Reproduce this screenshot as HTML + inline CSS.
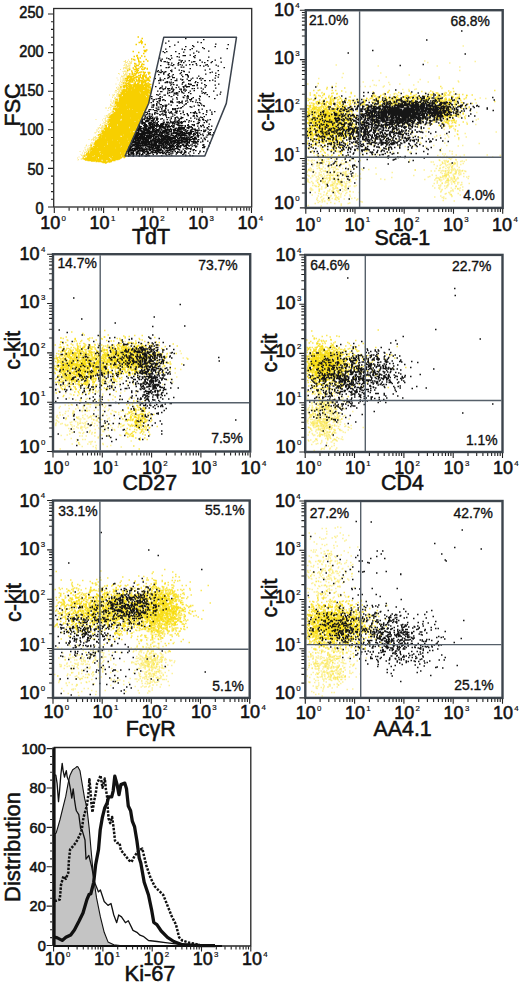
<!DOCTYPE html><html><head><meta charset="utf-8"><style>html,body{margin:0;padding:0;background:#fff;}svg{display:block;}text{font-family:"Liberation Sans", sans-serif;fill:#111;stroke:#111;stroke-width:0.55px;}</style></head><body><svg width="520" height="983" viewBox="0 0 520 983" font-size="17.5"><rect width="520" height="983" fill="#fff"/><g transform="scale(0.5)" fill="none"><path d="M275 74h3m5 3h3m-5 4h3m-4 3h3m0 0h3m-9 1h3m2 2h3m-14 2h3m15 0h3m-6 5h3m3 6h3m-8 1h3m-3 0h3m-1 0h3m-27 2h3m20 0h3m-1 0h3m-17 2h3m7 2h3m-16 4h3m-3 0h3m-4 1h3m7 0h3m-18 1h3m18 0h3m-17 2h3m-3 1h3m2 0h3m-20 2h3m10 0h3m-12 1h3m22 0h3m-26 1h3m5 1h3m15 1h3m-21 1h3m7 0h3m-12 1h3m0 0h3m-15 3h3m-2 1h3m-2 0h3m4 0h3m3 0h3m0 1h3m-7 1h3m-13 1h3m0 0h3m-10 1h3m-2 1h3m9 0h3m-14 1h3m6 0h3m2 0h3m-22 2h3m20 0h3m-2 0h3m-21 1h3m2 0h3m14 0h3m-23 1h3m6 0h3m2 0h3m3 0h3m-38 1h3m6 0h3m0 0h3m11 0h3m-33 2h3m15 0h3m0 0h3m-16 1h3m4 1h3m1 1h3m5 0h3m1 0h3m-25 1h3m6 0h3m3 0h3m5 0h3m0 0h3m3 0h3m-1 0h3m-25 1h3m20 0h3m-3 0h3m-38 1h3m1 0h3m1 0h3m13 0h3m6 0h3m-41 1h3m9 0h3m14 0h3m6 0h3m-36 1h3m-2 0h3m13 0h3m-14 1h3m14 0h3m2 0h3m-28 1h3m7 0h3m0 0h3m2 0h3m-2 0h3m-32 1h3m-1 0h3m27 0h3m-2 0h3m-38 1h3m3 0h3m-1 0h3m-3 0h3m0 0h3m4 0h3m11 0h3m9 0h3m-44 1h3m11 0h3m0 0h3m2 0h3m2 0h3m3 0h3m-2 0h3m-35 1h3m0 0h3m2 0h3m0 0h3m-2 0h3m5 0h3m8 0h3m-3 0h3m6 0h3m-49 1h3m-1 0h3m1 0h3m-3 0h3m6 0h3m6 0h3m2 0h3m0 0h3m3 0h3m1 0h3m-48 1h3m13 0h3m7 0h3m-3 0h3m-3 0h3m4 0h3m8 0h3m-44 1h3m4 0h3m0 0h3m0 0h3m8 0h3m5 0h3m8 0h3m-41 1h3m4 0h3m3 0h3m-3 0h3m12 0h3m5 0h3m-1 0h3m-38 1h3m-3 0h3m0 0h3m-3 0h3m-2 0h3m4 0h3m1 0h3m12 0h3m-2 0h3m-1 0h3m-46 1h3m-1 0h3m0 0h3m0 0h3m1 0h3m1 0h3m9 0h3m-2 0h3m0 0h3m1 0h3m0 0h3m-2 0h3m1 0h3m-1 0h3m-28 1h3m-1 0h3m-2 0h3m-1 0h3m9 0h3m6 0h3m-49 1h3m4 0h3m15 0h3m1 0h3m-2 0h3m0 0h3m2 0h3m-36 1h3m-1 0h3m0 0h3m-1 0h3m2 0h3m-3 0h3m5 0h3m1 0h3m-2 0h3m3 0h3m-6 1h3m1 0h3m-46 1h3m1 0h3m3 0h3m16 0h3m4 0h3m4 0h3m3 0h3m-44 1h3m-2 0h3m9 0h3m-2 0h3m-2 0h3m2 0h3m-3 0h3m-1 0h3m4 0h3m-2 0h3m5 0h3m-44 1h3m3 0h3m-2 0h3m-3 0h3m6 0h3m-1 0h3m3 0h3m-2 0h3m5 0h3m-3 0h3m10 0h3m-44 1h3m0 0h3m-3 0h3m5 0h3m0 0h3m0 0h3m-1 0h3m3 0h3m-2 0h3m3 0h3m-2 0h3m-3 0h3m-1 0h3m6 0h3m-52 1h3m3 0h3m-3 0h3m-2 0h3m1 0h3m-1 0h3m-3 0h3m-1 0h3m0 0h3m0 0h3m0 0h3m-2 0h3m-2 0h3m0 0h3m-2 0h3m0 0h3m5 0h3m-1 0h3m0 0h3m-52 1h3m1 0h3m-2 0h3m1 0h3m0 0h3m-2 0h3m5 0h3m-2 0h3m-2 0h3m-2 0h3m-2 0h3m-2 0h3m0 0h3m1 0h3m3 0h3m3 0h3m-2 0h3m-1 0h3m-53 1h3m-1 0h3m-2 0h3m0 0h3m6 0h3m2 0h3m-1 0h3m-3 0h3m9 0h3m-2 0h3m-3 0h3m6 0h3m-3 0h3m1 0h3m-3 0h3m-1 0h3m-47 1h3m1 0h3m-2 0h3m13 0h3m0 0h3m3 0h3m0 0h3m2 0h3m-53 1h3m3 0h3m9 0h3m-3 0h3m-2 0h3m-2 0h3m1 0h3m1 0h3m0 0h3m-2 0h3m3 0h3m0 0h3m7 0h3m-1 0h3m0 0h3m-3 0h3m-2 0h3m-1 0h3m-55 1h3m1 0h3m-2 0h3m-2 0h3m7 0h3m-1 0h3m-3 0h3m6 0h3m1 0h3m0 0h3m0 0h3m-1 0h3m-1 0h3m-2 0h3m4 0h3m0 0h3m-49 1h3m-2 0h3m4 0h3m6 0h3m-1 0h3m1 0h3m3 0h3m1 0h3m2 0h3m5 0h3m-50 1h3m1 0h3m-2 0h3m0 0h3m0 0h3m17 0h3m-1 0h3m-1 0h3m0 0h3m-40 1h3m0 0h3m3 0h3m1 0h3m-1 0h3m-2 0h3m-3 0h3m3 0h3m-2 0h3m-2 0h3m-2 0h3m0 0h3m-1 0h3m-1 0h3m6 0h3m2 0h3m-1 0h3m-59 1h3m0 0h3m1 0h3m5 0h3m5 0h3m1 0h3m0 0h3m4 0h3m-2 0h3m-2 0h3m0 0h3m-1 0h3m-3 0h3m0 0h3m-2 0h3m-2 0h3m-2 0h3m2 0h3m-3 0h3m-54 1h3m-1 0h3m2 0h3m-2 0h3m-3 0h3m4 0h3m4 0h3m-2 0h3m-1 0h3m-2 0h3m-3 0h3m4 0h3m-2 0h3m3 0h3m8 0h3m-54 1h3m-2 0h3m7 0h3m3 0h3m-3 0h3m-2 0h3m-3 0h3m0 0h3m0 0h3m2 0h3m-1 0h3m-3 0h3m-2 0h3m6 0h3m3 0h3m-2 0h3m-2 0h3m0 0h3m-61 1h3m0 0h3m0 0h3m-3 0h3m-2 0h3m-2 0h3m0 0h3m1 0h3m-1 0h3m0 0h3m1 0h3m0 0h3m2 0h3m-3 0h3m0 0h3m-3 0h3m-2 0h3m-2 0h3m-2 0h3m-1 0h3m5 0h3m-3 0h3m-2 0h3m0 0h3m-3 0h3m-3 0h3m1 0h3m-55 1h3m-1 0h3m1 0h3m-2 0h3m-3 0h3m-2 0h3m-1 0h3m5 0h3m2 0h3m1 0h3m7 0h3m-1 0h3m-1 0h3m0 0h3m-2 0h3m-2 0h3m-3 0h3m4 0h3m-58 1h3m-2 0h3m4 0h3m-2 0h3m2 0h3m-2 0h3m-2 0h3m-2 0h3m3 0h3m0 0h3m-3 0h3m5 0h3m-2 0h3m-2 0h3m-2 0h3m1 0h3m-3 0h3m5 0h3m3 0h3m-3 0h3m-60 1h3m1 0h3m2 0h3m-1 0h3m-2 0h3m7 0h3m0 0h3m-1 0h3m0 0h3m-3 0h3m-1 0h3m7 0h3m-2 0h3m0 0h3m-1 0h3m0 0h3m0 0h3m-59 1h3m7 0h3m0 0h3m-3 0h3m0 0h3m1 0h3m-1 0h3m-1 0h3m-1 0h3m-1 0h3m0 0h3m0 0h3m-1 0h3m3 0h3m-2 0h3m-3 0h3m-1 0h3m-2 0h3m4 0h3m-2 0h3m-2 0h3m1 0h3m-59 1h3m-2 0h3m-2 0h3m-2 0h3m0 0h3m4 0h3m-2 0h3m3 0h3m1 0h3m-1 0h3m-2 0h3m-2 0h3m-1 0h3m-3 0h3m-3 0h3m-1 0h3m3 0h3m4 0h3m-3 0h3m-2 0h3m-2 0h3m-2 0h3m4 0h3m-3 0h3m-61 1h3m-1 0h3m-2 0h3m0 0h3m-2 0h3m-2 0h3m-3 0h3m-3 0h3m-1 0h3m-2 0h3m-2 0h3m0 0h3m-1 0h3m-3 0h3m-2 0h3m0 0h3m-3 0h3m-1 0h3m-1 0h3m-1 0h3m-2 0h3m4 0h3m-2 0h3m-3 0h3m-1 0h3m1 0h3m-2 0h3m4 0h3m-2 0h3m-50 1h3m-2 0h3m-1 0h3m0 0h3m1 0h3m-2 0h3m1 0h3m3 0h3m-1 0h3m-2 0h3m-2 0h3m-3 0h3m-2 0h3m0 0h3m-1 0h3m-2 0h3m-3 0h3m0 0h3m-2 0h3m0 0h3m-2 0h3m-3 0h3m-2 0h3m-2 0h3m0 0h3m0 0h3m-59 1h3m-1 0h3m-1 0h3m-3 0h3m3 0h3m0 0h3m-2 0h3m-3 0h3m-2 0h3m-2 0h3m0 0h3m-1 0h3m-1 0h3m1 0h3m-1 0h3m-2 0h3m1 0h3m0 0h3m0 0h3m1 0h3m-2 0h3m-1 0h3m0 0h3m2 0h3m-3 0h3m0 0h3m-3 0h3m1 0h3m-64 1h3m5 0h3m-2 0h3m-2 0h3m0 0h3m0 0h3m0 0h3m-3 0h3m0 0h3m0 0h3m-3 0h3m-1 0h3m3 0h3m-3 0h3m-2 0h3m2 0h3m0 0h3m9 0h3m-1 0h3m-60 1h3m-3 0h3m-2 0h3m-1 0h3m4 0h3m-2 0h3m0 0h3m-3 0h3m-3 0h3m1 0h3m-2 0h3m4 0h3m-1 0h3m1 0h3m-1 0h3m-1 0h3m2 0h3m-2 0h3m-2 0h3m-3 0h3m-3 0h3m-3 0h3m-1 0h3m-2 0h3m2 0h3m3 0h3m0 0h3m-62 1h3m4 0h3m0 0h3m-1 0h3m1 0h3m-3 0h3m-2 0h3m1 0h3m-2 0h3m-2 0h3m-1 0h3m-3 0h3m-3 0h3m-2 0h3m-2 0h3m-1 0h3m-3 0h3m-3 0h3m-2 0h3m-1 0h3m0 0h3m-3 0h3m0 0h3m-3 0h3m4 0h3m-3 0h3m-1 0h3m1 0h3m3 0h3m1 0h3m-62 1h3m-2 0h3m-2 0h3m0 0h3m-1 0h3m-3 0h3m-2 0h3m4 0h3m-2 0h3m-1 0h3m3 0h3m1 0h3m-2 0h3m0 0h3m-3 0h3m-2 0h3m-2 0h3m1 0h3m-2 0h3m-2 0h3m-1 0h3m-3 0h3m1 0h3m-3 0h3m8 0h3m-61 1h3m-2 0h3m3 0h3m1 0h3m-1 0h3m-1 0h3m-1 0h3m-2 0h3m0 0h3m-2 0h3m-3 0h3m-1 0h3m0 0h3m-3 0h3m-2 0h3m-3 0h3m0 0h3m0 0h3m-3 0h3m-2 0h3m-1 0h3m-1 0h3m-3 0h3m1 0h3m-1 0h3m-1 0h3m-1 0h3m2 0h3m-2 0h3m-2 0h3m-3 0h3m-2 0h3m-2 0h3m-60 1h3m-1 0h3m3 0h3m-1 0h3m-2 0h3m-3 0h3m-3 0h3m-2 0h3m-2 0h3m-2 0h3m-2 0h3m2 0h3m0 0h3m-3 0h3m-1 0h3m-3 0h3m-2 0h3m-2 0h3m-1 0h3m-2 0h3m0 0h3m-3 0h3m-2 0h3m-1 0h3m-2 0h3m-3 0h3m-1 0h3m-2 0h3m-3 0h3m4 0h3m-3 0h3m1 0h3m1 0h3m-1 0h3m-62 1h3m-2 0h3m-3 0h3m-1 0h3m-3 0h3m-1 0h3m-2 0h3m2 0h3m-2 0h3m-3 0h3m-1 0h3m-2 0h3m-3 0h3m-1 0h3m-2 0h3m-3 0h3m0 0h3m-2 0h3m-2 0h3m-3 0h3m-1 0h3m2 0h3m-2 0h3m-2 0h3m-2 0h3m1 0h3m-3 0h3m-1 0h3m3 0h3m2 0h3m5 0h3m-3 0h3m-60 1h3m0 0h3m1 0h3m-3 0h3m0 0h3m-2 0h3m2 0h3m-3 0h3m-1 0h3m-1 0h3m-1 0h3m6 0h3m2 0h3m-3 0h3m-2 0h3m-1 0h3m-3 0h3m-2 0h3m-2 0h3m0 0h3m-3 0h3m-1 0h3m-2 0h3m0 0h3m-3 0h3m-2 0h3m-1 0h3m-3 0h3m-2 0h3m0 0h3m-68 1h3m4 0h3m-2 0h3m-1 0h3m5 0h3m-2 0h3m-2 0h3m1 0h3m-3 0h3m-2 0h3m1 0h3m-2 0h3m-2 0h3m-2 0h3m0 0h3m-3 0h3m-1 0h3m-3 0h3m-2 0h3m-1 0h3m-1 0h3m-3 0h3m-1 0h3m-3 0h3m0 0h3m-3 0h3m-2 0h3m-3 0h3m5 0h3m-3 0h3m0 0h3m-3 0h3m-1 0h3m-1 0h3m0 0h3m-67 1h3m4 0h3m-2 0h3m-1 0h3m0 0h3m-3 0h3m-1 0h3m-1 0h3m0 0h3m-1 0h3m-3 0h3m-2 0h3m-1 0h3m0 0h3m-1 0h3m-3 0h3m0 0h3m-1 0h3m10 0h3m-3 0h3m-1 0h3m-2 0h3m-3 0h3m-2 0h3m0 0h3m-3 0h3m-2 0h3m-2 0h3m-2 0h3m-3 0h3m-2 0h3m-2 0h3m1 0h3m-57 1h3m-2 0h3m-1 0h3m2 0h3m-3 0h3m-3 0h3m2 0h3m2 0h3m-2 0h3m-2 0h3m-2 0h3m4 0h3m1 0h3m-2 0h3m2 0h3m0 0h3m0 0h3m-1 0h3m-1 0h3m-1 0h3m0 0h3m-62 1h3m-1 0h3m-1 0h3m1 0h3m-2 0h3m-3 0h3m-1 0h3m-3 0h3m0 0h3m-3 0h3m-2 0h3m-1 0h3m-1 0h3m-2 0h3m6 0h3m3 0h3m-2 0h3m-1 0h3m0 0h3m-3 0h3m1 0h3m-2 0h3m-3 0h3m-2 0h3m-3 0h3m4 0h3m-3 0h3m-3 0h3m-2 0h3m-1 0h3m-58 1h3m1 0h3m-3 0h3m-2 0h3m-2 0h3m-1 0h3m-3 0h3m-2 0h3m-2 0h3m-2 0h3m-3 0h3m-2 0h3m-2 0h3m4 0h3m1 0h3m-2 0h3m-2 0h3m-3 0h3m1 0h3m-3 0h3m1 0h3m-2 0h3m-2 0h3m-3 0h3m-2 0h3m0 0h3m-3 0h3m-2 0h3m-3 0h3m0 0h3m-1 0h3m-2 0h3m-2 0h3m0 0h3m-3 0h3m-2 0h3m-1 0h3m-3 0h3m-66 1h3m0 0h3m1 0h3m-2 0h3m0 0h3m-2 0h3m1 0h3m-2 0h3m-3 0h3m0 0h3m-2 0h3m-2 0h3m-1 0h3m0 0h3m-1 0h3m-1 0h3m-3 0h3m-1 0h3m-1 0h3m-2 0h3m0 0h3m-2 0h3m1 0h3m0 0h3m0 0h3m4 0h3m3 0h3m-3 0h3m-2 0h3m-2 0h3m-63 1h3m-1 0h3m0 0h3m-3 0h3m-3 0h3m-2 0h3m-3 0h3m-3 0h3m1 0h3m-1 0h3m2 0h3m-3 0h3m-2 0h3m0 0h3m-1 0h3m-2 0h3m-2 0h3m-2 0h3m-1 0h3m-3 0h3m-2 0h3m-2 0h3m-3 0h3m-2 0h3m-1 0h3m-2 0h3m-2 0h3m-2 0h3m-3 0h3m0 0h3m-3 0h3m-2 0h3m-3 0h3m1 0h3m-3 0h3m-1 0h3m-2 0h3m0 0h3m-2 0h3m-3 0h3m-3 0h3m1 0h3m-3 0h3m-3 0h3m1 0h3m-1 0h3m-67 1h3m4 0h3m-2 0h3m-1 0h3m-1 0h3m-2 0h3m-2 0h3m-2 0h3m-2 0h3m-2 0h3m-1 0h3m0 0h3m-3 0h3m0 0h3m-3 0h3m-2 0h3m1 0h3m-1 0h3m-2 0h3m-1 0h3m-2 0h3m-2 0h3m-2 0h3m-1 0h3m-2 0h3m-1 0h3m-3 0h3m0 0h3m-2 0h3m-2 0h3m-3 0h3m-2 0h3m-3 0h3m0 0h3m1 0h3m3 0h3m-1 0h3m-3 0h3m-69 1h3m1 0h3m0 0h3m-2 0h3m-3 0h3m-1 0h3m-2 0h3m-3 0h3m-2 0h3m-2 0h3m2 0h3m0 0h3m-1 0h3m-2 0h3m-2 0h3m0 0h3m0 0h3m-1 0h3m-2 0h3m3 0h3m0 0h3m-3 0h3m-2 0h3m-2 0h3m-1 0h3m0 0h3m-3 0h3m-2 0h3m-2 0h3m-3 0h3m3 0h3m-3 0h3m-1 0h3m-2 0h3m0 0h3m-61 1h3m-3 0h3m1 0h3m-3 0h3m0 0h3m1 0h3m-2 0h3m-3 0h3m0 0h3m-1 0h3m-2 0h3m3 0h3m-1 0h3m-3 0h3m-1 0h3m-3 0h3m-1 0h3m-3 0h3m-1 0h3m2 0h3m-3 0h3m-2 0h3m1 0h3m1 0h3m0 0h3m-3 0h3m-1 0h3m-2 0h3m-3 0h3m-2 0h3m-3 0h3m-2 0h3m0 0h3m-2 0h3m-63 1h3m-2 0h3m0 0h3m1 0h3m-3 0h3m-2 0h3m-3 0h3m-2 0h3m-2 0h3m-2 0h3m-1 0h3m-2 0h3m-3 0h3m1 0h3m-1 0h3m-1 0h3m1 0h3m-3 0h3m-1 0h3m-2 0h3m-2 0h3m-2 0h3m-1 0h3m-3 0h3m-1 0h3m2 0h3m-3 0h3m-2 0h3m-2 0h3m1 0h3m-1 0h3m-3 0h3m-2 0h3m-2 0h3m0 0h3m-2 0h3m-2 0h3m-1 0h3m-1 0h3m-65 1h3m-1 0h3m-3 0h3m-3 0h3m6 0h3m-2 0h3m0 0h3m-3 0h3m-1 0h3m-3 0h3m1 0h3m-1 0h3m-2 0h3m-3 0h3m1 0h3m0 0h3m-3 0h3m1 0h3m0 0h3m5 0h3m-2 0h3m1 0h3m6 0h3m-57 1h3m-2 0h3m1 0h3m-2 0h3m1 0h3m-2 0h3m4 0h3m-1 0h3m-1 0h3m-2 0h3m-2 0h3m0 0h3m-1 0h3m-1 0h3m-1 0h3m-2 0h3m-3 0h3m-2 0h3m-3 0h3m-1 0h3m-3 0h3m-3 0h3m-1 0h3m2 0h3m-2 0h3m-1 0h3m-2 0h3m-2 0h3m2 0h3m-3 0h3m-60 1h3m-2 0h3m0 0h3m-3 0h3m-3 0h3m-1 0h3m0 0h3m-1 0h3m-3 0h3m-2 0h3m-1 0h3m-2 0h3m-2 0h3m0 0h3m-2 0h3m-3 0h3m-2 0h3m3 0h3m-3 0h3m-1 0h3m-2 0h3m-1 0h3m-2 0h3m-3 0h3m-2 0h3m-3 0h3m-2 0h3m1 0h3m0 0h3m-2 0h3m0 0h3m-2 0h3m3 0h3m0 0h3m-2 0h3m-66 1h3m1 0h3m-1 0h3m-2 0h3m-2 0h3m-2 0h3m-1 0h3m-3 0h3m-1 0h3m-3 0h3m-2 0h3m-1 0h3m-1 0h3m-2 0h3m2 0h3m-1 0h3m-3 0h3m-2 0h3m-1 0h3m-3 0h3m-2 0h3m-1 0h3m-1 0h3m-1 0h3m-2 0h3m-2 0h3m-1 0h3m-3 0h3m-2 0h3m-3 0h3m4 0h3m-2 0h3m-2 0h3m-3 0h3m-2 0h3m-3 0h3m2 0h3m-1 0h3m-57 1h3m-3 0h3m1 0h3m1 0h3m1 0h3m0 0h3m-2 0h3m-1 0h3m0 0h3m-2 0h3m-2 0h3m1 0h3m-2 0h3m0 0h3m-1 0h3m0 0h3m0 0h3m-2 0h3m0 0h3m-2 0h3m-3 0h3m-1 0h3m0 0h3m-2 0h3m-3 0h3m-2 0h3m0 0h3m-1 0h3m-2 0h3m-1 0h3m-58 1h3m-2 0h3m2 0h3m0 0h3m-3 0h3m0 0h3m0 0h3m-3 0h3m4 0h3m0 0h3m-2 0h3m-1 0h3m0 0h3m0 0h3m-2 0h3m-2 0h3m1 0h3m-1 0h3m-2 0h3m0 0h3m1 0h3m-1 0h3m-51 1h3m-2 0h3m-1 0h3m3 0h3m-2 0h3m-3 0h3m-2 0h3m-2 0h3m-3 0h3m-2 0h3m-2 0h3m-2 0h3m-2 0h3m-3 0h3m-2 0h3m-2 0h3m5 0h3m0 0h3m-1 0h3m-2 0h3m-3 0h3m-2 0h3m-2 0h3m-1 0h3m-1 0h3m-3 0h3m-1 0h3m7 0h3m-2 0h3m-69 1h3m0 0h3m-1 0h3m1 0h3m-2 0h3m-2 0h3m-3 0h3m0 0h3m1 0h3m-3 0h3m7 0h3m-2 0h3m-3 0h3m4 0h3m0 0h3m-1 0h3m-3 0h3m-2 0h3m1 0h3m-1 0h3m-3 0h3m-2 0h3m-1 0h3m-2 0h3m-3 0h3m-3 0h3m-1 0h3m-3 0h3m1 0h3m-2 0h3m-3 0h3m0 0h3m-3 0h3m-2 0h3m-2 0h3m-3 0h3m-67 1h3m0 0h3m-2 0h3m-2 0h3m-3 0h3m0 0h3m1 0h3m-2 0h3m-1 0h3m-3 0h3m-3 0h3m-1 0h3m-2 0h3m-3 0h3m-2 0h3m0 0h3m9 0h3m-3 0h3m4 0h3m-2 0h3m-3 0h3m-3 0h3m-1 0h3m1 0h3m-2 0h3m1 0h3m-1 0h3m-1 0h3m0 0h3m0 0h3m-2 0h3m-60 1h3m-1 0h3m0 0h3m-1 0h3m3 0h3m-2 0h3m1 0h3m11 0h3m-1 0h3m-2 0h3m7 0h3m-1 0h3m0 0h3m-3 0h3m-2 0h3m-3 0h3m-2 0h3m-2 0h3m-3 0h3m-2 0h3m0 0h3m-62 1h3m-2 0h3m2 0h3m-2 0h3m0 0h3m-2 0h3m-2 0h3m-1 0h3m-2 0h3m-3 0h3m-3 0h3m1 0h3m-2 0h3m-2 0h3m-3 0h3m1 0h3m-1 0h3m-3 0h3m0 0h3m-3 0h3m1 0h3m3 0h3m1 0h3m-3 0h3m0 0h3m-3 0h3m-2 0h3m-1 0h3m0 0h3m0 0h3m-60 1h3m-1 0h3m0 0h3m-2 0h3m-2 0h3m-2 0h3m-3 0h3m-2 0h3m-1 0h3m-2 0h3m2 0h3m-2 0h3m-2 0h3m-2 0h3m-2 0h3m-2 0h3m0 0h3m-3 0h3m-2 0h3m1 0h3m-3 0h3m-2 0h3m-1 0h3m-2 0h3m-1 0h3m0 0h3m-3 0h3m-2 0h3m-3 0h3m-2 0h3m-1 0h3m-2 0h3m-1 0h3m1 0h3m0 0h3m-1 0h3m-2 0h3m0 0h3m-3 0h3m-60 1h3m0 0h3m-1 0h3m-2 0h3m-1 0h3m-1 0h3m-2 0h3m0 0h3m-2 0h3m-2 0h3m0 0h3m0 0h3m0 0h3m-2 0h3m-1 0h3m-2 0h3m-1 0h3m-2 0h3m-2 0h3m-3 0h3m-2 0h3m-3 0h3m-3 0h3m0 0h3m-3 0h3m-2 0h3m-2 0h3m-3 0h3m1 0h3m-2 0h3m-3 0h3m-2 0h3m2 0h3m-1 0h3m1 0h3m-66 1h3m3 0h3m-2 0h3m0 0h3m-1 0h3m-1 0h3m-1 0h3m2 0h3m-3 0h3m-2 0h3m-3 0h3m-1 0h3m1 0h3m-1 0h3m2 0h3m-3 0h3m-2 0h3m-2 0h3m0 0h3m-1 0h3m0 0h3m-1 0h3m-1 0h3m1 0h3m-1 0h3m-2 0h3m-3 0h3m-3 0h3m-1 0h3m2 0h3m-58 1h3m-1 0h3m-2 0h3m-2 0h3m0 0h3m-2 0h3m-3 0h3m-2 0h3m-3 0h3m-2 0h3m0 0h3m-3 0h3m1 0h3m-2 0h3m-2 0h3m2 0h3m-2 0h3m-2 0h3m-1 0h3m-1 0h3m-3 0h3m-1 0h3m-2 0h3m-2 0h3m5 0h3m-1 0h3m1 0h3m4 0h3m-64 1h3m-2 0h3m-2 0h3m-2 0h3m0 0h3m-3 0h3m-3 0h3m-2 0h3m0 0h3m-2 0h3m-2 0h3m1 0h3m-3 0h3m-1 0h3m-3 0h3m-1 0h3m-3 0h3m-2 0h3m1 0h3m-1 0h3m-1 0h3m-1 0h3m0 0h3m-2 0h3m-3 0h3m1 0h3m1 0h3m3 0h3m-3 0h3m-2 0h3m-1 0h3m-1 0h3m-2 0h3m-3 0h3m-2 0h3m1 0h3m-58 1h3m-3 0h3m-1 0h3m0 0h3m1 0h3m-1 0h3m6 0h3m1 0h3m-2 0h3m-2 0h3m-2 0h3m2 0h3m0 0h3m-3 0h3m-2 0h3m-2 0h3m3 0h3m1 0h3m-1 0h3m1 0h3m-58 1h3m1 0h3m-1 0h3m2 0h3m0 0h3m-2 0h3m-3 0h3m0 0h3m-2 0h3m2 0h3m0 0h3m-3 0h3m-1 0h3m0 0h3m-1 0h3m-1 0h3m-1 0h3m2 0h3m-2 0h3m-3 0h3m-2 0h3m0 0h3m-1 0h3m0 0h3m-2 0h3m-3 0h3m-61 1h3m-3 0h3m-1 0h3m-2 0h3m-2 0h3m-2 0h3m-3 0h3m-1 0h3m-1 0h3m-2 0h3m1 0h3m1 0h3m-2 0h3m-1 0h3m-1 0h3m-1 0h3m-2 0h3m-3 0h3m-2 0h3m-2 0h3m-3 0h3m-3 0h3m0 0h3m3 0h3m-3 0h3m-3 0h3m-2 0h3m-2 0h3m-2 0h3m-1 0h3m-1 0h3m0 0h3m1 0h3m-2 0h3m-1 0h3m-2 0h3m-2 0h3m0 0h3m-64 1h3m2 0h3m-2 0h3m2 0h3m1 0h3m3 0h3m0 0h3m-1 0h3m-2 0h3m-1 0h3m-2 0h3m0 0h3m0 0h3m-3 0h3m0 0h3m-3 0h3m-2 0h3m0 0h3m-1 0h3m-2 0h3m1 0h3m0 0h3m-2 0h3m-1 0h3m0 0h3m0 0h3m-67 1h3m-2 0h3m-1 0h3m2 0h3m-1 0h3m-3 0h3m9 0h3m-1 0h3m-2 0h3m7 0h3m-2 0h3m0 0h3m-2 0h3m0 0h3m-3 0h3m-2 0h3m-1 0h3m-2 0h3m1 0h3m-2 0h3m1 0h3m-1 0h3m2 0h3m-3 0h3m-65 1h3m0 0h3m0 0h3m-2 0h3m-1 0h3m-3 0h3m-3 0h3m-3 0h3m0 0h3m-3 0h3m0 0h3m4 0h3m-1 0h3m-2 0h3m-3 0h3m0 0h3m0 0h3m-1 0h3m-1 0h3m-2 0h3m-3 0h3m-2 0h3m-1 0h3m-2 0h3m-1 0h3m-1 0h3m-2 0h3m-1 0h3m0 0h3m-1 0h3m-3 0h3m1 0h3m-3 0h3m1 0h3m-3 0h3m-66 1h3m1 0h3m0 0h3m2 0h3m-1 0h3m0 0h3m-1 0h3m-3 0h3m-2 0h3m-2 0h3m-2 0h3m-2 0h3m-2 0h3m-2 0h3m-1 0h3m0 0h3m-2 0h3m-3 0h3m6 0h3m0 0h3m-3 0h3m-3 0h3m-1 0h3m3 0h3m0 0h3m-1 0h3m-2 0h3m-61 1h3m4 0h3m0 0h3m1 0h3m-3 0h3m-2 0h3m-3 0h3m-2 0h3m-2 0h3m3 0h3m-2 0h3m-1 0h3m-1 0h3m-1 0h3m4 0h3m-3 0h3m-2 0h3m-3 0h3m-1 0h3m1 0h3m-2 0h3m-2 0h3m-3 0h3m0 0h3m-3 0h3m-2 0h3m0 0h3m-1 0h3m-3 0h3m0 0h3m-2 0h3m-3 0h3m-2 0h3m0 0h3m-3 0h3m-3 0h3m-1 0h3m-64 1h3m0 0h3m1 0h3m-3 0h3m-2 0h3m-2 0h3m-3 0h3m-1 0h3m1 0h3m-1 0h3m-3 0h3m0 0h3m1 0h3m2 0h3m-1 0h3m-3 0h3m-1 0h3m1 0h3m-2 0h3m-3 0h3m0 0h3m-1 0h3m-2 0h3m1 0h3m0 0h3m-3 0h3m-3 0h3m-2 0h3m-2 0h3m0 0h3m-65 1h3m-1 0h3m-2 0h3m-2 0h3m5 0h3m-3 0h3m-2 0h3m1 0h3m-3 0h3m-1 0h3m-2 0h3m-2 0h3m4 0h3m1 0h3m2 0h3m-2 0h3m-2 0h3m-2 0h3m-3 0h3m2 0h3m-3 0h3m-2 0h3m-2 0h3m1 0h3m2 0h3m-3 0h3m2 0h3m-2 0h3m-2 0h3m-3 0h3m-2 0h3m-1 0h3m-64 1h3m-2 0h3m3 0h3m-2 0h3m-2 0h3m-3 0h3m-3 0h3m-3 0h3m0 0h3m1 0h3m-2 0h3m-2 0h3m0 0h3m-1 0h3m-2 0h3m-3 0h3m-3 0h3m-1 0h3m5 0h3m-3 0h3m-1 0h3m-3 0h3m3 0h3m-3 0h3m-1 0h3m-3 0h3m-1 0h3m-2 0h3m-3 0h3m-1 0h3m-3 0h3m-2 0h3m-3 0h3m0 0h3m-1 0h3m-3 0h3m-2 0h3m0 0h3m-62 1h3m-3 0h3m-2 0h3m-2 0h3m-1 0h3m-2 0h3m-3 0h3m-2 0h3m-2 0h3m-1 0h3m-3 0h3m0 0h3m1 0h3m-2 0h3m3 0h3m0 0h3m1 0h3m-1 0h3m-1 0h3m-2 0h3m2 0h3m-3 0h3m-1 0h3m-3 0h3m-1 0h3m0 0h3m-1 0h3m-1 0h3m1 0h3m2 0h3m-64 1h3m-2 0h3m0 0h3m-3 0h3m-2 0h3m-3 0h3m0 0h3m-2 0h3m1 0h3m-3 0h3m-1 0h3m-1 0h3m-3 0h3m2 0h3m-1 0h3m0 0h3m-2 0h3m4 0h3m-1 0h3m0 0h3m-1 0h3m-2 0h3m-3 0h3m-2 0h3m-2 0h3m-1 0h3m-2 0h3m0 0h3m-3 0h3m-1 0h3m0 0h3m-63 1h3m-2 0h3m-2 0h3m-2 0h3m-1 0h3m-2 0h3m-2 0h3m-3 0h3m-1 0h3m-3 0h3m0 0h3m0 0h3m-2 0h3m-1 0h3m-2 0h3m-3 0h3m-1 0h3m3 0h3m0 0h3m2 0h3m6 0h3m0 0h3m0 0h3m-1 0h3m-3 0h3m0 0h3m-3 0h3m2 0h3m-3 0h3m-2 0h3m-61 1h3m2 0h3m-3 0h3m2 0h3m-3 0h3m-2 0h3m1 0h3m-2 0h3m-2 0h3m4 0h3m0 0h3m-2 0h3m-2 0h3m-2 0h3m-2 0h3m-3 0h3m-2 0h3m-1 0h3m-1 0h3m-2 0h3m2 0h3m-2 0h3m-2 0h3m-1 0h3m2 0h3m-2 0h3m-2 0h3m-3 0h3m5 0h3m-62 1h3m3 0h3m-3 0h3m0 0h3m-2 0h3m-2 0h3m-2 0h3m7 0h3m-2 0h3m-2 0h3m-3 0h3m-1 0h3m-1 0h3m2 0h3m-2 0h3m-1 0h3m0 0h3m2 0h3m-3 0h3m-2 0h3m-1 0h3m-2 0h3m0 0h3m-3 0h3m-3 0h3m1 0h3m-63 1h3m0 0h3m-2 0h3m-1 0h3m-2 0h3m-3 0h3m-1 0h3m0 0h3m-1 0h3m-2 0h3m-2 0h3m0 0h3m-2 0h3m1 0h3m-1 0h3m1 0h3m-3 0h3m2 0h3m2 0h3m0 0h3m0 0h3m-1 0h3m-2 0h3m-3 0h3m-3 0h3m2 0h3m-1 0h3m0 0h3m-57 1h3m-3 0h3m-2 0h3m-3 0h3m2 0h3m-2 0h3m1 0h3m-2 0h3m0 0h3m0 0h3m-1 0h3m-3 0h3m-2 0h3m-1 0h3m-3 0h3m-2 0h3m-2 0h3m-2 0h3m2 0h3m-2 0h3m-3 0h3m-3 0h3m-2 0h3m-2 0h3m1 0h3m-2 0h3m-3 0h3m-2 0h3m-3 0h3m-2 0h3m-2 0h3m-3 0h3m5 0h3m-2 0h3m1 0h3m-2 0h3m-66 1h3m1 0h3m-1 0h3m-1 0h3m-1 0h3m-3 0h3m1 0h3m4 0h3m-2 0h3m-3 0h3m-2 0h3m3 0h3m-2 0h3m-3 0h3m-1 0h3m-2 0h3m-1 0h3m0 0h3m-1 0h3m-3 0h3m0 0h3m-2 0h3m0 0h3m-1 0h3m-2 0h3m-2 0h3m4 0h3m0 0h3m-59 1h3m-3 0h3m-1 0h3m-3 0h3m-1 0h3m1 0h3m-2 0h3m-1 0h3m-3 0h3m1 0h3m-2 0h3m-3 0h3m0 0h3m-2 0h3m-1 0h3m0 0h3m0 0h3m1 0h3m1 0h3m-3 0h3m0 0h3m-3 0h3m-1 0h3m-2 0h3m-2 0h3m1 0h3m-1 0h3m-3 0h3m0 0h3m-3 0h3m-3 0h3m-3 0h3m-1 0h3m-55 1h3m0 0h3m-1 0h3m-3 0h3m0 0h3m-1 0h3m-2 0h3m-1 0h3m-1 0h3m-2 0h3m9 0h3m-2 0h3m-3 0h3m0 0h3m-2 0h3m-1 0h3m-2 0h3m-3 0h3m3 0h3m-2 0h3m-3 0h3m-1 0h3m-2 0h3m-3 0h3m5 0h3m-3 0h3m-62 1h3m-3 0h3m0 0h3m3 0h3m-1 0h3m-1 0h3m-3 0h3m-1 0h3m-3 0h3m-2 0h3m-3 0h3m-3 0h3m-3 0h3m-2 0h3m-2 0h3m-3 0h3m0 0h3m-1 0h3m-2 0h3m-2 0h3m-3 0h3m4 0h3m0 0h3m0 0h3m3 0h3m-3 0h3m2 0h3m-3 0h3m-3 0h3m-1 0h3m1 0h3m-2 0h3m-1 0h3m-3 0h3m-2 0h3m-60 1h3m-2 0h3m-3 0h3m-3 0h3m0 0h3m-1 0h3m-3 0h3m-2 0h3m-1 0h3m-1 0h3m-3 0h3m2 0h3m-2 0h3m-2 0h3m-3 0h3m-2 0h3m0 0h3m0 0h3m-1 0h3m-2 0h3m-2 0h3m-2 0h3m-2 0h3m2 0h3m-1 0h3m-2 0h3m-2 0h3m2 0h3m0 0h3m-2 0h3m-3 0h3m-3 0h3m-2 0h3m0 0h3m-2 0h3m-1 0h3m-2 0h3m-64 1h3m0 0h3m-3 0h3m4 0h3m-2 0h3m0 0h3m-2 0h3m-2 0h3m1 0h3m1 0h3m3 0h3m-1 0h3m-3 0h3m1 0h3m-2 0h3m2 0h3m-2 0h3m-2 0h3m-2 0h3m-3 0h3m-2 0h3m-1 0h3m-3 0h3m-2 0h3m-3 0h3m-2 0h3m0 0h3m-1 0h3m-2 0h3m-1 0h3m-56 1h3m-1 0h3m-2 0h3m-3 0h3m-2 0h3m-2 0h3m-2 0h3m-3 0h3m-1 0h3m7 0h3m-1 0h3m-2 0h3m-2 0h3m-1 0h3m0 0h3m-3 0h3m-1 0h3m-2 0h3m-2 0h3m-2 0h3m4 0h3m-2 0h3m-2 0h3m1 0h3m-3 0h3m-1 0h3m-2 0h3m-1 0h3m-2 0h3m-64 1h3m-2 0h3m3 0h3m-3 0h3m-1 0h3m-1 0h3m1 0h3m-2 0h3m-1 0h3m-2 0h3m-1 0h3m1 0h3m-3 0h3m-1 0h3m4 0h3m-2 0h3m-2 0h3m0 0h3m1 0h3m-2 0h3m-2 0h3m-1 0h3m-1 0h3m-2 0h3m0 0h3m-1 0h3m2 0h3m-2 0h3m-3 0h3m-3 0h3m-2 0h3m-2 0h3m-1 0h3m-61 1h3m-2 0h3m-2 0h3m0 0h3m-3 0h3m4 0h3m3 0h3m-1 0h3m-3 0h3m-1 0h3m-2 0h3m0 0h3m1 0h3m-3 0h3m-2 0h3m-3 0h3m1 0h3m-2 0h3m-1 0h3m0 0h3m-3 0h3m0 0h3m-1 0h3m-2 0h3m-3 0h3m-3 0h3m-2 0h3m-1 0h3m0 0h3m-2 0h3m0 0h3m-61 1h3m-2 0h3m-3 0h3m-2 0h3m-2 0h3m-2 0h3m-1 0h3m-2 0h3m1 0h3m-2 0h3m-1 0h3m1 0h3m-2 0h3m-2 0h3m0 0h3m-3 0h3m-3 0h3m-1 0h3m-2 0h3m-2 0h3m2 0h3m-1 0h3m-2 0h3m-2 0h3m0 0h3m3 0h3m-3 0h3m1 0h3m-2 0h3m-1 0h3m3 0h3m-2 0h3m-67 1h3m3 0h3m2 0h3m-2 0h3m-2 0h3m-2 0h3m-2 0h3m-3 0h3m-2 0h3m-3 0h3m-3 0h3m-1 0h3m-1 0h3m-3 0h3m-2 0h3m-2 0h3m-2 0h3m-2 0h3m1 0h3m-1 0h3m0 0h3m0 0h3m-2 0h3m1 0h3m-2 0h3m3 0h3m-3 0h3m1 0h3m-1 0h3m-1 0h3m-1 0h3m-2 0h3m-3 0h3m-3 0h3m-51 1h3m1 0h3m5 0h3m-1 0h3m0 0h3m-2 0h3m-2 0h3m-2 0h3m0 0h3m-2 0h3m-2 0h3m0 0h3m-1 0h3m7 0h3m-1 0h3m-53 1h3m-2 0h3m-1 0h3m4 0h3m-2 0h3m-3 0h3m-1 0h3m-3 0h3m-2 0h3m-2 0h3m0 0h3m0 0h3m0 0h3m-2 0h3m0 0h3m-3 0h3m-3 0h3m0 0h3m-3 0h3m-2 0h3m-3 0h3m-2 0h3m0 0h3m-2 0h3m-2 0h3m-2 0h3m-2 0h3m-2 0h3m1 0h3m-2 0h3m-3 0h3m-1 0h3m3 0h3m-2 0h3m-3 0h3m-2 0h3m-2 0h3m-3 0h3m-3 0h3m-1 0h3m-3 0h3m-68 1h3m0 0h3m-1 0h3m-3 0h3m-2 0h3m6 0h3m-1 0h3m2 0h3m-3 0h3m0 0h3m-2 0h3m1 0h3m1 0h3m7 0h3m6 0h3m0 0h3m-2 0h3m-1 0h3m2 0h3m-64 1h3m6 0h3m-1 0h3m-3 0h3m-1 0h3m0 0h3m-1 0h3m-3 0h3m1 0h3m-3 0h3m1 0h3m2 0h3m-1 0h3m-3 0h3m-1 0h3m0 0h3m-3 0h3m-3 0h3m0 0h3m-2 0h3m-3 0h3m1 0h3m-3 0h3m-2 0h3m-2 0h3m1 0h3m-1 0h3m-3 0h3m-3 0h3m-3 0h3m-2 0h3m-3 0h3m-2 0h3m0 0h3m-2 0h3m-65 1h3m-3 0h3m0 0h3m-3 0h3m0 0h3m0 0h3m-3 0h3m1 0h3m-2 0h3m-2 0h3m-2 0h3m-3 0h3m-2 0h3m-1 0h3m0 0h3m-2 0h3m-2 0h3m-2 0h3m1 0h3m-3 0h3m-2 0h3m0 0h3m-2 0h3m-3 0h3m-1 0h3m-2 0h3m0 0h3m0 0h3m-2 0h3m-2 0h3m-2 0h3m6 0h3m-3 0h3m-2 0h3m0 0h3m-1 0h3m-3 0h3m-63 1h3m-1 0h3m-2 0h3m-3 0h3m-3 0h3m1 0h3m-3 0h3m-3 0h3m0 0h3m0 0h3m-2 0h3m-2 0h3m-2 0h3m-2 0h3m-3 0h3m-3 0h3m-2 0h3m3 0h3m-3 0h3m-1 0h3m0 0h3m2 0h3m-3 0h3m-2 0h3m-1 0h3m-1 0h3m-1 0h3m-2 0h3m0 0h3m-2 0h3m1 0h3m2 0h3m-2 0h3m-3 0h3m-3 0h3m-3 0h3m0 0h3m-62 1h3m-1 0h3m-2 0h3m-3 0h3m0 0h3m-3 0h3m-1 0h3m-1 0h3m-3 0h3m0 0h3m3 0h3m-2 0h3m-3 0h3m-2 0h3m-1 0h3m6 0h3m2 0h3m-3 0h3m1 0h3m-2 0h3m-2 0h3m-1 0h3m0 0h3m-1 0h3m-2 0h3m-3 0h3m0 0h3m-2 0h3m-3 0h3m1 0h3m-3 0h3m-3 0h3m-2 0h3m-2 0h3m-71 1h3m-1 0h3m2 0h3m-3 0h3m-3 0h3m-1 0h3m-1 0h3m-2 0h3m-2 0h3m-3 0h3m-3 0h3m-2 0h3m-2 0h3m-2 0h3m-2 0h3m-3 0h3m-2 0h3m0 0h3m-3 0h3m-2 0h3m-1 0h3m0 0h3m-2 0h3m-3 0h3m-1 0h3m-2 0h3m-3 0h3m1 0h3m1 0h3m-1 0h3m-2 0h3m-2 0h3m1 0h3m-1 0h3m1 0h3m-1 0h3m-2 0h3m-3 0h3m0 0h3m-2 0h3m3 0h3m-3 0h3m-69 1h3m-3 0h3m2 0h3m-1 0h3m-3 0h3m0 0h3m-3 0h3m-1 0h3m-1 0h3m-2 0h3m0 0h3m0 0h3m-2 0h3m-1 0h3m-2 0h3m-1 0h3m-1 0h3m-2 0h3m-1 0h3m-3 0h3m-2 0h3m-2 0h3m0 0h3m-2 0h3m-2 0h3m-1 0h3m-2 0h3m-3 0h3m1 0h3m-2 0h3m0 0h3m1 0h3m-3 0h3m3 0h3m-62 1h3m-2 0h3m-2 0h3m-1 0h3m-1 0h3m-2 0h3m0 0h3m3 0h3m-3 0h3m-3 0h3m-2 0h3m-2 0h3m0 0h3m-2 0h3m-1 0h3m-1 0h3m-1 0h3m2 0h3m-2 0h3m0 0h3m-3 0h3m-3 0h3m0 0h3m-3 0h3m-3 0h3m-1 0h3m12 0h3m-3 0h3m-1 0h3m3 0h3m-67 1h3m-2 0h3m-1 0h3m1 0h3m-3 0h3m-1 0h3m-2 0h3m-1 0h3m-1 0h3m-2 0h3m0 0h3m0 0h3m-1 0h3m0 0h3m-2 0h3m-2 0h3m-2 0h3m-1 0h3m-1 0h3m6 0h3m-1 0h3m-1 0h3m1 0h3m-2 0h3m4 0h3m1 0h3m-1 0h3m-3 0h3m-3 0h3m-2 0h3m-64 1h3m-1 0h3m0 0h3m-3 0h3m1 0h3m-2 0h3m-3 0h3m-2 0h3m2 0h3m-1 0h3m-2 0h3m-2 0h3m-1 0h3m-2 0h3m-2 0h3m-2 0h3m0 0h3m4 0h3m-2 0h3m-2 0h3m-2 0h3m-3 0h3m-2 0h3m-1 0h3m-1 0h3m-2 0h3m0 0h3m-1 0h3m-3 0h3m1 0h3m-1 0h3m-2 0h3m-1 0h3m-1 0h3m-69 1h3m0 0h3m-1 0h3m-2 0h3m-2 0h3m-1 0h3m-2 0h3m-2 0h3m-2 0h3m-1 0h3m-2 0h3m-1 0h3m-2 0h3m4 0h3m-2 0h3m-2 0h3m-1 0h3m0 0h3m-1 0h3m-1 0h3m-2 0h3m-2 0h3m-2 0h3m-3 0h3m0 0h3m-1 0h3m-1 0h3m-1 0h3m-2 0h3m0 0h3m0 0h3m-2 0h3m-1 0h3m-3 0h3m-2 0h3m-3 0h3m-2 0h3m-3 0h3m2 0h3m-65 1h3m2 0h3m5 0h3m-2 0h3m0 0h3m-1 0h3m-3 0h3m-3 0h3m0 0h3m-2 0h3m-2 0h3m-2 0h3m1 0h3m-3 0h3m-3 0h3m-2 0h3m-3 0h3m-1 0h3m-1 0h3m-2 0h3m-3 0h3m3 0h3m-1 0h3m-1 0h3m-3 0h3m-2 0h3m1 0h3m-2 0h3m-2 0h3m-1 0h3m0 0h3m-3 0h3m-2 0h3m-2 0h3m-2 0h3m-2 0h3m-3 0h3m-1 0h3m-74 1h3m-1 0h3m7 0h3m-2 0h3m2 0h3m-3 0h3m-2 0h3m-3 0h3m-1 0h3m2 0h3m-2 0h3m-1 0h3m-3 0h3m-1 0h3m-2 0h3m-1 0h3m0 0h3m-3 0h3m-2 0h3m-3 0h3m-1 0h3m-2 0h3m-2 0h3m-1 0h3m-2 0h3m-2 0h3m2 0h3m-1 0h3m-3 0h3m-1 0h3m-3 0h3m-2 0h3m-1 0h3m5 0h3m-71 1h3m1 0h3m2 0h3m-1 0h3m-2 0h3m-1 0h3m-1 0h3m-3 0h3m-2 0h3m-2 0h3m2 0h3m-2 0h3m1 0h3m-1 0h3m-3 0h3m-1 0h3m-1 0h3m-1 0h3m-2 0h3m-2 0h3m0 0h3m-1 0h3m-1 0h3m-2 0h3m-3 0h3m-1 0h3m1 0h3m2 0h3m-1 0h3m-3 0h3m-2 0h3m-2 0h3m-3 0h3m-2 0h3m-1 0h3m-3 0h3m4 0h3m-66 1h3m-2 0h3m-3 0h3m0 0h3m-2 0h3m-3 0h3m-3 0h3m-2 0h3m-2 0h3m-3 0h3m2 0h3m-3 0h3m2 0h3m-3 0h3m-1 0h3m-1 0h3m-3 0h3m-3 0h3m-2 0h3m2 0h3m-3 0h3m0 0h3m-3 0h3m-2 0h3m-1 0h3m-2 0h3m2 0h3m-3 0h3m-3 0h3m-2 0h3m2 0h3m-3 0h3m-3 0h3m-3 0h3m0 0h3m-2 0h3m-1 0h3m-2 0h3m-3 0h3m-3 0h3m0 0h3m-3 0h3m0 0h3m-2 0h3m-2 0h3m-2 0h3m-1 0h3m-3 0h3m-70 1h3m-1 0h3m-3 0h3m0 0h3m-3 0h3m4 0h3m0 0h3m-2 0h3m0 0h3m-3 0h3m-2 0h3m0 0h3m-1 0h3m-3 0h3m-1 0h3m-2 0h3m0 0h3m-2 0h3m-2 0h3m-3 0h3m0 0h3m-2 0h3m-2 0h3m-3 0h3m4 0h3m-2 0h3m-2 0h3m-1 0h3m-2 0h3m-3 0h3m-3 0h3m-2 0h3m-2 0h3m-3 0h3m-1 0h3m0 0h3m0 0h3m-2 0h3m-1 0h3m-3 0h3m-3 0h3m-2 0h3m-3 0h3m-1 0h3m-3 0h3m-2 0h3m-67 1h3m0 0h3m3 0h3m-2 0h3m0 0h3m-2 0h3m-3 0h3m-3 0h3m0 0h3m-2 0h3m-1 0h3m-3 0h3m0 0h3m-1 0h3m-2 0h3m-2 0h3m2 0h3m-1 0h3m-2 0h3m-3 0h3m-3 0h3m3 0h3m-3 0h3m-1 0h3m-2 0h3m-1 0h3m-2 0h3m-2 0h3m3 0h3m-2 0h3m-3 0h3m-3 0h3m-2 0h3m1 0h3m-2 0h3m-2 0h3m-2 0h3m-3 0h3m-71 1h3m-2 0h3m3 0h3m1 0h3m-3 0h3m0 0h3m0 0h3m-2 0h3m-2 0h3m-3 0h3m-2 0h3m-1 0h3m-2 0h3m-1 0h3m-3 0h3m-2 0h3m-3 0h3m-1 0h3m-2 0h3m-1 0h3m4 0h3m-3 0h3m-2 0h3m-2 0h3m4 0h3m3 0h3m-3 0h3m-1 0h3m-1 0h3m-2 0h3m-2 0h3m-2 0h3m-2 0h3m-3 0h3m0 0h3m-2 0h3m-3 0h3m-3 0h3m-2 0h3m-2 0h3m-71 1h3m-1 0h3m-3 0h3m1 0h3m5 0h3m1 0h3m-2 0h3m-2 0h3m-2 0h3m-1 0h3m-3 0h3m-2 0h3m-3 0h3m-2 0h3m0 0h3m-3 0h3m-2 0h3m-1 0h3m-3 0h3m-3 0h3m1 0h3m-2 0h3m0 0h3m-2 0h3m-2 0h3m-2 0h3m-1 0h3m1 0h3m-1 0h3m0 0h3m-1 0h3m-2 0h3m-1 0h3m1 0h3m0 0h3m-64 1h3m-1 0h3m-2 0h3m-2 0h3m-1 0h3m2 0h3m-2 0h3m-3 0h3m2 0h3m-3 0h3m-2 0h3m-1 0h3m-1 0h3m-2 0h3m-2 0h3m-3 0h3m0 0h3m-2 0h3m-2 0h3m-1 0h3m-3 0h3m-2 0h3m-2 0h3m2 0h3m-3 0h3m-1 0h3m-1 0h3m-1 0h3m-2 0h3m-2 0h3m-3 0h3m0 0h3m-1 0h3m3 0h3m-1 0h3m-3 0h3m-2 0h3m1 0h3m-70 1h3m-3 0h3m0 0h3m1 0h3m-3 0h3m-2 0h3m-2 0h3m3 0h3m-3 0h3m-3 0h3m-1 0h3m-1 0h3m-1 0h3m-3 0h3m-2 0h3m-3 0h3m0 0h3m-2 0h3m0 0h3m-1 0h3m-2 0h3m3 0h3m0 0h3m-2 0h3m0 0h3m-1 0h3m2 0h3m-2 0h3m1 0h3m-3 0h3m2 0h3m-2 0h3m-2 0h3m-3 0h3m0 0h3m-69 1h3m-1 0h3m0 0h3m-2 0h3m-3 0h3m-3 0h3m1 0h3m0 0h3m-1 0h3m-3 0h3m-2 0h3m-1 0h3m-2 0h3m-3 0h3m-1 0h3m-3 0h3m-2 0h3m-2 0h3m-2 0h3m-1 0h3m-3 0h3m2 0h3m0 0h3m-2 0h3m1 0h3m-1 0h3m0 0h3m-1 0h3m-2 0h3m-1 0h3m-3 0h3m-3 0h3m0 0h3m-58 1h3m-1 0h3m-2 0h3m0 0h3m-3 0h3m-2 0h3m-3 0h3m-1 0h3m-3 0h3m1 0h3m-2 0h3m-1 0h3m5 0h3m2 0h3m0 0h3m1 0h3m-2 0h3m3 0h3m-3 0h3m-2 0h3m1 0h3m3 0h3m5 0h3m2 0h3m-3 0h3m-72 1h3m4 0h3m-2 0h3m-1 0h3m-2 0h3m0 0h3m-2 0h3m-2 0h3m-2 0h3m0 0h3m-2 0h3m-2 0h3m-2 0h3m-1 0h3m3 0h3m9 0h3m-1 0h3m-2 0h3m-2 0h3m-1 0h3m0 0h3m2 0h3m0 0h3m-1 0h3m-2 0h3m-1 0h3m0 0h3m-71 1h3m-2 0h3m-2 0h3m-3 0h3m-1 0h3m0 0h3m1 0h3m-3 0h3m-3 0h3m-2 0h3m-3 0h3m0 0h3m-1 0h3m1 0h3m-2 0h3m-2 0h3m0 0h3m-2 0h3m1 0h3m-3 0h3m3 0h3m2 0h3m4 0h3m-2 0h3m1 0h3m-2 0h3m-3 0h3m2 0h3m-3 0h3m-1 0h3m-1 0h3m0 0h3m-2 0h3m-73 1h3m-3 0h3m-2 0h3m3 0h3m-2 0h3m-2 0h3m-2 0h3m0 0h3m-1 0h3m-3 0h3m-2 0h3m2 0h3m-2 0h3m-1 0h3m-2 0h3m-3 0h3m-1 0h3m-2 0h3m-2 0h3m-1 0h3m-3 0h3m-3 0h3m-2 0h3m-3 0h3m-2 0h3m-3 0h3m-3 0h3m-1 0h3m-2 0h3m-2 0h3m-1 0h3m1 0h3m-2 0h3m0 0h3m3 0h3m-2 0h3m-2 0h3m0 0h3m-2 0h3m0 0h3m1 0h3m-3 0h3m-2 0h3m-3 0h3m-2 0h3m-2 0h3m-2 0h3m-75 1h3m12 0h3m-2 0h3m-2 0h3m-2 0h3m-2 0h3m-1 0h3m2 0h3m4 0h3m0 0h3m-2 0h3m-3 0h3m-1 0h3m-2 0h3m-1 0h3m-1 0h3m-3 0h3m-1 0h3m2 0h3m0 0h3m1 0h3m-3 0h3m-3 0h3m2 0h3m-2 0h3m2 0h3m-2 0h3m-2 0h3m-73 1h3m-3 0h3m-1 0h3m-2 0h3m-2 0h3m-2 0h3m0 0h3m-2 0h3m-1 0h3m-1 0h3m-2 0h3m1 0h3m-2 0h3m-2 0h3m2 0h3m0 0h3m-2 0h3m-1 0h3m-3 0h3m-2 0h3m-3 0h3m0 0h3m-3 0h3m1 0h3m0 0h3m-2 0h3m1 0h3m0 0h3m-2 0h3m3 0h3m-3 0h3m-1 0h3m-2 0h3m-2 0h3m-3 0h3m-2 0h3m-2 0h3m-3 0h3m1 0h3m0 0h3m-74 1h3m-2 0h3m0 0h3m-2 0h3m4 0h3m0 0h3m0 0h3m-3 0h3m-3 0h3m0 0h3m1 0h3m-3 0h3m-2 0h3m-3 0h3m-2 0h3m-2 0h3m0 0h3m-2 0h3m-2 0h3m-1 0h3m-2 0h3m2 0h3m-1 0h3m0 0h3m-3 0h3m-3 0h3m1 0h3m-1 0h3m0 0h3m1 0h3m0 0h3m-1 0h3m-2 0h3m0 0h3m-2 0h3m-2 0h3m-74 1h3m-3 0h3m2 0h3m-3 0h3m-2 0h3m-3 0h3m7 0h3m-2 0h3m-1 0h3m-1 0h3m-2 0h3m-2 0h3m-3 0h3m-3 0h3m1 0h3m-1 0h3m-1 0h3m1 0h3m-2 0h3m-1 0h3m-3 0h3m-2 0h3m-3 0h3m-2 0h3m0 0h3m-2 0h3m-2 0h3m-3 0h3m5 0h3m-2 0h3m-3 0h3m-3 0h3m-1 0h3m-2 0h3m-2 0h3m-1 0h3m-3 0h3m1 0h3m4 0h3m-73 1h3m-1 0h3m-1 0h3m-1 0h3m-1 0h3m-1 0h3m-3 0h3m-1 0h3m0 0h3m-2 0h3m1 0h3m7 0h3m0 0h3m-2 0h3m-1 0h3m-2 0h3m-3 0h3m-2 0h3m-2 0h3m-2 0h3m-2 0h3m-3 0h3m2 0h3m3 0h3m-1 0h3m-2 0h3m-2 0h3m-3 0h3m3 0h3m-3 0h3m-2 0h3m-2 0h3m-2 0h3m0 0h3m-3 0h3m-2 0h3m-74 1h3m1 0h3m-1 0h3m-3 0h3m-3 0h3m-2 0h3m2 0h3m-2 0h3m-1 0h3m-2 0h3m1 0h3m-1 0h3m-1 0h3m4 0h3m-1 0h3m8 0h3m-3 0h3m-2 0h3m-1 0h3m0 0h3m0 0h3m-2 0h3m0 0h3m-3 0h3m-1 0h3m2 0h3m-2 0h3m-2 0h3m-2 0h3m-1 0h3m-1 0h3m-2 0h3m-74 1h3m-3 0h3m-1 0h3m-2 0h3m-2 0h3m0 0h3m2 0h3m-1 0h3m0 0h3m-2 0h3m-2 0h3m5 0h3m-2 0h3m0 0h3m-3 0h3m-1 0h3m-1 0h3m-1 0h3m-3 0h3m0 0h3m-2 0h3m-3 0h3m-3 0h3m1 0h3m6 0h3m-3 0h3m-2 0h3m-2 0h3m0 0h3m-2 0h3m3 0h3m-3 0h3m-2 0h3m-3 0h3m-3 0h3m0 0h3m-73 1h3m1 0h3m-2 0h3m-2 0h3m-3 0h3m-3 0h3m-2 0h3m0 0h3m1 0h3m-3 0h3m5 0h3m-3 0h3m-2 0h3m3 0h3m-2 0h3m-3 0h3m-2 0h3m-3 0h3m-3 0h3m-2 0h3m-1 0h3m0 0h3m-3 0h3m2 0h3m1 0h3m-2 0h3m-3 0h3m1 0h3m0 0h3m-1 0h3m-2 0h3m-2 0h3m-3 0h3m-2 0h3m-3 0h3m-2 0h3m-3 0h3m0 0h3m-2 0h3m2 0h3m-80 1h3m7 0h3m1 0h3m2 0h3m-1 0h3m-2 0h3m-1 0h3m-2 0h3m1 0h3m-3 0h3m1 0h3m-2 0h3m3 0h3m2 0h3m-1 0h3m0 0h3m-2 0h3m0 0h3m0 0h3m-2 0h3m6 0h3m-2 0h3m-3 0h3m0 0h3m-3 0h3m-2 0h3m-3 0h3m2 0h3m-72 1h3m-1 0h3m-2 0h3m-2 0h3m6 0h3m-2 0h3m3 0h3m-3 0h3m-3 0h3m3 0h3m1 0h3m2 0h3m-2 0h3m2 0h3m-1 0h3m-2 0h3m2 0h3m-3 0h3m-2 0h3m-3 0h3m1 0h3m0 0h3m-2 0h3m-3 0h3m1 0h3m-3 0h3m2 0h3m-2 0h3m-2 0h3m-75 1h3m0 0h3m-2 0h3m2 0h3m-2 0h3m-2 0h3m2 0h3m-2 0h3m5 0h3m-3 0h3m0 0h3m1 0h3m-2 0h3m-3 0h3m-3 0h3m-1 0h3m-3 0h3m1 0h3m-3 0h3m1 0h3m-2 0h3m-3 0h3m-3 0h3m-1 0h3m-2 0h3m-3 0h3m-2 0h3m1 0h3m4 0h3m-1 0h3m-2 0h3m-1 0h3m-2 0h3m-2 0h3m0 0h3m-2 0h3m-3 0h3m-2 0h3m-71 1h3m-2 0h3m-1 0h3m-3 0h3m1 0h3m0 0h3m-2 0h3m-1 0h3m-2 0h3m-2 0h3m-2 0h3m2 0h3m-1 0h3m-2 0h3m-3 0h3m-2 0h3m-2 0h3m-3 0h3m-2 0h3m-1 0h3m-3 0h3m0 0h3m4 0h3m-1 0h3m0 0h3m-2 0h3m-1 0h3m-2 0h3m3 0h3m-2 0h3m-3 0h3m-2 0h3m-3 0h3m-2 0h3m-3 0h3m-1 0h3m-3 0h3m-1 0h3m0 0h3m-3 0h3m-3 0h3m-68 1h3m-2 0h3m4 0h3m-2 0h3m-1 0h3m-1 0h3m2 0h3m-3 0h3m-2 0h3m-1 0h3m-3 0h3m1 0h3m-2 0h3m-3 0h3m1 0h3m-1 0h3m1 0h3m-2 0h3m-3 0h3m-3 0h3m-1 0h3m-2 0h3m1 0h3m1 0h3m-1 0h3m-3 0h3m1 0h3m-1 0h3m1 0h3m4 0h3m-77 1h3m0 0h3m1 0h3m-1 0h3m-1 0h3m-3 0h3m1 0h3m4 0h3m-2 0h3m-1 0h3m-2 0h3m4 0h3m8 0h3m-2 0h3m-1 0h3m-3 0h3m7 0h3m-2 0h3m-2 0h3m8 0h3m-2 0h3m-70 1h3m0 0h3m-2 0h3m-2 0h3m-2 0h3m0 0h3m3 0h3m-2 0h3m2 0h3m-3 0h3m-3 0h3m-2 0h3m0 0h3m1 0h3m-3 0h3m0 0h3m-2 0h3m-2 0h3m0 0h3m-2 0h3m0 0h3m-1 0h3m1 0h3m-3 0h3m-3 0h3m-2 0h3m-3 0h3m3 0h3m-2 0h3m-3 0h3m-2 0h3m0 0h3m-2 0h3m-2 0h3m-3 0h3m-1 0h3m-3 0h3m-2 0h3m0 0h3m-1 0h3m-2 0h3m-76 1h3m-1 0h3m-3 0h3m-1 0h3m-2 0h3m-2 0h3m-2 0h3m-2 0h3m-3 0h3m-3 0h3m-1 0h3m-3 0h3m-1 0h3m0 0h3m-3 0h3m0 0h3m-2 0h3m-1 0h3m-2 0h3m2 0h3m-2 0h3m-2 0h3m-1 0h3m-2 0h3m-2 0h3m0 0h3m-2 0h3m-1 0h3m-1 0h3m-3 0h3m1 0h3m-1 0h3m0 0h3m1 0h3m0 0h3m2 0h3m-2 0h3m-1 0h3m-1 0h3m-2 0h3m-2 0h3m-1 0h3m-2 0h3m-76 1h3m6 0h3m0 0h3m-2 0h3m-1 0h3m3 0h3m2 0h3m-3 0h3m-2 0h3m0 0h3m-2 0h3m-3 0h3m-2 0h3m-1 0h3m0 0h3m2 0h3m-2 0h3m1 0h3m-1 0h3m-1 0h3m4 0h3m0 0h3m-1 0h3m1 0h3m-3 0h3m-2 0h3m2 0h3m-78 1h3m4 0h3m-2 0h3m-2 0h3m3 0h3m-2 0h3m-2 0h3m-1 0h3m0 0h3m-2 0h3m-2 0h3m2 0h3m-3 0h3m0 0h3m0 0h3m-2 0h3m-2 0h3m-3 0h3m-2 0h3m-2 0h3m0 0h3m-1 0h3m-3 0h3m-1 0h3m-1 0h3m-2 0h3m-3 0h3m-3 0h3m1 0h3m-2 0h3m4 0h3m-2 0h3m-1 0h3m-3 0h3m-2 0h3m-2 0h3m-2 0h3m-2 0h3m1 0h3m0 0h3m-74 1h3m0 0h3m-3 0h3m2 0h3m-2 0h3m-1 0h3m0 0h3m-2 0h3m-3 0h3m1 0h3m0 0h3m3 0h3m-2 0h3m-2 0h3m0 0h3m-2 0h3m-3 0h3m-2 0h3m-3 0h3m-1 0h3m-2 0h3m-3 0h3m-2 0h3m0 0h3m-1 0h3m-2 0h3m-2 0h3m-3 0h3m1 0h3m0 0h3m-2 0h3m-1 0h3m-1 0h3m2 0h3m-1 0h3m-1 0h3m-70 1h3m-2 0h3m-2 0h3m-3 0h3m-1 0h3m-2 0h3m-3 0h3m-3 0h3m-2 0h3m-3 0h3m-3 0h3m-1 0h3m-2 0h3m6 0h3m-3 0h3m1 0h3m3 0h3m1 0h3m-2 0h3m-3 0h3m-2 0h3m-1 0h3m0 0h3m-2 0h3m3 0h3m-2 0h3m-1 0h3m-2 0h3m-3 0h3m-2 0h3m-3 0h3m1 0h3m-2 0h3m-1 0h3m-1 0h3m2 0h3m-1 0h3m0 0h3m-2 0h3m-81 1h3m2 0h3m-3 0h3m-2 0h3m-1 0h3m-2 0h3m-2 0h3m-1 0h3m-3 0h3m-2 0h3m3 0h3m-3 0h3m-2 0h3m2 0h3m-1 0h3m2 0h3m-2 0h3m-2 0h3m-3 0h3m-1 0h3m-3 0h3m-2 0h3m-2 0h3m3 0h3m-3 0h3m-2 0h3m-2 0h3m-3 0h3m-1 0h3m1 0h3m-2 0h3m3 0h3m-1 0h3m-1 0h3m-2 0h3m-2 0h3m-2 0h3m3 0h3m-71 1h3m-3 0h3m-2 0h3m3 0h3m-2 0h3m-2 0h3m1 0h3m5 0h3m1 0h3m5 0h3m-3 0h3m-1 0h3m-3 0h3m-2 0h3m4 0h3m0 0h3m0 0h3m0 0h3m-1 0h3m0 0h3m-1 0h3m0 0h3m0 0h3m1 0h3m0 0h3m-73 1h3m-2 0h3m1 0h3m0 0h3m-2 0h3m-2 0h3m-3 0h3m-2 0h3m-2 0h3m3 0h3m0 0h3m-1 0h3m-1 0h3m-2 0h3m-1 0h3m-2 0h3m-2 0h3m-3 0h3m-1 0h3m-1 0h3m0 0h3m-1 0h3m-3 0h3m-2 0h3m-1 0h3m0 0h3m6 0h3m-2 0h3m3 0h3m-2 0h3m-72 1h3m1 0h3m-2 0h3m-1 0h3m-1 0h3m-3 0h3m-3 0h3m4 0h3m-3 0h3m-3 0h3m-2 0h3m-1 0h3m-2 0h3m-2 0h3m-2 0h3m2 0h3m0 0h3m-1 0h3m-3 0h3m-2 0h3m-2 0h3m-3 0h3m2 0h3m-3 0h3m-1 0h3m3 0h3m-3 0h3m-2 0h3m-2 0h3m-2 0h3m-2 0h3m-2 0h3m-3 0h3m-2 0h3m-3 0h3m-2 0h3m-3 0h3m0 0h3m-2 0h3m-2 0h3m-1 0h3m-2 0h3m4 0h3m-1 0h3m1 0h3m-3 0h3m-1 0h3m-80 1h3m1 0h3m-1 0h3m0 0h3m0 0h3m-3 0h3m0 0h3m-3 0h3m-2 0h3m-1 0h3m-3 0h3m2 0h3m1 0h3m-1 0h3m0 0h3m-2 0h3m0 0h3m-1 0h3m-2 0h3m-2 0h3m-2 0h3m2 0h3m-1 0h3m-2 0h3m-2 0h3m-2 0h3m-1 0h3m2 0h3m1 0h3m2 0h3m0 0h3m-3 0h3m3 0h3m-3 0h3m-82 1h3m-1 0h3m-2 0h3m0 0h3m2 0h3m-1 0h3m22 0h3m-3 0h3m0 0h3m-1 0h3m-3 0h3m-2 0h3m-2 0h3m-1 0h3m-2 0h3m-2 0h3m-1 0h3m-1 0h3m-3 0h3m-3 0h3m-2 0h3m-2 0h3m0 0h3m7 0h3m-3 0h3m-2 0h3m0 0h3m-2 0h3m-2 0h3m-3 0h3m-1 0h3m-75 1h3m-3 0h3m-1 0h3m-1 0h3m2 0h3m-2 0h3m-1 0h3m0 0h3m-2 0h3m1 0h3m-3 0h3m3 0h3m1 0h3m-1 0h3m0 0h3m-3 0h3m-1 0h3m0 0h3m-3 0h3m-3 0h3m-1 0h3m-2 0h3m1 0h3m-2 0h3m-1 0h3m1 0h3m-3 0h3m2 0h3m0 0h3m-3 0h3m-1 0h3m-3 0h3m4 0h3m-3 0h3m-1 0h3m-3 0h3m-81 1h3m-2 0h3m7 0h3m-3 0h3m0 0h3m-3 0h3m3 0h3m-2 0h3m-2 0h3m-3 0h3m-1 0h3m-3 0h3m1 0h3m-1 0h3m7 0h3m-2 0h3m-2 0h3m-3 0h3m0 0h3m-3 0h3m2 0h3m-3 0h3m-2 0h3m0 0h3m-3 0h3m0 0h3m-3 0h3m-2 0h3m-1 0h3m-3 0h3m-3 0h3m-2 0h3m-2 0h3m-1 0h3m-2 0h3m-2 0h3m1 0h3m-2 0h3m-3 0h3m-2 0h3m-1 0h3m-3 0h3m-1 0h3m-3 0h3m-3 0h3m-1 0h3m-2 0h3m-74 1h3m3 0h3m1 0h3m0 0h3m-2 0h3m-1 0h3m-1 0h3m-3 0h3m0 0h3m-1 0h3m-3 0h3m-1 0h3m0 0h3m-3 0h3m-2 0h3m-1 0h3m-3 0h3m-1 0h3m-2 0h3m-2 0h3m-1 0h3m-2 0h3m0 0h3m-1 0h3m-2 0h3m2 0h3m3 0h3m-2 0h3m-1 0h3m-3 0h3m4 0h3m-3 0h3m-1 0h3m-82 1h3m4 0h3m0 0h3m-3 0h3m-2 0h3m-2 0h3m-1 0h3m5 0h3m-3 0h3m-1 0h3m7 0h3m3 0h3m-3 0h3m0 0h3m2 0h3m-2 0h3m-3 0h3m-1 0h3m-2 0h3m-2 0h3m3 0h3m1 0h3m-3 0h3m-1 0h3m-1 0h3m-2 0h3m-3 0h3m-3 0h3m0 0h3m-2 0h3m3 0h3m-2 0h3m-1 0h3m-2 0h3m-78 1h3m-3 0h3m-1 0h3m-2 0h3m-1 0h3m-1 0h3m-2 0h3m4 0h3m-3 0h3m1 0h3m0 0h3m5 0h3m-1 0h3m-2 0h3m-3 0h3m-3 0h3m3 0h3m-2 0h3m-2 0h3m-1 0h3m1 0h3m-2 0h3m-3 0h3m1 0h3m-1 0h3m-1 0h3m-2 0h3m0 0h3m-1 0h3m-2 0h3m-3 0h3m-2 0h3m4 0h3m-2 0h3m-1 0h3m-77 1h3m0 0h3m-1 0h3m-2 0h3m-1 0h3m2 0h3m0 0h3m6 0h3m-2 0h3m0 0h3m1 0h3m-2 0h3m-2 0h3m-2 0h3m-2 0h3m-1 0h3m-1 0h3m2 0h3m5 0h3m1 0h3m-1 0h3m-1 0h3m-2 0h3m1 0h3m-3 0h3m-2 0h3m3 0h3m-76 1h3m1 0h3m-2 0h3m-1 0h3m-2 0h3m-3 0h3m-2 0h3m-3 0h3m-1 0h3m-1 0h3m-1 0h3m-2 0h3m-2 0h3m3 0h3m-3 0h3m-2 0h3m-2 0h3m-2 0h3m-2 0h3m-2 0h3m-3 0h3m1 0h3m-2 0h3m-3 0h3m-1 0h3m0 0h3m-2 0h3m6 0h3m-3 0h3m-2 0h3m-2 0h3m0 0h3m-2 0h3m1 0h3m-2 0h3m-2 0h3m-3 0h3m-2 0h3m-3 0h3m-2 0h3m-3 0h3m1 0h3m3 0h3m-85 1h3m3 0h3m3 0h3m-3 0h3m1 0h3m-3 0h3m1 0h3m-1 0h3m-3 0h3m0 0h3m0 0h3m2 0h3m5 0h3m1 0h3m-2 0h3m-3 0h3m-2 0h3m6 0h3m2 0h3m0 0h3m-2 0h3m-2 0h3m6 0h3m-74 1h3m0 0h3m7 0h3m-1 0h3m-2 0h3m-1 0h3m8 0h3m-2 0h3m-2 0h3m-1 0h3m-2 0h3m-2 0h3m-1 0h3m-3 0h3m2 0h3m3 0h3m4 0h3m5 0h3m-3 0h3m-1 0h3m-3 0h3m-2 0h3m-1 0h3m-2 0h3m-74 1h3m-1 0h3m-3 0h3m3 0h3m-1 0h3m-1 0h3m0 0h3m-2 0h3m-1 0h3m-2 0h3m-2 0h3m3 0h3m-3 0h3m0 0h3m2 0h3m-2 0h3m3 0h3m-1 0h3m-1 0h3m0 0h3m-2 0h3m-2 0h3m-3 0h3m5 0h3m-3 0h3m-1 0h3m-1 0h3m1 0h3m-2 0h3m-1 0h3m-2 0h3m-71 1h3m-2 0h3m-1 0h3m0 0h3m1 0h3m-2 0h3m-2 0h3m1 0h3m-1 0h3m-1 0h3m4 0h3m-2 0h3m13 0h3m-1 0h3m-2 0h3m-1 0h3m-3 0h3m-3 0h3m3 0h3m-2 0h3m3 0h3m-1 0h3m-2 0h3m-67 1h3m0 0h3m3 0h3m-2 0h3m0 0h3m-3 0h3m-3 0h3m-2 0h3m-2 0h3m-3 0h3m-3 0h3m-2 0h3m-2 0h3m0 0h3m-2 0h3m-1 0h3m0 0h3m-2 0h3m0 0h3m2 0h3m-2 0h3m-2 0h3m-1 0h3m-2 0h3m3 0h3m-1 0h3m-1 0h3m-2 0h3m-3 0h3m0 0h3m-52 1h3m-2 0h3m-2 0h3m-1 0h3m-3 0h3m-1 0h3m-1 0h3m-2 0h3m-3 0h3m3 0h3m-2 0h3m-1 0h3m0 0h3m-2 0h3m-2 0h3m-2 0h3m-3 0h3m3 0h3m-2 0h3m-1 0h3m4 0h3m-2 0h3m-2 0h3m-1 0h3m-3 0h3m-3 0h3m-3 0h3m0 0h3m-1 0h3m-3 0h3m0 0h3m-2 0h3m-49 1h3m-2 0h3m-3 0h3m0 0h3m-3 0h3m-2 0h3m1 0h3m-2 0h3m-1 0h3m-1 0h3m-3 0h3m6 0h3m-1 0h3m5 0h3m0 0h3m-2 0h3m-2 0h3m-3 0h3m-3 0h3m-2 0h3m-33 1h3m-3 0h3m1 0h3m0 0h3m0 0h3m5 0h3m4 0h3m-2 0h3m1 0h3m-21 1h3m-2 0h3m-1 0h3m-2 0h3m2 0h3m-1 0h3m1 0h3m-16 1h3m0 0h3m-1 0h3m-3 0h3m-2 0h3m-4 1h3" stroke="#f7cf00" stroke-width="3"/><path d="M256 120h2m-8 1h2m10 1h2m-1 0h2m-18 1h2m0 0h2m-1 0h2m2 0h2m2 0h2m2 0h2m-6 1h2m-1 0h2m-2 0h2m1 0h2m-14 1h2m0 0h2m6 0h2m0 0h2m-2 0h2m-10 1h2m4 0h2m-1 0h2m-2 0h2m-6 1h2m2 0h2m-1 0h2m-15 1h2m-1 0h2m4 0h2m-2 0h2m1 0h2m-9 1h2m-6 1h2m9 0h2m-2 0h2m-14 1h2m3 0h2m3 0h2m0 0h2m-11 1h2m2 0h2m0 0h2m1 0h2m-8 1h2m-2 0h2m-3 1h2m-1 0h2m0 0h2m1 0h2m-13 1h2m0 0h2m0 0h2m-1 0h2m-8 1h2m3 0h2m5 0h2m-1 0h2m-14 1h2m1 0h2m0 0h2m1 0h2m0 0h2m-1 0h2m-14 1h2m4 0h2m0 0h2m-1 0h2m-17 1h2m12 0h2m1 0h2m-5 1h2m1 0h2m-2 1h2m-11 1h2m-1 0h2m0 0h2m1 0h2m-2 0h2m-11 1h2m1 0h2m1 0h2m-2 0h2m-2 0h2m-7 1h2m2 0h2m1 0h2m-2 1h2m-3 1h2m-18 1h2m8 0h2m2 0h2m-1 0h2m2 0h2m-19 1h2m8 1h2m0 0h2m-2 0h2m-1 0h2m-1 0h2m-1 0h2m-8 1h2m0 0h2m1 0h2m-1 0h2m-2 1h2m-13 1h2m1 0h2m-2 0h2m0 0h2m-1 0h2m-1 0h2m1 0h2m-12 1h2m0 0h2m6 0h2m-11 1h2m0 0h2m-14 2h2m5 0h2m5 0h2m-2 0h2m-1 0h2m-5 1h2m3 0h2m-1 0h2m-7 1h2m-1 0h2m0 0h2m-5 1h2m0 0h2m0 0h2m-17 1h2m3 0h2m-1 0h2m1 0h2m2 0h2m-1 0h2m-2 0h2m-5 1h2m-1 0h2m1 0h2m-7 1h2m1 0h2m-2 0h2m-10 1h2m6 0h2m-1 0h2m-10 1h2m1 0h2m-2 0h2m-2 0h2m-1 0h2m-5 1h2m4 0h2m-12 1h2m4 0h2m1 0h2m-2 0h2m-3 1h2m-1 0h2m-18 1h2m8 0h2m2 0h2m0 0h2m-12 1h2m2 0h2m-2 0h2m-1 0h2m0 1h2m1 0h2m-11 1h2m5 0h2m0 0h2m-10 1h2m-1 0h2m0 0h2m0 1h2m-11 1h2m5 0h2m0 0h2m-2 0h2m-1 0h2m-15 1h2m8 0h2m-12 1h2m2 0h2m-1 0h2m0 0h2m-2 0h2m0 1h2m-9 1h2m-1 0h2m2 0h2m-1 0h2m0 0h2m-1 0h2m-11 1h2m0 0h2m1 0h2m0 0h2m0 0h2m-9 1h2m-2 0h2m0 0h2m-1 0h2m0 0h2m-1 0h2m-14 1h2m0 0h2m8 0h2m-2 0h2m-6 1h2m-5 1h2m1 0h2m-11 1h2m-1 0h2m0 0h2m2 0h2m-2 0h2m-1 0h2m1 0h2m-2 0h2m-2 0h2m-1 0h2m-7 1h2m-1 0h2m1 0h2m-8 2h2m0 0h2m-5 1h2m2 0h2m-1 0h2m-1 0h2m-2 0h2m-16 1h2m1 0h2m3 0h2m-1 0h2m-2 0h2m-1 0h2m1 0h2m-22 1h2m13 0h2m0 0h2m0 0h2m-1 0h2m-1 0h2m-2 0h2m-15 1h2m-4 1h2m1 0h2m3 0h2m1 0h2m0 0h2m-1 0h2m-7 1h2m0 0h2m-1 0h2m-4 1h2m-2 0h2m-12 1h2m3 0h2m-1 0h2m-3 1h2m-1 0h2m4 0h2m-2 0h2m-10 1h2m4 0h2m-7 1h2m1 0h2m-1 0h2m-1 0h2m-1 0h2m-6 1h2m0 0h2m-14 1h2m7 0h2m-1 0h2m2 0h2m-11 1h2m-1 0h2m2 0h2m-3 1h2m-1 0h2m-2 0h2m0 0h2m-14 1h2m3 0h2m-1 0h2m-2 0h2m-2 0h2m3 0h2m-8 1h2m-1 0h2m0 0h2m-8 1h2m5 0h2m-1 0h2m0 0h2m-8 1h2m2 0h2m0 0h2m-11 1h2m1 0h2m1 0h2m-1 0h2m-2 0h2m-1 0h2m-13 1h2m4 0h2m0 0h2m-11 1h2m6 0h2m-1 1h2m0 0h2m-13 1h2m0 0h2m1 0h2m2 0h2m-1 0h2m-4 1h2m1 0h2m-10 1h2m-1 0h2m-1 0h2m-2 0h2m0 0h2m-10 1h2m7 0h2m-2 0h2m-19 1h2m4 0h2m2 0h2m3 1h2m-17 1h2m3 0h2m2 1h2m3 0h2m-1 0h2m0 0h2m-2 0h2m-9 2h2m-2 0h2m2 0h2m1 0h2m-15 1h2m7 1h2m-2 0h2m-1 0h2m-4 1h2m0 0h2m-4 1h2m-1 0h2m-1 0h2m-6 1h2m-3 1h2m-2 0h2m-1 0h2m1 0h2m-9 1h2m-1 0h2m-1 0h2m4 0h2m-8 1h2m-2 0h2m-5 1h2m-1 0h2m-1 0h2m2 0h2m0 0h2m-2 0h2m-11 1h2m-1 0h2m-1 0h2m-1 0h2m0 0h2m-2 0h2m1 0h2m-2 0h2m-13 1h2m4 0h2m-11 1h2m2 0h2m-1 0h2m1 0h2m-1 0h2m-1 0h2m0 0h2m-2 0h2m-10 1h2m-1 0h2m2 1h2m-1 0h2m0 0h2m-10 1h2m0 0h2m0 0h2m1 0h2m-12 1h2m5 0h2m1 0h2m-15 1h2m1 0h2m8 0h2m-2 0h2m-1 0h2m-13 1h2m-2 0h2m-21 1h2m21 0h2m-1 0h2m0 0h2m-1 0h2m-16 1h2m3 0h2m3 0h2m-5 1h2m2 0h2m0 0h2m-1 0h2m-10 1h2m1 0h2m0 0h2m-6 1h2m-2 0h2m-1 0h2m0 0h2m-1 0h2m0 0h2m-13 1h2m2 0h2m4 0h2m-10 1h2m5 0h2m-1 0h2m-8 1h2m2 0h2m-11 1h2m-2 0h2m2 0h2m1 0h2m0 0h2m-2 0h2m-3 1h2m-2 0h2m-2 0h2m-15 1h2m6 0h2m-10 1h2m6 0h2m0 0h2m-13 1h2m3 0h2m-2 0h2m1 0h2m-6 1h2m4 0h2m0 0h2m-2 0h2m-2 0h2m-2 0h2m-10 1h2m0 0h2m1 0h2m1 0h2m-9 1h2m0 0h2m-2 0h2m2 0h2m-14 1h2m2 0h2m-1 0h2m0 0h2m2 0h2m-1 0h2m-17 1h2m-1 0h2m1 0h2m9 0h2m-12 1h2m0 0h2m-1 0h2m1 0h2m0 0h2m-1 0h2m-15 1h2m5 0h2m-1 0h2m-2 0h2m0 0h2m-1 0h2m-1 0h2m-17 1h2m11 0h2m-1 0h2m0 0h2m-9 1h2m-2 0h2m-1 0h2m2 0h2m-16 1h2m10 0h2m0 0h2m-11 1h2m-2 0h2m1 0h2m2 0h2m-1 0h2m-13 1h2m-1 0h2m4 0h2m-2 0h2m0 0h2m-14 1h2m2 0h2m4 0h2m-15 1h2m5 0h2m1 0h2m-12 1h2m-1 0h2m8 0h2m2 0h2m-5 1h2m0 0h2m-2 1h2m-8 1h2m-1 0h2m-7 1h2m-1 0h2m0 0h2m1 0h2m-2 0h2m-1 0h2m-1 0h2m-8 1h2m-1 0h2m-2 1h2m-2 0h2m-8 1h2m6 0h2m-13 1h2m-1 1h2m0 0h2m-1 0h2m0 0h2m-2 0h2m1 0h2m0 0h2m-14 1h2m2 0h2m2 0h2m-5 1h2m-1 0h2m2 0h2m-2 0h2m-13 1h2m0 0h2m1 0h2m3 0h2m-20 1h2m4 0h2m2 0h2m6 0h2m-15 1h2m2 0h2m1 0h2m1 0h2m-2 0h2m-1 0h2m-9 1h2m3 0h2m0 0h2m-6 1h2m-2 0h2m-1 0h2m0 0h2m-2 0h2m-4 1h2m-2 1h2m-9 1h2m3 0h2m-1 0h2m-1 0h2m-10 1h2m-2 0h2m0 0h2m-2 0h2m0 0h2m-1 0h2m-1 0h2m-2 0h2m-1 0h2m-6 1h2m-2 0h2m-7 1h2m0 1h2m1 0h2m0 0h2m-2 0h2m-17 1h2m6 0h2m-10 1h2m3 0h2m2 0h2m-1 0h2m-13 1h2m10 0h2m-2 0h2m-5 1h2m-2 0h2m-1 0h2m-1 0h2m-1 0h2m-10 1h2m-2 0h2m3 0h2m-2 0h2m-2 0h2m1 0h2m-16 1h2m7 0h2m-2 0h2m1 0h2m-5 1h2m-1 0h2m-1 0h2m-2 0h2m-1 0h2m-8 1h2m3 0h2m-13 1h2m3 0h2m0 0h2m-1 0h2m0 0h2m-7 1h2m0 0h2m-1 0h2m-9 1h2m1 0h2m0 0h2m-1 0h2m-1 0h2m-3 1h2m-1 0h2m-2 0h2m-13 1h2m6 0h2m-2 0h2m1 0h2m-20 1h2m11 0h2m-5 1h2m1 0h2m-2 0h2m3 0h2m-11 1h2m0 0h2m3 0h2m-2 0h2m-13 1h2m2 0h2m3 0h2m0 0h2m-5 1h2m-6 1h2m4 0h2m-15 1h2m5 0h2m4 0h2m-11 1h2m2 0h2m1 0h2m-12 1h2m6 0h2m-8 1h2m-1 0h2m0 0h2m0 0h2m-2 0h2m-1 0h2m-7 1h2m-2 0h2m2 0h2m0 0h2m-16 1h2m11 0h2m-2 0h2m-18 2h2m7 1h2m-1 0h2m-5 1h2m0 0h2m-9 1h2m5 0h2m-2 0h2m2 0h2m-14 1h2" stroke="#f7cf00" stroke-width="2.4" stroke-opacity="0.45"/><path d="M370 77h3m33 2h3m-73 3h3m16 2h3m36 0h3m4 1h3m-74 1h3m97 2h3m22 1h3m-110 1h3m33 1h3m-49 2h3m29 0h3m13 0h3m40 0h3m-28 2h3m-24 2h3m21 0h3m43 0h3m-126 1h3m30 0h3m2 1h3m8 0h3m10 3h3m21 0h3m-94 1h3m4 0h3m15 0h3m13 1h3m27 0h3m-71 1h3m55 1h3m-32 1h3m19 3h3m-41 1h3m21 0h3m-2 0h3m0 0h3m17 0h3m-39 2h3m30 0h3m-32 1h3m56 0h3m-31 1h3m-73 1h3m11 0h3m7 0h3m95 0h3m-107 1h3m-16 1h3m13 1h3m-22 1h3m34 0h3m-2 0h3m37 0h3m-2 0h3m27 0h3m-69 1h3m11 0h3m34 0h3m-96 1h3m37 0h3m5 0h3m-45 1h3m-1 0h3m54 0h3m-1 0h3m32 0h3m-93 1h3m25 0h3m18 0h3m18 0h3m35 0h3m-108 1h3m17 0h3m7 0h3m39 0h3m10 0h3m-82 1h3m10 1h3m33 0h3m-59 1h3m-2 1h3m7 0h3m10 0h3m16 0h3m3 0h3m26 0h3m-75 1h3m11 0h3m5 0h3m5 0h3m18 0h3m15 0h3m18 0h3m-114 1h3m21 0h3m52 0h3m4 1h3m6 0h3m17 0h3m-101 2h3m21 0h3m1 0h3m-2 0h3m-38 1h3m1 0h3m109 0h3m-101 1h3m27 1h3m36 1h3m-100 2h3m18 0h3m12 0h3m49 0h3m-97 1h3m22 0h3m19 0h3m70 0h3m-72 1h3m-56 1h3m7 0h3m4 0h3m9 0h3m22 0h3m-53 1h3m1 0h3m3 0h3m-2 0h3m46 0h3m43 0h3m-106 1h3m38 0h3m55 0h3m-96 1h3m101 0h3m-96 1h3m19 0h3m-36 1h3m81 0h3m-97 1h3m16 0h3m7 0h3m22 0h3m0 0h3m60 0h3m-77 1h3m-30 1h3m-2 0h3m35 0h3m53 0h3m-90 1h3m29 0h3m18 0h3m-61 1h3m23 0h3m8 1h3m57 0h3m-102 1h3m5 0h3m0 0h3m-31 1h3m12 0h3m47 0h3m6 0h3m4 0h3m26 0h3m-123 1h3m16 0h3m67 0h3m3 0h3m-55 1h3m5 0h3m10 0h3m5 0h3m-64 1h3m18 0h3m20 0h3m-49 1h3m4 0h3m35 0h3m35 0h3m20 0h3m-111 1h3m1 0h3m26 0h3m0 0h3m21 0h3m0 0h3m26 0h3m-2 0h3m6 0h3m8 1h3m-99 1h3m54 0h3m-62 1h3m3 0h3m1 0h3m22 0h3m-40 1h3m1 0h3m9 0h3m16 0h3m22 0h3m2 0h3m-80 1h3m19 0h3m60 0h3m-29 1h3m-37 1h3m18 0h3m10 0h3m1 0h3m53 0h3m-93 1h3m30 0h3m-3 0h3m-1 0h3m9 0h3m12 0h3m-71 1h3m9 0h3m-2 0h3m14 0h3m56 0h3m-48 1h3m0 0h3m3 0h3m15 0h3m-91 1h3m42 0h3m-1 0h3m-63 1h3m52 0h3m5 0h3m-2 0h3m0 0h3m-50 1h3m10 0h3m10 0h3m13 0h3m34 0h3m-92 1h3m28 0h3m12 0h3m-50 1h3m1 0h3m68 0h3m4 0h3m26 0h3m-115 1h3m-3 0h3m8 0h3m2 0h3m0 0h3m2 0h3m38 0h3m1 0h3m-64 1h3m12 0h3m1 0h3m10 0h3m0 0h3m3 0h3m-2 0h3m34 0h3m-83 1h3m17 0h3m-2 0h3m-14 1h3m23 0h3m2 0h3m2 0h3m-36 1h3m4 0h3m39 0h3m-76 1h3m52 0h3m7 0h3m20 0h3m21 0h3m-109 1h3m-1 0h3m19 0h3m10 0h3m2 0h3m-31 1h3m5 0h3m95 0h3m-105 1h3m10 0h3m-2 0h3m8 0h3m10 0h3m27 0h3m1 0h3m-66 1h3m3 0h3m-2 0h3m9 0h3m34 0h3m-72 1h3m11 0h3m1 0h3m25 0h3m25 0h3m-93 1h3m30 0h3m85 0h3m-130 1h3m98 0h3m-101 1h3m9 0h3m-3 0h3m-1 0h3m14 0h3m5 0h3m76 0h3m-99 1h3m28 0h3m3 0h3m21 1h3m-99 1h3m14 0h3m19 0h3m-2 0h3m28 0h3m-1 0h3m21 0h3m15 0h3m-97 1h3m39 0h3m-16 1h3m11 0h3m16 0h3m-70 1h3m52 0h3m-1 0h3m-76 1h3m10 0h3m-2 0h3m0 0h3m60 0h3m12 0h3m28 0h3m-120 1h3m30 0h3m6 0h3m-49 1h3m15 0h3m-2 0h3m49 0h3m0 0h3m-79 1h3m11 0h3m2 0h3m46 0h3m15 0h3m4 0h3m-84 1h3m9 0h3m-14 1h3m19 0h3m0 0h3m17 0h3m4 0h3m7 0h3m-78 1h3m5 0h3m41 0h3m24 0h3m-73 1h3m23 0h3m-2 0h3m-2 0h3m-2 0h3m7 0h3m-2 0h3m5 0h3m9 0h3m13 0h3m-92 1h3m40 0h3m12 0h3m32 0h3m1 0h3m-84 1h3m37 0h3m3 0h3m-54 1h3m56 0h3m26 0h3m-67 1h3m31 0h3m-67 1h3m3 0h3m4 0h3m-1 0h3m-21 1h3m-2 0h3m22 0h3m0 0h3m6 0h3m23 0h3m25 0h3m4 0h3m-99 1h3m3 0h3m9 0h3m26 0h3m41 0h3m6 0h3m-84 1h3m1 0h3m-1 0h3m53 0h3m17 0h3m-46 1h3m12 0h3m-80 1h3m-2 0h3m-1 0h3m7 0h3m1 0h3m1 0h3m4 0h3m48 0h3m-2 0h3m-24 1h3m-53 1h3m-3 0h3m42 0h3m1 0h3m-41 1h3m5 0h3m11 0h3m2 0h3m1 0h3m-43 1h3m0 0h3m3 0h3m22 0h3m53 0h3m-109 1h3m0 0h3m2 0h3m8 0h3m25 0h3m2 0h3m44 0h3m-71 1h3m-2 0h3m3 0h3m58 0h3m20 0h3m-114 1h3m0 0h3m13 0h3m-2 0h3m81 0h3m-119 1h3m14 0h3m6 0h3m0 0h3m22 0h3m-2 0h3m-1 0h3m2 0h3m4 0h3m-3 0h3m-71 1h3m19 0h3m6 0h3m10 0h3m8 0h3m34 0h3m36 0h3m-138 1h3m35 0h3m2 0h3m58 0h3m12 0h3m7 0h3m-135 1h3m-3 0h3m16 0h3m17 0h3m8 0h3m6 0h3m-1 0h3m11 0h3m12 0h3m2 0h3m0 0h3m7 0h3m-93 1h3m1 0h3m9 0h3m11 0h3m1 0h3m7 0h3m36 0h3m-100 1h3m1 0h3m13 0h3m43 0h3m10 0h3m11 0h3m2 0h3m10 0h3m-105 1h3m2 0h3m11 0h3m-3 0h3m5 0h3m11 0h3m75 0h3m-2 0h3m-134 1h3m23 0h3m6 0h3m37 0h3m4 0h3m34 0h3m-127 1h3m-1 0h3m-3 0h3m5 0h3m-2 0h3m2 0h3m13 0h3m3 0h3m2 0h3m15 0h3m24 1h3m8 0h3m3 0h3m-64 1h3m10 0h3m38 0h3m-1 0h3m-101 1h3m5 0h3m1 0h3m89 0h3m11 0h3m-117 1h3m2 0h3m3 0h3m4 0h3m-1 0h3m25 0h3m8 0h3m-2 0h3m5 0h3m36 0h3m-110 1h3m3 0h3m30 0h3m-3 0h3m1 0h3m10 0h3m12 0h3m36 0h3m-118 1h3m0 0h3m-3 0h3m6 0h3m1 0h3m1 0h3m44 0h3m4 0h3m-3 0h3m15 0h3m5 0h3m6 0h3m-106 1h3m0 0h3m-2 0h3m-1 0h3m0 0h3m6 0h3m-1 0h3m6 0h3m15 0h3m5 0h3m7 0h3m-1 0h3m-81 1h3m-1 0h3m-2 0h3m17 0h3m-2 0h3m4 0h3m3 0h3m69 0h3m10 0h3m-121 1h3m8 0h3m4 0h3m-2 0h3m3 0h3m18 0h3m21 0h3m12 0h3m21 0h3m5 0h3m12 0h3m-140 1h3m-2 0h3m5 0h3m-1 0h3m0 0h3m-3 0h3m13 0h3m-2 0h3m10 0h3m10 0h3m-3 0h3m6 0h3m-1 0h3m43 0h3m-1 0h3m5 0h3m5 0h3m-125 1h3m-1 0h3m5 0h3m-2 0h3m-1 0h3m47 0h3m19 0h3m18 0h3m9 0h3m-130 1h3m4 0h3m0 0h3m0 0h3m2 0h3m0 0h3m-3 0h3m2 0h3m43 0h3m-1 0h3m8 0h3m10 0h3m-102 1h3m5 0h3m-2 0h3m-2 0h3m-1 0h3m18 0h3m22 0h3m4 0h3m-2 0h3m2 0h3m5 0h3m1 0h3m1 0h3m14 0h3m23 0h3m-131 1h3m18 0h3m17 0h3m-1 0h3m2 0h3m0 0h3m2 0h3m0 0h3m-2 0h3m-2 0h3m2 0h3m-1 0h3m21 0h3m16 0h3m14 0h3m-132 1h3m1 0h3m7 0h3m0 0h3m-2 0h3m1 0h3m0 0h3m2 0h3m-3 0h3m10 0h3m3 0h3m0 0h3m16 0h3m-2 0h3m-2 0h3m1 0h3m0 0h3m31 0h3m7 0h3m-129 1h3m-2 0h3m-1 0h3m-2 0h3m0 0h3m-2 0h3m5 0h3m0 0h3m-3 0h3m3 0h3m-3 0h3m-3 0h3m-1 0h3m-2 0h3m-2 0h3m-1 0h3m-2 0h3m22 0h3m2 0h3m0 0h3m-1 0h3m5 0h3m-1 0h3m-73 1h3m5 0h3m5 0h3m6 0h3m-3 0h3m6 0h3m-1 0h3m-1 0h3m33 0h3m28 0h3m-1 0h3m-115 1h3m1 0h3m7 0h3m0 0h3m0 0h3m7 0h3m4 0h3m0 0h3m0 0h3m1 0h3m1 0h3m7 0h3m1 0h3m1 0h3m-3 0h3m-2 0h3m-3 0h3m-1 0h3m59 0h3m-130 1h3m-2 0h3m-3 0h3m5 0h3m-2 0h3m4 0h3m1 0h3m-2 0h3m0 0h3m-3 0h3m4 0h3m1 0h3m3 0h3m18 0h3m19 0h3m5 0h3m1 0h3m-113 1h3m7 0h3m8 0h3m-2 0h3m1 0h3m-2 0h3m8 0h3m2 0h3m1 0h3m3 0h3m4 0h3m14 0h3m1 0h3m24 0h3m16 0h3m-2 0h3m-122 1h3m1 0h3m-1 0h3m2 0h3m-3 0h3m-2 0h3m-2 0h3m-3 0h3m5 0h3m-1 0h3m0 0h3m-1 0h3m1 0h3m-3 0h3m0 0h3m-1 0h3m5 0h3m1 0h3m4 0h3m1 0h3m7 0h3m-1 0h3m0 0h3m-1 0h3m-2 0h3m2 0h3m2 0h3m10 0h3m10 0h3m2 0h3m-130 1h3m8 0h3m-2 0h3m0 0h3m7 0h3m-3 0h3m2 0h3m0 0h3m-2 0h3m-1 0h3m-3 0h3m1 0h3m-2 0h3m1 0h3m16 0h3m0 0h3m-1 0h3m26 0h3m15 0h3m25 0h3m-147 1h3m-3 0h3m0 0h3m-3 0h3m4 0h3m-1 0h3m-2 0h3m6 0h3m-1 0h3m1 0h3m3 0h3m2 0h3m2 0h3m-1 0h3m-1 0h3m1 0h3m1 0h3m0 0h3m-3 0h3m-2 0h3m-2 0h3m2 0h3m22 0h3m5 0h3m1 0h3m-3 0h3m17 0h3m12 0h3m-143 1h3m-1 0h3m-3 0h3m-1 0h3m6 0h3m-2 0h3m-2 0h3m-3 0h3m1 0h3m0 0h3m-2 0h3m-2 0h3m1 0h3m-2 0h3m4 0h3m4 0h3m4 0h3m-3 0h3m-1 0h3m2 0h3m-2 0h3m-1 0h3m-1 0h3m16 0h3m-2 0h3m1 0h3m12 0h3m0 0h3m24 0h3m-123 1h3m-3 0h3m-2 0h3m-3 0h3m-2 0h3m4 0h3m-1 0h3m2 0h3m0 0h3m-2 0h3m8 0h3m2 0h3m-2 0h3m18 0h3m-2 0h3m-3 0h3m7 0h3m-2 0h3m0 0h3m1 0h3m0 0h3m3 0h3m0 0h3m4 0h3m27 0h3m-138 1h3m-2 0h3m2 0h3m-1 0h3m-3 0h3m1 0h3m5 0h3m0 0h3m-1 0h3m14 0h3m-1 0h3m1 0h3m0 0h3m1 0h3m15 0h3m-3 0h3m1 0h3m0 0h3m1 0h3m-1 0h3m6 0h3m-2 0h3m6 0h3m10 0h3m-3 0h3m14 0h3m-141 1h3m-2 0h3m0 0h3m-3 0h3m-1 0h3m2 0h3m2 0h3m1 0h3m-2 0h3m-2 0h3m-2 0h3m5 0h3m1 0h3m5 0h3m7 0h3m-2 0h3m8 0h3m7 0h3m2 0h3m0 0h3m-2 0h3m5 0h3m6 0h3m-104 1h3m-1 0h3m-1 0h3m-2 0h3m2 0h3m0 0h3m0 0h3m-2 0h3m-2 0h3m0 0h3m-2 0h3m-1 0h3m2 0h3m-1 0h3m2 0h3m2 0h3m10 0h3m3 0h3m-2 0h3m9 0h3m3 0h3m0 0h3m0 0h3m-2 0h3m-2 0h3m-1 0h3m17 0h3m-1 0h3m0 0h3m23 0h3m-144 1h3m0 0h3m-2 0h3m-2 0h3m-3 0h3m4 0h3m-3 0h3m-3 0h3m0 0h3m-2 0h3m-2 0h3m-3 0h3m10 0h3m0 0h3m2 0h3m-2 0h3m5 0h3m5 0h3m-3 0h3m0 0h3m2 0h3m-1 0h3m-1 0h3m1 0h3m1 0h3m2 0h3m-1 0h3m11 0h3m9 0h3m3 0h3m30 0h3m-146 1h3m-2 0h3m-3 0h3m-2 0h3m4 0h3m-3 0h3m-2 0h3m1 0h3m0 0h3m5 0h3m-1 0h3m3 0h3m0 0h3m0 0h3m-3 0h3m2 0h3m-1 0h3m3 0h3m1 0h3m4 0h3m2 0h3m-3 0h3m-3 0h3m-2 0h3m3 0h3m2 0h3m-2 0h3m-3 0h3m-2 0h3m3 0h3m-1 0h3m9 0h3m7 0h3m-2 0h3m0 0h3m0 0h3m-3 0h3m6 0h3m1 0h3m5 0h3m-148 1h3m-2 0h3m-2 0h3m1 0h3m0 0h3m-3 0h3m5 0h3m-2 0h3m0 0h3m1 0h3m-3 0h3m3 0h3m2 0h3m-1 0h3m-3 0h3m-1 0h3m11 0h3m1 0h3m3 0h3m1 0h3m3 0h3m-1 0h3m-2 0h3m-3 0h3m-1 0h3m-1 0h3m-2 0h3m-2 0h3m-3 0h3m15 0h3m-3 0h3m14 0h3m-2 0h3m6 0h3m5 0h3m-132 1h3m-2 0h3m-2 0h3m0 0h3m-3 0h3m0 0h3m4 0h3m-2 0h3m-1 0h3m3 0h3m0 0h3m0 0h3m2 0h3m1 0h3m4 0h3m-2 0h3m-1 0h3m-1 0h3m-2 0h3m2 0h3m1 0h3m2 0h3m13 0h3m4 0h3m-2 0h3m0 0h3m3 0h3m0 0h3m-3 0h3m4 0h3m2 0h3m12 0h3m-136 1h3m3 0h3m-2 0h3m0 0h3m4 0h3m-3 0h3m-2 0h3m-2 0h3m-3 0h3m-3 0h3m-1 0h3m1 0h3m-3 0h3m0 0h3m-2 0h3m-2 0h3m-2 0h3m0 0h3m-2 0h3m6 0h3m1 0h3m-1 0h3m-1 0h3m7 0h3m0 0h3m-3 0h3m9 0h3m1 0h3m-2 0h3m-3 0h3m-1 0h3m-2 0h3m-1 0h3m5 0h3m9 0h3m-1 0h3m18 0h3m-2 0h3m-139 1h3m-2 0h3m10 0h3m-3 0h3m0 0h3m-3 0h3m1 0h3m-1 0h3m-1 0h3m-2 0h3m-1 0h3m-2 0h3m0 0h3m-3 0h3m0 0h3m0 0h3m-2 0h3m1 0h3m-2 0h3m-1 0h3m-3 0h3m-3 0h3m-2 0h3m-3 0h3m8 0h3m0 0h3m0 0h3m3 0h3m3 0h3m-2 0h3m2 0h3m-2 0h3m-3 0h3m0 0h3m-1 0h3m18 0h3m32 0h3m-147 1h3m-3 0h3m-1 0h3m-3 0h3m0 0h3m4 0h3m-3 0h3m-1 0h3m0 0h3m0 0h3m-1 0h3m-3 0h3m-3 0h3m0 0h3m0 0h3m0 0h3m-3 0h3m-3 0h3m-3 0h3m-2 0h3m3 0h3m0 0h3m4 0h3m-3 0h3m-2 0h3m0 0h3m-1 0h3m-1 0h3m1 0h3m-2 0h3m-2 0h3m-2 0h3m-2 0h3m-2 0h3m7 0h3m1 0h3m-2 0h3m-3 0h3m-2 0h3m7 0h3m-1 0h3m0 0h3m2 0h3m1 0h3m0 0h3m-1 0h3m7 0h3m-2 0h3m-1 0h3m22 0h3m4 0h3m-157 1h3m-3 0h3m-2 0h3m0 0h3m-3 0h3m2 0h3m-2 0h3m-2 0h3m-1 0h3m-3 0h3m-1 0h3m-1 0h3m1 0h3m1 0h3m-1 0h3m-1 0h3m7 0h3m8 0h3m0 0h3m4 0h3m-1 0h3m7 0h3m-1 0h3m-1 0h3m-2 0h3m0 0h3m5 0h3m1 0h3m1 0h3m-3 0h3m-3 0h3m-2 0h3m-2 0h3m1 0h3m3 0h3m5 0h3m-2 0h3m0 0h3m3 0h3m17 0h3m-151 1h3m-1 0h3m-2 0h3m-1 0h3m-2 0h3m-1 0h3m-2 0h3m-3 0h3m-1 0h3m-1 0h3m-2 0h3m-2 0h3m2 0h3m-2 0h3m-3 0h3m0 0h3m4 0h3m4 0h3m1 0h3m3 0h3m2 0h3m5 0h3m-3 0h3m7 0h3m1 0h3m1 0h3m-2 0h3m-2 0h3m-1 0h3m0 0h3m0 0h3m7 0h3m1 0h3m0 0h3m-3 0h3m0 0h3m-2 0h3m-3 0h3m-2 0h3m-3 0h3m2 0h3m-2 0h3m4 0h3m19 0h3m-147 1h3m0 0h3m2 0h3m1 0h3m-3 0h3m-2 0h3m-1 0h3m3 0h3m-3 0h3m-2 0h3m-2 0h3m0 0h3m-1 0h3m-2 0h3m-2 0h3m-1 0h3m-1 0h3m-2 0h3m4 0h3m4 0h3m-2 0h3m3 0h3m3 0h3m0 0h3m1 0h3m8 0h3m-1 0h3m1 0h3m-2 0h3m-3 0h3m-3 0h3m-1 0h3m-1 0h3m0 0h3m1 0h3m3 0h3m1 0h3m21 0h3m9 0h3m-149 1h3m-2 0h3m0 0h3m-3 0h3m-2 0h3m-2 0h3m0 0h3m-1 0h3m0 0h3m-1 0h3m-2 0h3m-2 0h3m12 0h3m-2 0h3m-2 0h3m0 0h3m-3 0h3m-2 0h3m-1 0h3m-3 0h3m-1 0h3m-3 0h3m0 0h3m-2 0h3m37 0h3m2 0h3m-2 0h3m-3 0h3m0 0h3m-1 0h3m6 0h3m-2 0h3m4 0h3m1 0h3m2 0h3m3 0h3m16 0h3m3 0h3m-155 1h3m5 0h3m-3 0h3m-2 0h3m4 0h3m6 0h3m2 0h3m-1 0h3m-3 0h3m-1 0h3m-3 0h3m6 0h3m-1 0h3m-2 0h3m0 0h3m-3 0h3m-2 0h3m5 0h3m1 0h3m3 0h3m-1 0h3m6 0h3m-2 0h3m-2 0h3m0 0h3m1 0h3m2 0h3m-3 0h3m-2 0h3m16 0h3m24 0h3m-2 0h3m6 0h3m-157 1h3m-2 0h3m-1 0h3m0 0h3m-3 0h3m1 0h3m-2 0h3m-3 0h3m-2 0h3m-1 0h3m1 0h3m1 0h3m-2 0h3m-2 0h3m-1 0h3m3 0h3m2 0h3m7 0h3m5 0h3m-3 0h3m-2 0h3m-3 0h3m1 0h3m-2 0h3m-1 0h3m9 0h3m-2 0h3m-2 0h3m1 0h3m-3 0h3m4 0h3m-2 0h3m-3 0h3m1 0h3m0 0h3m-1 0h3m0 0h3m-2 0h3m-2 0h3m2 0h3m-2 0h3m5 0h3m4 0h3m-1 0h3m-2 0h3m6 0h3m-140 1h3m-3 0h3m-2 0h3m9 0h3m-3 0h3m-3 0h3m-3 0h3m-2 0h3m-2 0h3m-1 0h3m-2 0h3m-2 0h3m2 0h3m-3 0h3m2 0h3m-3 0h3m-1 0h3m-3 0h3m3 0h3m-3 0h3m-3 0h3m0 0h3m-1 0h3m-1 0h3m-3 0h3m-2 0h3m1 0h3m0 0h3m-2 0h3m-2 0h3m-2 0h3m-1 0h3m-3 0h3m-2 0h3m-1 0h3m0 0h3m-1 0h3m3 0h3m-2 0h3m7 0h3m-3 0h3m-2 0h3m2 0h3m1 0h3m-2 0h3m-2 0h3m3 0h3m1 0h3m2 0h3m14 0h3m-2 0h3m-131 1h3m0 0h3m0 0h3m2 0h3m-1 0h3m0 0h3m-2 0h3m-2 0h3m-2 0h3m-2 0h3m4 0h3m-1 0h3m-1 0h3m-2 0h3m-1 0h3m-3 0h3m-1 0h3m-1 0h3m-3 0h3m3 0h3m-2 0h3m-2 0h3m-2 0h3m3 0h3m-3 0h3m1 0h3m-2 0h3m0 0h3m-1 0h3m3 0h3m-2 0h3m7 0h3m-2 0h3m1 0h3m5 0h3m18 0h3m0 0h3m-119 1h3m-1 0h3m-2 0h3m-1 0h3m-2 0h3m-2 0h3m0 0h3m-2 0h3m-3 0h3m-2 0h3m1 0h3m0 0h3m1 0h3m-3 0h3m-2 0h3m1 0h3m-1 0h3m-3 0h3m-2 0h3m-1 0h3m6 0h3m-2 0h3m-3 0h3m-3 0h3m8 0h3m1 0h3m1 0h3m0 0h3m1 0h3m5 0h3m3 0h3m-1 0h3m18 0h3m4 0h3m-2 0h3m4 0h3m-2 0h3m2 0h3m13 0h3m-2 0h3m-149 1h3m-2 0h3m1 0h3m0 0h3m-1 0h3m2 0h3m-3 0h3m-2 0h3m-2 0h3m-2 0h3m-3 0h3m-2 0h3m2 0h3m-3 0h3m-2 0h3m-2 0h3m-1 0h3m4 0h3m2 0h3m2 0h3m1 0h3m-2 0h3m-3 0h3m2 0h3m-3 0h3m2 0h3m-3 0h3m-1 0h3m-2 0h3m-2 0h3m2 0h3m-1 0h3m-1 0h3m-2 0h3m-1 0h3m0 0h3m0 0h3m7 0h3m0 0h3m-3 0h3m0 0h3m-1 0h3m-1 0h3m1 0h3m1 0h3m1 0h3m-1 0h3m3 0h3m-124 1h3m-3 0h3m-1 0h3m-3 0h3m-1 0h3m0 0h3m0 0h3m-3 0h3m-2 0h3m-1 0h3m-2 0h3m0 0h3m0 0h3m0 0h3m2 0h3m-1 0h3m-2 0h3m-3 0h3m7 0h3m-2 0h3m9 0h3m-2 0h3m-1 0h3m-2 0h3m-1 0h3m3 0h3m-2 0h3m1 0h3m0 0h3m-2 0h3m0 0h3m0 0h3m3 0h3m0 0h3m4 0h3m-3 0h3m-2 0h3m-2 0h3m1 0h3m-3 0h3m-3 0h3m3 0h3m-1 0h3m9 0h3m8 0h3m3 0h3m-145 1h3m-2 0h3m-1 0h3m-3 0h3m0 0h3m-3 0h3m-1 0h3m2 0h3m-2 0h3m-1 0h3m-3 0h3m-2 0h3m-1 0h3m-3 0h3m-1 0h3m-1 0h3m-1 0h3m-2 0h3m-2 0h3m1 0h3m-3 0h3m1 0h3m2 0h3m0 0h3m4 0h3m-1 0h3m-3 0h3m5 0h3m1 0h3m-3 0h3m2 0h3m-1 0h3m-2 0h3m4 0h3m-1 0h3m0 0h3m2 0h3m0 0h3m-3 0h3m2 0h3m-1 0h3m-2 0h3m0 0h3m-2 0h3m1 0h3m8 0h3m-2 0h3m-2 0h3m0 0h3m-1 0h3m-3 0h3m14 0h3m-3 0h3m-146 1h3m-2 0h3m-1 0h3m-1 0h3m-3 0h3m1 0h3m-3 0h3m-1 0h3m1 0h3m-2 0h3m-3 0h3m-2 0h3m1 0h3m1 0h3m-2 0h3m-3 0h3m-3 0h3m-2 0h3m4 0h3m7 0h3m-2 0h3m-1 0h3m-2 0h3m-1 0h3m3 0h3m-3 0h3m-1 0h3m2 0h3m0 0h3m-1 0h3m4 0h3m0 0h3m-2 0h3m10 0h3m-3 0h3m-1 0h3m1 0h3m3 0h3m-1 0h3m4 0h3m3 0h3m-3 0h3m4 0h3m-128 1h3m1 0h3m-3 0h3m7 0h3m1 0h3m-2 0h3m0 0h3m-2 0h3m0 0h3m0 0h3m5 0h3m-1 0h3m1 0h3m1 0h3m-3 0h3m0 0h3m-2 0h3m0 0h3m0 0h3m-2 0h3m0 0h3m-1 0h3m0 0h3m-1 0h3m-2 0h3m0 0h3m-3 0h3m-2 0h3m-3 0h3m0 0h3m6 0h3m-3 0h3m8 0h3m1 0h3m-2 0h3m1 0h3m-1 0h3m-2 0h3m-3 0h3m-3 0h3m0 0h3m1 0h3m3 0h3m-3 0h3m6 0h3m-3 0h3m10 0h3m-148 1h3m-2 0h3m2 0h3m-2 0h3m-2 0h3m0 0h3m-1 0h3m-2 0h3m-3 0h3m-2 0h3m3 0h3m1 0h3m3 0h3m-3 0h3m6 0h3m-1 0h3m-1 0h3m-1 0h3m1 0h3m-2 0h3m-1 0h3m-3 0h3m0 0h3m0 0h3m-2 0h3m0 0h3m1 0h3m-3 0h3m-2 0h3m-2 0h3m0 0h3m-2 0h3m-1 0h3m6 0h3m0 0h3m-2 0h3m-2 0h3m-3 0h3m-1 0h3m-2 0h3m10 0h3m2 0h3m-3 0h3m2 0h3m4 0h3m-2 0h3m-2 0h3m3 0h3m7 0h3m-144 1h3m-2 0h3m-2 0h3m2 0h3m-2 0h3m-1 0h3m-2 0h3m14 0h3m0 0h3m3 0h3m0 0h3m1 0h3m6 0h3m-1 0h3m1 0h3m1 0h3m3 0h3m-2 0h3m1 0h3m0 0h3m2 0h3m3 0h3m-1 0h3m-2 0h3m-3 0h3m1 0h3m-1 0h3m-3 0h3m-2 0h3m-1 0h3m6 0h3m3 0h3m-114 1h3m-2 0h3m-1 0h3m-2 0h3m-2 0h3m1 0h3m-2 0h3m0 0h3m-2 0h3m-2 0h3m0 0h3m-3 0h3m-2 0h3m-1 0h3m1 0h3m-3 0h3m0 0h3m-3 0h3m1 0h3m-1 0h3m-1 0h3m0 0h3m0 0h3m-2 0h3m-2 0h3m-2 0h3m-2 0h3m0 0h3m5 0h3m3 0h3m-2 0h3m6 0h3m0 0h3m-3 0h3m-2 0h3m-2 0h3m0 0h3m-1 0h3m-2 0h3m-2 0h3m-1 0h3m-1 0h3m4 0h3m0 0h3m2 0h3m-1 0h3m2 0h3m33 0h3m-153 1h3m-1 0h3m-2 0h3m-2 0h3m-2 0h3m-2 0h3m3 0h3m-2 0h3m10 0h3m-1 0h3m-2 0h3m-2 0h3m-1 0h3m-3 0h3m-2 0h3m16 0h3m-3 0h3m-2 0h3m-2 0h3m-3 0h3m0 0h3m4 0h3m-3 0h3m-1 0h3m0 0h3m-3 0h3m-2 0h3m-1 0h3m2 0h3m2 0h3m0 0h3m2 0h3m-1 0h3m2 0h3m0 0h3m0 0h3m-2 0h3m-2 0h3m-3 0h3m-2 0h3m-1 0h3m2 0h3m2 0h3m0 0h3m0 0h3m-2 0h3m1 0h3m-1 0h3m-3 0h3m6 0h3m-142 1h3m-2 0h3m-3 0h3m0 0h3m-2 0h3m1 0h3m-2 0h3m-2 0h3m-2 0h3m2 0h3m-2 0h3m-3 0h3m-3 0h3m0 0h3m0 0h3m-2 0h3m1 0h3m-2 0h3m-3 0h3m-2 0h3m-3 0h3m-1 0h3m-3 0h3m-2 0h3m-2 0h3m-1 0h3m2 0h3m0 0h3m-2 0h3m-3 0h3m0 0h3m1 0h3m0 0h3m-1 0h3m-1 0h3m1 0h3m1 0h3m-1 0h3m-2 0h3m1 0h3m0 0h3m3 0h3m5 0h3m1 0h3m-2 0h3m0 0h3m3 0h3m-2 0h3m-2 0h3m-1 0h3m-1 0h3m5 0h3m4 0h3m5 0h3m-140 1h3m0 0h3m1 0h3m-2 0h3m-3 0h3m-3 0h3m1 0h3m0 0h3m9 0h3m0 0h3m-1 0h3m11 0h3m-1 0h3m-2 0h3m-2 0h3m-2 0h3m-3 0h3m2 0h3m-2 0h3m-2 0h3m-2 0h3m1 0h3m0 0h3m0 0h3m12 0h3m0 0h3m-2 0h3m-3 0h3m0 0h3m-2 0h3m-2 0h3m0 0h3m-1 0h3m-2 0h3m3 0h3m3 0h3m8 0h3m1 0h3m27 0h3m-155 1h3m-1 0h3m1 0h3m-1 0h3m-2 0h3m-2 0h3m-1 0h3m0 0h3m-2 0h3m-1 0h3m-2 0h3m-1 0h3m-3 0h3m-3 0h3m-1 0h3m-3 0h3m0 0h3m-3 0h3m1 0h3m-2 0h3m1 0h3m-1 0h3m-3 0h3m0 0h3m-1 0h3m5 0h3m1 0h3m2 0h3m-1 0h3m-2 0h3m-2 0h3m-3 0h3m1 0h3m0 0h3m-3 0h3m-2 0h3m-1 0h3m-2 0h3m1 0h3m-1 0h3m-3 0h3m4 0h3m3 0h3m-2 0h3m13 0h3m6 0h3m0 0h3m0 0h3m23 0h3m-160 1h3m-3 0h3m-3 0h3m6 0h3m1 0h3m-3 0h3m1 0h3m-1 0h3m-1 0h3m-1 0h3m-2 0h3m-3 0h3m0 0h3m-3 0h3m-3 0h3m-1 0h3m-2 0h3m-3 0h3m1 0h3m-3 0h3m-2 0h3m-2 0h3m-3 0h3m2 0h3m3 0h3m-3 0h3m0 0h3m4 0h3m-2 0h3m-1 0h3m0 0h3m-2 0h3m-3 0h3m5 0h3m12 0h3m2 0h3m1 0h3m11 0h3m-2 0h3m-2 0h3m-114 1h3m-3 0h3m-2 0h3m6 0h3m0 0h3m-1 0h3m-3 0h3m-2 0h3m2 0h3m-2 0h3m1 0h3m-2 0h3m-1 0h3m3 0h3m-1 0h3m0 0h3m2 0h3m-3 0h3m0 0h3m3 0h3m-2 0h3m2 0h3m0 0h3m-3 0h3m2 0h3m-2 0h3m3 0h3m-2 0h3m1 0h3m-2 0h3m0 0h3m5 0h3m0 0h3m4 0h3m-1 0h3m14 0h3m8 0h3m-132 1h3m-3 0h3m0 0h3m-2 0h3m0 0h3m-3 0h3m-2 0h3m0 0h3m11 0h3m-1 0h3m0 0h3m-3 0h3m-2 0h3m-2 0h3m-1 0h3m-1 0h3m-2 0h3m-1 0h3m0 0h3m-3 0h3m-2 0h3m-1 0h3m-1 0h3m-3 0h3m14 0h3m2 0h3m7 0h3m5 0h3m-1 0h3m7 0h3m-2 0h3m3 0h3m0 0h3m29 0h3m-149 1h3m4 0h3m-2 0h3m-1 0h3m1 0h3m-3 0h3m3 0h3m1 0h3m0 0h3m-2 0h3m-3 0h3m0 0h3m5 0h3m2 0h3m-3 0h3m-1 0h3m-3 0h3m0 0h3m-2 0h3m6 0h3m1 0h3m-2 0h3m0 0h3m-2 0h3m-2 0h3m-3 0h3m-3 0h3m4 0h3m0 0h3m2 0h3m16 0h3m-2 0h3m6 0h3m4 0h3m6 0h3m12 0h3m-147 1h3m1 0h3m-3 0h3m0 0h3m1 0h3m-3 0h3m-3 0h3m-2 0h3m0 0h3m-2 0h3m-2 0h3m-1 0h3m-2 0h3m-3 0h3m-2 0h3m-2 0h3m-1 0h3m-1 0h3m1 0h3m-2 0h3m-2 0h3m6 0h3m-3 0h3m-2 0h3m-2 0h3m-1 0h3m0 0h3m1 0h3m-1 0h3m-2 0h3m0 0h3m-2 0h3m-3 0h3m-1 0h3m-2 0h3m7 0h3m4 0h3m0 0h3m-3 0h3m1 0h3m1 0h3m1 0h3m-3 0h3m-2 0h3m2 0h3m3 0h3m1 0h3m-2 0h3m2 0h3m8 0h3m-131 1h3m-2 0h3m-1 0h3m-1 0h3m14 0h3m-1 0h3m-1 0h3m1 0h3m-1 0h3m0 0h3m0 0h3m2 0h3m0 0h3m-3 0h3m-1 0h3m0 0h3m5 0h3m1 0h3m1 0h3m9 0h3m2 0h3m0 0h3m7 0h3m-2 0h3m9 0h3m5 0h3m3 0h3m6 0h3m11 0h3m7 0h3m-159 1h3m6 0h3m-2 0h3m-1 0h3m-3 0h3m0 0h3m1 0h3m-3 0h3m-3 0h3m12 0h3m-2 0h3m-3 0h3m-1 0h3m-2 0h3m9 0h3m1 0h3m0 0h3m-3 0h3m2 0h3m4 0h3m-2 0h3m6 0h3m-3 0h3m0 0h3m-3 0h3m-1 0h3m-1 0h3m-3 0h3m-2 0h3m2 0h3m-3 0h3m-1 0h3m0 0h3m0 0h3m4 0h3m1 0h3m16 0h3m-2 0h3m14 0h3m-154 1h3m1 0h3m-2 0h3m6 0h3m-1 0h3m-2 0h3m-1 0h3m-2 0h3m-3 0h3m15 0h3m-1 0h3m-2 0h3m0 0h3m-2 0h3m1 0h3m1 0h3m-2 0h3m-1 0h3m-1 0h3m5 0h3m-1 0h3m3 0h3m-1 0h3m2 0h3m-3 0h3m-1 0h3m47 0h3m-136 1h3m-1 0h3m-3 0h3m-2 0h3m8 0h3m0 0h3m-3 0h3m1 0h3m1 0h3m5 0h3m6 0h3m-3 0h3m-3 0h3m0 0h3m0 0h3m-2 0h3m1 0h3m-2 0h3m-1 0h3m-2 0h3m-1 0h3m-2 0h3m3 0h3m-2 0h3m-3 0h3m0 0h3m-1 0h3m4 0h3m-2 0h3m-2 0h3m0 0h3m9 0h3m-2 0h3m2 0h3m9 0h3m-1 0h3m28 0h3m0 0h3m-151 1h3m5 0h3m0 0h3m-2 0h3m2 0h3m-2 0h3m-3 0h3m0 0h3m-2 0h3m-2 0h3m-2 0h3m0 0h3m-3 0h3m8 0h3m4 0h3m-2 0h3m6 0h3m-3 0h3m-1 0h3m-3 0h3m-1 0h3m0 0h3m7 0h3m2 0h3m5 0h3m-1 0h3m-2 0h3m2 0h3m-1 0h3m16 0h3m-2 0h3m4 0h3m-128 1h3m-3 0h3m0 0h3m2 0h3m0 0h3m-1 0h3m-2 0h3m-1 0h3m-1 0h3m-3 0h3m-2 0h3m1 0h3m-2 0h3m0 0h3m6 0h3m-3 0h3m8 0h3m2 0h3m0 0h3m-1 0h3m-1 0h3m8 0h3m3 0h3m-1 0h3m2 0h3m1 0h3m4 0h3m-1 0h3m14 0h3m4 0h3m0 0h3m-126 1h3m3 0h3m-2 0h3m12 0h3m7 0h3m0 0h3m-1 0h3m-2 0h3m-3 0h3m0 0h3m0 0h3m4 0h3m1 0h3m0 0h3m11 0h3m2 0h3m19 0h3m7 0h3m4 0h3m38 0h3m-159 1h3m-1 0h3m5 0h3m-1 0h3m0 0h3m-2 0h3m-2 0h3m1 0h3m2 0h3m-1 0h3m1 0h3m11 0h3m-2 0h3m7 0h3m0 0h3m-1 0h3m-1 0h3m13 0h3m-3 0h3m-2 0h3m-1 0h3m-1 0h3m-3 0h3m-2 0h3m-1 0h3m-1 0h3m5 0h3m-1 0h3m20 0h3m2 0h3m-1 0h3m-134 1h3m-2 0h3m-2 0h3m-1 0h3m0 0h3m2 0h3m9 0h3m4 0h3m1 0h3m-2 0h3m-3 0h3m2 0h3m-1 0h3m11 0h3m-2 0h3m1 0h3m-2 0h3m0 0h3m20 0h3m0 0h3m7 0h3m-102 1h3m-1 0h3m-3 0h3m1 0h3m-1 0h3m-1 0h3m4 0h3m0 0h3m0 0h3m-1 0h3m-1 0h3m-2 0h3m8 0h3m-2 0h3m4 0h3m-3 0h3m-1 0h3m-2 0h3m-2 0h3m2 0h3m0 0h3m-2 0h3m2 0h3m4 0h3m-1 0h3m-3 0h3m0 0h3m-2 0h3m-2 0h3m27 0h3m14 0h3m2 0h3m-137 1h3m-2 0h3m-1 0h3m0 0h3m-3 0h3m-3 0h3m1 0h3m4 0h3m5 0h3m3 0h3m3 0h3m7 0h3m4 0h3m-2 0h3m-2 0h3m3 0h3m8 0h3m1 0h3m4 0h3m-2 0h3m18 0h3m34 0h3m-149 1h3m-1 0h3m-2 0h3m14 0h3m-1 0h3m-3 0h3m6 0h3m-1 0h3m1 0h3m-1 0h3m-1 0h3m5 0h3m10 0h3m5 0h3m8 0h3m7 0h3m2 0h3m2 0h3m13 0h3m6 0h3m-3 0h3m24 0h3m-144 1h3m3 0h3m-1 0h3m-3 0h3m2 0h3m12 0h3m-1 0h3m-3 0h3m3 0h3m-3 0h3m-2 0h3m0 0h3m-2 0h3m1 0h3m1 0h3m6 0h3m-1 0h3m5 0h3m-2 0h3m18 0h3m0 0h3m-1 0h3m-1 0h3m3 0h3m27 0h3m-145 1h3m2 0h3m-2 0h3m20 0h3m-3 0h3m-1 0h3m14 0h3m1 0h3m-2 0h3m-3 0h3m-1 0h3m3 0h3m0 0h3m0 0h3m-3 0h3m2 0h3m-3 0h3m1 0h3m-3 0h3m2 0h3m12 0h3m-3 0h3m5 0h3m6 0h3m-2 0h3m-117 1h3m1 0h3m-1 0h3m0 0h3m4 0h3m0 0h3m10 0h3m3 0h3m-2 0h3m-3 0h3m1 0h3m-2 0h3m1 0h3m-3 0h3m12 0h3m18 0h3m-3 0h3m-1 0h3m-1 0h3m6 0h3m5 0h3m3 0h3m6 0h3m7 0h3m-134 1h3m-2 0h3m6 0h3m-2 0h3m4 0h3m-3 0h3m2 0h3m3 0h3m8 0h3m0 0h3m12 0h3m8 0h3m-1 0h3m1 0h3m63 0h3m-137 1h3m6 0h3m18 0h3m0 0h3m14 0h3m15 0h3m-3 0h3m3 0h3m12 0h3m12 0h3m-113 1h3m-1 0h3m5 0h3m9 0h3m1 0h3m-1 0h3m4 0h3m11 0h3m30 0h3m-3 0h3m23 0h3m-108 1h3m3 0h3m-2 0h3m3 0h3m2 0h3m52 0h3m7 0h3m25 0h3m5 0h3m-125 1h3m-3 0h3m23 0h3m9 0h3m0 0h3m22 0h3m45 0h3m6 0h3m2 0h3m-131 1h3m6 0h3m9 0h3m9 0h3m-1 0h3" stroke="#111" stroke-width="2.5"/><path d="M925 92h3m-173 40h3m115 0h3m42 2h3m-161 12h3m-78 1h3m129 3h3m57 4h3m-41 5h3m73 3h3m-63 2h3m-80 5h3m45 1h3m-78 1h3m13 1h3m-52 1h3m18 0h3m141 3h3m-4 1h3m-54 1h3m-30 1h3m9 0h3m9 0h3m11 4h3m-155 1h3m113 1h3m48 0h3m-218 1h3m227 0h3m23 0h3m-254 1h3m171 0h3m89 2h3m-137 1h3m-152 1h3m24 0h3m90 0h3m60 0h3m66 2h3m0 1h3m-70 2h3m-207 1h3m186 0h3m-99 2h3m113 1h3m-201 1h3m89 0h3m36 0h3m12 1h3m5 1h3m61 0h3m-193 1h3m234 0h3m-69 1h3m30 0h3m35 1h3m-114 1h3m84 0h3m-106 1h3m42 0h3m53 0h3m22 0h3m10 1h3m0 0h3m-279 1h3m190 0h3m-101 1h3m25 0h3m68 0h3m84 0h3m-185 1h3m77 0h3m-146 1h3m92 0h3m-1 1h3m-18 1h3m-131 1h3m227 0h3m-161 2h3m91 0h3m102 1h3m-101 2h3m50 0h3m-154 1h3m218 0h3m17 0h3m-148 1h3m21 0h3m37 2h3m63 0h3m24 0h3m-296 1h3m140 0h3m40 0h3m-39 1h3m3 0h3m-91 1h3m9 0h3m-117 1h3m242 0h3m-110 1h3m23 0h3m10 0h3m19 0h3m-1 0h3m-9 1h3m107 0h3m-107 1h3m-155 1h3m135 0h3m70 0h3m-1 0h3m-214 1h3m47 0h3m56 0h3m31 0h3m-171 1h3m43 1h3m101 1h3m58 0h3m27 0h3m-141 1h3m134 0h3m61 0h3m-257 1h3m247 1h3m-112 1h3m-1 0h3m11 0h3m-62 1h3m95 0h3m-259 1h3m32 0h3m43 0h3m72 0h3m24 0h3m44 0h3m-194 1h3m113 0h3m3 0h3m103 0h3m-144 1h3m15 0h3m43 0h3m-113 1h3m27 0h3m-72 1h3m126 1h3m-173 1h3m306 0h3m-265 1h3m67 0h3m68 0h3m3 0h3m16 0h3m-68 1h3m10 0h3m-142 1h3m106 0h3m38 0h3m-168 1h3m60 1h3m31 2h3m27 1h3m77 0h3m-215 1h3m-28 1h3m0 1h3m171 0h3m-2 0h3m-161 1h3m-10 1h3m152 0h3m23 0h3m-65 1h3m1 0h3m234 1h3m-347 2h3m279 1h3m-310 1h3m130 0h3m-142 1h3m3 0h3m145 0h3m115 0h3m-235 1h3m172 1h3m38 0h3m-224 1h3m133 0h3m60 0h3m19 0h3m-173 2h3m30 0h3m30 0h3m97 0h3m-62 1h3m2 0h3m21 0h3m-220 1h3m11 0h3m117 0h3m131 1h3m-109 1h3m16 0h3m-89 2h3m28 0h3m21 0h3m19 0h3m28 0h3m-208 2h3m103 2h3m106 0h3m-180 1h3m80 0h3m96 0h3m-129 1h3m-10 2h3m29 0h3m-33 1h3m23 0h3m8 1h3m-1 1h3m116 0h3m-172 2h3m109 0h3m-149 1h3m184 0h3m-212 2h3m237 1h3m-231 1h3m75 0h3m39 0h3m-130 1h3m182 0h3m-176 1h3m10 1h3m57 1h3m1 0h3m160 0h3m-22 1h3m-207 1h3m-1 0h3m104 0h3m-139 1h3m167 0h3m-26 1h3m86 2h3m2 0h3m-138 1h3m-75 1h3m288 0h3m-321 1h3m18 0h3m195 0h3m-239 1h3m43 0h3m-53 1h3m13 0h3m6 0h3m24 0h3m203 0h3m24 0h3m-269 1h3m13 0h3m74 0h3m235 0h3m-366 1h3m65 0h3m-1 0h3m190 0h3m-251 1h3m25 0h3m229 0h3m3 0h3m-265 2h3m13 0h3m47 0h3m-9 1h3m197 0h3m7 0h3m-269 1h3m0 0h3m38 0h3m186 0h3m51 0h3m-307 1h3m12 0h3m74 0h3m-77 1h3m61 0h3m183 0h3m25 0h3m-293 1h3m16 0h3m18 0h3m141 0h3m100 0h3m4 0h3m-284 1h3m212 0h3m19 0h3m8 0h3m-239 1h3m30 0h3m0 0h3m210 0h3m-276 1h3m33 0h3m8 0h3m3 0h3m-33 1h3m224 0h3m14 0h3m4 0h3m-2 0h3m-298 1h3m27 0h3m-3 0h3m39 0h3m208 0h3m13 0h3m-272 1h3m234 0h3m6 0h3m13 0h3m11 0h3m-259 1h3m30 0h3m10 2h3m160 0h3m15 0h3m9 0h3m7 0h3m-240 1h3m20 0h3m199 0h3m-259 1h3m8 0h3m3 0h3m13 0h3m-44 1h3m244 0h3m7 0h3m20 0h3m-301 1h3m128 0h3m150 0h3m-268 1h3m8 0h3m6 0h3m23 0h3m184 0h3m4 0h3m-3 0h3m9 0h3m14 0h3m-289 1h3m17 0h3m252 0h3m8 0h3m-294 1h3m52 0h3m26 0h3m33 0h3m165 0h3m2 0h3m-188 1h3m102 0h3m73 0h3m-213 1h3m195 0h3m6 0h3m7 0h3m9 0h3m-308 1h3m-1 0h3m26 0h3m16 0h3m189 0h3m25 0h3m17 0h3m4 0h3m-265 1h3m11 0h3m231 0h3m25 0h3m-320 1h3m25 0h3m23 0h3m19 0h3m218 0h3m-259 1h3m16 0h3m14 0h3m187 0h3m7 0h3m2 0h3m1 0h3m-1 0h3m-274 1h3m4 0h3m16 0h3m7 0h3m18 0h3m207 0h3m11 0h3m-217 1h3m188 0h3m4 0h3m18 0h3m-247 1h3m12 0h3m-1 0h3m27 0h3m167 0h3m-2 0h3m-1 0h3m12 0h3m0 0h3m-239 1h3m11 0h3m204 0h3m7 0h3m12 0h3m-309 1h3m11 0h3m6 0h3m-1 0h3m21 0h3m0 0h3m2 0h3m189 0h3m26 0h3m10 0h3m9 0h3m-296 1h3m25 0h3m-2 0h3m2 0h3m3 0h3m3 0h3m4 0h3m191 0h3m14 0h3m-2 0h3m-276 1h3m-2 0h3m3 0h3m22 0h3m32 0h3m4 0h3m17 0h3m1 0h3m167 0h3m4 0h3m-270 1h3m49 0h3m179 0h3m65 0h3m-74 1h3m49 0h3m-264 1h3m56 0h3m74 0h3m95 0h3m0 0h3m-228 1h3m5 0h3m-1 0h3m219 0h3m-243 1h3m10 0h3m9 0h3m9 0h3m30 0h3m154 0h3m14 0h3m10 0h3m5 0h3m17 0h3m-305 1h3m23 0h3m8 0h3m9 0h3m217 0h3m-2 0h3m6 0h3m-279 1h3m20 0h3m3 0h3m6 0h3m0 0h3m19 0h3m9 0h3m134 0h3m27 0h3m-2 0h3m-238 1h3m11 0h3m9 0h3m222 0h3m12 0h3m-269 1h3m22 0h3m220 0h3m1 0h3m-256 1h3m3 0h3m30 0h3m210 0h3m-276 1h3m15 0h3m32 0h3m-2 0h3m0 0h3m15 0h3m0 0h3m187 0h3m13 0h3m-294 1h3m28 0h3m18 0h3m27 0h3m201 0h3m3 0h3m-276 1h3m32 0h3m4 0h3m-1 0h3m2 0h3m11 0h3m214 0h3m-1 0h3m-295 1h3m256 0h3m-3 0h3m3 0h3m-3 0h3m-267 1h3m37 0h3m12 0h3m225 0h3m26 0h3m-267 1h3m220 0h3m3 0h3m-268 1h3m23 0h3m7 0h3m219 0h3m24 0h3m-274 1h3m28 0h3m209 0h3m23 0h3m-299 1h3m1 0h3m20 0h3m9 0h3m18 0h3m4 0h3m17 0h3m-84 1h3m20 0h3m4 0h3m19 0h3m14 0h3m5 0h3m154 0h3m21 0h3m20 0h3m-278 1h3m69 0h3m200 0h3m-272 1h3m6 0h3m34 0h3m233 0h3m-35 1h3m-3 0h3m-275 1h3m26 0h3m21 0h3m225 0h3m15 0h3m-257 1h3m0 0h3m12 0h3m4 0h3m-74 1h3m45 0h3m244 0h3m-1 0h3m-282 1h3m18 0h3m222 0h3m18 0h3m-25 1h3m39 0h3m-251 1h3m-2 0h3m223 0h3m-2 0h3m-270 1h3m17 0h3m2 0h3m-1 0h3m214 0h3m16 0h3m2 0h3m-243 1h3m31 0h3m-55 1h3m24 0h3m-2 0h3m39 1h3m176 0h3m-1 0h3m-225 1h3m219 0h3m-249 1h3m13 0h3m6 0h3m1 0h3m207 0h3m21 0h3m-19 2h3m-1 0h3m-258 1h3m2 0h3m26 0h3m-3 0h3m5 1h3m189 1h3m20 0h3m-207 1h3m200 0h3m-225 1h3m185 0h3m15 0h3m-234 2h3m15 0h3m-30 1h3m14 0h3m36 0h3m181 0h3m-244 1h3m28 0h3m8 0h3m-33 1h3m9 0h3m-30 1h3m27 0h3m-19 1h3m-11 1h3m-3 1h3m26 0h3m43 1h3m-28 2h3m-20 2h3m-69 3h3m63 0h3" stroke="#f7dc08" stroke-width="2.8" stroke-opacity="0.4"/><path d="M848 122h3m98 1h3m-98 2h3m41 1h3m-230 4h3m244 11h3m-150 13h3m-91 1h3m-50 2h3m238 0h3m-136 4h3m10 0h3m-35 3h3m107 0h3m78 0h3m-143 1h3m-108 2h3m-60 1h3m181 0h3m-54 2h3m-117 2h3m93 1h3m33 1h3m74 9h3m-202 2h3m203 0h3m37 0h3m-103 2h3m0 1h3m4 3h3m115 1h3m-223 2h3m125 1h3m131 1h3m-222 1h3m187 0h3m37 0h3m-357 1h3m178 1h3m-103 1h3m13 0h3m70 0h3m59 0h3m-155 1h3m45 0h3m12 3h3m2 2h3m18 0h3m10 0h3m150 0h3m-274 1h3m105 1h3m23 0h3m39 1h3m-146 1h3m208 0h3m-96 1h3m-210 1h3m116 0h3m63 0h3m78 0h3m-184 1h3m164 0h3m-113 1h3m126 1h3m0 0h3m-143 1h3m30 0h3m31 0h3m109 0h3m-267 1h3m80 0h3m166 0h3m5 0h3m-93 1h3m-196 1h3m158 0h3m85 0h3m-144 1h3m136 0h3m-141 1h3m116 0h3m-150 1h3m1 0h3m91 2h3m60 0h3m11 1h3m-262 1h3m119 0h3m27 0h3m-44 3h3m65 1h3m-71 1h3m54 0h3m-80 1h3m35 1h3m18 0h3m120 0h3m-189 1h3m-4 1h3m37 0h3m-79 1h3m21 0h3m22 0h3m62 0h3m-117 1h3m156 0h3m-107 1h3m-127 2h3m41 0h3m17 0h3m32 0h3m73 0h3m16 0h3m30 0h3m-160 1h3m47 0h3m12 0h3m-21 1h3m-1 0h3m115 0h3m-90 1h3m121 0h3m-182 1h3m77 0h3m-151 1h3m119 0h3m15 0h3m134 0h3m-189 1h3m71 0h3m19 0h3m-3 0h3m-41 1h3m2 0h3m90 0h3m-194 1h3m89 1h3m-138 1h3m72 0h3m6 0h3m12 0h3m18 0h3m24 0h3m18 0h3m8 0h3m-138 2h3m53 0h3m-65 1h3m3 0h3m58 0h3m-22 1h3m79 0h3m-179 1h3m17 1h3m136 0h3m-97 1h3m178 0h3m-161 2h3m136 0h3m-88 1h3m37 0h3m-60 2h3m121 0h3m-121 1h3m57 0h3m-35 2h3m3 0h3m-23 2h3m-142 1h3m28 0h3m23 0h3m187 0h3m-158 3h3m118 0h3m12 0h3m-95 1h3m18 0h3m82 0h3m-231 1h3m-1 0h3m211 1h3m32 0h3m-164 1h3m66 1h3m-159 1h3m230 2h3m-138 2h3m-56 2h3m128 0h3m-225 2h3m131 1h3m1 0h3m110 0h3m-214 1h3m161 0h3m113 0h3m-276 4h3m205 0h3m29 0h3m-266 1h3m131 0h3m28 0h3m86 0h3m-268 1h3m14 0h3m100 0h3m-134 1h3m86 1h3m46 0h3m-103 1h3m6 0h3m70 1h3m-145 1h3m8 0h3m82 1h3m-62 1h3m57 1h3m44 0h3m50 0h3m-142 1h3m202 0h3m-155 1h3m172 0h3m-288 1h3m26 0h3m30 0h3m137 0h3m-49 2h3m-57 1h3m180 1h3m-252 1h3m6 0h3m-2 0h3m79 0h3m162 1h3m13 0h3m-236 1h3m28 0h3m271 0h3m-375 1h3m47 0h3m58 0h3m146 0h3m-276 1h3m56 1h3m37 0h3m163 0h3m22 0h3m0 0h3m-3 0h3m-260 1h3m16 0h3m98 0h3m23 0h3m93 0h3m-226 1h3m2 0h3m-8 1h3m226 0h3m-248 1h3m0 0h3m9 1h3m-56 1h3m5 0h3m11 0h3m3 0h3m172 0h3m90 0h3m-298 1h3m24 0h3m37 0h3m12 0h3m177 0h3m6 0h3m1 0h3m-273 1h3m266 0h3m-237 1h3m4 0h3m222 0h3m4 0h3m-227 1h3m-3 0h3m191 0h3m25 0h3m17 0h3m-293 1h3m19 0h3m-2 0h3m-13 1h3m-1 0h3m1 0h3m239 0h3m2 0h3m17 0h3m-240 1h3m213 0h3m15 0h3m16 0h3m-302 1h3m4 0h3m2 0h3m16 0h3m7 0h3m13 0h3m215 0h3m3 0h3m-2 0h3m-274 1h3m10 0h3m3 0h3m19 0h3m186 0h3m-198 1h3m219 0h3m2 0h3m-265 1h3m239 0h3m-258 1h3m5 0h3m-1 0h3m41 0h3m223 0h3m-238 1h3m214 1h3m8 0h3m-245 1h3m4 0h3m1 0h3m22 0h3m203 0h3m2 0h3m-268 1h3m29 0h3m207 0h3m-249 1h3m60 0h3m-56 1h3m27 0h3m31 0h3m12 0h3m-109 1h3m46 0h3m7 0h3m223 0h3m10 0h3m-299 1h3m4 0h3m29 0h3m169 0h3m15 0h3m68 0h3m-306 1h3m21 0h3m14 0h3m217 0h3m-1 0h3m3 0h3m10 0h3m-255 1h3m0 0h3m15 0h3m199 0h3m11 0h3m1 0h3m1 0h3m3 0h3m20 0h3m-1 0h3m-1 0h3m2 0h3m-304 1h3m19 0h3m2 0h3m34 0h3m-9 1h3m223 0h3m-289 1h3m38 0h3m-1 0h3m4 0h3m-1 0h3m-2 0h3m102 0h3m109 0h3m19 0h3m-267 1h3m27 0h3m-3 0h3m-2 0h3m213 0h3m17 0h3m-263 1h3m41 0h3m176 0h3m23 0h3m14 0h3m-283 1h3m32 0h3m7 0h3m16 0h3m38 0h3m-113 1h3m16 0h3m30 0h3m-41 1h3m233 0h3m1 0h3m-240 1h3m1 0h3m7 0h3m15 0h3m13 0h3m117 0h3m59 0h3m-248 1h3m27 0h3m13 0h3m10 0h3m180 0h3m9 0h3m6 0h3m-274 1h3m3 0h3m15 0h3m39 0h3m185 0h3m-1 0h3m42 0h3m-308 1h3m25 0h3m35 0h3m6 0h3m-3 0h3m170 0h3m4 0h3m8 0h3m8 0h3m21 0h3m-283 1h3m4 0h3m4 0h3m203 0h3m27 0h3m2 0h3m4 0h3m-297 1h3m14 0h3m16 0h3m216 0h3m22 0h3m-255 1h3m219 0h3m-3 0h3m-1 0h3m-261 1h3m28 0h3m5 0h3m2 0h3m31 0h3m65 0h3m123 0h3m6 0h3m9 0h3m-2 0h3m-236 1h3m90 0h3m-157 1h3m-2 0h3m24 0h3m13 0h3m15 0h3m20 0h3m166 0h3m6 0h3m2 0h3m8 0h3m4 0h3m-270 1h3m45 0h3m209 0h3m0 0h3m5 0h3m-293 1h3m14 0h3m-3 0h3m22 0h3m10 0h3m201 0h3m4 0h3m27 0h3m-268 1h3m1 0h3m3 0h3m-2 0h3m16 0h3m14 0h3m213 0h3m-267 1h3m16 0h3m11 0h3m7 0h3m183 0h3m29 0h3m-290 1h3m13 0h3m11 0h3m30 0h3m208 0h3m0 0h3m24 0h3m-281 1h3m6 0h3m-1 0h3m22 0h3m190 0h3m-209 1h3m3 0h3m13 0h3m0 0h3m172 0h3m13 0h3m-250 1h3m10 0h3m0 0h3m12 0h3m1 0h3m3 0h3m-2 0h3m9 0h3m221 0h3m-254 1h3m-28 1h3m12 0h3m4 0h3m-1 0h3m16 0h3m-1 0h3m194 0h3m-218 1h3m208 0h3m1 0h3m-214 1h3m-1 0h3m15 0h3m187 0h3m10 0h3m-1 0h3m-266 1h3m1 0h3m32 0h3m23 0h3m211 0h3m-223 1h3m-2 0h3m-43 1h3m10 0h3m-2 0h3m210 0h3m-211 1h3m0 0h3m192 0h3m5 0h3m-205 1h3m212 0h3m17 0h3m2 0h3m-295 1h3m12 0h3m1 0h3m-2 0h3m233 0h3m-216 1h3m19 0h3m-66 1h3m65 0h3m-74 1h3m48 0h3m14 0h3m226 0h3m-284 1h3m14 0h3m17 0h3m-13 1h3m-3 0h3m17 0h3m11 0h3m-34 1h3m35 0h3m172 0h3m-254 1h3m33 0h3m0 0h3m21 0h3m-3 0h3m-42 1h3m-20 1h3m51 0h3m-53 1h3m246 0h3m-269 2h3m43 0h3m26 0h3m200 0h3m15 0h3m-261 1h3m4 0h3m-36 1h3m16 0h3m3 0h3m-3 0h3m8 0h3m-32 1h3m31 1h3m-39 1h3m15 0h3m9 0h3m0 0h3m207 0h3m-253 1h3m72 0h3m179 1h3m-224 1h3m4 0h3m35 0h3m-85 1h3m19 0h3m40 0h3m-42 1h3m51 0h3m-81 1h3m248 0h3m-244 1h3m260 0h3m-272 1h3m79 0h3m-80 1h3m-11 1h3m22 0h3m-34 2h3m21 0h3m12 0h3m24 0h3m-57 5h3" stroke="#f7dc08" stroke-width="2.8" stroke-opacity="0.4"/><path d="M670 173h3m-38 8h3m25 0h3m194 1h3m-162 3h3m-39 1h3m152 0h3m48 0h3m0 0h3m14 0h3m-221 1h3m144 1h3m-58 1h3m63 0h3m22 0h3m4 0h3m9 0h3m46 0h3m-182 1h3m147 0h3m-138 1h3m48 0h3m12 0h3m-14 1h3m-4 1h3m4 0h3m-1 0h3m-2 0h3m28 0h3m44 0h3m-162 1h3m46 0h3m24 0h3m8 0h3m40 0h3m-132 1h3m19 0h3m7 0h3m26 0h3m50 0h3m9 0h3m-107 1h3m14 0h3m5 0h3m37 0h3m18 0h3m1 0h3m43 0h3m-255 1h3m79 0h3m35 0h3m9 0h3m53 0h3m20 0h3m-82 1h3m-167 1h3m55 0h3m111 0h3m0 0h3m-1 0h3m44 0h3m7 0h3m36 0h3m-158 1h3m53 0h3m14 0h3m12 0h3m14 0h3m6 0h3m36 0h3m5 0h3m-197 1h3m20 0h3m1 0h3m17 0h3m58 0h3m9 0h3m58 0h3m-222 1h3m48 0h3m55 0h3m132 0h3m-278 1h3m22 0h3m93 0h3m11 0h3m26 0h3m70 0h3m27 0h3m-273 1h3m156 0h3m3 0h3m20 0h3m85 0h3m-250 1h3m31 0h3m129 0h3m5 0h3m26 0h3m5 0h3m9 0h3m35 0h3m-286 1h3m58 0h3m117 0h3m-179 1h3m16 0h3m79 0h3m73 0h3m39 0h3m30 0h3m-271 1h3m20 0h3m7 0h3m60 0h3m50 0h3m13 0h3m23 0h3m59 0h3m-156 1h3m60 0h3m6 0h3m13 0h3m60 0h3m13 0h3m-272 1h3m119 0h3m41 0h3m-2 0h3m11 0h3m30 0h3m-228 1h3m2 0h3m67 0h3m6 0h3m18 0h3m159 0h3m4 0h3m-199 1h3m62 0h3m1 0h3m119 0h3m-1 0h3m41 0h3m-34 1h3m-2 0h3m-274 1h3m23 0h3m182 0h3m45 0h3m1 0h3m-274 1h3m4 0h3m15 0h3m3 0h3m-1 0h3m16 0h3m7 0h3m1 0h3m189 0h3m-257 2h3m-3 0h3m44 0h3m0 0h3m215 0h3m27 0h3m-310 1h3m10 0h3m19 0h3m208 0h3m-243 1h3m6 0h3m-2 0h3m45 0h3m-1 0h3m11 0h3m-65 1h3m8 0h3m21 0h3m98 0h3m-128 1h3m16 0h3m-1 0h3m-3 0h3m-1 0h3m5 0h3m3 0h3m17 0h3m176 0h3m2 0h3m2 0h3m21 1h3m-303 1h3m13 0h3m11 0h3m1 1h3m228 0h3m3 0h3m-267 1h3m22 0h3m226 0h3m0 0h3m1 0h3m5 0h3m-3 0h3m19 0h3m-2 0h3m-284 1h3m-1 0h3m4 0h3m10 0h3m4 0h3m10 0h3m-1 0h3m6 0h3m193 0h3m-267 1h3m29 0h3m-2 0h3m-1 0h3m25 0h3m11 0h3m228 0h3m-291 1h3m1 0h3m13 0h3m-3 0h3m3 0h3m6 0h3m-38 1h3m0 0h3m1 0h3m14 0h3m13 0h3m1 0h3m24 0h3m-73 1h3m6 0h3m-2 0h3m11 0h3m4 0h3m-3 0h3m32 0h3m154 0h3m2 0h3m2 0h3m20 0h3m9 0h3m1 0h3m-287 1h3m5 0h3m6 0h3m15 0h3m9 0h3m1 0h3m3 0h3m14 0h3m191 0h3m9 0h3m-294 1h3m8 0h3m6 0h3m17 0h3m3 0h3m3 0h3m5 0h3m8 0h3m195 0h3m5 0h3m1 0h3m-214 1h3m203 0h3m4 0h3m-254 1h3m-1 0h3m-3 0h3m9 0h3m4 0h3m2 0h3m199 0h3m-243 1h3m19 0h3m-1 0h3m2 0h3m2 0h3m18 0h3m4 0h3m19 0h3m-79 1h3m19 0h3m1 0h3m22 0h3m-80 1h3m-1 0h3m15 0h3m11 0h3m-28 1h3m9 0h3m-1 0h3m7 0h3m5 0h3m-1 0h3m-42 1h3m27 0h3m-3 0h3m12 0h3m7 0h3m-62 1h3m0 0h3m16 0h3m-2 0h3m2 0h3m-2 0h3m27 0h3m-3 0h3m12 0h3m-62 1h3m1 0h3m-1 0h3m10 0h3m1 0h3m41 0h3m179 0h3m17 0h3m-287 1h3m12 0h3m-3 0h3m3 0h3m12 0h3m1 0h3m18 0h3m-3 0h3m6 0h3m-53 1h3m9 0h3m-3 0h3m-1 0h3m3 0h3m4 0h3m-2 0h3m7 0h3m16 0h3m-71 1h3m13 0h3m9 0h3m0 0h3m27 0h3m199 0h3m-1 0h3m1 0h3m27 0h3m-312 1h3m13 0h3m12 0h3m6 0h3m-3 0h3m235 0h3m-280 1h3m8 0h3m-3 0h3m47 0h3m-2 0h3m-60 1h3m13 0h3m-3 0h3m15 0h3m9 0h3m214 0h3m-256 1h3m-1 0h3m8 0h3m5 0h3m-2 0h3m4 0h3m0 0h3m-1 0h3m13 0h3m211 0h3m-269 1h3m9 0h3m1 0h3m3 0h3m9 0h3m-1 0h3m30 0h3m-75 1h3m12 0h3m5 0h3m4 0h3m1 0h3m4 0h3m3 0h3m0 0h3m198 0h3m-254 1h3m19 0h3m1 0h3m22 0h3m-61 1h3m7 0h3m21 0h3m8 0h3m8 0h3m-2 0h3m224 0h3m3 0h3m-294 1h3m17 0h3m22 0h3m19 0h3m-1 0h3m-44 1h3m6 0h3m226 0h3m13 0h3m-284 1h3m0 0h3m26 0h3m11 0h3m2 0h3m21 0h3m-77 1h3m16 0h3m-1 0h3m1 0h3m4 0h3m12 0h3m3 0h3m0 0h3m45 0h3m-114 1h3m25 0h3m10 0h3m0 0h3m4 0h3m1 0h3m12 0h3m-66 1h3m32 0h3m1 0h3m2 0h3m-1 0h3m8 0h3m5 0h3m2 0h3m-65 1h3m10 0h3m0 0h3m0 0h3m-2 0h3m15 0h3m-44 1h3m8 0h3m21 0h3m1 0h3m-36 1h3m19 0h3m-2 0h3m3 0h3m2 0h3m-1 0h3m2 0h3m-46 1h3m16 0h3m10 0h3m2 0h3m8 0h3m29 0h3m-60 1h3m11 0h3m31 0h3m-68 1h3m2 0h3m0 0h3m-1 0h3m36 0h3m33 0h3m-103 1h3m8 0h3m11 0h3m18 0h3m23 0h3m12 0h3m-90 1h3m17 0h3m5 0h3m6 0h3m2 0h3m-42 1h3m4 0h3m5 0h3m10 0h3m16 0h3m-1 0h3m-2 0h3m-28 1h3m6 0h3m10 0h3m-34 1h3m32 0h3m-1 0h3m-57 1h3m3 0h3m4 0h3m3 0h3m44 0h3m0 0h3m-37 1h3m2 0h3m-52 1h3m-2 0h3m3 0h3m9 0h3m12 0h3m31 0h3m1 0h3m20 1h3m-53 1h3m17 0h3m-38 1h3m4 0h3m-17 1h3m7 0h3m18 0h3m-28 1h3m18 0h3m22 0h3m-59 1h3m33 0h3m-27 1h3m34 0h3m-60 1h3m8 0h3m6 0h3m12 0h3m10 0h3m-24 1h3m20 1h3m-49 1h3m9 0h3m15 0h3m87 0h3m-101 1h3m23 0h3m5 0h3m-21 1h3m18 1h3m-37 1h3m11 1h3m4 0h3m13 0h3m-1 0h3m-40 1h3m14 2h3m-29 2h3m14 1h3m-2 0h3m3 3h3m-51 5h3m35 0h3m-24 1h3m38 4h3m-41 2h3m-13 1h3m26 1h3m-16 1h3" stroke="#f7dc08" stroke-width="2.8" stroke-opacity="0.68"/><path d="M635 167h3m242 6h3m-195 3h3m214 1h3m-270 3h3m347 1h3m-85 2h3m-135 2h3m19 0h3m-180 1h3m40 1h3m-18 1h3m22 0h3m202 1h3m27 0h3m-291 1h3m253 0h3m65 0h3m-152 1h3m93 0h3m-230 1h3m78 0h3m21 0h3m42 0h3m21 0h3m10 0h3m-105 1h3m97 0h3m28 0h3m-74 1h3m47 0h3m56 0h3m-260 1h3m10 0h3m82 0h3m23 0h3m23 0h3m44 0h3m42 0h3m9 0h3m-286 1h3m108 0h3m-80 1h3m12 0h3m73 0h3m12 0h3m45 0h3m11 0h3m-3 0h3m9 0h3m-189 1h3m26 0h3m105 0h3m48 0h3m4 0h3m70 0h3m-302 1h3m95 0h3m16 0h3m36 0h3m4 0h3m15 0h3m14 0h3m12 0h3m3 0h3m99 0h3m-314 1h3m25 0h3m140 0h3m40 0h3m-3 0h3m17 0h3m16 0h3m5 0h3m-287 1h3m27 0h3m163 0h3m11 0h3m42 0h3m47 0h3m-264 1h3m0 0h3m23 0h3m60 0h3m9 0h3m-2 0h3m18 0h3m61 0h3m26 0h3m-238 1h3m6 0h3m5 0h3m47 0h3m66 0h3m41 0h3m40 0h3m119 0h3m-317 1h3m1 0h3m67 0h3m73 0h3m62 0h3m20 0h3m-264 1h3m6 0h3m10 0h3m-3 0h3m13 0h3m36 0h3m15 0h3m10 0h3m76 0h3m16 0h3m21 0h3m-262 1h3m11 0h3m7 0h3m12 0h3m13 0h3m94 0h3m9 0h3m-1 0h3m25 0h3m1 0h3m2 0h3m44 0h3m18 0h3m2 0h3m-245 1h3m7 0h3m112 0h3m94 0h3m6 0h3m-254 1h3m9 0h3m27 0h3m19 0h3m76 0h3m-131 1h3m19 0h3m21 0h3m-3 0h3m59 0h3m9 0h3m18 0h3m47 0h3m-194 1h3m30 0h3m76 0h3m22 0h3m4 0h3m-123 1h3m3 0h3m207 0h3m-277 1h3m128 0h3m19 0h3m28 0h3m-130 1h3m57 0h3m33 0h3m103 0h3m7 0h3m3 0h3m0 0h3m0 0h3m-262 1h3m36 0h3m8 0h3m196 0h3m46 0h3m-303 1h3m37 0h3m19 0h3m191 0h3m-250 1h3m12 0h3m0 0h3m220 0h3m3 0h3m-280 1h3m5 0h3m24 0h3m12 0h3m5 0h3m26 0h3m24 0h3m-2 0h3m41 0h3m122 0h3m-265 1h3m24 0h3m2 0h3m109 0h3m26 0h3m72 0h3m-264 1h3m-1 0h3m22 0h3m24 0h3m216 0h3m-2 0h3m-286 1h3m16 0h3m28 0h3m204 0h3m-1 0h3m2 0h3m0 0h3m-261 1h3m35 0h3m194 0h3m14 0h3m-219 1h3m227 0h3m-275 1h3m5 0h3m-1 0h3m-3 0h3m15 0h3m3 0h3m10 0h3m24 0h3m182 0h3m21 0h3m-279 1h3m42 0h3m29 0h3m186 0h3m1 0h3m-242 1h3m6 0h3m207 0h3m13 0h3m-2 0h3m-280 1h3m26 0h3m-3 0h3m44 0h3m177 0h3m-2 0h3m13 0h3m-265 1h3m20 0h3m1 0h3m15 0h3m0 0h3m-2 0h3m-3 0h3m183 0h3m-239 1h3m24 0h3m0 0h3m-2 0h3m5 0h3m-2 0h3m33 0h3m182 0h3m21 0h3m-277 1h3m14 0h3m19 0h3m196 0h3m13 0h3m-254 1h3m0 0h3m4 0h3m15 0h3m18 0h3m164 0h3m32 0h3m5 0h3m-258 1h3m2 0h3m24 0h3m16 0h3m7 0h3m181 0h3m9 0h3m5 0h3m-294 1h3m5 0h3m24 0h3m5 0h3m235 0h3m-273 1h3m7 0h3m1 0h3m-2 0h3m13 0h3m211 0h3m-233 1h3m5 0h3m0 0h3m40 0h3m4 0h3m2 0h3m159 0h3m-1 0h3m12 0h3m5 0h3m-285 1h3m17 0h3m20 0h3m51 0h3m-86 1h3m69 0h3m-82 1h3m-2 0h3m12 0h3m-1 0h3m9 0h3m13 0h3m9 0h3m1 0h3m183 0h3m6 0h3m23 0h3m-295 1h3m10 0h3m20 0h3m-2 0h3m3 0h3m-1 0h3m41 0h3m175 0h3m-234 1h3m14 0h3m1 0h3m12 0h3m16 0h3m12 0h3m-86 1h3m6 0h3m26 0h3m-1 0h3m7 0h3m3 0h3m-2 0h3m210 0h3m-267 1h3m6 0h3m1 0h3m3 0h3m4 0h3m0 0h3m4 0h3m19 0h3m194 0h3m6 0h3m-291 1h3m14 0h3m10 0h3m6 0h3m7 0h3m-42 1h3m12 0h3m7 0h3m7 0h3m2 0h3m-48 1h3m5 0h3m16 0h3m27 0h3m-45 1h3m8 0h3m-3 0h3m13 0h3m12 0h3m207 0h3m-278 1h3m19 0h3m9 0h3m-2 0h3m3 0h3m35 0h3m160 0h3m23 0h3m-264 1h3m10 0h3m-2 0h3m11 0h3m8 0h3m5 0h3m4 0h3m215 0h3m-281 1h3m16 0h3m0 0h3m1 0h3m5 0h3m2 0h3m17 0h3m39 0h3m213 0h3m-293 1h3m-2 0h3m4 0h3m-2 0h3m30 0h3m16 0h3m-74 1h3m11 0h3m9 0h3m-3 0h3m1 0h3m42 0h3m206 0h3m-303 1h3m22 0h3m9 0h3m40 0h3m-78 1h3m1 0h3m21 0h3m-2 0h3m5 0h3m8 0h3m12 0h3m209 0h3m-267 1h3m3 0h3m-1 0h3m4 0h3m14 0h3m-1 0h3m-42 1h3m27 0h3m5 0h3m18 0h3m-58 1h3m-2 0h3m-1 0h3m-2 0h3m5 0h3m3 0h3m16 0h3m12 0h3m1 0h3m0 0h3m-73 1h3m13 0h3m3 0h3m13 0h3m4 0h3m-29 1h3m2 0h3m25 0h3m30 0h3m-82 1h3m7 0h3m50 0h3m2 0h3m4 0h3m-62 1h3m12 0h3m10 0h3m235 0h3m-272 1h3m15 0h3m14 0h3m6 0h3m-2 0h3m5 0h3m4 0h3m7 0h3m-98 1h3m54 0h3m3 0h3m14 0h3m-67 1h3m1 0h3m-3 0h3m-1 0h3m23 0h3m-46 1h3m9 0h3m-1 0h3m8 0h3m-25 1h3m11 0h3m0 0h3m-2 0h3m-3 0h3m6 0h3m-2 0h3m9 0h3m-1 0h3m5 0h3m-26 1h3m-2 0h3m0 0h3m0 0h3m9 0h3m1 0h3m-2 0h3m3 0h3m11 0h3m2 0h3m-88 1h3m4 0h3m-2 0h3m21 0h3m2 0h3m0 0h3m24 0h3m1 0h3m-68 1h3m-2 0h3m16 0h3m6 0h3m6 0h3m8 0h3m43 0h3m-88 1h3m18 0h3m15 0h3m14 0h3m-66 1h3m-2 0h3m-3 0h3m13 0h3m8 0h3m7 0h3m0 0h3m20 0h3m4 0h3m-81 1h3m6 0h3m35 0h3m10 0h3m-60 1h3m26 0h3m-2 0h3m1 0h3m21 0h3m-30 1h3m-2 0h3m41 0h3m-50 1h3m3 0h3m28 0h3m-2 0h3m-54 1h3m3 0h3m-2 0h3m21 0h3m5 0h3m12 0h3m-71 1h3m14 0h3m39 0h3m-60 1h3m18 0h3m33 0h3m17 0h3m-66 1h3m11 0h3m43 0h3m-65 1h3m17 0h3m9 0h3m4 0h3m0 0h3m-8 1h3m-54 1h3m21 0h3m-25 1h3m-11 1h3m26 0h3m35 0h3m-22 1h3m1 0h3m-45 1h3m4 0h3m30 0h3m6 0h3m-2 1h3m-15 1h3m0 0h3m-55 2h3m14 2h3m5 0h3m-19 2h3m-2 0h3m48 1h3m4 0h3m-5 2h3m9 0h3m-33 5h3m-20 1h3m84 0h3m-86 5h3m-8 6h3" stroke="#f7dc08" stroke-width="2.8" stroke-opacity="0.68"/><path d="M663 173h3m151 9h3m76 0h3m-154 2h3m116 0h3m33 0h3m-38 2h3m30 0h3m-134 1h3m-23 1h3m-103 1h3m267 0h3m-292 1h3m256 0h3m-10 1h3m49 0h3m-227 1h3m133 0h3m40 0h3m-228 1h3m12 0h3m79 0h3m24 0h3m19 0h3m24 0h3m37 0h3m-179 1h3m103 0h3m18 0h3m-187 1h3m132 0h3m55 0h3m19 0h3m-3 0h3m53 0h3m-237 1h3m74 0h3m18 0h3m60 0h3m-193 1h3m7 0h3m69 0h3m4 0h3m44 0h3m79 0h3m-117 1h3m12 0h3m25 0h3m28 0h3m39 0h3m-1 0h3m0 0h3m10 0h3m-177 1h3m46 0h3m7 0h3m132 0h3m-285 1h3m18 0h3m10 0h3m19 0h3m70 0h3m20 0h3m-2 0h3m14 0h3m5 0h3m48 0h3m22 0h3m15 0h3m-255 1h3m50 0h3m110 0h3m11 0h3m34 0h3m-137 1h3m57 0h3m89 0h3m4 0h3m-254 1h3m88 0h3m86 0h3m27 0h3m1 0h3m-175 1h3m142 0h3m13 0h3m27 0h3m9 0h3m-197 1h3m13 0h3m50 0h3m5 0h3m34 0h3m43 0h3m16 0h3m53 0h3m-249 1h3m-2 0h3m93 0h3m27 0h3m24 0h3m-116 1h3m49 0h3m97 0h3m5 0h3m-1 0h3m9 0h3m19 0h3m-284 1h3m49 0h3m28 0h3m57 0h3m12 0h3m8 0h3m35 0h3m39 0h3m10 0h3m-251 1h3m57 0h3m70 0h3m127 0h3m-240 1h3m7 0h3m65 0h3m5 0h3m52 0h3m82 0h3m-282 1h3m20 0h3m227 0h3m42 0h3m-279 1h3m23 0h3m111 0h3m-140 1h3m9 0h3m28 0h3m141 0h3m38 0h3m21 0h3m-274 1h3m24 0h3m110 0h3m14 0h3m110 0h3m7 0h3m-275 1h3m46 0h3m47 0h3m6 0h3m117 0h3m20 0h3m3 0h3m-264 1h3m3 0h3m239 0h3m-2 0h3m6 0h3m-278 1h3m11 0h3m54 0h3m217 0h3m-260 1h3m0 0h3m230 0h3m9 0h3m-238 1h3m15 0h3m4 0h3m0 0h3m29 0h3m-86 1h3m8 0h3m-34 1h3m54 0h3m18 0h3m192 0h3m4 0h3m12 0h3m-279 1h3m16 0h3m11 0h3m85 0h3m-137 1h3m16 0h3m45 0h3m4 0h3m175 0h3m-262 1h3m34 0h3m-3 0h3m15 0h3m-2 0h3m1 0h3m1 0h3m-3 0h3m-3 0h3m195 0h3m18 0h3m-289 1h3m10 0h3m17 0h3m7 0h3m-18 1h3m24 0h3m26 0h3m-84 1h3m5 0h3m13 0h3m6 0h3m213 0h3m28 0h3m-279 1h3m8 0h3m2 0h3m35 0h3m206 0h3m29 0h3m-303 1h3m13 0h3m10 0h3m13 0h3m8 0h3m-1 0h3m-1 0h3m11 0h3m-1 0h3m195 0h3m2 0h3m-245 1h3m2 0h3m12 0h3m215 0h3m3 0h3m13 0h3m0 0h3m-283 1h3m13 0h3m26 0h3m9 0h3m194 0h3m11 0h3m-289 1h3m24 0h3m-2 0h3m2 0h3m-2 0h3m4 0h3m1 0h3m11 0h3m9 0h3m4 0h3m-14 1h3m198 0h3m26 0h3m-300 1h3m7 0h3m5 0h3m26 0h3m13 0h3m5 0h3m19 0h3m203 0h3m9 0h3m-273 1h3m8 0h3m1 0h3m193 0h3m-1 0h3m-245 1h3m0 0h3m8 0h3m5 0h3m1 0h3m2 0h3m11 0h3m1 0h3m7 0h3m187 0h3m-241 1h3m15 0h3m187 0h3m78 0h3m-295 1h3m1 0h3m4 0h3m13 0h3m-38 1h3m26 0h3m0 0h3m-3 0h3m225 0h3m-276 1h3m14 0h3m1 0h3m0 0h3m4 0h3m-1 0h3m8 0h3m-3 0h3m28 0h3m181 0h3m-255 1h3m8 0h3m15 0h3m1 0h3m7 0h3m6 0h3m181 0h3m6 0h3m9 0h3m9 0h3m0 0h3m6 0h3m-283 1h3m6 0h3m4 0h3m11 0h3m4 0h3m12 0h3m-1 0h3m4 0h3m6 0h3m3 0h3m-75 1h3m8 0h3m16 0h3m-2 0h3m12 0h3m-2 0h3m23 0h3m1 0h3m-88 1h3m2 0h3m10 0h3m7 0h3m14 0h3m3 0h3m193 0h3m-226 1h3m-1 0h3m17 0h3m22 0h3m198 0h3m9 0h3m-294 1h3m24 0h3m6 0h3m7 0h3m24 0h3m9 0h3m209 0h3m-287 1h3m14 0h3m6 0h3m18 0h3m-1 0h3m46 0h3m-78 1h3m2 0h3m0 0h3m-3 0h3m4 0h3m10 0h3m1 0h3m22 0h3m-80 1h3m3 0h3m0 0h3m9 0h3m11 0h3m4 0h3m3 0h3m0 0h3m0 0h3m4 0h3m-64 1h3m1 0h3m4 0h3m16 0h3m37 0h3m-62 1h3m7 0h3m5 0h3m21 0h3m192 0h3m-255 1h3m4 0h3m10 0h3m-3 0h3m-2 0h3m5 0h3m46 0h3m-72 1h3m25 0h3m5 0h3m-2 0h3m-2 0h3m7 0h3m17 0h3m-66 1h3m26 0h3m1 0h3m17 0h3m10 0h3m-73 1h3m53 0h3m38 0h3m-118 1h3m24 0h3m3 0h3m245 0h3m-245 1h3m3 0h3m34 0h3m155 0h3m-211 1h3m3 0h3m5 0h3m-3 0h3m5 0h3m9 0h3m5 0h3m-2 0h3m15 0h3m-87 1h3m17 0h3m-2 0h3m15 0h3m3 0h3m8 0h3m21 0h3m-67 1h3m1 0h3m6 0h3m1 0h3m-2 0h3m-1 0h3m-26 1h3m9 0h3m0 0h3m-3 0h3m4 0h3m7 0h3m5 0h3m-64 1h3m24 0h3m15 0h3m1 0h3m2 0h3m239 0h3m-299 1h3m22 0h3m2 0h3m2 0h3m28 0h3m5 0h3m-66 1h3m28 0h3m6 0h3m1 0h3m29 0h3m-71 1h3m26 0h3m65 0h3m-120 1h3m3 0h3m46 0h3m8 0h3m-43 1h3m51 0h3m-81 1h3m26 0h3m1 0h3m-3 0h3m7 0h3m-3 0h3m9 0h3m12 0h3m-79 1h3m12 0h3m17 0h3m4 0h3m4 0h3m11 0h3m235 0h3m-252 1h3m-20 1h3m7 0h3m38 0h3m-86 1h3m5 0h3m15 0h3m55 0h3m-78 1h3m43 0h3m29 0h3m-46 1h3m1 0h3m5 0h3m-36 1h3m22 0h3m-26 1h3m2 0h3m-24 1h3m14 0h3m57 0h3m-71 1h3m18 1h3m8 0h3m0 0h3m26 0h3m-65 1h3m-15 1h3m9 0h3m9 1h3m-10 2h3m1 0h3m63 0h3m-80 1h3m-24 1h3m28 0h3m-2 0h3m12 2h3m53 1h3m-54 1h3m-33 2h3m-20 2h3m48 0h3m8 0h3m-68 2h3m25 0h3m-3 0h3m20 4h3m-7 3h3m16 0h3m-4 4h3m-40 16h3" stroke="#f7dc08" stroke-width="2.8" stroke-opacity="0.68"/><path d="M653 175h3m-4 3h3m-29 3h3m41 0h3m104 0h3m-98 1h3m90 2h3m-146 2h3m66 1h3m183 0h3m-103 1h3m70 1h3m26 0h3m-265 1h3m233 0h3m32 0h3m-274 1h3m6 0h3m5 0h3m181 0h3m101 0h3m-296 1h3m106 0h3m110 0h3m-208 1h3m132 0h3m53 0h3m23 0h3m27 0h3m-276 1h3m121 0h3m14 0h3m131 0h3m-252 1h3m92 0h3m40 0h3m12 0h3m6 0h3m0 0h3m107 0h3m-263 1h3m102 0h3m38 0h3m18 0h3m11 0h3m15 0h3m2 0h3m-1 0h3m10 0h3m17 0h3m1 0h3m-105 1h3m27 0h3m-224 1h3m44 0h3m162 0h3m46 0h3m6 0h3m3 0h3m12 0h3m4 0h3m-259 1h3m173 0h3m8 0h3m4 0h3m-186 1h3m14 0h3m56 0h3m18 0h3m40 0h3m15 0h3m39 0h3m-1 0h3m21 0h3m-207 1h3m55 0h3m26 0h3m10 0h3m96 0h3m-1 0h3m-218 1h3m22 0h3m74 0h3m25 0h3m1 0h3m3 0h3m86 0h3m-215 1h3m59 0h3m3 0h3m105 0h3m1 0h3m3 0h3m13 0h3m-271 1h3m18 0h3m26 0h3m56 0h3m9 0h3m10 0h3m56 0h3m49 0h3m19 0h3m-265 1h3m25 0h3m112 0h3m22 0h3m70 0h3m1 0h3m8 0h3m-279 1h3m23 0h3m11 0h3m65 0h3m51 0h3m6 0h3m-3 0h3m22 0h3m18 0h3m41 0h3m13 0h3m11 0h3m-287 1h3m3 0h3m10 0h3m138 0h3m7 0h3m15 0h3m10 0h3m38 0h3m20 0h3m5 0h3m42 0h3m-305 1h3m35 0h3m29 0h3m12 0h3m125 0h3m28 0h3m37 0h3m6 0h3m-279 1h3m0 0h3m119 0h3m12 0h3m78 0h3m2 0h3m20 0h3m-190 1h3m0 0h3m154 0h3m-235 1h3m10 0h3m70 0h3m48 0h3m80 0h3m2 0h3m-250 1h3m26 0h3m17 0h3m200 0h3m35 0h3m-300 1h3m9 0h3m-3 0h3m15 0h3m27 0h3m227 0h3m-294 1h3m20 0h3m10 0h3m-2 0h3m44 0h3m67 0h3m154 0h3m-247 1h3m-1 0h3m168 0h3m25 0h3m3 0h3m-267 1h3m0 0h3m231 0h3m21 0h3m-276 1h3m22 0h3m44 0h3m-67 1h3m8 0h3m31 0h3m14 0h3m79 0h3m81 0h3m38 0h3m-248 1h3m3 0h3m10 0h3m3 0h3m14 0h3m36 0h3m154 0h3m23 0h3m-282 1h3m3 0h3m45 0h3m74 0h3m92 0h3m19 0h3m9 0h3m-275 1h3m17 0h3m2 0h3m2 0h3m-1 0h3m1 0h3m-1 0h3m22 0h3m3 0h3m178 0h3m27 0h3m4 0h3m-274 1h3m7 0h3m26 0h3m34 0h3m161 0h3m5 0h3m-254 1h3m16 0h3m4 0h3m1 0h3m2 0h3m8 0h3m2 0h3m6 0h3m4 0h3m30 0h3m-104 1h3m4 0h3m-3 0h3m6 0h3m0 0h3m21 0h3m-2 0h3m239 0h3m-300 1h3m6 0h3m1 0h3m-2 0h3m2 0h3m11 0h3m25 0h3m-1 0h3m-2 0h3m203 0h3m-242 1h3m19 0h3m3 0h3m199 0h3m2 0h3m-231 1h3m22 0h3m33 0h3m23 0h3m125 0h3m-260 1h3m26 0h3m-2 0h3m0 0h3m-3 0h3m-1 0h3m4 0h3m-1 0h3m5 0h3m59 0h3m149 0h3m38 0h3m-312 1h3m19 0h3m-28 1h3m-2 0h3m20 0h3m-3 0h3m278 0h3m-293 1h3m3 0h3m4 0h3m0 0h3m2 0h3m14 0h3m186 0h3m13 0h3m5 0h3m-268 1h3m6 0h3m28 0h3m-2 0h3m-2 0h3m9 0h3m0 0h3m6 0h3m10 0h3m190 0h3m-254 1h3m2 0h3m-2 0h3m2 0h3m16 0h3m3 0h3m4 0h3m204 0h3m-264 1h3m10 0h3m7 0h3m25 0h3m4 0h3m23 0h3m184 0h3m-1 0h3m3 0h3m-278 1h3m0 0h3m-1 0h3m15 0h3m1 0h3m-2 0h3m-2 0h3m-3 0h3m17 0h3m37 0h3m159 0h3m7 0h3m-238 1h3m1 0h3m12 0h3m25 0h3m-71 1h3m6 0h3m5 0h3m5 0h3m23 0h3m-1 0h3m55 0h3m129 0h3m7 0h3m-264 1h3m16 0h3m44 0h3m201 0h3m-271 1h3m14 0h3m-2 0h3m5 0h3m-3 0h3m3 0h3m1 0h3m0 0h3m0 0h3m-2 0h3m6 0h3m10 0h3m212 0h3m-290 1h3m46 0h3m5 0h3m-57 1h3m12 0h3m22 0h3m23 0h3m-2 0h3m214 0h3m-287 1h3m6 0h3m-1 0h3m-2 0h3m3 0h3m52 0h3m188 0h3m21 0h3m-281 1h3m7 0h3m9 0h3m0 0h3m2 0h3m5 0h3m13 0h3m-64 2h3m2 0h3m27 0h3m20 0h3m197 0h3m21 0h3m-256 1h3m0 0h3m16 0h3m-2 0h3m15 0h3m-73 1h3m14 0h3m3 0h3m10 0h3m-1 0h3m-2 0h3m16 0h3m16 0h3m-66 1h3m8 0h3m22 0h3m184 0h3m-234 1h3m7 0h3m8 0h3m8 0h3m-3 0h3m-1 0h3m0 0h3m13 0h3m-49 1h3m3 0h3m0 0h3m18 0h3m10 0h3m-43 1h3m38 0h3m8 0h3m-71 1h3m0 0h3m7 0h3m11 0h3m232 0h3m10 0h3m-279 1h3m5 0h3m9 0h3m6 0h3m-3 0h3m9 0h3m2 0h3m11 0h3m211 0h3m-281 1h3m8 0h3m3 0h3m8 0h3m12 0h3m-2 0h3m18 0h3m7 0h3m-42 1h3m-1 0h3m-3 0h3m11 0h3m3 0h3m25 0h3m-56 1h3m10 0h3m10 0h3m8 0h3m-70 1h3m7 0h3m30 0h3m3 0h3m39 0h3m-57 1h3m15 0h3m6 0h3m-75 1h3m0 0h3m43 0h3m6 0h3m-2 0h3m-1 0h3m-49 1h3m-10 1h3m2 0h3m-2 0h3m2 0h3m-1 0h3m43 0h3m-68 1h3m8 0h3m7 0h3m8 0h3m1 0h3m22 0h3m-66 1h3m-1 0h3m28 0h3m7 0h3m6 0h3m6 0h3m6 0h3m13 0h3m-65 1h3m-1 0h3m0 1h3m53 0h3m-69 1h3m9 0h3m28 0h3m4 0h3m-39 1h3m-1 0h3m-1 0h3m1 0h3m19 0h3m-54 1h3m17 0h3m17 0h3m11 0h3m-2 0h3m-7 1h3m-1 0h3m-52 1h3m9 0h3m2 0h3m2 0h3m1 1h3m0 0h3m-1 0h3m7 0h3m1 0h3m35 0h3m-72 1h3m42 0h3m-59 1h3m6 0h3m28 0h3m11 0h3m21 0h3m-69 1h3m-3 0h3m12 0h3m15 0h3m-63 1h3m35 0h3m-18 1h3m-1 0h3m10 0h3m38 0h3m214 0h3m-289 1h3m3 0h3m28 0h3m9 0h3m-26 1h3m4 0h3m-9 1h3m11 1h3m6 0h3m-28 1h3m-2 1h3m0 0h3m1 0h3m-1 0h3m-44 1h3m17 0h3m10 0h3m34 2h3m-50 1h3m-18 1h3m36 1h3m-1 0h3m-49 1h3m-6 1h3m22 1h3m16 3h3m0 4h3m-32 1h3m-2 0h3m16 1h3m22 0h3m-7 2h3m-15 1h3m-54 1h3m3 2h3m47 5h3" stroke="#f7dc08" stroke-width="2.8" stroke-opacity="0.68"/><path d="M922 62h3m-73 18h3m-111 21h3m-52 5h3m231 2h3m-87 21h3m-49 2h3m-172 43h3m30 1h3m124 5h3m29 4h3m-99 1h3m6 0h3m8 1h3m86 0h3m-94 1h3m54 0h3m46 0h3m-84 1h3m94 0h3m14 0h3m24 0h3m-58 1h3m11 1h3m5 1h3m-198 1h3m41 0h3m13 0h3m92 0h3m26 0h3m-25 1h3m-1 0h3m5 0h3m-100 1h3m27 0h3m15 0h3m37 0h3m-1 0h3m-72 1h3m8 0h3m24 0h3m6 0h3m5 0h3m4 0h3m59 0h3m79 0h3m-319 1h3m93 0h3m34 0h3m8 0h3m9 0h3m36 0h3m0 0h3m14 0h3m-257 1h3m58 0h3m76 0h3m11 0h3m58 0h3m0 0h3m7 0h3m15 0h3m2 0h3m34 0h3m-169 1h3m47 0h3m10 0h3m17 0h3m5 0h3m32 0h3m22 0h3m-192 1h3m6 0h3m74 0h3m-1 0h3m65 0h3m-125 1h3m14 0h3m4 0h3m19 0h3m-1 0h3m-1 0h3m0 0h3m48 0h3m1 0h3m49 0h3m77 0h3m-285 1h3m23 0h3m17 0h3m14 0h3m21 0h3m-3 0h3m46 0h3m-2 0h3m1 0h3m16 0h3m-3 0h3m3 0h3m30 0h3m-260 1h3m38 0h3m62 0h3m-1 0h3m45 0h3m7 0h3m-2 0h3m5 0h3m5 0h3m14 0h3m-2 0h3m9 0h3m5 0h3m6 0h3m-234 1h3m105 0h3m9 0h3m9 0h3m-2 0h3m5 0h3m11 0h3m1 0h3m-3 0h3m0 0h3m2 0h3m2 0h3m-2 0h3m8 0h3m-1 0h3m-2 0h3m4 0h3m10 0h3m8 0h3m-3 0h3m2 0h3m42 0h3m-233 1h3m-1 0h3m25 0h3m8 0h3m44 0h3m1 0h3m9 0h3m1 0h3m-3 0h3m11 0h3m-2 0h3m-1 0h3m26 0h3m9 0h3m-3 0h3m11 0h3m6 0h3m15 0h3m-205 1h3m23 0h3m5 0h3m11 0h3m33 0h3m11 0h3m-2 0h3m14 0h3m-1 0h3m0 0h3m5 0h3m6 0h3m1 0h3m1 0h3m1 0h3m4 0h3m5 0h3m-1 0h3m21 0h3m-2 0h3m3 0h3m-3 0h3m3 0h3m2 0h3m-265 1h3m69 0h3m33 0h3m8 0h3m10 0h3m2 0h3m4 0h3m20 0h3m11 0h3m2 0h3m-2 0h3m-1 0h3m2 0h3m11 0h3m13 0h3m0 0h3m-1 0h3m-1 0h3m13 0h3m-1 0h3m-3 0h3m2 0h3m22 0h3m8 0h3m-261 1h3m49 0h3m26 0h3m13 0h3m10 0h3m1 0h3m11 0h3m4 0h3m2 0h3m21 0h3m-1 0h3m5 0h3m0 0h3m-2 0h3m1 0h3m5 0h3m6 0h3m10 0h3m17 0h3m37 0h3m-296 1h3m16 0h3m16 0h3m64 0h3m-1 0h3m15 0h3m0 0h3m21 0h3m-2 0h3m-1 0h3m6 0h3m-2 0h3m-1 0h3m0 0h3m5 0h3m2 0h3m-2 0h3m10 0h3m0 0h3m1 0h3m-3 0h3m24 0h3m6 0h3m0 0h3m-225 1h3m48 0h3m26 0h3m16 0h3m1 0h3m16 0h3m-3 0h3m2 0h3m1 0h3m12 0h3m-1 0h3m4 0h3m-2 0h3m-1 0h3m3 0h3m-2 0h3m-1 0h3m4 0h3m-2 0h3m0 0h3m-3 0h3m6 0h3m6 0h3m2 0h3m-3 0h3m7 0h3m-2 0h3m-2 0h3m13 0h3m2 0h3m6 0h3m18 0h3m-218 1h3m11 0h3m0 0h3m4 0h3m19 0h3m6 0h3m4 0h3m7 0h3m-3 0h3m7 0h3m-2 0h3m-1 0h3m-2 0h3m-2 0h3m-1 0h3m0 0h3m0 0h3m3 0h3m-1 0h3m0 0h3m1 0h3m0 0h3m1 0h3m2 0h3m-1 0h3m0 0h3m-3 0h3m0 0h3m-3 0h3m4 0h3m0 0h3m1 0h3m13 0h3m-2 0h3m-2 0h3m21 0h3m17 0h3m-210 1h3m23 0h3m32 0h3m11 0h3m0 0h3m-2 0h3m-3 0h3m-1 0h3m-1 0h3m6 0h3m0 0h3m7 0h3m0 0h3m1 0h3m1 0h3m-3 0h3m-1 0h3m-3 0h3m-2 0h3m6 0h3m4 0h3m1 0h3m2 0h3m-2 0h3m5 0h3m-2 0h3m2 0h3m0 0h3m39 0h3m7 0h3m20 0h3m-242 1h3m7 0h3m9 0h3m20 0h3m1 0h3m-2 0h3m3 0h3m4 0h3m-3 0h3m7 0h3m-2 0h3m5 0h3m-2 0h3m0 0h3m0 0h3m-3 0h3m-1 0h3m-3 0h3m5 0h3m-2 0h3m2 0h3m-1 0h3m1 0h3m3 0h3m-2 0h3m8 0h3m-2 0h3m0 0h3m4 0h3m-2 0h3m1 0h3m0 0h3m-1 0h3m2 0h3m0 0h3m10 0h3m3 0h3m-2 0h3m27 0h3m27 0h3m-271 1h3m13 0h3m5 0h3m4 0h3m8 0h3m7 0h3m0 0h3m3 0h3m-1 0h3m0 0h3m4 0h3m-2 0h3m2 0h3m-1 0h3m-1 0h3m3 0h3m-3 0h3m7 0h3m12 0h3m-1 0h3m1 0h3m-2 0h3m7 0h3m4 0h3m0 0h3m-2 0h3m2 0h3m-3 0h3m-2 0h3m-2 0h3m-1 0h3m0 0h3m-2 0h3m-2 0h3m-2 0h3m-3 0h3m-2 0h3m2 0h3m7 0h3m3 0h3m-2 0h3m-1 0h3m3 0h3m6 0h3m0 0h3m1 0h3m6 0h3m-3 0h3m17 0h3m0 0h3m22 0h3m8 0h3m-303 1h3m0 0h3m76 0h3m-1 0h3m-2 0h3m12 0h3m7 0h3m-3 0h3m1 0h3m-2 0h3m1 0h3m1 0h3m-3 0h3m1 0h3m1 0h3m-2 0h3m3 0h3m-2 0h3m-2 0h3m-1 0h3m-3 0h3m4 0h3m5 0h3m-2 0h3m4 0h3m5 0h3m-1 0h3m-1 0h3m1 0h3m0 0h3m-1 0h3m-2 0h3m6 0h3m4 0h3m6 0h3m23 0h3m2 0h3m3 0h3m-3 0h3m6 0h3m-229 1h3m7 0h3m12 0h3m8 0h3m-3 0h3m8 0h3m10 0h3m1 0h3m0 0h3m-3 0h3m13 0h3m-2 0h3m-2 0h3m-3 0h3m-1 0h3m-3 0h3m-1 0h3m-3 0h3m3 0h3m3 0h3m0 0h3m-2 0h3m-2 0h3m-1 0h3m2 0h3m-1 0h3m9 0h3m-2 0h3m3 0h3m-2 0h3m0 0h3m-1 0h3m-1 0h3m-2 0h3m-3 0h3m-2 0h3m-1 0h3m-2 0h3m2 0h3m-1 0h3m-1 0h3m0 0h3m-3 0h3m-2 0h3m14 0h3m2 0h3m0 0h3m-1 0h3m8 0h3m11 0h3m17 0h3m24 0h3m-255 1h3m26 0h3m6 0h3m-3 0h3m10 0h3m5 0h3m1 0h3m4 0h3m1 0h3m8 0h3m-2 0h3m0 0h3m-1 0h3m4 0h3m12 0h3m-3 0h3m-1 0h3m-3 0h3m-1 0h3m-2 0h3m-2 0h3m-1 0h3m13 0h3m-3 0h3m0 0h3m-3 0h3m-3 0h3m-3 0h3m-2 0h3m5 0h3m-3 0h3m0 0h3m-3 0h3m-1 0h3m-3 0h3m0 0h3m-3 0h3m-3 0h3m-1 0h3m2 0h3m3 0h3m5 0h3m2 0h3m0 0h3m-2 0h3m3 0h3m-3 0h3m1 0h3m0 0h3m13 0h3m59 0h3m-302 1h3m25 0h3m19 0h3m8 0h3m5 0h3m3 0h3m2 0h3m0 0h3m-1 0h3m5 0h3m3 0h3m3 0h3m-1 0h3m1 0h3m-2 0h3m0 0h3m-1 0h3m-2 0h3m12 0h3m-3 0h3m-2 0h3m3 0h3m1 0h3m-1 0h3m-2 0h3m-3 0h3m-2 0h3m-1 0h3m2 0h3m-1 0h3m-2 0h3m0 0h3m-2 0h3m3 0h3m8 0h3m0 0h3m-3 0h3m1 0h3m-3 0h3m-2 0h3m2 0h3m-3 0h3m2 0h3m4 0h3m0 0h3m-1 0h3m-2 0h3m5 0h3m12 0h3m21 0h3m-277 1h3m3 0h3m0 0h3m11 0h3m-1 0h3m4 0h3m12 0h3m4 0h3m-1 0h3m2 0h3m-2 0h3m-2 0h3m0 0h3m3 0h3m4 0h3m2 0h3m8 0h3m2 0h3m-1 0h3m1 0h3m3 0h3m2 0h3m1 0h3m2 0h3m-3 0h3m0 0h3m0 0h3m1 0h3m-2 0h3m-2 0h3m-1 0h3m-2 0h3m6 0h3m-2 0h3m-3 0h3m0 0h3m1 0h3m-2 0h3m-1 0h3m2 0h3m-1 0h3m1 0h3m1 0h3m2 0h3m-3 0h3m-2 0h3m-1 0h3m6 0h3m8 0h3m-1 0h3m0 0h3m-1 0h3m3 0h3m-3 0h3m2 0h3m3 0h3m15 0h3m20 0h3m11 0h3m30 0h3m-303 1h3m16 0h3m4 0h3m0 0h3m-3 0h3m5 0h3m14 0h3m4 0h3m8 0h3m-2 0h3m-2 0h3m13 0h3m2 0h3m5 0h3m4 0h3m-2 0h3m-3 0h3m-2 0h3m0 0h3m4 0h3m1 0h3m-1 0h3m5 0h3m-2 0h3m-3 0h3m1 0h3m-2 0h3m-2 0h3m-3 0h3m-2 0h3m1 0h3m1 0h3m-1 0h3m-1 0h3m-1 0h3m1 0h3m0 0h3m1 0h3m-2 0h3m-2 0h3m-1 0h3m-3 0h3m4 0h3m-1 0h3m1 0h3m-1 0h3m-3 0h3m-1 0h3m4 0h3m-2 0h3m1 0h3m2 0h3m3 0h3m-3 0h3m7 0h3m-3 0h3m12 0h3m0 0h3m-231 1h3m30 0h3m0 0h3m8 0h3m-3 0h3m14 0h3m4 0h3m1 0h3m2 0h3m-1 0h3m-2 0h3m-2 0h3m-1 0h3m4 0h3m-2 0h3m-1 0h3m-1 0h3m-2 0h3m-2 0h3m-2 0h3m-2 0h3m-2 0h3m-3 0h3m-1 0h3m0 0h3m-1 0h3m-1 0h3m-3 0h3m-2 0h3m0 0h3m1 0h3m-2 0h3m0 0h3m-2 0h3m-1 0h3m-3 0h3m-2 0h3m-2 0h3m-1 0h3m-3 0h3m1 0h3m-2 0h3m-1 0h3m-3 0h3m0 0h3m-2 0h3m-3 0h3m-3 0h3m1 0h3m1 0h3m-1 0h3m15 0h3m-1 0h3m3 0h3m-2 0h3m4 0h3m-2 0h3m-3 0h3m-2 0h3m8 0h3m4 0h3m-1 0h3m10 0h3m-225 1h3m-1 0h3m15 0h3m14 0h3m8 0h3m-1 0h3m-2 0h3m0 0h3m2 0h3m1 0h3m11 0h3m12 0h3m0 0h3m-1 0h3m5 0h3m0 0h3m4 0h3m4 0h3m-2 0h3m1 0h3m4 0h3m-2 0h3m0 0h3m-2 0h3m4 0h3m-2 0h3m-3 0h3m0 0h3m-3 0h3m-1 0h3m4 0h3m-3 0h3m-2 0h3m-1 0h3m-1 0h3m0 0h3m-3 0h3m8 0h3m-2 0h3m-3 0h3m0 0h3m-1 0h3m-3 0h3m8 0h3m4 0h3m0 0h3m46 0h3m43 0h3m-342 1h3m29 0h3m15 0h3m31 0h3m0 0h3m6 0h3m-2 0h3m0 0h3m0 0h3m9 0h3m-3 0h3m5 0h3m2 0h3m-1 0h3m-2 0h3m3 0h3m-2 0h3m-2 0h3m-3 0h3m7 0h3m-2 0h3m-2 0h3m-1 0h3m3 0h3m0 0h3m0 0h3m-2 0h3m-1 0h3m2 0h3m-3 0h3m11 0h3m-3 0h3m-1 0h3m-2 0h3m-2 0h3m2 0h3m0 0h3m-2 0h3m1 0h3m-2 0h3m3 0h3m-1 0h3m5 0h3m-3 0h3m2 0h3m-2 0h3m-2 0h3m1 0h3m3 0h3m8 0h3m16 0h3m5 0h3m2 0h3m-286 1h3m33 0h3m9 0h3m-1 0h3m23 0h3m0 0h3m7 0h3m7 0h3m-2 0h3m-2 0h3m3 0h3m2 0h3m4 0h3m0 0h3m0 0h3m0 0h3m-2 0h3m-2 0h3m4 0h3m-2 0h3m-2 0h3m-2 0h3m0 0h3m1 0h3m-1 0h3m0 0h3m-1 0h3m-3 0h3m1 0h3m2 0h3m3 0h3m-2 0h3m0 0h3m-3 0h3m2 0h3m-3 0h3m0 0h3m-3 0h3m-1 0h3m4 0h3m-3 0h3m3 0h3m-2 0h3m1 0h3m-1 0h3m6 0h3m0 0h3m-2 0h3m3 0h3m-2 0h3m-2 0h3m-2 0h3m0 0h3m-1 0h3m2 0h3m4 0h3m1 0h3m5 0h3m-3 0h3m10 0h3m-291 1h3m105 0h3m6 0h3m2 0h3m-2 0h3m-1 0h3m2 0h3m-3 0h3m2 0h3m1 0h3m2 0h3m9 0h3m-3 0h3m-2 0h3m1 0h3m-3 0h3m-1 0h3m-2 0h3m-3 0h3m0 0h3m-1 0h3m-2 0h3m6 0h3m-1 0h3m0 0h3m-1 0h3m1 0h3m-1 0h3m-3 0h3m0 0h3m-2 0h3m-3 0h3m0 0h3m-1 0h3m-2 0h3m0 0h3m1 0h3m4 0h3m1 0h3m7 0h3m-2 0h3m3 0h3m4 0h3m6 0h3m2 0h3m2 0h3m0 0h3m13 0h3m3 0h3m0 0h3m-289 1h3m9 0h3m2 0h3m19 0h3m62 0h3m0 0h3m0 0h3m0 0h3m15 0h3m5 0h3m6 0h3m-2 0h3m-1 0h3m-1 0h3m-2 0h3m-1 0h3m3 0h3m0 0h3m1 0h3m0 0h3m-1 0h3m-2 0h3m0 0h3m0 0h3m-2 0h3m-1 0h3m0 0h3m-3 0h3m-1 0h3m-2 0h3m-3 0h3m1 0h3m-1 0h3m-3 0h3m-2 0h3m-3 0h3m-2 0h3m0 0h3m-2 0h3m16 0h3m1 0h3m-2 0h3m2 0h3m-3 0h3m-1 0h3m-1 0h3m-1 0h3m-1 0h3m-2 0h3m-2 0h3m0 0h3m-1 0h3m-1 0h3m-2 0h3m-1 0h3m4 0h3m-2 0h3m-2 0h3m5 0h3m0 0h3m-1 0h3m15 0h3m-185 1h3m0 0h3m0 0h3m4 0h3m3 0h3m0 0h3m-2 0h3m0 0h3m-2 0h3m-2 0h3m-1 0h3m-1 0h3m-2 0h3m-2 0h3m-2 0h3m-1 0h3m-3 0h3m-2 0h3m3 0h3m2 0h3m-1 0h3m-2 0h3m0 0h3m-3 0h3m-2 0h3m-3 0h3m-1 0h3m1 0h3m-2 0h3m0 0h3m0 0h3m0 0h3m-2 0h3m2 0h3m2 0h3m2 0h3m1 0h3m-2 0h3m2 0h3m-2 0h3m0 0h3m-2 0h3m1 0h3m2 0h3m3 0h3m0 0h3m-2 0h3m2 0h3m2 0h3m11 0h3m0 0h3m-2 0h3m16 0h3m-241 1h3m-1 0h3m57 0h3m8 0h3m-1 0h3m-3 0h3m2 0h3m4 0h3m5 0h3m0 0h3m-2 0h3m-3 0h3m-2 0h3m-2 0h3m4 0h3m-2 0h3m3 0h3m-1 0h3m-2 0h3m-3 0h3m5 0h3m1 0h3m0 0h3m-2 0h3m-2 0h3m4 0h3m-3 0h3m-3 0h3m-2 0h3m-1 0h3m-2 0h3m-1 0h3m-1 0h3m-1 0h3m2 0h3m-2 0h3m-1 0h3m2 0h3m0 0h3m-1 0h3m-3 0h3m6 0h3m1 0h3m-3 0h3m4 0h3m-1 0h3m-3 0h3m0 0h3m0 0h3m10 0h3m-2 0h3m10 0h3m2 0h3m9 0h3m-241 1h3m6 0h3m1 0h3m2 0h3m25 0h3m2 0h3m1 0h3m2 0h3m1 0h3m-2 0h3m12 0h3m1 0h3m2 0h3m3 0h3m-1 0h3m4 0h3m-1 0h3m0 0h3m-3 0h3m1 0h3m-2 0h3m-3 0h3m-3 0h3m-2 0h3m-2 0h3m-3 0h3m1 0h3m-1 0h3m-3 0h3m-1 0h3m-2 0h3m1 0h3m0 0h3m-2 0h3m0 0h3m-1 0h3m1 0h3m-2 0h3m-2 0h3m5 0h3m-1 0h3m-2 0h3m-1 0h3m0 0h3m0 0h3m3 0h3m-3 0h3m-2 0h3m-1 0h3m0 0h3m-3 0h3m7 0h3m3 0h3m2 0h3m0 0h3m0 0h3m-1 0h3m-3 0h3m2 0h3m28 0h3m25 0h3m-320 1h3m14 0h3m3 0h3m1 0h3m9 0h3m6 0h3m24 0h3m3 0h3m-2 0h3m13 0h3m0 0h3m8 0h3m-2 0h3m-2 0h3m1 0h3m12 0h3m3 0h3m-2 0h3m-2 0h3m-2 0h3m0 0h3m-3 0h3m-2 0h3m-3 0h3m-1 0h3m4 0h3m8 0h3m0 0h3m-3 0h3m-1 0h3m2 0h3m4 0h3m-3 0h3m2 0h3m-1 0h3m-2 0h3m-2 0h3m1 0h3m-2 0h3m4 0h3m-3 0h3m2 0h3m-3 0h3m-2 0h3m-3 0h3m-2 0h3m-3 0h3m-1 0h3m-3 0h3m4 0h3m-2 0h3m-1 0h3m4 0h3m-3 0h3m7 0h3m1 0h3m18 0h3m4 0h3m17 0h3m-268 1h3m15 0h3m1 0h3m8 0h3m9 0h3m25 0h3m16 0h3m-2 0h3m-2 0h3m0 0h3m7 0h3m-2 0h3m-1 0h3m6 0h3m0 0h3m1 0h3m-3 0h3m5 0h3m7 0h3m-1 0h3m0 0h3m-2 0h3m-1 0h3m-1 0h3m-3 0h3m-1 0h3m1 0h3m1 0h3m-2 0h3m-1 0h3m-2 0h3m0 0h3m-3 0h3m-3 0h3m5 0h3m5 0h3m1 0h3m-2 0h3m-1 0h3m-2 0h3m4 0h3m-2 0h3m6 0h3m4 0h3m2 0h3m3 0h3m7 0h3m0 0h3m3 0h3m-1 0h3m-287 1h3m29 0h3m18 0h3m4 0h3m-2 0h3m-3 0h3m7 0h3m11 0h3m-1 0h3m5 0h3m-2 0h3m-2 0h3m4 0h3m2 0h3m1 0h3m1 0h3m9 0h3m-1 0h3m-3 0h3m-3 0h3m0 0h3m0 0h3m7 0h3m0 0h3m2 0h3m7 0h3m1 0h3m0 0h3m4 0h3m-1 0h3m0 0h3m3 0h3m-1 0h3m-3 0h3m2 0h3m3 0h3m-2 0h3m0 0h3m-1 0h3m-2 0h3m5 0h3m0 0h3m-2 0h3m-3 0h3m-1 0h3m0 0h3m0 0h3m9 0h3m-2 0h3m-1 0h3m-2 0h3m-3 0h3m-1 0h3m-1 0h3m-2 0h3m-2 0h3m1 0h3m1 0h3m-2 0h3m-3 0h3m2 0h3m7 0h3m-260 1h3m18 0h3m26 0h3m11 0h3m4 0h3m15 0h3m-3 0h3m1 0h3m1 0h3m1 0h3m0 0h3m-1 0h3m-1 0h3m-1 0h3m0 0h3m-1 0h3m3 0h3m-3 0h3m1 0h3m-3 0h3m-1 0h3m-3 0h3m2 0h3m-1 0h3m-1 0h3m5 0h3m2 0h3m-3 0h3m1 0h3m-2 0h3m-1 0h3m4 0h3m1 0h3m-3 0h3m2 0h3m1 0h3m-2 0h3m-2 0h3m0 0h3m-1 0h3m-1 0h3m6 0h3m19 0h3m5 0h3m4 0h3m9 0h3m29 0h3m22 0h3m9 0h3m-337 1h3m26 0h3m37 0h3m9 0h3m19 0h3m-1 0h3m2 0h3m10 0h3m-2 0h3m3 0h3m2 0h3m4 0h3m9 0h3m-3 0h3m-2 0h3m-3 0h3m2 0h3m6 0h3m-3 0h3m3 0h3m-1 0h3m8 0h3m0 0h3m-2 0h3m2 0h3m1 0h3m-2 0h3m1 0h3m-2 0h3m-1 0h3m1 0h3m2 0h3m1 0h3m-2 0h3m4 0h3m-3 0h3m-3 0h3m1 0h3m8 0h3m2 0h3m0 0h3m5 0h3m-1 0h3m2 0h3m-1 0h3m-239 1h3m31 0h3m22 0h3m28 0h3m-2 0h3m0 0h3m-2 0h3m0 0h3m-1 0h3m7 0h3m2 0h3m0 0h3m-2 0h3m0 0h3m-2 0h3m6 0h3m0 0h3m-3 0h3m3 0h3m0 0h3m-3 0h3m1 0h3m8 0h3m-3 0h3m-2 0h3m-2 0h3m-3 0h3m4 0h3m5 0h3m-3 0h3m-2 0h3m-2 0h3m2 0h3m12 0h3m-1 0h3m-2 0h3m5 0h3m-2 0h3m12 0h3m3 0h3m0 0h3m-210 1h3m12 0h3m19 0h3m4 0h3m-1 0h3m1 0h3m1 0h3m7 0h3m1 0h3m6 0h3m0 0h3m-3 0h3m-2 0h3m1 0h3m7 0h3m0 0h3m-2 0h3m1 0h3m1 0h3m-1 0h3m-2 0h3m3 0h3m-1 0h3m-2 0h3m-2 0h3m-1 0h3m4 0h3m1 0h3m-1 0h3m-1 0h3m-1 0h3m-2 0h3m2 0h3m-2 0h3m-2 0h3m0 0h3m-3 0h3m0 0h3m-1 0h3m2 0h3m-2 0h3m0 0h3m4 0h3m-1 0h3m6 0h3m-2 0h3m-2 0h3m-3 0h3m6 0h3m27 0h3m-2 0h3m-277 1h3m0 0h3m38 0h3m18 0h3m17 0h3m22 0h3m23 0h3m9 0h3m-3 0h3m-2 0h3m0 0h3m2 0h3m3 0h3m-2 0h3m-1 0h3m-1 0h3m-3 0h3m-2 0h3m-2 0h3m5 0h3m3 0h3m-2 0h3m-2 0h3m-1 0h3m-2 0h3m-2 0h3m8 0h3m-2 0h3m-2 0h3m-3 0h3m-2 0h3m-1 0h3m-2 0h3m0 0h3m4 0h3m0 0h3m2 0h3m-3 0h3m-2 0h3m-1 0h3m2 0h3m6 0h3m9 0h3m22 0h3m15 0h3m-292 1h3m7 0h3m22 0h3m0 0h3m-1 0h3m0 0h3m-2 0h3m17 0h3m-1 0h3m9 0h3m2 0h3m2 0h3m9 0h3m-3 0h3m-3 0h3m-2 0h3m0 0h3m15 0h3m-1 0h3m-2 0h3m-1 0h3m-2 0h3m-3 0h3m-1 0h3m0 0h3m14 0h3m-2 0h3m-2 0h3m4 0h3m0 0h3m-1 0h3m-1 0h3m1 0h3m0 0h3m-1 0h3m-1 0h3m3 0h3m1 0h3m0 0h3m-1 0h3m-3 0h3m3 0h3m2 0h3m0 0h3m4 0h3m1 0h3m1 0h3m10 0h3m2 0h3m10 0h3m-3 0h3m-203 1h3m5 0h3m4 0h3m19 0h3m4 0h3m2 0h3m4 0h3m0 0h3m4 0h3m6 0h3m3 0h3m-2 0h3m1 0h3m-3 0h3m-1 0h3m5 0h3m9 0h3m-2 0h3m3 0h3m-1 0h3m1 0h3m-1 0h3m4 0h3m-2 0h3m-2 0h3m6 0h3m7 0h3m-2 0h3m0 0h3m-3 0h3m1 0h3m3 0h3m20 0h3m4 0h3m10 0h3m-273 1h3m13 0h3m35 0h3m1 0h3m3 0h3m10 0h3m1 0h3m6 0h3m1 0h3m-1 0h3m6 0h3m-2 0h3m12 0h3m0 0h3m-2 0h3m1 0h3m-1 0h3m5 0h3m-2 0h3m6 0h3m-2 0h3m6 0h3m10 0h3m-1 0h3m6 0h3m-1 0h3m23 0h3m1 0h3m33 0h3m16 0h3m-267 1h3m26 0h3m9 0h3m22 0h3m1 0h3m14 0h3m-1 0h3m6 0h3m4 0h3m2 0h3m0 0h3m-1 0h3m1 0h3m1 0h3m-1 0h3m-3 0h3m7 0h3m5 0h3m0 0h3m-3 0h3m-3 0h3m-1 0h3m-1 0h3m1 0h3m1 0h3m-2 0h3m0 0h3m0 0h3m0 0h3m-1 0h3m0 0h3m0 0h3m-3 0h3m-2 0h3m0 0h3m-1 0h3m-2 0h3m-3 0h3m3 0h3m-1 0h3m6 0h3m7 0h3m10 0h3m-2 0h3m9 0h3m0 0h3m-3 0h3m1 0h3m4 0h3m-238 1h3m2 0h3m21 0h3m-3 0h3m0 0h3m4 0h3m21 0h3m-2 0h3m6 0h3m-1 0h3m5 0h3m5 0h3m4 0h3m-1 0h3m-3 0h3m-2 0h3m-1 0h3m2 0h3m1 0h3m6 0h3m-1 0h3m1 0h3m-1 0h3m5 0h3m2 0h3m1 0h3m5 0h3m2 0h3m2 0h3m2 0h3m-2 0h3m-1 0h3m-3 0h3m4 0h3m-2 0h3m1 0h3m5 0h3m1 0h3m15 0h3m-2 0h3m-3 0h3m20 0h3m-214 1h3m12 0h3m12 0h3m2 0h3m0 0h3m-2 0h3m18 0h3m9 0h3m0 0h3m3 0h3m0 0h3m-3 0h3m0 0h3m-2 0h3m-1 0h3m-2 0h3m-1 0h3m-1 0h3m0 0h3m10 0h3m-3 0h3m-1 0h3m6 0h3m5 0h3m-3 0h3m-2 0h3m-2 0h3m3 0h3m2 0h3m-2 0h3m44 0h3m16 0h3m-232 1h3m-1 0h3m5 0h3m53 0h3m5 0h3m14 0h3m3 0h3m0 0h3m14 0h3m7 0h3m-1 0h3m-1 0h3m6 0h3m-2 0h3m-2 0h3m6 0h3m-1 0h3m6 0h3m1 0h3m-1 0h3m1 0h3m0 0h3m7 0h3m-1 0h3m2 0h3m12 0h3m82 0h3m-310 1h3m7 0h3m7 0h3m0 0h3m8 0h3m-1 0h3m35 0h3m10 0h3m12 0h3m1 0h3m-3 0h3m10 0h3m5 0h3m-1 0h3m-3 0h3m1 0h3m7 0h3m-2 0h3m-2 0h3m0 0h3m1 0h3m5 0h3m-1 0h3m8 0h3m-1 0h3m0 0h3m22 0h3m2 0h3m3 0h3m5 0h3m9 0h3m-2 0h3m-213 1h3m49 0h3m0 0h3m4 0h3m1 0h3m-1 0h3m-2 0h3m-1 0h3m12 0h3m-2 0h3m0 0h3m-3 0h3m-2 0h3m17 0h3m0 0h3m4 0h3m-2 0h3m2 0h3m3 0h3m1 0h3m-2 0h3m5 0h3m2 0h3m6 0h3m9 0h3m8 0h3m4 0h3m-236 1h3m-1 0h3m6 0h3m34 0h3m7 0h3m0 0h3m5 0h3m0 0h3m5 0h3m1 0h3m5 0h3m6 0h3m4 0h3m1 0h3m-2 0h3m0 0h3m4 0h3m12 0h3m-3 0h3m-2 0h3m17 0h3m6 0h3m-1 0h3m-2 0h3m-1 0h3m0 0h3m-2 0h3m4 0h3m-2 0h3m4 0h3m11 0h3m-2 0h3m6 0h3m0 0h3m10 0h3m-2 0h3m2 0h3m-2 0h3m15 0h3m-200 1h3m-1 0h3m14 0h3m31 0h3m-2 0h3m6 0h3m2 0h3m-3 0h3m5 0h3m13 0h3m6 0h3m11 0h3m-3 0h3m-1 0h3m-1 0h3m4 0h3m32 0h3m-202 1h3m20 0h3m21 0h3m4 0h3m-1 0h3m-1 0h3m9 0h3m2 0h3m-1 0h3m-1 0h3m13 0h3m-2 0h3m3 0h3m-3 0h3m23 0h3m6 0h3m2 0h3m1 0h3m15 0h3m-1 0h3m4 0h3m-1 0h3m-1 0h3m3 0h3m4 0h3m16 0h3m8 0h3m19 0h3m-240 1h3m3 0h3m-3 0h3m20 0h3m4 0h3m-2 0h3m-2 0h3m0 0h3m6 0h3m0 0h3m0 0h3m6 0h3m3 0h3m-3 0h3m-2 0h3m1 0h3m0 0h3m0 0h3m6 0h3m0 0h3m1 0h3m2 0h3m4 0h3m3 0h3m4 0h3m2 0h3m0 0h3m0 0h3m0 0h3m-2 0h3m7 0h3m-3 0h3m7 0h3m10 0h3m3 0h3m8 0h3m12 0h3m34 0h3m-256 1h3m7 0h3m18 0h3m31 0h3m16 0h3m5 0h3m14 0h3m6 0h3m7 0h3m2 0h3m-3 0h3m2 0h3m-1 0h3m0 0h3m13 0h3m-1 0h3m-2 0h3m18 0h3m40 0h3m-244 1h3m3 0h3m2 0h3m6 0h3m11 0h3m19 0h3m10 0h3m11 0h3m18 0h3m3 0h3m-3 0h3m1 0h3m-2 0h3m-2 0h3m6 0h3m4 0h3m-3 0h3m-2 0h3m-1 0h3m1 0h3m2 0h3m0 0h3m2 0h3m0 0h3m7 0h3m5 0h3m-3 0h3m25 0h3m-167 1h3m60 0h3m8 0h3m11 0h3m2 0h3m-3 0h3m2 0h3m-1 0h3m1 0h3m1 0h3m-3 0h3m23 0h3m6 0h3m0 0h3m0 0h3m9 0h3m5 0h3m53 0h3m3 0h3m-251 1h3m30 0h3m12 0h3m6 0h3m-2 0h3m29 0h3m-2 0h3m4 0h3m15 0h3m21 0h3m1 0h3m6 0h3m2 0h3m9 0h3m10 0h3m5 0h3m-183 1h3m31 0h3m24 0h3m6 0h3m2 0h3m5 0h3m6 0h3m17 0h3m0 0h3m3 0h3m12 0h3m14 0h3m6 0h3m19 0h3m5 0h3m-207 1h3m12 0h3m20 0h3m18 0h3m-3 0h3m16 0h3m5 0h3m-1 0h3m8 0h3m6 0h3m3 0h3m-1 0h3m9 0h3m11 0h3m10 0h3m11 0h3m0 0h3m11 0h3m-161 1h3m12 0h3m13 0h3m1 0h3m4 0h3m-1 0h3m-2 0h3m-1 0h3m-3 0h3m5 0h3m0 0h3m-3 0h3m4 0h3m3 0h3m9 0h3m-3 0h3m-2 0h3m2 0h3m9 0h3m2 0h3m2 0h3m-3 0h3m6 0h3m-1 0h3m-2 0h3m25 0h3m27 0h3m33 0h3m-266 1h3m16 0h3m2 0h3m15 0h3m3 0h3m7 0h3m4 0h3m10 0h3m0 0h3m-1 0h3m-2 0h3m12 0h3m5 0h3m13 0h3m6 0h3m11 0h3m-3 0h3m8 0h3m5 0h3m-1 0h3m-1 0h3m-1 0h3m-1 0h3m13 0h3m30 0h3m-216 1h3m18 0h3m5 0h3m8 0h3m28 0h3m-2 0h3m4 0h3m4 0h3m5 0h3m-2 0h3m7 0h3m6 0h3m-3 0h3m13 0h3m-3 0h3m-1 0h3m33 0h3m-3 0h3m19 0h3m-3 0h3m-1 0h3m-163 1h3m12 0h3m-1 0h3m2 0h3m1 0h3m5 0h3m-3 0h3m9 0h3m4 0h3m1 0h3m1 0h3m5 0h3m0 0h3m11 0h3m16 0h3m18 0h3m-146 1h3m11 0h3m12 0h3m-2 0h3m3 0h3m5 0h3m2 0h3m1 0h3m-1 0h3m3 0h3m-2 0h3m19 0h3m11 0h3m6 0h3m2 0h3m25 0h3m6 0h3m-2 0h3m6 0h3m6 0h3m15 0h3m-199 1h3m19 0h3m-3 0h3m-3 0h3m2 0h3m11 0h3m9 0h3m2 0h3m19 0h3m17 0h3m4 0h3m-2 0h3m2 0h3m0 0h3m-2 0h3m3 0h3m4 0h3m-1 0h3m1 0h3m-2 0h3m2 0h3m33 0h3m-184 1h3m23 0h3m9 0h3m-1 0h3m34 0h3m2 0h3m-3 0h3m4 0h3m-1 0h3m5 0h3m6 0h3m-2 0h3m-3 0h3m-2 0h3m4 0h3m22 0h3m22 0h3m5 0h3m1 0h3m4 0h3m4 0h3m-213 1h3m4 0h3m17 0h3m-2 0h3m21 0h3m16 0h3m3 0h3m2 0h3m-2 0h3m5 0h3m-2 0h3m3 0h3m13 0h3m-1 0h3m6 0h3m6 0h3m29 0h3m1 0h3m1 0h3m11 0h3m33 0h3m-196 1h3m-3 0h3m5 0h3m7 0h3m0 0h3m4 0h3m28 0h3m0 0h3m3 0h3m-1 0h3m0 0h3m1 0h3m-3 0h3m1 0h3m1 0h3m0 0h3m-1 0h3m0 0h3m7 0h3m-1 0h3m7 0h3m-3 0h3m0 0h3m16 0h3m15 0h3m1 0h3m26 0h3m-2 0h3m4 0h3m-1 0h3m11 0h3m11 0h3m24 0h3m-282 1h3m9 0h3m16 0h3m20 0h3m8 0h3m16 0h3m-1 0h3m-2 0h3m3 0h3m0 0h3m28 0h3m13 0h3m-1 0h3m12 0h3m1 0h3m-3 0h3m0 0h3m-2 0h3m3 0h3m1 0h3m-3 0h3m23 0h3m-2 0h3m18 0h3m-204 1h3m11 0h3m7 0h3m-2 0h3m6 0h3m-1 0h3m8 0h3m18 0h3m-2 0h3m0 0h3m8 0h3m-1 0h3m-2 0h3m14 0h3m19 0h3m19 0h3m5 0h3m7 0h3m-156 1h3m-2 0h3m18 0h3m2 0h3m-2 0h3m3 0h3m3 0h3m-1 0h3m1 0h3m-3 0h3m14 0h3m14 0h3m9 0h3m4 0h3m-3 0h3m2 0h3m7 0h3m15 0h3m2 0h3m-2 0h3m4 0h3m8 0h3m1 0h3m42 0h3m29 0h3m-250 1h3m3 0h3m3 0h3m14 0h3m12 0h3m-3 0h3m8 0h3m-2 0h3m1 0h3m8 0h3m-1 0h3m10 0h3m0 0h3m15 0h3m0 0h3m6 0h3m2 0h3m-3 0h3m5 0h3m-1 0h3m14 0h3m21 0h3m-203 1h3m12 0h3m14 0h3m24 0h3m1 0h3m13 0h3m13 0h3m10 0h3m7 0h3m-3 0h3m31 0h3m-2 0h3m1 0h3m-2 0h3m5 0h3m10 0h3m0 0h3m0 0h3m3 0h3m-183 1h3m70 0h3m11 0h3m0 0h3m2 0h3m0 0h3m1 0h3m7 0h3m2 0h3m14 0h3m10 0h3m-2 0h3m-169 1h3m15 0h3m30 0h3m10 0h3m1 0h3m-3 0h3m1 0h3m2 0h3m5 0h3m20 0h3m11 0h3m1 0h3m9 0h3m3 0h3m1 0h3m15 0h3m7 0h3m23 0h3m-2 0h3m-186 1h3m1 0h3m4 0h3m13 0h3m8 0h3m2 0h3m2 0h3m1 0h3m16 0h3m8 0h3m8 0h3m-1 0h3m4 0h3m10 0h3m15 0h3m3 0h3m4 0h3m13 0h3m6 0h3m-166 1h3m2 0h3m-1 0h3m61 0h3m9 0h3m15 0h3m-2 0h3m7 0h3m2 0h3m3 0h3m2 0h3m9 0h3m2 0h3m40 0h3m-193 1h3m0 0h3m17 0h3m6 0h3m17 0h3m5 0h3m17 0h3m4 0h3m2 0h3m18 0h3m-2 0h3m-1 0h3m-1 0h3m2 0h3m0 0h3m1 0h3m14 0h3m8 0h3m-2 0h3m2 0h3m29 0h3m-190 1h3m14 0h3m38 0h3m-1 0h3m6 0h3m-3 0h3m4 0h3m9 0h3m3 0h3m-3 0h3m5 0h3m56 0h3m6 0h3m4 0h3m-213 1h3m69 0h3m7 0h3m0 0h3m21 0h3m5 0h3m10 0h3m3 0h3m-2 0h3m12 0h3m5 0h3m5 0h3m-1 0h3m15 0h3m1 0h3m5 0h3m-1 0h3m23 0h3m34 0h3m-229 1h3m-1 0h3m6 0h3m18 0h3m25 0h3m0 0h3m10 0h3m16 0h3m15 0h3m2 0h3m0 0h3m12 0h3m17 0h3m-1 0h3m-188 1h3m13 0h3m10 0h3m0 0h3m9 0h3m26 0h3m3 0h3m0 0h3m3 0h3m7 0h3m2 0h3m8 0h3m8 0h3m-1 0h3m1 0h3m-2 0h3m-3 0h3m10 0h3m16 0h3m3 0h3m56 0h3m5 0h3m-247 1h3m8 0h3m13 0h3m47 0h3m-3 0h3m8 0h3m13 0h3m1 0h3m2 0h3m-1 0h3m22 0h3m2 0h3m10 0h3m-2 0h3m34 0h3m12 0h3m1 0h3m-174 1h3m25 0h3m22 0h3m7 0h3m3 0h3m2 0h3m8 0h3m-3 0h3m24 0h3m5 0h3m13 0h3m9 0h3m5 0h3m4 0h3m41 0h3m-237 1h3m3 0h3m25 0h3m69 0h3m3 0h3m10 0h3m-3 0h3m5 0h3m12 0h3m18 0h3m4 0h3m8 0h3m-203 1h3m24 0h3m19 0h3m8 0h3m24 0h3m-1 0h3m-3 0h3m14 0h3m1 0h3m-3 0h3m1 0h3m8 0h3m7 0h3m-2 0h3m10 0h3m5 0h3m3 0h3m7 0h3m11 0h3m5 0h3m5 0h3m5 0h3m21 0h3m22 0h3m-243 1h3m51 0h3m18 0h3m-2 0h3m13 0h3m22 0h3m-2 0h3m30 0h3m29 0h3m21 0h3m7 0h3m31 0h3m-192 1h3m1 0h3m34 0h3m12 0h3m7 0h3m2 0h3m9 0h3m15 0h3m48 0h3m-224 1h3m26 0h3m4 0h3m2 0h3m1 0h3m17 0h3m5 0h3m3 0h3m-2 0h3m23 0h3m0 0h3m16 0h3m1 0h3m13 0h3m4 0h3m12 0h3m-3 0h3m-2 0h3m-150 1h3m4 0h3m15 0h3m14 0h3m7 0h3m2 0h3m16 0h3m1 0h3m6 0h3m-1 0h3m2 0h3m-1 0h3m0 0h3m0 0h3m-1 0h3m5 0h3m4 0h3m-1 0h3m1 0h3m1 0h3m-2 0h3m4 0h3m29 0h3m-218 1h3m10 0h3m24 0h3m59 0h3m11 0h3m-2 0h3m12 0h3m10 0h3m5 0h3m7 0h3m2 0h3m0 0h3m11 0h3m11 0h3m-165 1h3m2 0h3m16 0h3m8 0h3m6 0h3m24 0h3m11 0h3m21 0h3m7 0h3m10 0h3m28 0h3m-199 1h3m6 0h3m27 0h3m-2 0h3m9 0h3m1 0h3m35 0h3m-2 0h3m3 0h3m16 0h3m11 0h3m6 0h3m11 0h3m1 0h3m-1 0h3m42 0h3m6 0h3m-174 1h3m8 0h3m-1 0h3m-1 0h3m4 0h3m69 0h3m8 0h3m2 0h3m14 0h3m1 0h3m-2 0h3m-185 1h3m21 0h3m4 0h3m34 0h3m6 0h3m-3 0h3m23 0h3m3 0h3m19 0h3m68 0h3m9 0h3m-166 1h3m38 0h3m-1 0h3m6 0h3m24 0h3m95 0h3m-194 1h3m30 0h3m25 0h3m4 0h3m-2 0h3m8 0h3m10 0h3m20 0h3m50 0h3m7 0h3m-215 1h3m20 0h3m19 0h3m7 0h3m24 0h3m46 0h3m0 0h3m-2 0h3m20 0h3m16 0h3m14 0h3m-134 1h3m4 0h3m-3 0h3m2 0h3m18 0h3m10 0h3m24 0h3m16 0h3m2 0h3m4 0h3m-3 0h3m70 0h3m-239 1h3m37 0h3m3 0h3m5 0h3m14 0h3m-2 0h3m-2 0h3m65 0h3m29 0h3m21 0h3m-209 1h3m11 0h3m52 0h3m12 0h3m10 0h3m17 0h3m32 0h3m5 0h3m73 0h3m-189 1h3m48 0h3m9 0h3m39 0h3m8 0h3m-131 1h3m29 0h3m6 0h3m2 0h3m5 0h3m18 0h3m0 0h3m0 0h3m38 0h3m36 0h3m37 0h3m-176 1h3m10 0h3m11 0h3m10 0h3m-1 0h3m0 0h3m7 0h3m6 0h3m15 0h3m9 0h3m100 0h3m-199 1h3m22 0h3m11 0h3m29 0h3m5 0h3m-96 1h3m95 0h3m-143 1h3m3 0h3m25 0h3m15 0h3m41 0h3m35 0h3m82 0h3m-229 1h3m76 0h3m37 0h3m1 0h3m7 0h3m17 0h3m-82 1h3m44 0h3m0 0h3m5 0h3m24 0h3m-116 1h3m37 0h3m33 0h3m49 0h3m-162 1h3m94 0h3m34 0h3m14 0h3m32 0h3m7 0h3m-129 1h3m75 0h3m68 0h3m-133 1h3m16 0h3m3 0h3m11 0h3m-1 0h3m-84 1h3m8 0h3m60 0h3m-116 2h3m43 0h3m82 0h3m-144 1h3m61 0h3m72 0h3m32 0h3m-61 1h3m40 0h3m2 0h3m-7 1h3m10 0h3m-150 1h3m111 0h3m69 0h3m-147 1h3m-1 0h3m-36 1h3m14 0h3m98 0h3m-60 1h3m51 0h3m-147 1h3m139 0h3m-90 1h3m124 0h3m-159 2h3m-2 0h3m43 0h3m-29 1h3m-2 0h3m122 0h3m-186 1h3m3 1h3m0 0h3m22 0h3m-3 0h3m233 0h3m-241 2h3m107 0h3m-156 1h3m55 0h3m-22 1h3m43 0h3m-54 1h3m13 0h3m3 0h3m23 0h3m1 0h3m-56 1h3m46 2h3m5 0h3m11 2h3m-39 1h3m2 1h3m8 0h3m-9 5h3m-78 1h3m25 0h3m11 0h3m-11 1h3m42 1h3m-27 1h3m18 1h3m-20 2h3m-13 1h3m25 1h3m-13 1h3m0 0h3m-54 4h3m20 1h3m24 0h3m-22 1h3m19 1h3m-60 2h3m38 2h3m-2 0h3m23 2h3m-58 3h3m-2 3h3m38 5h3m-19 3h3m-63 5h3m43 0h3m-12 11h3m38 2h3" stroke="#161616" stroke-width="2.8"/><path d="M121 676h3m125 7h3m-76 6h3m47 1h3m-63 2h3m-42 10h3m52 3h3m153 1h3m-108 1h3m-44 3h3m43 0h3m-24 1h3m-56 1h3m86 1h3m3 0h3m44 0h3m-129 1h3m14 0h3m-26 2h3m53 0h3m9 0h3m-83 1h3m93 0h3m26 1h3m3 0h3m-44 1h3m-77 2h3m37 0h3m-26 1h3m88 0h3m2 0h3m-116 2h3m151 0h3m-117 1h3m-75 2h3m17 0h3m-3 0h3m33 0h3m24 0h3m87 0h3m-201 1h3m27 0h3m104 0h3m77 0h3m-150 1h3m81 0h3m47 0h3m-163 1h3m79 0h3m-42 1h3m93 0h3m-71 2h3m-103 1h3m30 0h3m20 0h3m-75 1h3m99 0h3m40 0h3m-73 1h3m4 0h3m-2 0h3m61 0h3m18 0h3m-103 1h3m6 0h3m65 0h3m2 0h3m-140 1h3m26 1h3m162 0h3m30 0h3m-196 1h3m44 0h3m-46 1h3m75 0h3m-127 2h3m-2 0h3m53 0h3m27 0h3m55 0h3m-152 1h3m44 0h3m78 0h3m-114 1h3m41 1h3m-1 0h3m51 0h3m23 0h3m9 0h3m-142 1h3m75 0h3m-2 0h3m58 0h3m-139 1h3m57 0h3m112 0h3m-35 1h3m8 3h3m-2 0h3m-117 1h3m-3 3h3m29 0h3m-27 1h3m34 0h3m8 0h3m-100 1h3m63 0h3m-5 1h3m0 0h3m31 0h3m-72 1h3m158 0h3m-206 1h3m11 1h3m70 0h3m43 0h3m-96 1h3m34 1h3m133 0h3m-148 3h3m-17 1h3m65 0h3m-24 1h3m89 0h3m-126 2h3m51 0h3m-20 2h3m-84 1h3m10 0h3m-24 1h3m-38 3h3m10 0h3m94 0h3m46 3h3m-98 1h3m67 0h3m-73 3h3m-51 1h3m57 0h3m77 0h3m-134 2h3m15 0h3m-19 1h3m60 2h3m-34 6h3m-5 2h3m50 0h3m-77 1h3m62 0h3m-60 1h3m35 0h3m17 0h3m-33 1h3m13 2h3m2 2h3m-35 1h3m-6 1h3m26 0h3m-24 1h3m80 0h3m-123 1h3m46 0h3m0 0h3m-44 2h3m-38 1h3m57 1h3m8 0h3m6 1h3m-85 1h3m35 0h3m7 0h3m49 2h3m-53 2h3m25 0h3m-35 1h3m6 0h3m12 0h3m15 0h3m-35 1h3m-29 1h3m13 0h3m61 0h3m0 1h3m-115 1h3m115 0h3m-110 2h3m12 1h3m74 0h3m-55 1h3m64 0h3m29 0h3m-22 1h3m-139 1h3m79 0h3m-86 3h3m37 0h3m26 0h3m-20 1h3m9 0h3m-26 1h3m19 0h3m16 0h3m20 0h3m-89 1h3m20 0h3m0 1h3m42 1h3m-94 1h3m72 0h3m29 1h3m-28 1h3m-46 1h3m19 0h3m-33 1h3m-6 1h3m12 0h3m12 0h3m-61 1h3m40 0h3m2 0h3m26 1h3m-81 1h3m7 0h3m60 0h3m-57 1h3m8 0h3m12 0h3m-16 1h3m9 0h3m79 0h3m8 0h3m-140 1h3m17 0h3m35 0h3m8 0h3m29 0h3m29 1h3m17 0h3m-105 1h3m-3 0h3m0 1h3m41 0h3m24 0h3m2 0h3m-70 1h3m-2 0h3m-15 1h3m31 0h3m-39 1h3m-21 2h3m55 0h3m2 1h3m20 0h3m-3 1h3m-93 1h3m16 3h3m23 0h3m3 0h3m-33 1h3m2 1h3m-29 1h3m58 1h3m0 1h3m11 0h3m-61 2h3m10 0h3m14 0h3m7 0h3m17 3h3m-26 1h3m-29 3h3m89 3h3m-75 2h3m-36 2h3m45 1h3m-51 1h3m21 0h3m8 3h3m-31 2h3m47 0h3" stroke="#f7dc08" stroke-width="2.8" stroke-opacity="0.4"/><path d="M194 688h3m56 3h3m23 2h3m-94 5h3m17 1h3m11 1h3m29 2h3m102 0h3m-149 1h3m3 1h3m-101 1h3m11 0h3m113 0h3m-29 1h3m133 1h3m-155 2h3m48 0h3m69 0h3m-117 1h3m-86 2h3m-2 0h3m81 0h3m-10 1h3m18 1h3m3 0h3m1 0h3m41 1h3m-56 1h3m13 0h3m40 0h3m68 0h3m4 0h3m-197 1h3m30 0h3m5 1h3m20 0h3m40 0h3m-110 1h3m-58 1h3m31 0h3m1 0h3m27 0h3m42 0h3m-114 1h3m19 0h3m82 0h3m-11 2h3m42 0h3m-78 1h3m-5 1h3m6 0h3m-12 1h3m23 0h3m-99 1h3m25 1h3m70 0h3m11 0h3m27 0h3m-15 1h3m11 0h3m40 0h3m-162 1h3m38 0h3m78 0h3m-81 1h3m5 0h3m48 0h3m-59 1h3m17 0h3m4 0h3m48 0h3m-102 1h3m127 0h3m-197 1h3m61 0h3m9 0h3m16 0h3m92 0h3m-89 1h3m11 1h3m-44 1h3m-5 1h3m28 0h3m22 0h3m6 0h3m1 1h3m24 0h3m-1 0h3m-125 1h3m67 0h3m15 0h3m-53 1h3m64 0h3m3 0h3m-157 1h3m122 0h3m7 0h3m12 0h3m-100 1h3m29 0h3m79 0h3m46 0h3m-227 1h3m26 0h3m56 0h3m11 0h3m-52 1h3m65 0h3m29 0h3m25 0h3m-94 1h3m26 0h3m112 0h3m-150 1h3m9 0h3m13 0h3m22 0h3m5 0h3m-101 1h3m143 0h3m-182 1h3m32 2h3m13 0h3m38 0h3m-98 3h3m30 0h3m187 0h3m-231 1h3m2 0h3m94 0h3m5 1h3m1 0h3m-75 1h3m129 0h3m1 1h3m35 0h3m-117 3h3m-28 1h3m50 0h3m-85 1h3m27 0h3m4 0h3m0 0h3m6 0h3m14 0h3m-54 1h3m26 1h3m66 0h3m-153 1h3m127 0h3m-82 2h3m24 1h3m50 0h3m-43 2h3m-11 4h3m4 2h3m-47 2h3m-40 1h3m38 0h3m8 1h3m12 0h3m-39 1h3m140 0h3m-127 2h3m43 2h3m-67 2h3m25 0h3m18 3h3m-91 5h3m127 0h3m-69 1h3m-27 1h3m59 0h3m-45 1h3m-2 0h3m-41 3h3m33 3h3m-64 1h3m58 0h3m-1 0h3m7 1h3m25 1h3m-98 1h3m34 0h3m-52 1h3m37 0h3m17 0h3m-56 1h3m65 1h3m3 0h3m-48 1h3m40 2h3m-39 1h3m-38 1h3m32 0h3m-25 1h3m24 3h3m35 0h3m5 0h3m-91 1h3m7 0h3m24 0h3m66 0h3m-114 1h3m12 1h3m82 0h3m-89 2h3m-1 0h3m71 1h3m-18 1h3m42 0h3m-134 2h3m2 0h3m37 1h3m17 0h3m16 0h3m6 0h3m-80 1h3m6 0h3m26 0h3m4 0h3m4 0h3m-34 2h3m19 0h3m18 0h3m-50 1h3m-40 1h3m13 0h3m62 0h3m61 0h3m-35 1h3m-71 1h3m4 0h3m-2 0h3m11 0h3m29 0h3m-87 1h3m53 0h3m4 0h3m-49 2h3m41 0h3m90 0h3m-174 1h3m43 0h3m87 0h3m-136 2h3m77 0h3m-16 1h3m-23 1h3m-43 1h3m32 0h3m5 0h3m38 0h3m-2 0h3m15 0h3m-59 1h3m81 0h3m-43 1h3m-83 1h3m38 0h3m1 0h3m107 0h3m-159 1h3m57 0h3m24 0h3m-76 1h3m37 0h3m15 1h3m-65 1h3m6 0h3m13 0h3m-11 1h3m-8 1h3m65 0h3m-90 1h3m31 0h3m37 0h3m-67 1h3m49 0h3m-12 1h3m35 0h3m-67 1h3m49 0h3m-39 1h3m-4 2h3m23 0h3m-1 0h3m-62 1h3m-7 1h3m20 0h3m8 0h3m8 1h3m-9 2h3m74 0h3m-129 2h3m102 0h3m-120 1h3m88 0h3m25 0h3m-80 1h3m45 0h3m-19 2h3m-57 3h3m-16 2h3m21 0h3m9 0h3m-15 4h3m28 0h3m-9 1h3m-2 0h3m0 0h3m-28 1h3m-16 3h3m28 0h3m-19 1h3m44 0h3m12 2h3m-38 2h3m53 1h3m-54 1h3m-74 3h3m69 0h3" stroke="#f7dc08" stroke-width="2.8" stroke-opacity="0.4"/><path d="M208 661h3m-44 9h3m98 1h3m12 0h3m-161 6h3m73 0h3m-1 1h3m72 1h3m-42 1h3m-80 1h3m12 0h3m32 0h3m25 0h3m-22 1h3m87 2h3m-57 1h3m1 0h3m-5 1h3m35 0h3m-61 1h3m-74 1h3m109 0h3m62 0h3m-160 1h3m43 0h3m-48 1h3m22 0h3m-83 1h3m95 0h3m-29 1h3m34 0h3m5 0h3m28 0h3m-41 1h3m1 0h3m22 0h3m-109 1h3m14 0h3m102 0h3m-175 1h3m93 0h3m34 0h3m1 0h3m2 0h3m21 0h3m-87 1h3m26 0h3m4 0h3m4 0h3m2 0h3m-97 1h3m23 0h3m38 0h3m24 0h3m1 0h3m5 0h3m-101 1h3m18 0h3m43 0h3m0 0h3m1 0h3m25 0h3m6 0h3m4 0h3m-111 1h3m33 0h3m24 0h3m6 0h3m13 0h3m16 0h3m7 0h3m-167 1h3m23 0h3m-2 0h3m-1 0h3m-2 0h3m0 0h3m-2 0h3m50 0h3m12 0h3m17 0h3m4 0h3m44 0h3m-179 1h3m15 0h3m104 0h3m1 0h3m4 0h3m-121 1h3m9 0h3m35 0h3m66 0h3m-2 0h3m-1 0h3m0 0h3m-108 1h3m37 0h3m39 0h3m9 0h3m3 0h3m-1 0h3m0 0h3m5 0h3m15 0h3m-155 1h3m9 0h3m1 0h3m10 0h3m-2 0h3m8 0h3m29 0h3m8 0h3m2 0h3m15 0h3m8 0h3m1 0h3m17 0h3m17 0h3m-157 1h3m57 0h3m28 0h3m6 0h3m5 0h3m8 0h3m4 0h3m-136 1h3m5 0h3m4 0h3m38 0h3m43 0h3m22 0h3m6 0h3m-1 0h3m1 0h3m29 0h3m-178 1h3m9 0h3m41 0h3m11 0h3m39 0h3m8 0h3m2 0h3m11 0h3m47 0h3m-195 1h3m0 0h3m20 0h3m0 0h3m23 0h3m-2 0h3m12 0h3m-2 0h3m-2 0h3m19 0h3m15 0h3m29 0h3m-1 0h3m-116 1h3m4 0h3m41 0h3m7 0h3m9 0h3m10 0h3m20 0h3m26 0h3m-182 1h3m23 0h3m41 0h3m26 0h3m27 0h3m3 0h3m-2 0h3m1 0h3m18 0h3m-1 0h3m-153 1h3m28 0h3m7 0h3m4 0h3m-3 0h3m47 0h3m0 0h3m9 0h3m2 0h3m5 0h3m-165 1h3m37 0h3m38 0h3m15 0h3m-1 0h3m12 0h3m-3 0h3m31 0h3m1 0h3m4 0h3m26 0h3m-171 1h3m34 0h3m-3 0h3m29 0h3m5 0h3m1 0h3m58 0h3m2 0h3m13 0h3m4 0h3m-166 1h3m50 0h3m9 0h3m19 0h3m9 0h3m11 0h3m-1 0h3m-1 0h3m0 0h3m1 0h3m10 0h3m7 0h3m-116 1h3m22 0h3m-3 0h3m45 0h3m3 0h3m12 0h3m11 0h3m1 0h3m42 0h3m-223 1h3m4 0h3m9 0h3m56 0h3m25 0h3m16 0h3m-1 0h3m-2 0h3m3 0h3m0 0h3m-2 0h3m17 0h3m10 0h3m26 0h3m-2 0h3m-204 1h3m6 0h3m27 0h3m14 0h3m46 0h3m27 0h3m-2 0h3m2 0h3m12 0h3m-1 0h3m12 0h3m3 0h3m-181 1h3m76 0h3m3 0h3m-2 0h3m5 0h3m19 0h3m15 0h3m2 0h3m1 0h3m6 0h3m14 0h3m5 0h3m-149 1h3m6 0h3m52 0h3m3 0h3m2 0h3m9 0h3m-2 0h3m20 0h3m1 0h3m10 0h3m-2 0h3m8 0h3m-159 1h3m25 0h3m5 0h3m17 0h3m27 0h3m41 0h3m15 0h3m1 0h3m-154 1h3m6 0h3m32 0h3m4 0h3m42 0h3m6 0h3m12 0h3m-2 0h3m-105 1h3m-3 0h3m25 0h3m15 0h3m3 0h3m10 0h3m16 0h3m-1 0h3m4 0h3m2 0h3m19 0h3m6 0h3m4 0h3m-147 1h3m5 0h3m18 0h3m-3 0h3m26 0h3m7 0h3m3 0h3m-1 0h3m-2 0h3m14 0h3m2 0h3m18 0h3m58 0h3m-207 1h3m27 0h3m4 0h3m3 0h3m2 0h3m7 0h3m19 0h3m15 0h3m13 0h3m6 0h3m3 0h3m-129 1h3m18 0h3m18 0h3m12 0h3m48 0h3m21 0h3m5 0h3m0 0h3m8 0h3m24 0h3m-175 1h3m8 0h3m20 0h3m-2 0h3m10 0h3m11 0h3m86 0h3m-154 1h3m5 0h3m-3 0h3m5 0h3m16 0h3m10 0h3m12 0h3m9 0h3m5 0h3m31 0h3m-1 0h3m20 0h3m21 0h3m13 0h3m-173 1h3m6 0h3m13 0h3m2 0h3m7 0h3m46 0h3m17 0h3m15 0h3m7 0h3m82 0h3m-236 1h3m5 0h3m25 0h3m0 0h3m6 0h3m33 0h3m38 0h3m2 0h3m-3 0h3m8 0h3m6 0h3m36 0h3m-197 1h3m30 0h3m0 0h3m1 0h3m45 0h3m3 0h3m6 0h3m6 0h3m12 0h3m11 0h3m5 0h3m12 0h3m11 0h3m-192 1h3m16 0h3m8 0h3m15 0h3m22 0h3m-2 0h3m0 0h3m7 0h3m35 0h3m8 0h3m-3 0h3m41 0h3m16 0h3m-163 1h3m5 0h3m9 0h3m-3 0h3m32 0h3m11 0h3m33 0h3m7 0h3m8 0h3m-139 1h3m10 0h3m25 0h3m-3 0h3m54 0h3m14 0h3m-136 1h3m13 0h3m30 0h3m-1 0h3m35 0h3m15 0h3m-1 0h3m18 0h3m-2 0h3m0 0h3m-138 1h3m-3 0h3m25 0h3m4 0h3m12 0h3m11 0h3m7 0h3m10 0h3m32 0h3m12 0h3m13 0h3m-121 1h3m40 0h3m18 0h3m8 0h3m1 0h3m51 0h3m0 0h3m-188 1h3m22 0h3m-1 0h3m27 0h3m16 0h3m-1 0h3m10 0h3m0 0h3m-1 0h3m49 0h3m-1 0h3m-129 1h3m5 0h3m14 0h3m13 0h3m18 0h3m-74 1h3m3 0h3m40 0h3m-1 0h3m27 0h3m-2 0h3m6 0h3m30 0h3m-140 1h3m46 0h3m-3 0h3m2 0h3m-1 0h3m17 0h3m1 0h3m9 0h3m63 0h3m-147 1h3m31 0h3m16 0h3m10 0h3m68 0h3m-106 1h3m2 0h3m22 0h3m79 0h3m-117 1h3m5 0h3m8 0h3m37 0h3m56 0h3m10 0h3m10 0h3m-183 1h3m5 0h3m20 0h3m-1 0h3m30 0h3m30 0h3m62 0h3m37 0h3m-220 1h3m9 0h3m4 0h3m-3 0h3m3 0h3m2 0h3m13 0h3m20 0h3m8 0h3m12 0h3m5 0h3m42 0h3m31 0h3m-131 1h3m3 0h3m11 0h3m84 0h3m47 0h3m-213 1h3m19 0h3m19 0h3m27 0h3m17 0h3m15 0h3m6 0h3m-103 1h3m20 0h3m22 0h3m5 0h3m-65 1h3m4 0h3m35 0h3m4 0h3m0 0h3m20 0h3m-68 1h3m-2 0h3m14 0h3m-2 0h3m-1 0h3m20 0h3m74 0h3m-145 1h3m8 0h3m7 0h3m3 0h3m9 0h3m69 0h3m-95 1h3m18 0h3m4 0h3m0 0h3m20 0h3m15 0h3m-92 1h3m54 0h3m2 0h3m14 0h3m-43 1h3m-2 0h3m7 0h3m27 0h3m-66 1h3m-2 0h3m42 0h3m-53 1h3m9 0h3m13 1h3m50 0h3m9 0h3m-87 1h3m43 0h3m-37 1h3m27 0h3m45 0h3m-83 1h3m20 0h3m-31 1h3m13 0h3m-27 1h3m-3 0h3m16 1h3m14 0h3m8 1h3m-60 1h3m12 0h3m23 0h3m13 0h3m16 0h3m-62 2h3m14 0h3m2 0h3m36 0h3m-69 2h3m0 0h3m24 0h3m0 0h3m-18 1h3m16 0h3m13 0h3m-62 1h3m-12 1h3m80 4h3m-81 2h3m78 0h3m-63 1h3m2 4h3m18 4h3m-16 1h3m-12 3h3m-32 2h3m101 1h3m56 7h3m-25 1h3m8 4h3m-28 3h3m3 1h3m13 1h3m-11 2h3m-14 4h3m9 0h3m19 1h3m-16 1h3m-3 1h3m-10 1h3m-16 3h3m7 3h3m9 2h3m4 0h3m-3 0h3m-12 2h3m-11 1h3m4 0h3m7 1h3m-47 1h3m16 0h3m4 0h3m11 0h3m-16 1h3m30 0h3m-19 1h3m-44 2h3m37 0h3m1 0h3m-36 1h3m22 0h3m-20 1h3m23 2h3m-22 1h3m2 0h3m-2 0h3m21 0h3m-27 1h3m8 1h3m-21 3h3m2 0h3m-21 2h3m19 0h3m-15 1h3m9 0h3m13 0h3m-22 1h3m-10 1h3m20 3h3m-16 2h3m3 0h3m-19 1h3m8 7h3m-28 1h3m7 5h3m26 7h3m-30 13h3" stroke="#f7dc08" stroke-width="2.8" stroke-opacity="0.68"/><path d="M215 670h3m-20 2h3m45 0h3m-42 2h3m39 0h3m56 1h3m-162 2h3m81 0h3m-62 1h3m-44 2h3m55 0h3m-60 1h3m89 1h3m14 0h3m-99 1h3m92 0h3m-115 2h3m132 1h3m3 0h3m-33 1h3m-103 1h3m91 1h3m9 0h3m53 0h3m6 0h3m-171 1h3m6 0h3m23 0h3m72 0h3m-13 1h3m-93 1h3m22 0h3m14 0h3m86 0h3m13 0h3m-30 1h3m52 0h3m-164 1h3m3 0h3m2 0h3m0 0h3m57 0h3m1 0h3m31 0h3m-164 1h3m19 0h3m10 0h3m7 0h3m29 0h3m24 0h3m44 0h3m18 0h3m-76 1h3m1 0h3m47 0h3m-148 1h3m2 0h3m14 0h3m12 0h3m75 0h3m7 0h3m-117 1h3m112 0h3m19 0h3m8 0h3m-99 1h3m13 0h3m65 0h3m-146 1h3m11 0h3m15 0h3m60 0h3m20 0h3m17 0h3m2 0h3m3 0h3m-3 0h3m42 0h3m-188 1h3m15 0h3m17 0h3m-2 0h3m25 0h3m-83 1h3m6 0h3m36 0h3m21 0h3m2 0h3m17 0h3m10 0h3m-60 1h3m55 0h3m13 0h3m16 0h3m12 0h3m-171 1h3m20 0h3m32 0h3m77 0h3m11 0h3m0 0h3m5 0h3m-1 0h3m-140 1h3m55 0h3m14 0h3m4 0h3m2 0h3m23 0h3m5 0h3m0 0h3m-1 0h3m-3 0h3m-2 0h3m34 0h3m-155 1h3m61 0h3m1 0h3m-3 0h3m0 0h3m12 0h3m-2 0h3m19 0h3m-135 1h3m93 0h3m5 0h3m79 0h3m25 0h3m-219 1h3m7 0h3m2 0h3m28 0h3m12 0h3m25 0h3m-3 0h3m3 0h3m9 0h3m39 0h3m1 0h3m-166 1h3m21 0h3m14 0h3m13 0h3m4 0h3m13 0h3m-1 0h3m22 0h3m13 0h3m-2 0h3m-1 0h3m21 0h3m1 0h3m29 0h3m6 0h3m-191 1h3m2 0h3m72 0h3m6 0h3m9 0h3m63 0h3m5 0h3m8 0h3m1 0h3m-206 1h3m5 0h3m7 0h3m4 0h3m2 0h3m25 0h3m8 0h3m5 0h3m12 0h3m33 0h3m2 0h3m-1 0h3m-2 0h3m15 0h3m-103 1h3m41 0h3m3 0h3m-1 0h3m8 0h3m24 0h3m8 0h3m2 0h3m17 0h3m-184 1h3m12 0h3m16 0h3m42 0h3m17 0h3m15 0h3m18 0h3m1 0h3m0 0h3m15 0h3m0 0h3m-60 1h3m-1 0h3m12 0h3m6 0h3m5 0h3m8 0h3m13 0h3m-1 0h3m26 0h3m-186 1h3m16 0h3m9 0h3m28 0h3m-2 0h3m6 0h3m9 0h3m40 0h3m3 0h3m-159 1h3m40 0h3m40 0h3m16 0h3m34 0h3m8 0h3m17 0h3m8 0h3m-177 1h3m14 0h3m22 0h3m19 0h3m15 0h3m20 0h3m22 0h3m-1 0h3m32 0h3m-144 1h3m23 0h3m6 0h3m52 0h3m15 0h3m5 0h3m8 0h3m-128 1h3m21 0h3m2 0h3m37 0h3m-1 0h3m-3 0h3m26 0h3m27 0h3m42 0h3m-115 1h3m1 0h3m8 0h3m6 0h3m2 0h3m1 0h3m0 0h3m20 0h3m16 0h3m-157 1h3m4 0h3m10 0h3m-3 0h3m4 0h3m-1 0h3m-3 0h3m15 0h3m-3 0h3m10 0h3m1 0h3m11 0h3m-1 0h3m0 0h3m15 0h3m-3 0h3m23 0h3m6 0h3m-163 1h3m29 0h3m20 0h3m3 0h3m31 0h3m2 0h3m9 0h3m-2 0h3m6 0h3m7 0h3m14 0h3m1 0h3m1 0h3m16 0h3m-178 1h3m4 0h3m44 0h3m51 0h3m21 0h3m2 0h3m7 0h3m8 0h3m27 0h3m-175 1h3m2 0h3m25 0h3m0 0h3m28 0h3m16 0h3m10 0h3m8 0h3m0 0h3m15 0h3m0 0h3m2 0h3m19 0h3m-169 1h3m15 0h3m8 0h3m6 0h3m11 0h3m28 0h3m0 0h3m32 0h3m6 0h3m1 0h3m5 0h3m-1 0h3m-139 1h3m3 0h3m-1 0h3m18 0h3m2 0h3m36 0h3m20 0h3m16 0h3m-3 0h3m12 0h3m8 0h3m-157 1h3m0 0h3m7 0h3m1 0h3m24 0h3m-1 0h3m-1 0h3m23 0h3m8 0h3m11 0h3m35 0h3m14 0h3m-1 0h3m9 0h3m-152 1h3m0 0h3m11 0h3m21 0h3m14 0h3m11 0h3m33 0h3m1 0h3m26 0h3m15 0h3m-2 0h3m37 0h3m-213 1h3m7 0h3m14 0h3m2 0h3m5 0h3m5 0h3m9 0h3m-2 0h3m6 0h3m31 0h3m1 0h3m17 0h3m49 0h3m-185 1h3m3 0h3m5 0h3m2 0h3m4 0h3m22 0h3m54 0h3m27 0h3m25 0h3m-178 1h3m0 0h3m6 0h3m17 0h3m17 0h3m13 0h3m15 0h3m2 0h3m20 0h3m8 0h3m-1 0h3m9 0h3m-144 1h3m20 0h3m14 0h3m17 0h3m21 0h3m28 0h3m3 0h3m29 0h3m8 0h3m3 0h3m19 0h3m-188 1h3m6 0h3m-3 0h3m4 0h3m35 0h3m17 0h3m32 0h3m17 0h3m13 0h3m11 0h3m0 0h3m1 0h3m-149 1h3m14 0h3m3 0h3m8 0h3m39 0h3m2 0h3m15 0h3m19 0h3m-2 0h3m7 0h3m32 0h3m-179 1h3m10 0h3m5 0h3m4 0h3m4 0h3m11 0h3m16 0h3m29 0h3m-2 0h3m10 0h3m38 0h3m-173 1h3m-2 0h3m2 0h3m13 0h3m4 0h3m22 0h3m48 0h3m33 0h3m9 0h3m-167 1h3m28 0h3m-1 0h3m11 0h3m0 0h3m109 0h3m7 0h3m-126 1h3m5 0h3m-1 0h3m41 0h3m46 0h3m28 0h3m-143 1h3m4 0h3m-3 0h3m36 0h3m43 0h3m1 0h3m44 0h3m-185 1h3m12 0h3m-3 0h3m6 0h3m115 0h3m8 0h3m49 0h3m-189 1h3m29 0h3m5 0h3m23 0h3m36 0h3m-116 1h3m0 0h3m21 0h3m6 0h3m9 0h3m12 0h3m6 0h3m7 0h3m20 0h3m-85 1h3m19 0h3m15 0h3m63 0h3m12 0h3m17 0h3m-136 1h3m-1 0h3m-2 0h3m-1 0h3m10 0h3m25 0h3m17 0h3m13 0h3m-78 1h3m27 0h3m55 0h3m57 0h3m-133 1h3m11 0h3m-21 1h3m-2 0h3m12 0h3m10 0h3m-1 0h3m35 0h3m9 0h3m-121 1h3m6 0h3m55 0h3m55 0h3m-133 1h3m10 0h3m107 0h3m-2 0h3m-110 1h3m-17 1h3m14 0h3m5 0h3m14 0h3m74 0h3m-105 1h3m14 0h3m8 0h3m0 0h3m-51 1h3m38 0h3m-48 1h3m27 0h3m10 0h3m5 0h3m18 0h3m-68 1h3m8 0h3m46 0h3m39 0h3m-133 1h3m22 0h3m22 0h3m-27 1h3m20 0h3m1 0h3m1 0h3m17 0h3m46 0h3m-119 1h3m8 0h3m10 0h3m76 0h3m-99 1h3m7 0h3m-1 0h3m1 0h3m16 1h3m-34 1h3m12 0h3m23 0h3m-35 1h3m5 0h3m5 0h3m16 0h3m-25 1h3m27 0h3m11 0h3m-88 1h3m32 0h3m19 0h3m-57 1h3m-3 0h3m67 0h3m-18 1h3m-2 0h3m0 0h3m26 1h3m-73 1h3m31 0h3m1 0h3m-19 1h3m-32 1h3m41 1h3m-16 2h3m13 3h3m34 0h3m-75 1h3m-20 1h3m75 1h3m-46 1h3m29 2h3m-82 4h3m145 9h3m21 9h3m-22 2h3m-92 2h3m94 3h3m2 4h3m6 0h3m-2 1h3m-4 1h3m-19 1h3m7 0h3m5 1h3m-25 1h3m3 0h3m-30 2h3m40 1h3m-30 1h3m-6 1h3m36 0h3m-16 2h3m7 1h3m-15 1h3m-13 1h3m10 0h3m-5 1h3m0 0h3m-28 3h3m5 0h3m23 0h3m-37 1h3m21 0h3m0 1h3m-26 2h3m20 1h3m-41 1h3m1 0h3m14 0h3m7 2h3m-1 0h3m-15 3h3m-2 0h3m-1 0h3m7 0h3m-13 5h3m3 0h3m0 0h3m-41 1h3m25 0h3m4 0h3m11 1h3m-26 1h3m0 0h3m13 0h3m-21 1h3m0 0h3m-3 2h3m19 0h3m-19 3h3m-3 0h3m5 0h3m-8 1h3m-25 7h3m-6 2h3m27 1h3m-13 6h3m6 0h3m-12 3h3" stroke="#f7dc08" stroke-width="2.8" stroke-opacity="0.68"/><path d="M142 664h3m54 0h3m-38 3h3m90 6h3m-129 1h3m-14 2h3m126 0h3m25 1h3m-104 1h3m-30 1h3m131 1h3m-135 2h3m116 0h3m15 1h3m-170 1h3m131 1h3m-133 2h3m25 0h3m2 0h3m5 0h3m96 0h3m2 0h3m-4 1h3m-27 1h3m47 0h3m-128 1h3m64 0h3m12 0h3m7 1h3m11 0h3m38 0h3m-161 1h3m6 0h3m51 0h3m43 0h3m11 0h3m68 0h3m-201 1h3m60 0h3m83 0h3m-187 1h3m64 0h3m80 0h3m-2 0h3m-1 0h3m-155 1h3m42 0h3m113 0h3m-121 1h3m22 0h3m44 0h3m7 0h3m18 0h3m26 0h3m0 0h3m8 0h3m-178 1h3m17 0h3m45 0h3m32 0h3m-3 0h3m22 0h3m56 0h3m-201 1h3m27 0h3m24 0h3m52 0h3m11 0h3m4 0h3m1 0h3m4 0h3m35 0h3m-127 1h3m37 0h3m23 0h3m-2 0h3m73 0h3m-189 1h3m28 0h3m30 0h3m7 0h3m7 0h3m12 0h3m17 0h3m-138 1h3m26 0h3m91 0h3m7 0h3m19 0h3m12 0h3m-180 1h3m73 0h3m5 0h3m40 0h3m2 0h3m14 0h3m8 0h3m11 0h3m-170 1h3m14 0h3m14 0h3m4 0h3m28 0h3m28 0h3m5 0h3m27 0h3m2 0h3m23 0h3m1 0h3m-2 0h3m-145 1h3m26 0h3m38 0h3m18 0h3m2 0h3m0 0h3m11 0h3m10 0h3m29 0h3m-190 1h3m3 0h3m55 0h3m17 0h3m5 0h3m26 0h3m29 0h3m-156 1h3m7 0h3m-3 0h3m16 0h3m6 0h3m1 0h3m5 0h3m-2 0h3m31 0h3m10 0h3m2 0h3m6 0h3m11 0h3m-146 1h3m54 0h3m64 0h3m2 0h3m-2 0h3m39 0h3m-1 0h3m-3 0h3m-151 1h3m7 0h3m-1 0h3m3 0h3m62 0h3m3 0h3m4 0h3m-1 0h3m9 0h3m15 0h3m3 0h3m3 0h3m4 0h3m-1 0h3m-130 1h3m46 0h3m13 0h3m4 0h3m13 0h3m39 0h3m8 0h3m-73 1h3m0 0h3m10 0h3m-121 1h3m5 0h3m10 0h3m3 0h3m1 0h3m1 0h3m-2 0h3m0 0h3m46 0h3m14 0h3m31 0h3m9 0h3m16 0h3m7 0h3m-184 1h3m26 0h3m22 0h3m24 0h3m5 0h3m36 0h3m1 0h3m4 0h3m9 0h3m3 0h3m-132 1h3m37 0h3m122 0h3m8 0h3m-196 1h3m6 0h3m0 0h3m3 0h3m28 0h3m48 0h3m11 0h3m2 0h3m9 0h3m25 0h3m3 0h3m-182 1h3m1 0h3m3 0h3m20 0h3m1 0h3m-2 0h3m11 0h3m5 0h3m0 0h3m2 0h3m14 0h3m31 0h3m5 0h3m15 0h3m14 0h3m-165 1h3m13 0h3m60 0h3m33 0h3m3 0h3m2 0h3m25 0h3m-144 1h3m2 0h3m1 0h3m38 0h3m11 0h3m-2 0h3m-2 0h3m10 0h3m3 0h3m4 0h3m7 0h3m14 0h3m5 0h3m44 0h3m-187 1h3m-3 0h3m39 0h3m-2 0h3m21 0h3m12 0h3m25 0h3m21 0h3m21 0h3m37 0h3m45 0h3m-237 1h3m85 0h3m4 0h3m19 0h3m6 0h3m21 0h3m14 0h3m-196 1h3m15 0h3m10 0h3m-1 0h3m2 0h3m34 0h3m15 0h3m10 0h3m46 0h3m-3 0h3m4 0h3m0 0h3m-151 1h3m46 0h3m12 0h3m3 0h3m-2 0h3m22 0h3m1 0h3m15 0h3m-2 0h3m7 0h3m6 0h3m15 0h3m-170 1h3m18 0h3m23 0h3m33 0h3m21 0h3m25 0h3m20 0h3m-1 0h3m13 0h3m-161 1h3m-2 0h3m-1 0h3m8 0h3m24 0h3m11 0h3m-75 1h3m17 0h3m11 0h3m29 0h3m2 0h3m27 0h3m13 0h3m6 0h3m1 0h3m6 0h3m76 0h3m-228 1h3m23 0h3m17 0h3m15 0h3m15 0h3m32 0h3m3 0h3m7 0h3m12 0h3m4 0h3m16 0h3m-153 1h3m19 0h3m5 0h3m19 0h3m2 0h3m-3 0h3m-2 0h3m57 0h3m8 0h3m6 0h3m27 0h3m26 0h3m-216 1h3m28 0h3m18 0h3m17 0h3m-3 0h3m58 0h3m3 0h3m10 0h3m5 0h3m-156 1h3m5 0h3m26 0h3m15 0h3m3 0h3m0 0h3m33 0h3m48 0h3m-138 1h3m15 0h3m2 0h3m34 0h3m14 0h3m-2 0h3m14 0h3m13 0h3m18 0h3m9 0h3m-158 1h3m15 0h3m-2 0h3m1 0h3m0 0h3m17 0h3m1 0h3m-1 0h3m36 0h3m46 0h3m-2 0h3m3 0h3m28 0h3m-147 1h3m9 0h3m-3 0h3m-1 0h3m-1 0h3m86 0h3m7 0h3m-173 1h3m0 0h3m11 0h3m-2 0h3m26 0h3m9 0h3m0 0h3m-1 0h3m30 0h3m8 0h3m53 0h3m14 0h3m31 0h3m-217 1h3m12 0h3m6 0h3m-1 0h3m7 0h3m-1 0h3m11 0h3m17 0h3m39 0h3m0 0h3m23 0h3m-2 0h3m13 0h3m-163 1h3m4 0h3m3 0h3m-1 0h3m22 0h3m40 0h3m30 0h3m-86 1h3m2 0h3m5 0h3m-2 0h3m14 0h3m4 0h3m11 0h3m46 0h3m2 0h3m46 0h3m-175 1h3m57 0h3m38 0h3m11 0h3m-137 1h3m5 0h3m0 0h3m24 0h3m21 0h3m10 0h3m5 0h3m8 0h3m2 0h3m33 0h3m90 0h3m-211 1h3m5 0h3m35 0h3m11 0h3m35 0h3m11 0h3m71 0h3m19 0h3m-220 1h3m7 0h3m4 0h3m26 0h3m26 0h3m39 0h3m4 0h3m16 0h3m4 0h3m-145 1h3m7 0h3m9 0h3m3 0h3m5 0h3m20 0h3m8 0h3m12 0h3m52 0h3m-156 1h3m-3 0h3m6 0h3m9 0h3m28 0h3m14 0h3m20 0h3m3 0h3m45 0h3m2 0h3m-137 1h3m37 0h3m10 0h3m-52 1h3m10 0h3m0 0h3m1 0h3m4 0h3m11 0h3m28 0h3m26 0h3m-88 1h3m15 0h3m20 0h3m32 0h3m82 0h3m-172 1h3m13 0h3m5 0h3m18 0h3m3 0h3m-74 1h3m108 0h3m-3 0h3m1 0h3m25 0h3m-2 0h3m6 0h3m-138 1h3m7 0h3m-1 0h3m3 0h3m-1 0h3m44 0h3m31 0h3m8 0h3m-107 1h3m6 0h3m43 0h3m-91 1h3m12 0h3m19 0h3m-2 0h3m2 0h3m0 0h3m7 0h3m6 0h3m23 0h3m25 0h3m48 0h3m-141 1h3m7 0h3m29 0h3m-2 0h3m38 0h3m-115 1h3m25 0h3m-25 1h3m28 0h3m1 0h3m1 0h3m-25 1h3m16 0h3m11 0h3m92 0h3m-145 1h3m40 0h3m1 0h3m2 0h3m9 0h3m-32 1h3m-1 0h3m6 0h3m1 0h3m-2 0h3m-60 1h3m-1 0h3m37 0h3m-7 1h3m24 0h3m-75 1h3m21 0h3m1 0h3m77 0h3m-113 1h3m14 0h3m61 1h3m-75 1h3m23 0h3m-32 1h3m16 0h3m44 0h3m15 0h3m-1 0h3m15 0h3m-1 0h3m-112 1h3m0 0h3m22 1h3m36 0h3m-80 1h3m8 0h3m-8 3h3m31 0h3m16 0h3m18 2h3m-31 1h3m38 0h3m-86 2h3m23 0h3m-20 1h3m57 0h3m-71 2h3m64 1h3m-40 1h3m30 1h3m-39 5h3m18 0h3m-16 1h3m60 3h3m-96 3h3m128 7h3m12 4h3m-1 12h3m2 1h3m4 5h3m-3 1h3m-19 2h3m8 0h3m-2 0h3m-2 0h3m-5 4h3m-4 1h3m6 0h3m-32 4h3m28 1h3m-46 1h3m18 0h3m4 0h3m-2 0h3m-9 1h3m2 2h3m-4 2h3m3 0h3m6 0h3m-36 1h3m11 0h3m-4 2h3m-2 0h3m-1 0h3m16 0h3m-16 1h3m-11 1h3m16 0h3m-24 1h3m6 0h3m-41 3h3m27 0h3m-11 1h3m6 0h3m-12 1h3m-2 2h3m6 0h3m-3 2h3m2 1h3m-4 1h3m-26 1h3m2 2h3m11 1h3m-25 1h3m29 2h3m-33 2h3m7 2h3m-15 1h3m31 0h3m11 1h3m-36 1h3m-10 2h3m-7 2h3m13 2h3m5 4h3m-4 18h3" stroke="#f7dc08" stroke-width="2.8" stroke-opacity="0.68"/><path d="M208 674h3m-33 2h3m2 0h3m52 1h3m-92 1h3m90 3h3m-85 2h3m-43 1h3m194 1h3m-64 2h3m24 1h3m-167 1h3m-13 1h3m21 0h3m66 0h3m20 0h3m45 1h3m-2 0h3m-2 0h3m21 0h3m10 0h3m-105 1h3m1 0h3m21 0h3m46 0h3m-63 1h3m4 0h3m2 0h3m-116 1h3m49 0h3m64 0h3m3 0h3m2 0h3m-113 1h3m10 0h3m42 0h3m13 0h3m-45 1h3m53 0h3m13 0h3m20 0h3m20 0h3m-70 1h3m53 0h3m-35 1h3m6 0h3m2 0h3m-108 1h3m3 0h3m91 0h3m1 0h3m-58 1h3m-1 0h3m4 0h3m1 0h3m18 0h3m3 0h3m2 0h3m3 0h3m21 0h3m-131 1h3m46 0h3m31 0h3m0 0h3m2 0h3m18 0h3m6 0h3m-159 1h3m3 0h3m100 0h3m5 0h3m9 0h3m18 0h3m-122 1h3m1 0h3m16 0h3m83 0h3m-3 0h3m0 0h3m-110 1h3m4 0h3m58 0h3m14 0h3m1 0h3m3 0h3m-2 0h3m-2 0h3m8 0h3m-131 1h3m17 0h3m16 0h3m0 0h3m0 0h3m7 0h3m74 0h3m1 0h3m-147 1h3m58 0h3m31 0h3m4 0h3m1 0h3m3 0h3m34 0h3m-154 1h3m0 0h3m22 0h3m4 0h3m9 0h3m8 0h3m6 0h3m9 0h3m57 0h3m16 0h3m-174 1h3m10 0h3m15 0h3m23 0h3m37 0h3m40 0h3m25 0h3m2 0h3m-136 1h3m38 0h3m36 0h3m9 0h3m12 0h3m8 0h3m-3 0h3m8 0h3m3 0h3m22 0h3m-181 1h3m29 0h3m3 0h3m2 0h3m23 0h3m4 0h3m17 0h3m4 0h3m0 0h3m10 0h3m12 0h3m26 0h3m-2 0h3m10 0h3m-174 1h3m35 0h3m20 0h3m1 0h3m-1 0h3m3 0h3m24 0h3m10 0h3m16 0h3m4 0h3m28 0h3m-195 1h3m30 0h3m38 0h3m33 0h3m-1 0h3m1 0h3m-1 0h3m12 0h3m16 0h3m11 0h3m-3 0h3m11 0h3m2 0h3m-173 1h3m66 0h3m11 0h3m4 0h3m17 0h3m0 0h3m-3 0h3m76 0h3m-190 1h3m2 0h3m34 0h3m31 0h3m-2 0h3m42 0h3m26 0h3m-180 1h3m42 0h3m4 0h3m4 0h3m20 0h3m21 0h3m0 0h3m10 0h3m5 0h3m3 0h3m8 0h3m9 0h3m14 0h3m-182 1h3m24 0h3m3 0h3m7 0h3m23 0h3m-1 0h3m-2 0h3m10 0h3m1 0h3m4 0h3m10 0h3m1 0h3m-2 0h3m-122 1h3m28 0h3m23 0h3m-1 0h3m58 0h3m54 0h3m1 0h3m0 0h3m13 0h3m-185 1h3m1 0h3m40 0h3m5 0h3m-2 0h3m4 0h3m7 0h3m30 0h3m0 0h3m24 0h3m-145 1h3m21 0h3m19 0h3m0 0h3m1 0h3m3 0h3m40 0h3m-2 0h3m47 0h3m8 0h3m1 0h3m-177 1h3m44 0h3m-1 0h3m0 0h3m0 0h3m27 0h3m5 0h3m5 0h3m9 0h3m11 0h3m0 0h3m3 0h3m0 0h3m17 0h3m3 0h3m23 0h3m18 0h3m-212 1h3m12 0h3m-2 0h3m14 0h3m47 0h3m-3 0h3m15 0h3m8 0h3m22 0h3m1 0h3m-1 0h3m52 0h3m-194 1h3m31 0h3m2 0h3m8 0h3m2 0h3m15 0h3m20 0h3m6 0h3m18 0h3m-1 0h3m-1 0h3m4 0h3m36 0h3m-193 1h3m26 0h3m-2 0h3m16 0h3m7 0h3m33 0h3m31 0h3m7 0h3m8 0h3m18 0h3m28 0h3m-172 1h3m28 0h3m0 0h3m28 0h3m4 0h3m23 0h3m15 0h3m-129 1h3m32 0h3m-1 0h3m7 0h3m1 0h3m4 0h3m-3 0h3m1 0h3m19 0h3m21 0h3m13 0h3m17 0h3m-2 0h3m1 0h3m44 0h3m-219 1h3m9 0h3m35 0h3m5 0h3m9 0h3m-3 0h3m38 0h3m4 0h3m16 0h3m14 0h3m9 0h3m10 0h3m0 0h3m14 0h3m19 0h3m-207 1h3m14 0h3m1 0h3m-2 0h3m13 0h3m7 0h3m0 0h3m0 0h3m26 0h3m10 0h3m9 0h3m6 0h3m6 0h3m4 0h3m-125 1h3m2 0h3m-2 0h3m27 0h3m-2 0h3m8 0h3m13 0h3m35 0h3m17 0h3m1 0h3m12 0h3m-131 1h3m8 0h3m28 0h3m14 0h3m-73 1h3m0 0h3m2 0h3m6 0h3m22 0h3m13 0h3m11 0h3m10 0h3m27 0h3m21 0h3m7 0h3m-172 1h3m1 0h3m3 0h3m12 0h3m14 0h3m9 0h3m61 0h3m3 0h3m14 0h3m11 0h3m46 0h3m-222 1h3m2 0h3m17 0h3m2 0h3m18 0h3m-1 0h3m0 0h3m5 0h3m6 0h3m10 0h3m10 0h3m48 0h3m-1 0h3m7 0h3m4 0h3m-1 0h3m8 0h3m-1 0h3m-181 1h3m41 0h3m9 0h3m1 0h3m1 0h3m-2 0h3m4 0h3m15 0h3m23 0h3m19 0h3m16 0h3m-1 0h3m-1 0h3m-155 1h3m3 0h3m8 0h3m-2 0h3m23 0h3m21 0h3m12 0h3m19 0h3m25 0h3m16 0h3m5 0h3m38 0h3m-200 1h3m1 0h3m21 0h3m27 0h3m-1 0h3m70 0h3m35 0h3m9 0h3m-191 1h3m0 0h3m6 0h3m4 0h3m136 0h3m-163 1h3m3 0h3m44 0h3m16 0h3m7 0h3m55 0h3m20 0h3m63 0h3m-229 1h3m19 0h3m1 0h3m0 0h3m3 0h3m1 0h3m-1 0h3m10 0h3m25 0h3m80 0h3m-157 1h3m16 0h3m6 0h3m12 0h3m61 0h3m21 0h3m-82 1h3m74 0h3m-145 1h3m33 0h3m-1 0h3m0 0h3m35 0h3m-1 0h3m3 0h3m-64 1h3m-3 0h3m19 0h3m8 0h3m8 0h3m44 0h3m-113 1h3m10 0h3m6 0h3m0 0h3m13 0h3m6 0h3m-2 0h3m0 0h3m28 0h3m19 0h3m-103 1h3m10 0h3m17 0h3m16 0h3m29 0h3m18 0h3m-95 1h3m6 0h3m-3 0h3m3 0h3m33 0h3m4 0h3m31 0h3m8 0h3m44 0h3m-179 1h3m17 0h3m0 0h3m15 0h3m12 0h3m2 0h3m29 0h3m-2 0h3m3 0h3m56 0h3m42 0h3m-205 1h3m38 0h3m22 0h3m15 0h3m-82 1h3m7 0h3m4 0h3m-2 0h3m29 0h3m6 0h3m34 0h3m6 0h3m60 0h3m-152 1h3m5 0h3m0 0h3m-2 0h3m4 0h3m-44 1h3m11 0h3m9 0h3m34 0h3m66 0h3m-147 1h3m151 0h3m-145 1h3m10 0h3m-27 1h3m34 0h3m11 0h3m-27 1h3m15 0h3m18 0h3m41 0h3m-97 1h3m4 0h3m2 0h3m28 0h3m113 0h3m-107 1h3m-57 1h3m0 0h3m8 0h3m-2 0h3m18 0h3m-61 1h3m29 0h3m23 0h3m3 0h3m12 0h3m8 0h3m-65 1h3m-2 0h3m3 0h3m34 0h3m20 0h3m18 0h3m-92 1h3m0 0h3m40 0h3m-1 0h3m2 0h3m11 1h3m96 1h3m-74 1h3m-78 1h3m7 0h3m4 0h3m-39 1h3m28 0h3m-16 1h3m-5 2h3m8 0h3m55 0h3m-63 1h3m-9 1h3m3 0h3m18 0h3m14 0h3m-85 1h3m62 1h3m-48 2h3m7 0h3m-3 2h3m23 0h3m-7 1h3m40 1h3m-93 1h3m-11 4h3m112 0h3m-50 2h3m-41 5h3m11 8h3m25 1h3m64 16h3m26 1h3m-18 3h3m-12 2h3m4 0h3m13 0h3m-1 1h3m-25 1h3m21 0h3m-20 2h3m-16 1h3m3 1h3m-12 1h3m4 1h3m20 0h3m19 0h3m-34 1h3m-2 0h3m20 0h3m-38 1h3m3 3h3m-14 1h3m11 1h3m-1 0h3m6 0h3m-12 1h3m2 0h3m-23 1h3m1 1h3m9 0h3m14 1h3m6 0h3m-45 1h3m1 0h3m-14 1h3m13 0h3m11 1h3m-18 1h3m17 0h3m-11 1h3m-12 1h3m6 0h3m-3 1h3m-24 4h3m-3 0h3m-3 2h3m25 0h3m23 0h3m-35 1h3m3 1h3m8 0h3m-10 5h3m-12 2h3m-18 1h3m-6 1h3m14 0h3m2 0h3m7 0h3m-29 1h3m-22 1h3m1 3h3m4 3h3m0 1h3" stroke="#f7dc08" stroke-width="2.8" stroke-opacity="0.68"/><path d="M146 596h3m210 13h3m-55 25h3m-148 4h3m64 8h3m136 6h3m-67 1h3m-190 7h3m13 5h3m27 5h3m138 0h3m-112 1h3m98 3h3m-71 1h3m-13 1h3m77 0h3m-39 1h3m35 0h3m14 0h3m-58 1h3m-8 1h3m-17 1h3m-103 3h3m40 0h3m27 0h3m25 1h3m-123 1h3m149 0h3m16 0h3m11 0h3m13 0h3m-92 1h3m64 0h3m-107 1h3m60 0h3m16 0h3m-38 1h3m5 0h3m48 0h3m-59 1h3m0 0h3m-78 1h3m43 0h3m20 0h3m62 0h3m0 0h3m-120 1h3m90 0h3m-32 1h3m34 0h3m1 0h3m2 0h3m28 0h3m-74 1h3m-94 1h3m104 0h3m-91 1h3m19 0h3m58 0h3m0 0h3m0 0h3m10 0h3m0 0h3m8 0h3m0 0h3m-93 1h3m44 0h3m-99 1h3m86 0h3m4 0h3m6 0h3m-2 0h3m1 0h3m12 0h3m-177 1h3m33 0h3m64 0h3m40 0h3m1 0h3m9 0h3m0 0h3m0 0h3m10 0h3m22 0h3m-85 1h3m3 0h3m4 0h3m17 0h3m12 0h3m1 0h3m9 0h3m29 0h3m-87 1h3m2 0h3m11 0h3m0 0h3m-2 0h3m0 0h3m14 0h3m16 0h3m-1 0h3m-205 1h3m92 0h3m45 0h3m-1 0h3m29 0h3m7 0h3m-114 1h3m28 0h3m14 0h3m0 0h3m1 0h3m17 0h3m-1 0h3m9 0h3m21 0h3m-48 1h3m0 0h3m0 0h3m6 0h3m8 0h3m5 0h3m2 0h3m-90 1h3m28 0h3m-3 0h3m0 0h3m10 0h3m3 0h3m3 0h3m12 0h3m2 0h3m22 0h3m-134 1h3m45 0h3m0 0h3m26 0h3m-1 0h3m-1 0h3m-2 0h3m1 0h3m8 0h3m-1 0h3m-1 0h3m6 0h3m34 0h3m-202 1h3m84 0h3m25 0h3m25 0h3m-1 0h3m2 0h3m8 0h3m1 0h3m29 0h3m-184 1h3m27 0h3m3 0h3m91 0h3m2 0h3m-3 0h3m49 0h3m-219 1h3m128 0h3m19 0h3m1 0h3m-2 0h3m12 0h3m-1 0h3m10 0h3m-2 0h3m-202 1h3m-1 0h3m44 0h3m57 0h3m12 0h3m13 0h3m-2 0h3m8 0h3m8 0h3m-1 0h3m-2 0h3m-2 0h3m0 0h3m4 0h3m13 0h3m0 0h3m-1 0h3m-107 1h3m33 0h3m6 0h3m2 0h3m5 0h3m3 0h3m9 0h3m12 0h3m0 0h3m8 0h3m-2 0h3m-127 1h3m35 0h3m54 0h3m12 0h3m9 0h3m-2 0h3m-75 1h3m6 0h3m19 0h3m5 0h3m-1 0h3m8 0h3m-2 0h3m6 0h3m1 0h3m22 0h3m-173 1h3m-1 0h3m53 0h3m22 0h3m-3 0h3m2 0h3m10 0h3m1 0h3m15 0h3m8 0h3m1 0h3m8 0h3m6 0h3m-160 1h3m70 0h3m6 0h3m2 0h3m0 0h3m9 0h3m2 0h3m0 0h3m7 0h3m-3 0h3m3 0h3m9 0h3m7 0h3m1 0h3m1 0h3m9 0h3m-189 1h3m10 0h3m6 0h3m40 0h3m2 0h3m1 0h3m0 0h3m27 0h3m17 0h3m0 0h3m1 0h3m10 0h3m20 0h3m111 0h3m-193 1h3m5 0h3m5 0h3m7 0h3m17 0h3m9 0h3m4 0h3m-1 0h3m12 0h3m11 0h3m-126 1h3m17 0h3m-2 0h3m15 0h3m17 0h3m4 0h3m-1 0h3m2 0h3m2 0h3m-1 0h3m5 0h3m-181 1h3m59 0h3m48 0h3m12 0h3m5 0h3m5 0h3m7 0h3m-3 0h3m5 0h3m5 0h3m-81 1h3m10 0h3m21 0h3m13 0h3m11 0h3m10 0h3m-3 0h3m5 0h3m6 0h3m2 0h3m-155 1h3m47 0h3m-2 0h3m18 0h3m53 0h3m6 0h3m6 0h3m-3 0h3m4 0h3m-196 1h3m20 0h3m20 0h3m76 0h3m-2 0h3m3 0h3m0 0h3m10 0h3m-2 0h3m1 0h3m4 0h3m3 0h3m0 0h3m-1 0h3m8 0h3m8 0h3m-1 0h3m-184 1h3m32 0h3m50 0h3m14 0h3m22 0h3m2 0h3m5 0h3m-1 0h3m8 0h3m1 0h3m129 0h3m-176 1h3m-1 0h3m2 0h3m4 0h3m19 0h3m1 0h3m15 0h3m-201 1h3m72 0h3m34 0h3m20 0h3m6 0h3m7 0h3m3 0h3m-3 0h3m2 0h3m3 0h3m-1 0h3m25 0h3m-82 1h3m4 0h3m10 0h3m2 0h3m-2 0h3m-3 0h3m5 0h3m5 0h3m6 0h3m17 0h3m12 0h3m-193 1h3m42 0h3m15 0h3m20 0h3m23 0h3m34 0h3m-2 0h3m-2 0h3m11 0h3m11 0h3m-191 1h3m26 0h3m12 0h3m58 0h3m16 0h3m5 0h3m8 0h3m20 0h3m8 0h3m-3 0h3m0 0h3m-2 0h3m3 0h3m2 0h3m-116 1h3m5 0h3m20 0h3m4 0h3m2 0h3m17 0h3m2 0h3m2 0h3m-1 0h3m-1 0h3m-3 0h3m-2 0h3m-3 0h3m-1 0h3m7 0h3m0 0h3m5 0h3m-138 1h3m47 0h3m-1 0h3m10 0h3m16 0h3m15 0h3m1 0h3m22 0h3m0 0h3m-190 1h3m98 0h3m48 0h3m29 0h3m-3 0h3m54 0h3m-254 1h3m18 0h3m26 0h3m85 0h3m23 0h3m0 0h3m17 0h3m5 0h3m-134 1h3m3 0h3m51 0h3m-3 0h3m48 0h3m0 0h3m-1 0h3m2 0h3m-1 0h3m13 0h3m-161 1h3m5 0h3m38 0h3m43 0h3m21 0h3m16 0h3m2 0h3m9 0h3m-2 0h3m-128 1h3m-1 0h3m-1 0h3m9 0h3m0 0h3m30 0h3m9 0h3m2 0h3m8 0h3m2 0h3m3 0h3m-2 0h3m2 0h3m1 0h3m13 0h3m-160 1h3m106 0h3m21 0h3m5 0h3m2 0h3m-1 0h3m-3 0h3m4 0h3m-2 0h3m-2 0h3m28 0h3m-168 1h3m32 0h3m-2 0h3m22 0h3m66 0h3m4 0h3m18 0h3m-191 1h3m64 0h3m56 0h3m19 0h3m17 0h3m-1 0h3m-1 0h3m1 0h3m6 0h3m-183 1h3m5 0h3m50 0h3m26 0h3m27 0h3m21 0h3m6 0h3m-180 1h3m142 0h3m9 0h3m3 0h3m3 0h3m0 0h3m4 0h3m0 0h3m12 0h3m-206 1h3m117 0h3m54 0h3m2 0h3m6 0h3m6 0h3m12 0h3m-182 1h3m1 0h3m20 0h3m11 0h3m1 0h3m20 0h3m61 0h3m16 0h3m0 0h3m12 0h3m-193 1h3m142 0h3m-3 0h3m0 0h3m-1 0h3m-3 0h3m7 0h3m4 0h3m1 0h3m1 0h3m5 0h3m-202 1h3m30 0h3m15 0h3m7 0h3m2 0h3m56 0h3m33 0h3m8 0h3m0 0h3m-1 0h3m-124 1h3m38 0h3m53 0h3m9 0h3m-2 0h3m6 0h3m27 0h3m12 0h3m-167 1h3m4 0h3m18 0h3m30 0h3m19 0h3m13 0h3m2 0h3m7 0h3m12 0h3m4 0h3m2 0h3m13 0h3m-196 1h3m74 0h3m40 0h3m18 0h3m2 0h3m-1 0h3m-3 0h3m0 0h3m0 0h3m21 0h3m16 0h3m-199 1h3m60 0h3m2 0h3m-3 0h3m21 0h3m7 0h3m30 0h3m4 0h3m0 0h3m2 0h3m-3 0h3m-1 0h3m7 0h3m-3 0h3m-1 0h3m-177 1h3m24 0h3m34 0h3m28 0h3m41 0h3m-2 0h3m11 0h3m10 0h3m-1 0h3m0 0h3m-3 0h3m0 0h3m18 0h3m6 0h3m2 0h3m-185 1h3m43 0h3m27 0h3m-1 0h3m54 0h3m21 0h3m-161 1h3m-2 0h3m35 0h3m1 0h3m11 0h3m95 0h3m7 0h3m2 0h3m-200 1h3m27 0h3m26 0h3m1 0h3m35 0h3m39 0h3m21 0h3m7 0h3m13 0h3m-147 1h3m2 0h3m16 0h3m91 0h3m-3 0h3m-2 0h3m-1 0h3m-2 0h3m12 0h3m6 0h3m-171 1h3m11 0h3m5 0h3m37 0h3m1 0h3m7 0h3m15 0h3m11 0h3m9 0h3m6 0h3m2 0h3m-3 0h3m-2 0h3m-1 0h3m-184 1h3m5 0h3m24 0h3m11 0h3m2 0h3m3 0h3m3 0h3m-2 0h3m24 0h3m4 0h3m65 0h3m3 0h3m7 0h3m3 0h3m-3 0h3m-2 0h3m0 0h3m0 0h3m-169 1h3m112 0h3m10 0h3m7 0h3m10 0h3m-1 0h3m-2 0h3m-2 0h3m8 0h3m-2 0h3m-172 1h3m49 0h3m56 0h3m5 0h3m10 0h3m17 0h3m4 0h3m-1 0h3m1 0h3m-2 0h3m6 0h3m1 0h3m-1 0h3m-184 1h3m24 0h3m6 0h3m28 0h3m70 0h3m18 0h3m-2 0h3m-3 0h3m-164 1h3m17 0h3m28 0h3m91 0h3m-2 0h3m-2 0h3m7 0h3m-3 0h3m5 0h3m9 0h3m-2 0h3m2 0h3m-189 1h3m10 0h3m63 0h3m42 0h3m0 0h3m5 0h3m1 0h3m5 0h3m2 0h3m-3 0h3m17 0h3m14 0h3m8 0h3m-183 1h3m123 0h3m3 0h3m3 0h3m-2 0h3m18 0h3m-208 1h3m10 0h3m37 0h3m48 0h3m79 0h3m-1 0h3m1 0h3m-1 0h3m-162 1h3m13 0h3m26 0h3m51 0h3m35 0h3m6 0h3m-1 0h3m-2 0h3m8 0h3m2 0h3m-111 1h3m53 0h3m5 0h3m23 0h3m3 0h3m1 0h3m-25 1h3m0 0h3m5 0h3m-1 0h3m0 0h3m-181 1h3m96 0h3m0 0h3m28 0h3m3 0h3m26 0h3m5 0h3m12 0h3m-1 0h3m19 0h3m-73 1h3m-3 0h3m12 0h3m-2 0h3m3 0h3m6 0h3m1 0h3m11 0h3m-185 1h3m68 0h3m-1 0h3m32 0h3m27 0h3m8 0h3m4 0h3m9 0h3m34 0h3m-220 1h3m17 0h3m131 0h3m0 0h3m3 0h3m-3 0h3m5 0h3m0 0h3m-191 1h3m63 0h3m19 0h3m37 0h3m28 0h3m17 0h3m15 0h3m-1 0h3m0 0h3m0 0h3m9 0h3m-211 1h3m40 0h3m131 0h3m-2 0h3m2 0h3m-2 0h3m5 0h3m-114 1h3m51 0h3m22 0h3m2 0h3m18 0h3m0 0h3m4 0h3m-159 1h3m13 0h3m39 0h3m1 0h3m88 0h3m-179 1h3m51 0h3m20 0h3m54 0h3m10 0h3m8 0h3m-2 0h3m0 0h3m-2 0h3m3 0h3m0 0h3m7 0h3m-140 1h3m0 0h3m93 0h3m2 0h3m3 0h3m-1 0h3m7 0h3m11 0h3m-146 1h3m20 0h3m21 0h3m4 0h3m74 0h3m11 0h3m0 0h3m1 0h3m-170 1h3m94 0h3m28 0h3m18 0h3m-1 0h3m26 0h3m12 0h3m-191 1h3m48 0h3m28 0h3m0 0h3m28 0h3m25 0h3m12 0h3m-150 1h3m97 0h3m4 0h3m-2 0h3m7 0h3m4 0h3m-1 0h3m-199 1h3m15 0h3m9 0h3m42 0h3m24 0h3m25 0h3m37 0h3m44 0h3m0 0h3m-223 1h3m19 0h3m91 0h3m90 0h3m-155 1h3m8 0h3m109 0h3m8 0h3m5 0h3m1 0h3m9 0h3m-66 1h3m6 0h3m26 0h3m6 0h3m4 0h3m-189 1h3m34 0h3m104 0h3m-3 0h3m12 0h3m-1 0h3m0 0h3m-2 0h3m-1 0h3m8 0h3m-193 1h3m166 0h3m6 0h3m-3 0h3m5 0h3m2 0h3m2 0h3m-153 1h3m95 0h3m34 0h3m-2 0h3m21 0h3m-31 1h3m23 0h3m-33 1h3m-1 0h3m5 0h3m27 0h3m-146 1h3m104 0h3m15 0h3m-147 1h3m45 0h3m66 0h3m23 0h3m5 0h3m-39 1h3m-3 0h3m-1 0h3m-1 0h3m13 0h3m1 0h3m0 0h3m1 0h3m-48 1h3m19 0h3m27 0h3m2 0h3m-133 1h3m38 0h3m21 0h3m25 0h3m-1 0h3m18 0h3m-33 1h3m9 0h3m14 0h3m-3 0h3m-131 1h3m15 0h3m84 0h3m11 0h3m-46 1h3m56 0h3m23 0h3m-235 1h3m44 0h3m98 0h3m15 0h3m5 0h3m3 0h3m17 0h3m-139 1h3m93 0h3m-146 1h3m10 0h3m127 0h3m4 0h3m8 0h3m-2 0h3m28 0h3m9 0h3m-151 1h3m12 0h3m32 0h3m2 0h3m33 0h3m9 0h3m-2 0h3m0 0h3m6 0h3m-2 1h3m0 0h3m-22 1h3m4 0h3m17 0h3m-134 1h3m-78 1h3m141 0h3m17 0h3m-107 1h3m18 0h3m6 0h3m94 0h3m18 0h3m-91 1h3m22 0h3m20 0h3m21 0h3m5 0h3m-155 1h3m75 0h3m60 0h3m-21 1h3m0 0h3m52 0h3m-1 0h3m-54 1h3m36 0h3m-129 1h3m106 0h3m-163 1h3m43 0h3m78 0h3m16 0h3m22 0h3m-159 1h3m47 0h3m0 0h3m63 0h3m0 0h3m8 0h3m5 0h3m10 0h3m-31 1h3m-32 1h3m48 0h3m2 0h3m1 0h3m-22 1h3m-118 1h3m97 1h3m4 0h3m-34 1h3m40 0h3m19 0h3m-73 1h3m16 0h3m-39 2h3m20 0h3m-112 1h3m8 0h3m111 0h3m41 0h3m-47 1h3m-2 0h3m-2 0h3m-80 1h3m111 2h3m-10 1h3m-6 1h3m-129 1h3m81 0h3m28 0h3m11 0h3m-171 1h3m153 0h3m-17 1h3m-88 1h3m20 0h3m65 0h3m-152 1h3m99 0h3m32 0h3m-95 1h3m95 0h3m0 1h3m-169 2h3m68 0h3m38 1h3m59 0h3m-156 2h3m49 0h3m49 0h3m216 1h3m-193 1h3m14 0h3m-92 1h3m62 0h3m-2 0h3m42 0h3m-109 1h3m60 0h3m-80 2h3m7 1h3m74 0h3m20 0h3m-87 1h3m9 0h3m-65 1h3m38 0h3m103 0h3m-144 2h3m111 0h3m-119 1h3m89 0h3m29 0h3m-101 1h3m77 0h3m-86 1h3m72 2h3m-65 1h3m-77 2h3m64 1h3m36 0h3m-28 1h3m20 0h3m46 0h3m25 2h3m-178 2h3m23 0h3m-61 4h3m204 0h3m-77 3h3m-39 1h3m2 0h3m76 0h3m-79 3h3m-20 2h3m71 1h3m-49 1h3m50 0h3m-133 1h3m65 3h3m-73 8h3" stroke="#161616" stroke-width="2.8"/><path d="M626 754h3m13 6h3m-9 6h3m2 2h3m40 2h3m-60 3h3m-2 0h3m46 0h3m1 0h3m-53 2h3m11 0h3m-13 2h3m0 0h3m2 0h3m20 0h3m-21 1h3m-19 3h3m-17 2h3m11 0h3m4 0h3m8 0h3m13 1h3m-21 1h3m3 0h3m19 1h3m-54 1h3m1 0h3m9 0h3m4 1h3m52 0h3m-78 1h3m12 0h3m17 1h3m-52 2h3m17 0h3m30 0h3m15 4h3m-51 2h3m-1 0h3m26 0h3m11 1h3m-47 1h3m20 0h3m-2 0h3m-1 0h3m3 0h3m-35 3h3m2 0h3m4 0h3m7 0h3m-2 0h3m21 0h3m0 0h3m-52 1h3m-19 1h3m12 0h3m2 0h3m14 0h3m4 0h3m-6 1h3m-20 1h3m-15 1h3m8 0h3m7 0h3m9 0h3m-31 1h3m-3 0h3m-2 0h3m-8 1h3m11 0h3m18 0h3m-56 1h3m12 0h3m14 0h3m-11 1h3m5 0h3m1 0h3m-19 1h3m17 0h3m18 0h3m-40 1h3m4 0h3m-2 0h3m-2 0h3m-1 0h3m11 0h3m-39 1h3m4 0h3m1 0h3m8 0h3m12 0h3m-48 1h3m29 0h3m-22 1h3m6 0h3m-2 0h3m6 0h3m-28 1h3m-1 0h3m9 0h3m4 0h3m7 0h3m4 0h3m16 0h3m-47 1h3m-2 0h3m5 0h3m3 0h3m9 0h3m-60 1h3m15 0h3m13 0h3m-7 1h3m14 0h3m-28 1h3m-2 0h3m6 0h3m-1 0h3m9 0h3m0 0h3m-37 1h3m4 0h3m-2 0h3m8 0h3m13 0h3m-21 1h3m4 0h3m-1 0h3m7 0h3m-52 1h3m37 0h3m-42 1h3m-3 0h3m5 0h3m10 0h3m6 0h3m-1 0h3m5 0h3m9 0h3m1 0h3m5 0h3m-25 1h3m-44 1h3m5 0h3m1 0h3m13 0h3m-2 0h3m12 0h3m1 0h3m-46 1h3m11 0h3m5 0h3m2 0h3m9 0h3m2 0h3m4 0h3m-56 1h3m21 0h3m15 0h3m-35 1h3m11 0h3m11 0h3m1 0h3m12 0h3m8 0h3m-56 1h3m-1 0h3m10 0h3m0 0h3m2 0h3m17 0h3m-3 0h3m-54 1h3m11 0h3m3 0h3m-2 0h3m27 0h3m-63 1h3m0 0h3m49 0h3m-59 1h3m34 0h3m5 0h3m-32 1h3m-2 0h3m-1 0h3m1 0h3m21 0h3m4 1h3m1 0h3m-2 0h3m-64 1h3m12 0h3m12 0h3m0 0h3m0 0h3m-3 0h3m6 0h3m-1 0h3m17 0h3m12 0h3m-80 1h3m0 0h3m10 0h3m13 0h3m7 0h3m0 0h3m1 0h3m-45 1h3m8 0h3m9 0h3m-3 0h3m-26 1h3m2 0h3m-1 0h3m-1 0h3m13 0h3m4 0h3m-47 1h3m9 0h3m-1 0h3m-1 0h3m0 0h3m-11 1h3m4 0h3m-3 0h3m4 0h3m-1 0h3m1 0h3m2 0h3m14 0h3m0 0h3m-61 1h3m4 0h3m1 0h3m-1 0h3m9 0h3m6 0h3m26 0h3m-34 1h3m6 0h3m-26 1h3m-2 0h3m13 0h3m1 0h3m19 0h3m-55 1h3m0 0h3m5 0h3m4 0h3m-2 0h3m3 0h3m24 0h3m-50 1h3m19 0h3m0 0h3m-3 0h3m33 0h3m-48 1h3m-2 0h3m-3 0h3m3 0h3m4 0h3m-28 1h3m9 0h3m0 0h3m2 0h3m1 0h3m-33 1h3m6 0h3m15 0h3m-31 1h3m10 0h3m-1 0h3m-1 0h3m-2 0h3m-2 0h3m3 0h3m15 0h3m-3 0h3m1 0h3m-43 1h3m11 0h3m9 0h3m15 0h3m9 0h3m-38 1h3m-2 0h3m-2 0h3m3 0h3m-48 1h3m10 0h3m15 0h3m13 0h3m31 0h3m25 0h3m-109 1h3m19 0h3m3 0h3m1 0h3m-2 0h3m6 0h3m-22 1h3m-2 0h3m11 0h3m41 0h3m-84 1h3m12 0h3m9 0h3m-11 1h3m15 0h3m-3 0h3m1 0h3m2 0h3m9 0h3m-46 1h3m-2 0h3m6 0h3m-26 1h3m16 0h3m1 0h3m21 0h3m7 0h3m0 0h3m-67 2h3m9 0h3m10 0h3m8 0h3m-3 1h3m2 0h3m23 0h3m-50 1h3m12 0h3m1 0h3m4 0h3m-34 1h3m18 0h3m11 0h3m-1 0h3m-50 1h3m12 0h3m7 0h3m13 0h3m-16 1h3m-30 1h3m14 0h3m-2 0h3m-2 0h3m10 0h3m3 0h3m-50 1h3m10 0h3m6 0h3m14 0h3m-31 1h3m5 1h3m1 0h3m12 0h3m3 0h3m3 0h3m-16 1h3m1 0h3m-2 2h3m-2 0h3m11 0h3m-2 0h3m-17 1h3m-12 1h3m23 0h3m-49 1h3m-1 0h3m19 0h3m24 0h3m-16 1h3m-56 1h3m48 0h3m-27 1h3m19 0h3m4 0h3m-13 3h3m-2 0h3m-31 3h3m30 0h3m-39 1h3m33 3h3m-8 2h3m7 3h3m-28 2h3m8 0h3m-20 1h3m-3 0h3" stroke="#f7dc08" stroke-width="2.8" stroke-opacity="0.4"/><path d="M659 766h3m13 3h3m-47 4h3m20 1h3m24 1h3m-41 2h3m0 0h3m15 3h3m-46 1h3m22 0h3m10 1h3m13 0h3m-38 1h3m34 0h3m-55 1h3m40 2h3m-31 1h3m-20 1h3m12 0h3m7 0h3m3 0h3m6 0h3m-32 2h3m24 1h3m9 0h3m-37 1h3m-3 0h3m39 1h3m-38 1h3m-14 2h3m7 0h3m-10 1h3m-27 1h3m23 2h3m-27 1h3m27 0h3m0 0h3m4 0h3m-23 1h3m13 0h3m-1 0h3m2 0h3m4 0h3m-23 1h3m1 0h3m-9 1h3m7 0h3m1 0h3m-29 1h3m-2 0h3m5 0h3m2 0h3m-2 0h3m7 0h3m-18 1h3m-1 0h3m14 0h3m29 0h3m-74 1h3m3 0h3m13 0h3m-2 0h3m-3 0h3m4 0h3m2 0h3m-18 1h3m0 0h3m-1 0h3m1 0h3m3 1h3m21 0h3m-33 1h3m0 0h3m-34 1h3m10 0h3m8 0h3m1 0h3m-13 1h3m6 0h3m-3 0h3m1 0h3m-1 0h3m11 0h3m-27 1h3m-2 0h3m6 0h3m-1 0h3m-2 0h3m-39 1h3m14 0h3m7 0h3m0 0h3m2 0h3m9 0h3m4 0h3m-63 1h3m4 0h3m4 0h3m6 0h3m1 0h3m6 0h3m22 0h3m-47 1h3m-3 0h3m6 0h3m10 0h3m3 0h3m4 0h3m12 0h3m-72 1h3m20 0h3m9 0h3m17 0h3m-30 1h3m0 0h3m32 0h3m-62 1h3m2 0h3m-3 0h3m5 0h3m1 0h3m10 0h3m-1 0h3m15 0h3m-59 1h3m1 0h3m1 0h3m2 0h3m0 0h3m-1 0h3m20 0h3m5 0h3m-42 1h3m0 0h3m2 0h3m-3 0h3m19 1h3m1 0h3m-38 1h3m8 0h3m65 0h3m-62 1h3m-1 0h3m19 0h3m-10 1h3m-1 0h3m6 0h3m-33 1h3m1 0h3m3 0h3m4 0h3m-38 1h3m1 0h3m3 0h3m-4 1h3m38 0h3m-59 1h3m-4 1h3m0 0h3m6 0h3m-2 0h3m18 0h3m-34 1h3m0 0h3m-3 0h3m4 0h3m39 0h3m-55 1h3m11 0h3m29 0h3m-50 1h3m13 0h3m12 0h3m-1 0h3m13 0h3m3 0h3m7 0h3m-62 1h3m-11 1h3m13 0h3m-2 0h3m16 0h3m3 0h3m-33 1h3m21 0h3m7 0h3m1 0h3m1 0h3m0 0h3m-32 1h3m11 0h3m9 0h3m-34 1h3m5 0h3m30 0h3m-46 1h3m3 0h3m6 0h3m-1 0h3m-1 0h3m2 0h3m2 0h3m-33 1h3m5 0h3m-1 0h3m-3 0h3m25 0h3m0 0h3m-69 1h3m18 0h3m-2 0h3m-2 0h3m27 0h3m-25 1h3m-1 0h3m-12 1h3m15 0h3m-1 0h3m-36 1h3m13 0h3m-2 0h3m0 0h3m2 0h3m2 0h3m9 0h3m11 0h3m-55 1h3m3 0h3m11 0h3m1 0h3m10 0h3m-47 1h3m7 0h3m4 0h3m-1 0h3m9 0h3m-40 1h3m8 0h3m4 0h3m13 0h3m-3 0h3m0 0h3m-31 1h3m2 0h3m7 0h3m-2 0h3m0 0h3m-6 1h3m16 0h3m-3 0h3m6 0h3m8 0h3m-62 1h3m1 0h3m-2 0h3m14 0h3m-20 1h3m7 0h3m8 0h3m3 0h3m4 0h3m1 0h3m-2 0h3m1 0h3m30 0h3m-75 1h3m9 0h3m-3 0h3m46 0h3m-61 1h3m-2 0h3m-2 0h3m-2 0h3m8 0h3m1 0h3m-38 1h3m26 0h3m48 0h3m-82 1h3m7 0h3m7 0h3m9 0h3m6 0h3m-6 1h3m-12 1h3m4 0h3m2 0h3m2 0h3m10 0h3m-58 1h3m-3 0h3m13 0h3m9 0h3m-19 1h3m4 0h3m16 0h3m7 0h3m7 0h3m-50 1h3m61 0h3m-49 1h3m-2 0h3m15 0h3m-30 1h3m0 0h3m0 1h3m16 0h3m-17 1h3m3 0h3m-44 1h3m26 0h3m19 0h3m18 0h3m-44 1h3m12 1h3m-25 2h3m3 0h3m-11 1h3m2 0h3m10 0h3m-9 1h3m-15 1h3m-3 0h3m-3 0h3m6 0h3m-13 1h3m42 1h3m-33 1h3m-2 2h3m3 0h3m4 1h3m-39 1h3m36 0h3m11 0h3m-67 1h3m31 0h3m-24 1h3m-20 1h3m9 0h3m42 0h3m-51 2h3m14 0h3m7 1h3m-15 2h3m9 0h3m-3 0h3m-33 2h3m30 3h3m-10 2h3m8 2h3m-20 1h3m-1 0h3m23 2h3m-46 2h3" stroke="#f7dc08" stroke-width="2.8" stroke-opacity="0.4"/><path d="M622 662h3m2 16h3m31 2h3m-13 2h3m40 3h3m-65 1h3m62 1h3m-35 3h3m-4 1h3m33 0h3m13 0h3m-29 1h3m-55 1h3m-1 0h3m-1 0h3m148 0h3m-156 2h3m10 0h3m-3 0h3m7 0h3m-1 0h3m-53 2h3m25 0h3m25 1h3m21 0h3m-79 1h3m40 0h3m-38 1h3m16 0h3m37 0h3m-39 2h3m1 0h3m-21 1h3m6 0h3m-5 1h3m14 0h3m-50 1h3m3 0h3m18 0h3m19 0h3m-1 0h3m-2 0h3m-50 1h3m30 0h3m15 0h3m10 0h3m-32 1h3m-3 0h3m13 0h3m3 0h3m0 0h3m-2 0h3m-61 1h3m51 0h3m17 0h3m-1 0h3m-77 1h3m-3 0h3m2 0h3m2 0h3m3 0h3m13 0h3m6 0h3m-2 0h3m2 0h3m-3 0h3m5 0h3m2 0h3m-63 1h3m17 0h3m7 0h3m6 0h3m-42 1h3m7 0h3m7 0h3m4 0h3m19 0h3m-34 1h3m-2 0h3m10 0h3m1 0h3m2 0h3m12 0h3m23 0h3m-93 1h3m24 0h3m2 0h3m15 0h3m5 0h3m21 0h3m24 0h3m2 0h3m-102 1h3m3 0h3m3 0h3m0 0h3m0 0h3m21 0h3m-1 0h3m-23 1h3m1 0h3m30 0h3m-81 1h3m13 0h3m1 0h3m-2 0h3m1 0h3m6 0h3m-1 0h3m15 0h3m118 0h3m-174 1h3m8 0h3m-3 0h3m-18 1h3m10 0h3m-3 0h3m-2 0h3m5 0h3m1 0h3m9 0h3m-1 0h3m-1 0h3m10 0h3m3 0h3m-55 1h3m4 0h3m8 0h3m1 0h3m6 0h3m0 0h3m4 0h3m-33 1h3m5 0h3m3 0h3m1 0h3m0 0h3m6 0h3m8 0h3m0 0h3m-57 1h3m7 0h3m1 0h3m2 0h3m5 0h3m0 0h3m5 0h3m2 0h3m-3 0h3m14 0h3m5 0h3m31 0h3m-83 1h3m10 0h3m-2 0h3m-2 0h3m20 0h3m-73 1h3m3 0h3m12 0h3m-1 0h3m10 0h3m0 0h3m0 0h3m19 0h3m8 0h3m21 0h3m-89 1h3m2 0h3m-3 0h3m0 0h3m3 0h3m2 0h3m19 0h3m66 0h3m-118 1h3m11 0h3m10 0h3m3 0h3m12 0h3m-45 1h3m4 0h3m0 0h3m18 0h3m4 0h3m12 0h3m0 0h3m-2 0h3m2 0h3m2 0h3m14 0h3m-95 1h3m2 0h3m2 0h3m-2 0h3m2 0h3m7 0h3m8 0h3m17 0h3m51 0h3m-98 1h3m3 0h3m1 0h3m1 0h3m9 0h3m-3 0h3m2 0h3m20 0h3m-65 1h3m4 0h3m8 0h3m-2 0h3m-2 0h3m1 0h3m2 0h3m12 0h3m8 0h3m6 0h3m3 0h3m-64 1h3m11 0h3m25 0h3m-2 0h3m19 0h3m11 0h3m-79 1h3m-3 0h3m7 0h3m-1 0h3m9 0h3m9 0h3m20 0h3m15 0h3m-101 1h3m2 0h3m2 0h3m4 0h3m21 0h3m7 0h3m-37 1h3m-2 0h3m14 0h3m0 0h3m32 0h3m-51 1h3m-2 0h3m11 0h3m28 0h3m20 0h3m-98 1h3m12 0h3m2 0h3m0 0h3m12 0h3m17 0h3m28 0h3m-81 1h3m16 0h3m8 0h3m13 0h3m1 0h3m-3 0h3m20 0h3m-70 1h3m1 0h3m7 0h3m-1 0h3m46 0h3m83 0h3m-163 1h3m23 0h3m-3 0h3m4 0h3m6 0h3m-54 1h3m23 0h3m11 0h3m7 0h3m39 0h3m-85 1h3m15 0h3m29 0h3m3 0h3m-72 1h3m4 0h3m13 0h3m22 0h3m5 0h3m49 0h3m-74 1h3m1 0h3m-3 0h3m-2 0h3m-1 0h3m-31 1h3m7 0h3m3 0h3m14 0h3m0 0h3m-26 1h3m29 0h3m22 0h3m-67 1h3m3 0h3m-2 0h3m-12 1h3m15 0h3m-25 1h3m-2 0h3m15 0h3m1 0h3m4 0h3m-5 1h3m-2 0h3m-30 1h3m2 0h3m13 0h3m26 0h3m-39 1h3m-25 1h3m4 0h3m5 0h3m13 0h3m1 0h3m2 0h3m15 0h3m-25 1h3m69 0h3m-109 1h3m7 0h3m9 0h3m8 0h3m-4 1h3m-2 0h3m0 0h3m16 0h3m-44 1h3m-26 1h3m10 0h3m15 0h3m15 0h3m-3 0h3m20 0h3m0 0h3m14 0h3m-86 1h3m39 1h3m-2 0h3m12 1h3m0 0h3m-26 1h3m20 0h3m-44 1h3m-3 0h3m17 0h3m-28 1h3m50 1h3m-76 1h3m38 0h3m-39 1h3m3 1h3m25 0h3m-27 2h3m-6 1h3m5 0h3m10 0h3m39 0h3m19 0h3m-99 1h3m21 0h3m-5 1h3m-22 3h3m148 1h3m-110 5h3m-44 3h3m33 4h3m29 6h3" stroke="#f7dc08" stroke-width="2.8" stroke-opacity="0.68"/><path d="M755 660h3m-106 11h3m-31 1h3m45 0h3m2 1h3m-53 3h3m7 3h3m2 4h3m21 3h3m-35 1h3m12 0h3m-3 0h3m-9 5h3m14 0h3m10 1h3m32 0h3m-78 1h3m25 0h3m-46 1h3m-2 0h3m7 0h3m11 0h3m-1 2h3m-2 0h3m60 0h3m-81 2h3m7 0h3m59 0h3m-86 1h3m21 0h3m-2 0h3m-20 1h3m26 0h3m6 0h3m20 0h3m-53 1h3m6 0h3m2 0h3m-26 1h3m32 0h3m4 0h3m-27 1h3m15 0h3m-50 1h3m2 0h3m31 0h3m-21 1h3m9 0h3m1 0h3m6 0h3m-28 1h3m6 0h3m-2 0h3m23 0h3m-2 0h3m-53 1h3m3 0h3m8 0h3m8 0h3m-34 1h3m-2 0h3m10 0h3m15 0h3m-34 1h3m16 0h3m0 0h3m-2 0h3m57 0h3m71 0h3m-138 1h3m8 0h3m-3 0h3m7 0h3m-2 0h3m6 0h3m-32 1h3m12 0h3m10 0h3m39 0h3m-93 1h3m12 0h3m18 0h3m-1 0h3m9 0h3m-51 1h3m-3 0h3m10 0h3m-3 0h3m1 0h3m5 0h3m6 0h3m11 0h3m-59 1h3m17 0h3m13 0h3m1 0h3m35 0h3m50 0h3m-138 1h3m9 0h3m-2 0h3m1 0h3m6 0h3m58 0h3m-91 1h3m1 0h3m6 0h3m1 0h3m15 0h3m4 0h3m-1 0h3m9 0h3m46 0h3m-105 1h3m23 0h3m-3 0h3m19 0h3m97 0h3m-127 1h3m14 0h3m38 0h3m-71 1h3m8 0h3m6 0h3m4 0h3m2 0h3m1 0h3m5 0h3m5 0h3m12 0h3m-63 1h3m-2 0h3m4 0h3m38 0h3m52 0h3m-123 1h3m3 0h3m22 0h3m30 0h3m-70 1h3m6 0h3m15 0h3m4 0h3m9 0h3m4 0h3m0 0h3m-1 0h3m20 0h3m-73 1h3m2 0h3m4 0h3m1 0h3m0 0h3m2 0h3m7 0h3m3 0h3m-54 1h3m22 0h3m2 0h3m-3 0h3m-1 0h3m-3 0h3m12 0h3m38 0h3m-87 1h3m12 0h3m3 0h3m-1 0h3m6 0h3m16 0h3m4 0h3m42 0h3m-100 1h3m17 0h3m6 0h3m-2 0h3m0 0h3m-45 1h3m8 0h3m6 0h3m17 0h3m7 0h3m-2 0h3m0 0h3m7 0h3m6 0h3m2 0h3m-73 1h3m2 0h3m1 0h3m2 0h3m0 0h3m5 0h3m5 0h3m-3 0h3m18 0h3m-69 1h3m-1 0h3m6 0h3m-2 0h3m3 0h3m1 0h3m4 0h3m0 0h3m2 0h3m4 0h3m0 0h3m6 0h3m-64 1h3m6 0h3m14 0h3m-18 1h3m4 0h3m5 0h3m27 0h3m62 0h3m-107 1h3m0 0h3m2 0h3m9 0h3m-1 0h3m-1 0h3m31 0h3m1 0h3m40 0h3m0 0h3m-110 1h3m85 0h3m-92 1h3m6 0h3m-1 0h3m4 0h3m0 0h3m-2 0h3m-3 0h3m-1 0h3m-3 0h3m-2 0h3m20 0h3m7 0h3m117 0h3m-187 1h3m12 0h3m0 0h3m19 0h3m-29 1h3m8 0h3m-1 0h3m3 0h3m0 0h3m-1 0h3m-49 1h3m10 0h3m8 0h3m0 0h3m-2 0h3m-3 0h3m18 0h3m12 0h3m0 0h3m26 0h3m-92 1h3m11 0h3m0 0h3m2 0h3m10 0h3m10 0h3m15 0h3m2 0h3m11 0h3m-94 1h3m1 0h3m6 0h3m8 0h3m6 0h3m0 0h3m-2 0h3m11 0h3m16 0h3m14 0h3m47 0h3m-123 1h3m1 0h3m-2 0h3m1 0h3m9 0h3m1 0h3m12 0h3m34 0h3m-103 1h3m-2 0h3m4 0h3m17 0h3m13 0h3m19 0h3m4 0h3m0 0h3m42 0h3m-104 1h3m-2 0h3m8 0h3m0 0h3m28 0h3m-53 1h3m11 0h3m2 0h3m-1 0h3m52 0h3m-85 1h3m0 0h3m9 0h3m5 0h3m10 0h3m1 0h3m12 0h3m-39 1h3m-1 0h3m11 0h3m10 0h3m1 0h3m-2 0h3m0 0h3m-52 1h3m32 0h3m8 0h3m6 0h3m7 0h3m-49 1h3m5 0h3m-1 0h3m1 0h3m11 0h3m-51 1h3m20 0h3m9 0h3m0 0h3m8 0h3m-2 0h3m36 0h3m31 0h3m-126 1h3m20 0h3m4 0h3m6 0h3m17 0h3m-63 1h3m-1 0h3m28 0h3m20 0h3m-54 1h3m15 0h3m-1 0h3m-42 1h3m6 1h3m15 0h3m5 0h3m-25 1h3m3 0h3m3 0h3m17 0h3m-2 0h3m8 0h3m-53 1h3m16 0h3m0 0h3m3 0h3m14 0h3m4 0h3m-52 1h3m10 0h3m3 0h3m22 0h3m8 0h3m9 0h3m-57 1h3m-2 0h3m9 0h3m7 0h3m-39 1h3m26 0h3m-4 1h3m-28 1h3m-2 0h3m7 0h3m63 1h3m-77 1h3m15 0h3m13 1h3m21 0h3m-59 2h3m39 0h3m49 0h3m4 0h3m-98 2h3m29 0h3m-40 1h3m15 0h3m27 0h3m21 0h3m-86 2h3m20 0h3m-20 2h3m-6 3h3m4 2h3m26 0h3m-40 8h3m11 0h3m7 6h3" stroke="#f7dc08" stroke-width="2.8" stroke-opacity="0.68"/><path d="M643 673h3m-34 7h3m26 1h3m1 0h3m62 0h3m-67 1h3m-32 4h3m4 0h3m7 1h3m7 0h3m14 0h3m-26 1h3m-6 4h3m28 2h3m-56 1h3m7 0h3m6 0h3m115 0h3m-136 1h3m27 1h3m7 0h3m8 0h3m5 0h3m19 0h3m-62 1h3m0 0h3m65 0h3m-98 1h3m12 0h3m39 0h3m7 0h3m-30 1h3m0 0h3m-48 1h3m10 0h3m12 0h3m25 0h3m-46 1h3m39 0h3m16 0h3m1 0h3m-55 2h3m30 0h3m2 0h3m2 0h3m14 0h3m-51 1h3m2 0h3m-29 1h3m-2 0h3m28 0h3m38 0h3m-81 1h3m6 0h3m16 0h3m24 0h3m7 0h3m-66 1h3m27 0h3m-3 0h3m8 0h3m-34 1h3m0 0h3m2 0h3m13 0h3m0 0h3m0 0h3m10 0h3m3 0h3m83 0h3m-158 1h3m4 0h3m14 0h3m1 0h3m10 0h3m12 0h3m-40 1h3m7 0h3m66 0h3m16 0h3m-110 1h3m2 0h3m4 0h3m12 0h3m2 0h3m116 0h3m-141 1h3m53 0h3m-75 1h3m27 0h3m-2 0h3m83 0h3m-117 1h3m14 0h3m9 0h3m3 0h3m4 0h3m-1 0h3m-47 1h3m10 0h3m2 0h3m21 0h3m-48 1h3m6 0h3m4 0h3m71 0h3m-70 1h3m-1 0h3m44 0h3m-81 1h3m-2 0h3m-1 0h3m0 0h3m5 0h3m15 0h3m6 0h3m1 0h3m14 0h3m3 0h3m3 0h3m-65 1h3m42 0h3m-35 1h3m-3 0h3m-1 0h3m-1 0h3m14 0h3m11 0h3m9 0h3m-2 0h3m-67 1h3m-3 0h3m8 0h3m2 0h3m-2 0h3m6 0h3m6 0h3m0 0h3m45 0h3m-93 1h3m24 0h3m-3 0h3m-1 0h3m4 0h3m6 0h3m11 0h3m-72 1h3m12 0h3m2 0h3m3 0h3m8 0h3m7 0h3m5 0h3m72 0h3m-112 1h3m3 0h3m8 0h3m6 0h3m-2 0h3m-1 0h3m-50 1h3m1 0h3m1 0h3m3 0h3m9 0h3m-3 0h3m1 0h3m-1 0h3m-2 0h3m16 0h3m-51 1h3m4 0h3m6 0h3m0 0h3m6 0h3m4 0h3m-2 0h3m5 0h3m42 0h3m-76 1h3m7 0h3m5 0h3m2 0h3m-1 0h3m-2 0h3m13 0h3m-1 0h3m-58 1h3m1 0h3m10 0h3m-1 0h3m13 0h3m66 0h3m-115 1h3m8 0h3m0 0h3m-2 0h3m-1 0h3m3 0h3m-3 0h3m-2 0h3m1 0h3m-2 0h3m-1 0h3m2 0h3m-2 0h3m-1 0h3m7 0h3m5 0h3m-56 1h3m7 0h3m2 0h3m-2 0h3m8 0h3m-2 0h3m0 0h3m-1 0h3m30 0h3m26 0h3m-91 1h3m1 0h3m15 0h3m12 0h3m-3 0h3m8 0h3m-56 1h3m-1 0h3m15 0h3m6 0h3m-3 0h3m-3 0h3m-2 0h3m-1 0h3m2 0h3m23 0h3m-3 0h3m17 0h3m16 0h3m-86 1h3m9 0h3m9 0h3m3 0h3m14 0h3m-78 1h3m11 0h3m6 0h3m3 0h3m2 0h3m-2 0h3m19 0h3m-44 1h3m0 0h3m3 0h3m16 0h3m0 0h3m36 0h3m11 0h3m-100 1h3m36 0h3m6 0h3m-33 1h3m3 0h3m-3 0h3m10 0h3m-1 0h3m3 0h3m56 0h3m-102 1h3m-1 0h3m15 0h3m4 0h3m3 0h3m2 0h3m4 0h3m52 0h3m-85 1h3m-1 0h3m-1 0h3m11 0h3m16 0h3m-61 1h3m23 0h3m-2 0h3m1 0h3m22 0h3m4 0h3m-53 1h3m5 0h3m10 0h3m28 0h3m-2 0h3m45 0h3m8 0h3m-131 1h3m10 0h3m14 0h3m7 0h3m0 0h3m10 0h3m6 0h3m61 0h3m-128 1h3m70 0h3m26 0h3m-95 1h3m-1 0h3m7 0h3m3 0h3m5 0h3m18 0h3m65 0h3m-109 1h3m-2 0h3m10 0h3m-1 0h3m17 0h3m-46 1h3m11 0h3m2 0h3m-22 1h3m11 0h3m1 0h3m2 0h3m10 0h3m7 0h3m22 0h3m-90 1h3m30 0h3m26 0h3m4 0h3m-41 1h3m27 0h3m-47 1h3m4 0h3m0 0h3m-2 0h3m26 0h3m-39 1h3m23 0h3m2 0h3m1 0h3m1 0h3m-1 0h3m-67 1h3m3 0h3m10 0h3m8 0h3m-2 0h3m24 0h3m-1 0h3m8 0h3m-51 1h3m-2 0h3m27 0h3m-33 1h3m2 0h3m33 0h3m-46 1h3m8 0h3m-22 1h3m0 0h3m2 0h3m3 0h3m-6 3h3m8 0h3m4 0h3m4 0h3m25 0h3m-62 1h3m1 1h3m1 0h3m4 0h3m-1 1h3m-26 1h3m39 0h3m-15 1h3m16 0h3m-48 1h3m4 1h3m6 0h3m31 0h3m-1 0h3m-45 2h3m-28 3h3m53 0h3m10 0h3m15 1h3m-54 2h3m3 1h3m-33 1h3m46 0h3m-27 2h3m-42 4h3" stroke="#f7dc08" stroke-width="2.8" stroke-opacity="0.68"/><path d="M659 674h3m-31 3h3m26 2h3m-27 3h3m-19 1h3m11 0h3m11 1h3m18 0h3m53 3h3m-96 1h3m3 1h3m22 0h3m-30 2h3m4 0h3m15 1h3m-23 1h3m0 0h3m3 1h3m76 0h3m-64 1h3m6 0h3m-49 1h3m23 0h3m-22 1h3m3 0h3m8 0h3m-43 1h3m8 0h3m35 0h3m21 0h3m-12 1h3m-46 1h3m35 0h3m35 0h3m-78 1h3m-11 1h3m6 0h3m75 0h3m-93 1h3m3 0h3m-3 0h3m3 0h3m9 0h3m-1 0h3m23 0h3m32 0h3m-93 1h3m24 0h3m0 0h3m2 0h3m15 0h3m-20 1h3m12 0h3m-40 1h3m17 0h3m-1 0h3m-21 1h3m11 0h3m-2 0h3m5 0h3m-43 1h3m8 0h3m10 0h3m-11 1h3m-1 0h3m3 0h3m-2 0h3m54 0h3m12 0h3m-98 1h3m3 0h3m0 0h3m5 0h3m29 0h3m4 0h3m-65 1h3m0 0h3m1 0h3m0 0h3m-3 0h3m19 0h3m99 0h3m-145 1h3m8 0h3m20 0h3m1 0h3m1 0h3m-2 0h3m12 0h3m9 0h3m-72 1h3m1 0h3m31 0h3m8 0h3m8 0h3m0 0h3m15 0h3m6 0h3m-71 1h3m3 0h3m11 0h3m0 0h3m29 0h3m-67 1h3m3 0h3m0 0h3m39 0h3m-53 1h3m2 0h3m-1 0h3m2 0h3m3 0h3m-2 0h3m7 0h3m11 0h3m42 0h3m-87 1h3m-1 0h3m3 0h3m-1 0h3m-1 0h3m24 0h3m14 0h3m1 0h3m-81 1h3m16 0h3m11 0h3m9 0h3m11 0h3m3 0h3m53 0h3m-115 1h3m0 0h3m-1 0h3m11 0h3m32 0h3m4 0h3m-61 1h3m2 0h3m-2 0h3m8 0h3m-1 0h3m1 0h3m59 0h3m-78 1h3m0 0h3m10 0h3m1 0h3m10 0h3m3 0h3m1 0h3m-66 1h3m5 0h3m4 0h3m1 0h3m16 0h3m-1 0h3m5 0h3m10 0h3m24 0h3m-70 1h3m16 0h3m16 0h3m8 0h3m-64 1h3m-3 0h3m0 0h3m1 0h3m16 0h3m8 0h3m9 0h3m-39 1h3m8 0h3m0 0h3m-31 1h3m-2 0h3m9 0h3m22 0h3m-3 0h3m9 0h3m63 0h3m-127 1h3m3 0h3m0 0h3m-3 0h3m4 0h3m2 0h3m12 0h3m7 0h3m-46 1h3m0 0h3m12 0h3m-3 0h3m-2 0h3m23 0h3m5 0h3m-26 1h3m-3 0h3m0 0h3m1 0h3m2 0h3m-3 0h3m8 0h3m72 0h3m-132 1h3m7 0h3m9 0h3m12 0h3m-2 0h3m0 0h3m3 0h3m-50 1h3m7 0h3m-2 0h3m13 0h3m10 0h3m11 0h3m3 0h3m-56 1h3m4 0h3m21 0h3m11 0h3m16 0h3m0 0h3m-79 1h3m16 0h3m-2 0h3m-3 0h3m2 0h3m5 0h3m-3 0h3m14 0h3m40 0h3m-80 1h3m6 0h3m-1 0h3m7 0h3m3 0h3m6 0h3m-2 0h3m12 0h3m-60 1h3m2 0h3m-2 0h3m14 0h3m10 0h3m6 0h3m43 0h3m-65 1h3m13 0h3m8 0h3m-71 1h3m7 0h3m-3 0h3m6 0h3m39 0h3m-3 0h3m0 0h3m-2 0h3m24 0h3m-77 1h3m49 0h3m4 0h3m48 0h3m-128 1h3m4 0h3m5 0h3m-3 0h3m1 0h3m1 0h3m15 0h3m2 0h3m4 0h3m-3 0h3m-58 1h3m1 0h3m4 0h3m-2 0h3m9 0h3m-2 0h3m-1 0h3m-2 0h3m2 0h3m-3 0h3m14 0h3m9 0h3m2 0h3m-60 1h3m4 0h3m1 0h3m2 0h3m15 0h3m5 0h3m24 0h3m-65 1h3m22 0h3m31 0h3m-71 1h3m-1 0h3m3 0h3m-2 0h3m1 0h3m-2 0h3m2 0h3m0 0h3m5 0h3m1 0h3m-23 1h3m14 0h3m25 0h3m34 0h3m6 0h3m-114 1h3m43 0h3m-2 0h3m7 0h3m-54 1h3m3 0h3m9 0h3m12 0h3m22 0h3m-71 1h3m16 0h3m41 0h3m11 0h3m-69 1h3m2 0h3m17 0h3m0 0h3m8 0h3m-22 1h3m17 0h3m28 0h3m-67 1h3m7 0h3m0 0h3m39 0h3m6 0h3m-75 1h3m6 0h3m2 0h3m1 0h3m-3 0h3m0 0h3m103 0h3m-111 1h3m20 0h3m2 0h3m2 0h3m58 0h3m-89 2h3m-13 1h3m6 0h3m27 0h3m25 0h3m-94 1h3m8 0h3m10 0h3m4 0h3m-2 0h3m-29 1h3m23 0h3m-31 1h3m31 0h3m-27 1h3m22 0h3m61 0h3m5 0h3m-77 1h3m-42 1h3m21 0h3m-11 1h3m11 0h3m1 0h3m47 0h3m-34 1h3m26 0h3m-84 2h3m9 0h3m19 0h3m3 3h3m12 0h3m-11 1h3m-31 1h3m25 0h3m3 1h3m6 0h3m-49 1h3m91 1h3m-46 1h3m-31 2h3m-16 1h3m-8 5h3m40 2h3m-47 2h3" stroke="#f7dc08" stroke-width="2.8" stroke-opacity="0.68"/><path d="M694 556h3m211 21h3m-2 14h3m-42 68h3m-68 14h3m151 5h3m-172 3h3m-71 2h3m55 3h3m-77 1h3m84 1h3m-116 1h3m-11 3h3m30 2h3m2 0h3m-54 1h3m99 0h3m-59 2h3m25 1h3m41 1h3m-133 1h3m99 0h3m3 0h3m-24 1h3m-35 1h3m44 0h3m4 0h3m-69 1h3m47 0h3m9 1h3m-83 1h3m9 0h3m44 0h3m33 0h3m10 0h3m-164 1h3m10 0h3m0 0h3m22 0h3m17 0h3m53 0h3m29 0h3m-152 1h3m82 0h3m-3 0h3m48 0h3m-91 2h3m3 0h3m16 0h3m57 0h3m23 0h3m-66 1h3m3 0h3m18 0h3m1 0h3m40 0h3m-132 1h3m-1 0h3m14 0h3m36 0h3m1 0h3m14 0h3m-120 1h3m2 0h3m49 0h3m22 0h3m4 0h3m17 0h3m16 0h3m15 0h3m14 0h3m10 0h3m-153 1h3m64 0h3m23 0h3m8 0h3m-31 1h3m26 0h3m11 0h3m-96 1h3m29 0h3m2 0h3m25 0h3m34 0h3m-77 1h3m11 0h3m12 0h3m13 0h3m4 0h3m36 0h3m-146 1h3m1 0h3m23 0h3m4 0h3m1 0h3m4 0h3m5 0h3m0 0h3m3 0h3m17 0h3m17 0h3m17 0h3m-162 1h3m55 0h3m15 0h3m21 0h3m7 0h3m-1 0h3m-2 0h3m-3 0h3m13 0h3m4 0h3m2 0h3m7 0h3m-123 1h3m14 0h3m18 0h3m-2 0h3m4 0h3m13 0h3m14 0h3m1 0h3m11 0h3m7 0h3m-1 0h3m14 0h3m-125 1h3m1 0h3m0 0h3m37 0h3m-2 0h3m9 0h3m14 0h3m4 0h3m5 0h3m1 0h3m5 0h3m11 0h3m28 0h3m-148 1h3m48 0h3m0 0h3m-2 0h3m4 0h3m49 0h3m-142 1h3m11 0h3m18 0h3m34 0h3m-1 0h3m28 0h3m34 0h3m8 0h3m14 0h3m-182 1h3m62 0h3m11 0h3m66 0h3m26 0h3m21 0h3m-178 1h3m23 0h3m-1 0h3m23 0h3m-2 0h3m18 0h3m-1 0h3m6 0h3m-2 0h3m22 0h3m11 0h3m25 0h3m-164 1h3m-2 0h3m11 0h3m-2 0h3m0 0h3m41 0h3m11 0h3m8 0h3m22 0h3m-1 0h3m12 0h3m60 0h3m-200 1h3m10 0h3m17 0h3m1 0h3m-1 0h3m27 0h3m7 0h3m11 0h3m3 0h3m-99 1h3m-1 0h3m29 0h3m31 0h3m30 0h3m34 0h3m4 0h3m-166 1h3m17 0h3m29 0h3m10 0h3m-1 0h3m-1 0h3m8 0h3m26 0h3m5 0h3m-1 0h3m2 0h3m18 0h3m-82 1h3m2 0h3m8 0h3m23 0h3m0 0h3m4 0h3m-1 0h3m9 0h3m14 0h3m34 0h3m-176 1h3m-2 0h3m12 0h3m4 0h3m12 0h3m4 0h3m5 0h3m11 0h3m12 0h3m2 0h3m11 0h3m-2 0h3m1 0h3m4 0h3m7 0h3m33 0h3m-171 1h3m16 0h3m9 0h3m5 0h3m0 0h3m22 0h3m7 0h3m11 0h3m9 0h3m32 0h3m-106 1h3m19 0h3m6 0h3m8 0h3m7 0h3m0 0h3m20 0h3m6 0h3m4 0h3m-1 0h3m5 0h3m1 0h3m14 0h3m-147 1h3m47 0h3m7 0h3m5 0h3m23 0h3m0 0h3m-2 0h3m9 0h3m15 0h3m-109 1h3m30 0h3m31 0h3m1 0h3m22 0h3m7 0h3m-154 1h3m22 0h3m17 0h3m0 0h3m2 0h3m2 0h3m1 0h3m5 0h3m-2 0h3m14 0h3m6 0h3m32 0h3m11 0h3m8 0h3m41 0h3m-205 1h3m-2 0h3m33 0h3m-2 0h3m23 0h3m-1 0h3m3 0h3m-3 0h3m9 0h3m2 0h3m2 0h3m7 0h3m15 0h3m2 0h3m24 0h3m9 0h3m-152 1h3m28 0h3m21 0h3m19 0h3m3 0h3m-1 0h3m8 0h3m4 0h3m19 0h3m2 0h3m-2 0h3m0 0h3m7 0h3m-2 0h3m-135 1h3m6 0h3m2 0h3m8 0h3m39 0h3m2 0h3m3 0h3m12 0h3m15 0h3m8 0h3m2 0h3m3 0h3m9 0h3m70 0h3m-249 1h3m9 0h3m-3 0h3m30 0h3m54 0h3m-1 0h3m5 0h3m1 0h3m41 0h3m-1 0h3m1 0h3m-155 1h3m6 0h3m8 0h3m0 0h3m19 0h3m-2 0h3m17 0h3m-2 0h3m3 0h3m6 0h3m1 0h3m-1 0h3m4 0h3m11 0h3m1 0h3m50 0h3m-188 1h3m26 0h3m21 0h3m44 0h3m40 0h3m11 0h3m-137 1h3m17 0h3m15 0h3m11 0h3m4 0h3m21 0h3m3 0h3m18 0h3m-76 1h3m11 0h3m1 0h3m-1 0h3m2 0h3m4 0h3m-3 0h3m6 0h3m-2 0h3m9 0h3m13 0h3m5 0h3m-2 0h3m8 0h3m12 0h3m-116 1h3m12 0h3m8 0h3m6 0h3m0 0h3m-3 0h3m2 0h3m-1 0h3m-2 0h3m1 0h3m5 0h3m1 0h3m2 0h3m4 0h3m3 0h3m-2 0h3m5 0h3m9 0h3m3 0h3m-142 1h3m2 0h3m10 0h3m11 0h3m8 0h3m19 0h3m-2 0h3m6 0h3m6 0h3m-2 0h3m3 0h3m17 0h3m30 0h3m8 0h3m-158 1h3m37 0h3m-2 0h3m11 0h3m8 0h3m22 0h3m10 0h3m3 0h3m1 0h3m15 0h3m26 0h3m-161 1h3m2 0h3m12 0h3m7 0h3m-3 0h3m33 0h3m13 0h3m22 0h3m1 0h3m-104 1h3m4 0h3m-1 0h3m2 0h3m0 0h3m15 0h3m-2 0h3m2 0h3m11 0h3m11 0h3m-1 0h3m-1 0h3m10 0h3m15 0h3m-1 0h3m1 0h3m39 0h3m-155 1h3m12 0h3m9 0h3m-3 0h3m21 0h3m-1 0h3m-3 0h3m7 0h3m16 0h3m1 0h3m13 0h3m7 0h3m8 0h3m2 0h3m60 0h3m-225 1h3m23 0h3m7 0h3m-2 0h3m2 0h3m-2 0h3m3 0h3m2 0h3m12 0h3m-2 0h3m19 0h3m-1 0h3m14 0h3m-2 0h3m-2 0h3m0 0h3m-2 0h3m-1 0h3m-1 0h3m3 0h3m-2 0h3m14 0h3m22 0h3m-166 1h3m10 0h3m6 0h3m0 0h3m10 0h3m8 0h3m-3 0h3m-1 0h3m2 0h3m27 0h3m13 0h3m10 0h3m4 0h3m8 0h3m8 0h3m4 0h3m31 0h3m-192 1h3m15 0h3m14 0h3m18 0h3m0 0h3m2 0h3m3 0h3m0 0h3m24 0h3m2 0h3m0 0h3m35 0h3m8 0h3m10 0h3m-127 1h3m4 0h3m12 0h3m2 0h3m10 0h3m1 0h3m1 0h3m2 0h3m18 0h3m10 0h3m-2 0h3m36 0h3m7 0h3m14 0h3m-176 1h3m5 0h3m10 0h3m2 0h3m1 0h3m-1 0h3m14 0h3m6 0h3m-2 0h3m8 0h3m-3 0h3m-2 0h3m19 0h3m13 0h3m10 0h3m3 0h3m30 0h3m-192 1h3m11 0h3m-1 0h3m6 0h3m5 0h3m6 0h3m31 0h3m28 0h3m13 0h3m4 0h3m5 0h3m-3 0h3m7 0h3m-2 0h3m0 0h3m5 0h3m6 0h3m-144 1h3m8 0h3m1 0h3m11 0h3m-1 0h3m6 0h3m-3 0h3m0 0h3m11 0h3m4 0h3m2 0h3m4 0h3m30 0h3m2 0h3m2 0h3m34 0h3m-1 0h3m-179 1h3m-3 0h3m11 0h3m4 0h3m4 0h3m7 0h3m2 0h3m-2 0h3m-2 0h3m2 0h3m-1 0h3m-2 0h3m11 0h3m6 0h3m-3 0h3m12 0h3m-1 0h3m17 0h3m6 0h3m9 0h3m0 0h3m3 0h3m0 0h3m22 0h3m-177 1h3m13 0h3m0 0h3m19 0h3m11 0h3m6 0h3m16 0h3m6 0h3m4 0h3m1 0h3m23 0h3m15 0h3m-138 1h3m6 0h3m0 0h3m13 0h3m8 0h3m3 0h3m0 0h3m3 0h3m-2 0h3m11 0h3m-1 0h3m-1 0h3m2 0h3m4 0h3m0 0h3m36 0h3m25 0h3m-174 1h3m64 0h3m-1 0h3m1 0h3m4 0h3m-1 0h3m3 0h3m5 0h3m11 0h3m-1 0h3m0 0h3m1 0h3m15 0h3m10 0h3m3 0h3m21 0h3m-140 1h3m-2 0h3m10 0h3m2 0h3m-3 0h3m37 0h3m5 0h3m-2 0h3m-3 0h3m3 0h3m35 0h3m-156 1h3m11 0h3m4 0h3m1 0h3m-2 0h3m15 0h3m-3 0h3m11 0h3m2 0h3m20 0h3m13 0h3m15 0h3m-3 0h3m1 0h3m6 0h3m46 0h3m-159 1h3m24 0h3m9 0h3m2 0h3m-2 0h3m-1 0h3m2 0h3m-3 0h3m10 0h3m-2 0h3m8 0h3m5 0h3m15 0h3m23 0h3m-156 1h3m8 0h3m9 0h3m17 0h3m-1 0h3m3 0h3m-1 0h3m-2 0h3m0 0h3m1 0h3m12 0h3m0 0h3m43 0h3m-1 0h3m7 0h3m6 0h3m21 0h3m-111 1h3m10 0h3m22 0h3m-1 0h3m10 0h3m-2 0h3m7 0h3m22 0h3m-2 0h3m0 0h3m24 0h3m-183 1h3m27 0h3m16 0h3m10 0h3m18 0h3m31 0h3m-2 0h3m5 0h3m37 0h3m-165 1h3m10 0h3m-1 0h3m13 0h3m32 0h3m4 0h3m6 0h3m1 0h3m3 0h3m0 0h3m22 0h3m6 0h3m19 0h3m-155 1h3m25 0h3m6 0h3m16 0h3m9 0h3m-1 0h3m-1 0h3m28 0h3m8 0h3m-68 1h3m3 0h3m5 0h3m3 0h3m5 0h3m11 0h3m34 0h3m4 0h3m2 0h3m-132 1h3m7 0h3m15 0h3m12 0h3m3 0h3m2 0h3m3 0h3m-1 0h3m48 0h3m5 0h3m-144 1h3m25 0h3m29 0h3m5 0h3m-2 0h3m12 0h3m30 0h3m-115 1h3m2 0h3m19 0h3m1 0h3m4 0h3m-2 0h3m5 0h3m-2 0h3m-1 0h3m-2 0h3m1 0h3m7 0h3m2 0h3m26 0h3m9 0h3m-2 0h3m57 0h3m-125 1h3m11 0h3m4 0h3m8 0h3m9 0h3m16 0h3m24 0h3m16 0h3m6 0h3m34 0h3m-186 1h3m21 0h3m-1 0h3m12 0h3m3 0h3m46 0h3m-125 1h3m18 0h3m32 0h3m16 0h3m7 0h3m2 0h3m-1 0h3m2 0h3m1 0h3m19 0h3m19 0h3m-114 1h3m11 0h3m1 0h3m40 0h3m0 0h3m26 0h3m35 0h3m8 0h3m49 0h3m-234 1h3m34 0h3m-2 0h3m19 0h3m10 0h3m-1 0h3m2 0h3m-1 0h3m35 0h3m80 0h3m-169 1h3m22 0h3m-2 0h3m18 0h3m-66 1h3m19 0h3m2 0h3m22 0h3m16 0h3m4 0h3m6 0h3m1 0h3m0 0h3m-123 1h3m14 0h3m0 0h3m19 0h3m45 0h3m14 0h3m23 0h3m38 0h3m-147 1h3m26 0h3m10 0h3m-1 0h3m33 0h3m12 0h3m-109 1h3m14 0h3m14 0h3m37 0h3m-2 0h3m0 0h3m-35 1h3m-2 0h3m-1 0h3m1 0h3m-2 0h3m6 0h3m2 0h3m-3 0h3m13 0h3m14 0h3m53 0h3m-170 1h3m23 0h3m4 0h3m19 0h3m18 0h3m10 0h3m-70 1h3m12 0h3m7 0h3m26 0h3m6 0h3m-1 0h3m9 0h3m13 0h3m-68 1h3m0 0h3m-2 0h3m21 0h3m22 0h3m-2 0h3m-82 1h3m6 0h3m17 0h3m45 0h3m-3 0h3m21 0h3m0 0h3m-1 0h3m9 0h3m-118 1h3m6 0h3m14 0h3m10 0h3m12 0h3m-1 0h3m5 0h3m8 0h3m55 0h3m-152 1h3m11 0h3m30 0h3m17 0h3m-5 1h3m4 0h3m7 0h3m-2 0h3m-2 0h3m44 0h3m-155 1h3m44 0h3m64 0h3m-74 1h3m2 0h3m53 0h3m13 0h3m32 0h3m21 0h3m-147 1h3m2 0h3m24 0h3m32 0h3m7 0h3m-98 1h3m9 0h3m12 0h3m46 0h3m30 0h3m-1 0h3m-115 1h3m3 0h3m6 0h3m27 0h3m41 0h3m34 0h3m-83 1h3m22 0h3m26 0h3m38 0h3m29 0h3m-179 1h3m13 0h3m80 0h3m-1 0h3m9 0h3m4 0h3m-93 1h3m32 0h3m-28 1h3m6 0h3m21 0h3m53 0h3m6 0h3m-115 1h3m8 0h3m-3 0h3m10 0h3m38 0h3m19 0h3m-90 1h3m40 0h3m-2 0h3m-14 1h3m12 0h3m19 0h3m6 0h3m23 0h3m-68 1h3m1 0h3m18 0h3m-104 1h3m6 0h3m13 0h3m17 0h3m-2 0h3m4 0h3m-1 0h3m16 0h3m2 0h3m-36 1h3m30 0h3m55 0h3m12 0h3m-119 1h3m-2 0h3m45 0h3m10 0h3m-19 1h3m-72 1h3m5 0h3m-1 0h3m25 0h3m10 0h3m0 0h3m2 0h3m291 0h3m-312 1h3m7 0h3m39 0h3m-80 1h3m49 0h3m-49 1h3m7 0h3m26 0h3m-37 1h3m7 0h3m0 0h3m6 0h3m19 0h3m0 0h3m-66 1h3m52 0h3m-60 1h3m29 0h3m-9 1h3m6 1h3m31 0h3m-31 1h3m4 0h3m-14 1h3m-51 1h3m-3 0h3m13 0h3m-8 1h3m36 0h3m-63 1h3m14 0h3m-14 1h3m28 0h3m8 1h3m74 0h3m-133 2h3m48 0h3m-27 1h3m29 0h3m245 0h3m-289 1h3m24 0h3m15 1h3m-37 1h3m71 0h3m-92 1h3m2 0h3m57 1h3m-76 3h3m23 0h3m-16 1h3m14 0h3m-2 0h3m30 0h3m-61 1h3m27 2h3m1 1h3m0 0h3m-20 1h3m-2 0h3m18 0h3m-8 1h3m0 3h3m35 0h3m-18 3h3m-40 7h3m-16 8h3m17 8h3m-17 21h3" stroke="#161616" stroke-width="2.8"/><path d="M324 1248h3m6 6h3m-115 6h3m-71 4h3m168 3h3m-23 1h3m-132 8h3m5 1h3m122 0h3m-126 1h3m-20 4h3m134 0h3m13 1h3m-18 1h3m38 1h3m-47 1h3m-13 2h3m4 1h3m-166 1h3m154 0h3m19 0h3m-46 1h3m-137 1h3m13 0h3m31 0h3m81 0h3m31 0h3m14 1h3m-2 0h3m-178 1h3m138 0h3m7 0h3m-13 2h3m-117 1h3m118 0h3m-155 2h3m131 0h3m18 0h3m-2 1h3m-34 1h3m7 0h3m-2 0h3m9 0h3m-112 1h3m78 0h3m12 0h3m11 0h3m-107 1h3m111 0h3m-116 1h3m106 0h3m-134 1h3m14 0h3m50 0h3m38 0h3m14 1h3m18 0h3m8 0h3m-41 1h3m10 0h3m-155 1h3m142 0h3m-162 1h3m41 0h3m31 0h3m77 0h3m-143 1h3m26 0h3m16 0h3m82 0h3m-2 0h3m12 0h3m-2 0h3m-31 1h3m-2 1h3m31 0h3m-194 1h3m36 0h3m114 0h3m0 0h3m37 0h3m-181 1h3m29 0h3m2 0h3m26 0h3m77 1h3m-2 0h3m7 0h3m9 0h3m4 0h3m1 0h3m-191 1h3m38 0h3m20 0h3m17 0h3m53 0h3m21 0h3m6 0h3m-41 1h3m0 0h3m23 0h3m3 0h3m4 0h3m13 0h3m-174 1h3m117 1h3m-1 0h3m20 0h3m-1 0h3m11 0h3m-193 1h3m16 0h3m1 0h3m34 0h3m115 0h3m0 0h3m4 0h3m3 0h3m12 0h3m-58 1h3m7 0h3m27 0h3m16 0h3m-71 1h3m26 0h3m-144 1h3m10 0h3m69 0h3m39 0h3m0 0h3m1 0h3m2 0h3m-135 1h3m13 0h3m74 0h3m-2 0h3m17 0h3m6 0h3m24 0h3m-1 0h3m-109 1h3m48 0h3m17 0h3m16 0h3m5 0h3m31 0h3m-195 1h3m38 0h3m-3 0h3m86 0h3m3 0h3m9 0h3m-31 1h3m3 0h3m11 0h3m9 0h3m-160 1h3m-1 0h3m18 0h3m50 0h3m40 0h3m-2 0h3m33 0h3m3 0h3m-145 1h3m4 0h3m107 0h3m5 0h3m-1 0h3m7 0h3m-3 0h3m4 0h3m-3 0h3m-163 1h3m73 0h3m50 0h3m2 0h3m5 0h3m6 0h3m-165 1h3m143 0h3m50 0h3m-66 1h3m-1 0h3m3 0h3m2 0h3m-2 0h3m5 0h3m19 0h3m-207 1h3m81 0h3m90 0h3m13 0h3m2 0h3m-113 1h3m92 0h3m2 0h3m20 1h3m-157 1h3m101 0h3m5 0h3m-3 0h3m14 0h3m14 0h3m-198 1h3m11 0h3m-1 0h3m0 0h3m73 0h3m52 0h3m30 0h3m-144 1h3m32 0h3m82 0h3m10 0h3m-8 1h3m14 0h3m-155 1h3m66 1h3m83 0h3m16 0h3m-36 1h3m-72 1h3m-33 1h3m82 0h3m19 0h3m1 0h3m-134 1h3m33 0h3m68 0h3m35 0h3m-190 1h3m51 0h3m100 0h3m7 0h3m6 0h3m1 0h3m-19 1h3m2 0h3m29 0h3m-212 1h3m159 0h3m-129 1h3m2 0h3m8 0h3m-50 1h3m35 0h3m97 0h3m27 0h3m-177 1h3m170 0h3m16 0h3m-214 1h3m35 0h3m29 0h3m145 0h3m-186 1h3m13 0h3m110 0h3m8 0h3m13 0h3m13 0h3m-123 1h3m88 0h3m1 0h3m-126 1h3m109 0h3m-1 0h3m-93 1h3m84 0h3m4 0h3m18 0h3m-157 1h3m1 0h3m32 0h3m59 0h3m37 0h3m15 0h3m-161 1h3m59 0h3m48 0h3m13 0h3m3 1h3m27 0h3m0 0h3m1 0h3m-113 1h3m14 0h3m35 0h3m25 0h3m-73 1h3m-120 1h3m112 0h3m64 0h3m-29 1h3m15 0h3m-2 0h3m12 0h3m6 0h3m16 0h3m-167 1h3m126 0h3m-166 1h3m88 0h3m63 0h3m11 0h3m-1 0h3m-182 1h3m27 0h3m135 0h3m-171 1h3m149 0h3m10 0h3m-112 1h3m103 0h3m-144 1h3m166 0h3m-20 1h3m-2 0h3m-175 1h3m84 0h3m114 0h3m-189 1h3m130 0h3m9 2h3m20 0h3m-19 2h3m-184 1h3m50 0h3m-36 2h3m37 2h3m24 0h3m38 2h3m-63 6h3" stroke="#f7dc08" stroke-width="2.8" stroke-opacity="0.4"/><path d="M266 1264h3m-100 2h3m144 2h3m-3 3h3m-16 1h3m12 0h3m-181 1h3m171 0h3m-23 3h3m8 2h3m32 2h3m-67 3h3m-148 1h3m174 0h3m-7 2h3m-15 1h3m22 0h3m-20 2h3m-150 1h3m44 2h3m96 0h3m8 0h3m-29 1h3m-123 1h3m105 0h3m-2 0h3m40 0h3m-205 1h3m178 0h3m15 0h3m-55 1h3m33 0h3m-178 1h3m144 0h3m2 1h3m0 0h3m19 1h3m3 0h3m10 0h3m15 0h3m-143 1h3m-34 1h3m12 0h3m33 1h3m60 0h3m23 0h3m-14 1h3m5 0h3m-105 1h3m29 0h3m30 0h3m9 0h3m13 0h3m33 0h3m3 0h3m-167 1h3m29 0h3m18 0h3m-103 1h3m79 0h3m77 0h3m10 1h3m-1 0h3m5 0h3m9 0h3m-48 1h3m32 0h3m-176 1h3m35 0h3m2 0h3m92 0h3m29 0h3m10 0h3m0 1h3m-189 1h3m12 0h3m134 0h3m21 0h3m-155 1h3m136 0h3m1 0h3m-36 1h3m18 0h3m4 0h3m12 0h3m-190 1h3m59 0h3m14 0h3m80 0h3m0 0h3m1 0h3m14 0h3m8 0h3m-181 1h3m17 0h3m114 0h3m8 0h3m24 0h3m-209 1h3m21 0h3m45 0h3m13 0h3m81 0h3m-1 0h3m1 0h3m11 0h3m2 0h3m5 0h3m-44 1h3m2 0h3m9 0h3m-135 1h3m132 0h3m6 0h3m9 0h3m-195 1h3m58 0h3m4 0h3m87 0h3m2 0h3m1 0h3m10 0h3m-3 0h3m10 0h3m6 0h3m-173 1h3m56 0h3m64 0h3m-2 0h3m11 0h3m8 0h3m12 0h3m-165 1h3m0 0h3m14 0h3m17 0h3m80 0h3m3 0h3m7 0h3m-1 0h3m-144 1h3m120 0h3m0 0h3m14 0h3m9 0h3m15 0h3m6 0h3m-80 1h3m18 0h3m27 0h3m-185 1h3m61 0h3m83 0h3m1 0h3m-1 0h3m1 0h3m2 0h3m2 0h3m2 0h3m4 0h3m-141 1h3m102 0h3m7 0h3m15 0h3m10 0h3m-200 1h3m126 0h3m33 0h3m-153 1h3m14 0h3m33 0h3m77 0h3m10 0h3m10 0h3m-178 1h3m26 0h3m120 0h3m6 0h3m-1 0h3m5 0h3m-2 0h3m7 0h3m-199 1h3m43 0h3m104 0h3m4 0h3m2 0h3m7 0h3m-2 0h3m0 0h3m2 0h3m0 0h3m4 0h3m-194 1h3m31 0h3m37 0h3m87 0h3m18 0h3m13 0h3m9 0h3m-209 1h3m162 0h3m-159 1h3m7 0h3m139 0h3m10 0h3m6 0h3m-193 1h3m9 0h3m11 0h3m144 0h3m-2 0h3m-2 0h3m-146 1h3m23 0h3m14 0h3m96 0h3m6 0h3m5 0h3m-30 1h3m1 0h3m7 0h3m-2 0h3m-1 0h3m5 0h3m5 0h3m2 0h3m-18 1h3m13 0h3m-172 1h3m20 0h3m23 0h3m69 0h3m47 0h3m-32 1h3m17 0h3m-178 1h3m127 0h3m29 0h3m-39 2h3m26 0h3m1 0h3m-141 1h3m38 0h3m87 0h3m21 0h3m-1 0h3m-39 1h3m5 0h3m13 0h3m1 0h3m-1 0h3m0 0h3m-135 1h3m104 0h3m-153 1h3m-1 0h3m9 0h3m107 1h3m7 0h3m18 0h3m-138 1h3m123 0h3m5 0h3m4 0h3m-150 1h3m17 0h3m3 0h3m94 0h3m6 0h3m7 0h3m-2 0h3m5 0h3m-202 1h3m179 0h3m13 0h3m16 0h3m-36 1h3m7 0h3m-7 1h3m9 0h3m6 0h3m-208 1h3m174 0h3m-14 1h3m16 0h3m-1 0h3m1 1h3m6 0h3m-162 1h3m11 0h3m2 0h3m134 0h3m6 0h3m-160 2h3m68 0h3m42 0h3m33 0h3m-2 0h3m1 0h3m-173 1h3m116 0h3m-113 1h3m20 0h3m42 0h3m63 0h3m-2 0h3m17 0h3m-199 1h3m185 0h3m-27 1h3m21 0h3m-63 1h3m-72 1h3m102 0h3m18 1h3m7 0h3m-200 1h3m53 0h3m81 0h3m30 2h3m6 0h3m-116 1h3m-45 1h3m100 0h3m-96 1h3m156 0h3m-17 2h3m-32 1h3m19 0h3m-13 1h3m4 0h3m-124 3h3m-25 1h3m1 0h3m-7 2h3m155 0h3m-31 1h3m-152 1h3m167 0h3m-137 1h3m26 0h3m104 0h3m-146 2h3m119 1h3m14 0h3m-162 1h3m18 4h3" stroke="#f7dc08" stroke-width="2.8" stroke-opacity="0.4"/><path d="M328 1139h3m19 10h3m-139 7h3m-77 4h3m167 1h3m36 0h3m-83 1h3m-130 6h3m156 0h3m4 0h3m-87 2h3m47 0h3m65 0h3m-1 0h3m-134 1h3m199 0h3m-221 1h3m86 0h3m-145 1h3m91 0h3m82 0h3m-15 1h3m-109 1h3m135 0h3m-115 1h3m-111 1h3m190 0h3m59 0h3m-64 1h3m-141 1h3m113 0h3m62 0h3m3 0h3m-208 1h3m175 0h3m-187 1h3m50 0h3m51 0h3m38 0h3m13 0h3m1 0h3m4 0h3m68 0h3m-205 1h3m25 0h3m13 0h3m4 0h3m67 0h3m21 0h3m-129 1h3m81 0h3m-172 1h3m166 0h3m42 0h3m-55 1h3m24 0h3m-114 1h3m1 0h3m-2 0h3m90 0h3m-104 1h3m35 0h3m82 0h3m10 0h3m-193 1h3m9 0h3m37 0h3m35 0h3m11 0h3m37 0h3m36 0h3m1 0h3m6 0h3m-233 1h3m27 0h3m158 0h3m1 0h3m2 0h3m2 0h3m5 0h3m-191 1h3m28 0h3m15 0h3m31 0h3m3 0h3m8 0h3m12 0h3m32 0h3m10 0h3m-192 1h3m73 0h3m28 0h3m3 0h3m3 0h3m25 0h3m14 0h3m5 0h3m13 0h3m-161 1h3m19 0h3m114 0h3m2 0h3m29 0h3m17 0h3m-178 1h3m85 0h3m2 0h3m13 0h3m9 0h3m14 0h3m15 0h3m-167 1h3m34 0h3m5 0h3m73 0h3m26 0h3m0 0h3m-2 0h3m30 0h3m-1 0h3m1 0h3m16 0h3m-195 1h3m22 0h3m2 0h3m61 0h3m46 0h3m0 0h3m-192 1h3m8 0h3m17 0h3m4 0h3m13 0h3m5 0h3m44 0h3m18 0h3m11 0h3m36 0h3m-1 0h3m-1 0h3m20 0h3m11 0h3m-138 1h3m2 0h3m7 0h3m40 0h3m12 0h3m3 0h3m19 0h3m-1 0h3m12 0h3m23 0h3m-214 1h3m0 0h3m25 0h3m14 0h3m18 0h3m27 0h3m6 0h3m9 0h3m0 0h3m33 0h3m32 0h3m-201 1h3m76 0h3m14 0h3m2 0h3m10 0h3m8 0h3m5 0h3m1 0h3m44 0h3m-208 1h3m2 0h3m13 0h3m110 0h3m-1 0h3m37 0h3m28 0h3m4 0h3m-173 1h3m33 0h3m28 0h3m76 0h3m33 0h3m-227 1h3m12 0h3m34 0h3m30 0h3m5 0h3m67 0h3m7 0h3m5 0h3m0 0h3m4 0h3m-3 0h3m-170 1h3m6 0h3m21 0h3m25 0h3m-3 0h3m4 0h3m19 0h3m70 0h3m-1 0h3m18 0h3m8 0h3m-220 1h3m72 0h3m20 0h3m6 0h3m15 0h3m70 0h3m-191 1h3m25 0h3m10 0h3m9 0h3m18 0h3m21 0h3m17 0h3m-1 0h3m5 0h3m28 0h3m47 0h3m0 0h3m-252 1h3m10 0h3m13 0h3m2 0h3m2 0h3m65 0h3m3 0h3m3 0h3m4 0h3m-2 0h3m2 0h3m9 0h3m3 0h3m0 0h3m1 0h3m3 0h3m-2 0h3m8 0h3m17 0h3m16 0h3m-2 0h3m27 0h3m-240 1h3m0 0h3m27 0h3m-1 0h3m5 0h3m24 0h3m19 0h3m10 0h3m-2 0h3m8 0h3m8 0h3m10 0h3m8 0h3m26 0h3m-2 0h3m8 0h3m6 0h3m0 0h3m2 0h3m0 0h3m1 0h3m2 0h3m-204 1h3m4 0h3m-1 0h3m20 0h3m9 0h3m76 0h3m11 0h3m25 0h3m2 0h3m0 0h3m-1 0h3m6 0h3m21 0h3m-232 1h3m17 0h3m22 0h3m24 0h3m28 0h3m-1 0h3m19 0h3m-2 0h3m-3 0h3m20 0h3m42 0h3m-2 0h3m40 0h3m-195 1h3m3 0h3m7 0h3m12 0h3m1 0h3m7 0h3m1 0h3m3 0h3m34 0h3m12 0h3m5 0h3m-2 0h3m16 0h3m14 0h3m-1 0h3m4 0h3m-1 0h3m-153 1h3m10 0h3m15 0h3m5 0h3m5 0h3m-2 0h3m45 0h3m68 0h3m-3 0h3m30 0h3m-204 1h3m0 0h3m3 0h3m0 0h3m85 0h3m26 0h3m16 0h3m7 0h3m2 0h3m2 0h3m19 0h3m-246 1h3m11 0h3m22 0h3m-1 0h3m27 0h3m12 0h3m18 0h3m61 0h3m5 0h3m-2 0h3m0 0h3m3 0h3m9 0h3m2 0h3m0 0h3m-155 1h3m1 0h3m6 0h3m6 0h3m8 0h3m86 0h3m-184 1h3m81 0h3m14 0h3m19 0h3m7 0h3m3 0h3m10 0h3m12 0h3m7 0h3m2 0h3m21 0h3m22 0h3m-223 1h3m28 0h3m7 0h3m21 0h3m26 0h3m24 0h3m21 0h3m6 0h3m25 0h3m13 0h3m13 0h3m-173 1h3m2 0h3m43 0h3m1 0h3m2 0h3m1 0h3m26 0h3m13 0h3m2 0h3m9 0h3m9 0h3m-1 0h3m5 0h3m28 0h3m4 0h3m-153 1h3m37 0h3m8 0h3m5 0h3m-2 0h3m23 0h3m-2 0h3m10 0h3m-1 0h3m-2 0h3m3 0h3m13 0h3m16 0h3m-178 1h3m-1 0h3m3 0h3m20 0h3m26 0h3m11 0h3m-2 0h3m1 0h3m18 0h3m7 0h3m-3 0h3m1 0h3m4 0h3m24 0h3m-2 0h3m13 0h3m-180 1h3m22 0h3m40 0h3m15 0h3m20 0h3m22 0h3m28 0h3m19 0h3m-206 1h3m37 0h3m7 0h3m42 0h3m8 0h3m50 0h3m6 0h3m-2 0h3m0 0h3m-186 1h3m12 0h3m4 0h3m5 0h3m46 0h3m10 0h3m6 0h3m32 0h3m18 0h3m10 0h3m6 0h3m7 0h3m48 0h3m-277 1h3m48 0h3m15 0h3m0 0h3m19 0h3m14 0h3m75 0h3m-2 0h3m-1 0h3m39 0h3m32 0h3m-232 1h3m36 0h3m26 0h3m10 0h3m3 0h3m7 0h3m12 0h3m40 0h3m-2 0h3m12 0h3m9 0h3m3 0h3m10 0h3m-174 1h3m26 0h3m23 0h3m7 0h3m7 0h3m14 0h3m24 0h3m-1 0h3m11 0h3m-189 1h3m-3 0h3m16 0h3m5 0h3m0 0h3m8 0h3m9 0h3m24 0h3m-3 0h3m-1 0h3m11 0h3m7 0h3m12 0h3m34 0h3m1 0h3m-1 0h3m0 0h3m9 0h3m-2 0h3m3 0h3m4 0h3m14 0h3m-230 1h3m63 0h3m52 0h3m43 0h3m3 0h3m0 0h3m-1 0h3m0 0h3m22 0h3m5 0h3m14 0h3m9 0h3m-242 1h3m53 0h3m6 0h3m64 0h3m26 0h3m7 0h3m3 0h3m13 0h3m-195 1h3m16 0h3m20 0h3m28 0h3m8 0h3m-1 0h3m6 0h3m0 0h3m5 0h3m-3 0h3m12 0h3m2 0h3m27 0h3m0 0h3m13 0h3m17 0h3m-1 0h3m44 0h3m-188 1h3m-1 0h3m-3 0h3m-2 0h3m107 0h3m7 0h3m1 0h3m2 0h3m14 0h3m17 0h3m4 0h3m-186 1h3m1 0h3m51 0h3m-2 0h3m0 0h3m29 0h3m46 0h3m30 0h3m5 0h3m-233 1h3m71 0h3m10 0h3m2 0h3m18 0h3m16 0h3m50 0h3m1 0h3m-127 1h3m-3 0h3m31 0h3m-3 0h3m40 0h3m7 0h3m24 0h3m11 0h3m7 0h3m34 0h3m-256 1h3m9 0h3m9 0h3m14 0h3m6 0h3m18 0h3m0 0h3m7 0h3m10 0h3m15 0h3m-1 0h3m-1 0h3m1 0h3m71 0h3m32 0h3m-209 1h3m19 0h3m17 0h3m41 0h3m4 0h3m-3 0h3m21 0h3m25 0h3m5 0h3m0 0h3m-3 0h3m13 0h3m11 0h3m-2 0h3m9 0h3m1 0h3m12 0h3m-234 1h3m-3 0h3m21 0h3m21 0h3m49 0h3m-1 0h3m6 0h3m7 0h3m36 0h3m-1 0h3m24 0h3m-153 1h3m-1 0h3m10 0h3m39 0h3m13 0h3m0 0h3m26 0h3m17 0h3m15 0h3m34 0h3m-171 1h3m10 0h3m13 0h3m45 0h3m0 0h3m15 0h3m2 0h3m7 0h3m12 0h3m2 0h3m5 0h3m5 0h3m3 0h3m14 0h3m-237 1h3m116 0h3m6 0h3m46 0h3m-2 0h3m-2 0h3m3 0h3m13 0h3m-2 0h3m13 0h3m-1 0h3m-175 1h3m32 0h3m44 0h3m22 0h3m30 0h3m23 0h3m3 0h3m-185 1h3m51 0h3m1 0h3m12 0h3m16 0h3m61 0h3m20 0h3m-147 1h3m6 0h3m9 0h3m53 0h3m26 0h3m13 0h3m-2 0h3m-197 1h3m41 0h3m140 0h3m24 0h3m8 0h3m-165 1h3m1 0h3m58 0h3m15 0h3m31 0h3m0 0h3m56 0h3m-196 1h3m65 0h3m15 0h3m8 0h3m38 0h3m22 0h3m-209 1h3m39 0h3m13 0h3m111 0h3m8 0h3m1 0h3m17 0h3m13 0h3m-201 1h3m49 0h3m44 0h3m1 0h3m2 0h3m40 0h3m-147 1h3m54 0h3m36 0h3m71 0h3m6 0h3m25 0h3m-140 1h3m16 0h3m39 0h3m51 0h3m-236 1h3m73 0h3m58 0h3m66 0h3m10 0h3m14 0h3m1 0h3m-243 1h3m48 0h3m-2 0h3m29 0h3m28 0h3m8 0h3m2 0h3m23 0h3m5 0h3m21 0h3m1 0h3m15 0h3m-173 1h3m14 0h3m110 0h3m13 0h3m-109 1h3m51 0h3m47 0h3m20 0h3m46 0h3m-255 1h3m88 0h3m77 0h3m26 0h3m20 0h3m-201 1h3m117 0h3m4 0h3m20 0h3m8 0h3m2 0h3m7 1h3m2 0h3m30 0h3m-168 1h3m33 0h3m9 0h3m56 0h3m8 0h3m20 0h3m13 0h3m-180 1h3m157 0h3m1 0h3m-54 1h3m58 0h3m-113 1h3m66 0h3m-2 0h3m0 0h3m2 0h3m2 0h3m-146 1h3m126 0h3m40 0h3m-39 1h3m31 0h3m-3 0h3m13 0h3m-186 1h3m139 0h3m-167 1h3m21 0h3m49 0h3m68 0h3m-157 1h3m-3 0h3m38 0h3m62 0h3m51 0h3m4 0h3m0 0h3m-92 1h3m89 0h3m-62 1h3m85 0h3m-181 1h3m41 0h3m35 0h3m45 0h3m13 0h3m-91 1h3m-93 4h3m201 0h3m-27 1h3m-90 1h3m26 0h3m27 0h3m27 0h3m-203 3h3m103 0h3m86 1h3m-39 1h3m-67 2h3m96 5h3m13 4h3m-28 2h3" stroke="#f7dc08" stroke-width="2.8" stroke-opacity="0.68"/><path d="M200 1142h3m102 2h3m-5 3h3m17 4h3m-127 4h3m91 1h3m-175 4h3m76 0h3m89 0h3m0 0h3m-13 1h3m20 0h3m47 0h3m-50 1h3m65 2h3m-47 1h3m-155 1h3m124 0h3m-22 1h3m-102 2h3m81 0h3m-25 1h3m-114 1h3m89 0h3m11 0h3m-39 1h3m6 0h3m121 0h3m-44 1h3m16 1h3m-46 1h3m17 0h3m11 0h3m-170 1h3m1 0h3m113 0h3m74 0h3m-196 1h3m126 0h3m19 0h3m3 0h3m0 0h3m3 0h3m-125 1h3m2 0h3m8 0h3m-73 1h3m80 0h3m32 0h3m74 0h3m-159 1h3m117 0h3m22 0h3m25 0h3m-222 1h3m51 0h3m-1 0h3m125 0h3m9 0h3m-108 1h3m0 0h3m13 0h3m20 0h3m41 0h3m33 0h3m-100 1h3m28 0h3m-1 0h3m20 1h3m15 0h3m16 0h3m-168 1h3m63 0h3m70 0h3m2 0h3m19 0h3m-231 1h3m21 0h3m19 0h3m85 0h3m8 0h3m25 0h3m20 0h3m18 0h3m-181 1h3m68 0h3m60 0h3m-2 0h3m9 0h3m1 0h3m54 0h3m-198 1h3m36 0h3m26 0h3m-1 0h3m2 0h3m10 0h3m47 0h3m12 0h3m-117 1h3m68 0h3m4 0h3m-3 0h3m38 0h3m5 0h3m-173 1h3m44 0h3m26 0h3m39 0h3m22 0h3m-2 0h3m4 0h3m36 0h3m-190 1h3m103 0h3m10 0h3m44 0h3m11 0h3m3 0h3m-228 1h3m146 0h3m-3 0h3m7 0h3m29 0h3m6 0h3m4 0h3m9 0h3m-140 1h3m23 0h3m9 0h3m59 0h3m39 0h3m-88 1h3m0 0h3m62 0h3m-222 1h3m33 0h3m0 0h3m17 0h3m-2 0h3m37 0h3m12 0h3m11 0h3m9 0h3m25 0h3m3 0h3m11 0h3m4 0h3m14 0h3m-154 1h3m76 0h3m28 0h3m1 0h3m26 0h3m41 0h3m-228 1h3m17 0h3m12 0h3m7 0h3m35 0h3m54 0h3m26 0h3m7 0h3m-1 0h3m-121 1h3m30 0h3m5 0h3m36 0h3m0 0h3m-2 0h3m5 0h3m5 0h3m3 0h3m0 0h3m12 0h3m4 0h3m-167 1h3m64 0h3m5 0h3m35 0h3m4 0h3m20 0h3m13 0h3m-207 1h3m27 0h3m15 0h3m27 0h3m-1 0h3m-1 0h3m11 0h3m-1 0h3m14 0h3m63 0h3m21 0h3m16 0h3m-217 1h3m49 0h3m-1 0h3m-1 0h3m118 0h3m3 0h3m10 0h3m4 0h3m3 0h3m-196 1h3m1 0h3m38 0h3m27 0h3m1 0h3m16 0h3m59 0h3m34 0h3m4 0h3m-188 1h3m40 0h3m53 0h3m6 0h3m0 0h3m9 0h3m43 0h3m-202 1h3m2 0h3m23 0h3m120 0h3m13 0h3m11 0h3m-208 1h3m51 0h3m2 0h3m31 0h3m27 0h3m13 0h3m25 0h3m9 0h3m14 0h3m-1 0h3m9 0h3m-155 1h3m6 0h3m10 0h3m12 0h3m-1 0h3m1 0h3m92 0h3m7 0h3m13 0h3m-184 1h3m22 0h3m11 0h3m4 0h3m61 0h3m25 0h3m6 0h3m9 0h3m-1 0h3m11 0h3m-185 1h3m13 0h3m73 0h3m19 0h3m9 0h3m3 0h3m7 0h3m3 0h3m14 0h3m-2 0h3m-196 1h3m66 0h3m30 0h3m4 0h3m25 0h3m6 0h3m1 0h3m18 0h3m16 0h3m0 0h3m9 0h3m29 0h3m-2 0h3m-171 1h3m16 0h3m14 0h3m10 0h3m50 0h3m-1 0h3m3 0h3m19 0h3m-3 0h3m-191 1h3m14 0h3m17 0h3m20 0h3m12 0h3m5 0h3m6 0h3m16 0h3m56 0h3m-187 1h3m0 0h3m47 0h3m5 0h3m15 0h3m9 0h3m72 0h3m15 0h3m11 0h3m-1 0h3m-3 0h3m3 0h3m-2 0h3m-191 1h3m0 0h3m64 0h3m-2 0h3m52 0h3m24 0h3m2 0h3m2 0h3m14 0h3m22 0h3m23 0h3m0 0h3m-231 1h3m41 0h3m5 0h3m-2 0h3m2 0h3m41 0h3m44 0h3m0 0h3m2 0h3m-2 0h3m36 0h3m3 0h3m-178 1h3m-1 0h3m1 0h3m22 0h3m12 0h3m-3 0h3m32 0h3m19 0h3m51 0h3m-189 1h3m60 0h3m31 0h3m9 0h3m14 0h3m27 0h3m1 0h3m16 0h3m-2 0h3m-206 1h3m41 0h3m19 0h3m8 0h3m12 0h3m6 0h3m7 0h3m4 0h3m42 0h3m4 0h3m8 0h3m23 0h3m6 0h3m-1 0h3m2 0h3m1 0h3m1 0h3m-229 1h3m6 0h3m43 0h3m3 0h3m16 0h3m0 0h3m1 0h3m25 0h3m21 0h3m29 0h3m36 0h3m1 0h3m-238 1h3m15 0h3m36 0h3m9 0h3m1 0h3m5 0h3m2 0h3m5 0h3m3 0h3m5 0h3m-3 0h3m9 0h3m-1 0h3m30 0h3m5 0h3m30 0h3m1 0h3m-1 0h3m9 0h3m0 0h3m0 0h3m-2 0h3m7 0h3m-234 1h3m42 0h3m25 0h3m25 0h3m25 0h3m32 0h3m18 0h3m24 0h3m10 0h3m12 0h3m-191 1h3m23 0h3m16 0h3m28 0h3m3 0h3m10 0h3m18 0h3m-3 0h3m-2 0h3m49 0h3m21 0h3m5 0h3m10 0h3m-225 1h3m32 0h3m4 0h3m14 0h3m21 0h3m12 0h3m33 0h3m11 0h3m-1 0h3m14 0h3m8 0h3m-1 0h3m-2 0h3m0 0h3m3 0h3m2 0h3m-177 1h3m16 0h3m-2 0h3m55 0h3m84 0h3m2 0h3m17 0h3m-1 0h3m-217 1h3m15 0h3m0 0h3m37 0h3m10 0h3m8 0h3m47 0h3m-2 0h3m10 0h3m2 0h3m11 0h3m7 0h3m8 0h3m-223 1h3m49 0h3m7 0h3m27 0h3m1 0h3m-1 0h3m34 0h3m10 0h3m-3 0h3m27 0h3m1 0h3m23 0h3m-3 0h3m23 0h3m-241 1h3m6 0h3m3 0h3m61 0h3m11 0h3m5 0h3m5 0h3m15 0h3m53 0h3m-2 0h3m-1 0h3m10 0h3m-2 0h3m23 0h3m7 0h3m-193 1h3m2 0h3m9 0h3m11 0h3m20 0h3m85 0h3m21 0h3m8 0h3m-214 1h3m2 0h3m1 0h3m-1 0h3m32 0h3m20 0h3m19 0h3m13 0h3m31 0h3m2 0h3m14 0h3m9 0h3m-2 0h3m0 0h3m17 0h3m1 0h3m0 0h3m3 0h3m0 0h3m-227 1h3m33 0h3m3 0h3m5 0h3m9 0h3m41 0h3m17 0h3m20 0h3m-1 0h3m13 0h3m-2 0h3m-1 0h3m1 0h3m17 0h3m-3 0h3m-169 1h3m2 0h3m54 0h3m7 0h3m12 0h3m3 0h3m7 0h3m16 0h3m4 0h3m6 0h3m16 0h3m-3 0h3m0 0h3m3 0h3m35 0h3m-191 1h3m138 0h3m-1 0h3m3 0h3m5 0h3m1 0h3m14 0h3m-128 1h3m3 0h3m14 0h3m29 0h3m3 0h3m26 0h3m2 0h3m-175 1h3m39 0h3m50 0h3m19 0h3m14 0h3m-1 0h3m10 0h3m12 0h3m9 0h3m2 0h3m7 0h3m3 0h3m5 0h3m16 0h3m-245 1h3m36 0h3m10 0h3m75 0h3m21 0h3m2 0h3m2 0h3m3 0h3m3 0h3m-2 0h3m-175 1h3m13 0h3m13 0h3m8 0h3m-2 0h3m15 0h3m3 0h3m26 0h3m42 0h3m17 0h3m3 0h3m18 0h3m-3 0h3m-2 0h3m4 0h3m2 0h3m-145 1h3m34 0h3m0 0h3m4 0h3m2 0h3m2 0h3m1 0h3m17 0h3m5 0h3m-1 0h3m40 0h3m-3 0h3m8 0h3m2 0h3m2 0h3m1 0h3m-160 1h3m8 0h3m8 0h3m35 0h3m4 0h3m33 0h3m-3 0h3m6 0h3m1 0h3m9 0h3m0 0h3m7 0h3m17 0h3m-157 1h3m33 0h3m25 0h3m6 0h3m-2 0h3m-3 0h3m26 0h3m7 0h3m15 0h3m26 0h3m-232 1h3m-2 0h3m11 0h3m27 0h3m75 0h3m82 0h3m-198 1h3m11 0h3m44 0h3m14 0h3m6 0h3m0 0h3m57 0h3m26 0h3m1 0h3m-175 1h3m36 0h3m-1 0h3m9 0h3m8 0h3m3 0h3m34 0h3m11 0h3m6 0h3m6 0h3m3 0h3m5 0h3m-2 0h3m-3 0h3m6 0h3m2 0h3m-181 1h3m46 0h3m21 0h3m41 0h3m41 0h3m21 0h3m22 0h3m-210 1h3m80 0h3m31 0h3m7 0h3m27 0h3m-1 0h3m9 0h3m3 0h3m-1 0h3m-3 0h3m31 0h3m-220 1h3m46 0h3m9 0h3m21 0h3m29 0h3m22 0h3m14 0h3m26 0h3m-3 0h3m1 0h3m13 0h3m7 0h3m-185 1h3m51 0h3m24 0h3m22 0h3m-3 0h3m14 0h3m-1 0h3m-138 1h3m15 0h3m31 0h3m29 0h3m62 0h3m11 0h3m-206 1h3m5 0h3m16 0h3m4 0h3m64 0h3m30 0h3m56 0h3m9 0h3m4 0h3m26 0h3m-223 1h3m57 0h3m73 0h3m29 0h3m-2 0h3m-210 1h3m28 0h3m128 0h3m34 0h3m1 0h3m8 0h3m20 0h3m15 0h3m-257 1h3m90 0h3m99 0h3m-162 1h3m6 0h3m87 0h3m27 0h3m25 0h3m-136 1h3m69 0h3m-1 0h3m34 0h3m27 0h3m12 0h3m-224 1h3m190 0h3m34 0h3m-203 1h3m42 0h3m35 0h3m89 0h3m-166 1h3m155 0h3m-160 1h3m22 0h3m98 0h3m9 0h3m4 1h3m27 0h3m31 0h3m-168 1h3m89 0h3m9 0h3m59 0h3m-213 1h3m196 0h3m-188 1h3m78 0h3m47 0h3m-27 1h3m38 0h3m18 0h3m-11 1h3m22 0h3m-192 1h3m72 0h3m2 0h3m70 0h3m39 0h3m-57 1h3m17 0h3m0 0h3m-194 1h3m62 1h3m-51 2h3m29 0h3m14 0h3m105 1h3m0 0h3m-78 1h3m99 0h3m10 0h3m-67 1h3m-1 0h3m-31 1h3m15 0h3m20 0h3m-87 2h3m67 0h3m11 1h3m17 1h3m-11 2h3m-15 1h3m59 0h3m-209 3h3m199 1h3m-28 4h3m-54 7h3" stroke="#f7dc08" stroke-width="2.8" stroke-opacity="0.68"/><path d="M111 1143h3m162 9h3m7 1h3m-125 8h3m187 1h3m-89 2h3m-32 1h3m105 0h3m-43 1h3m1 0h3m-130 1h3m142 0h3m-103 1h3m78 0h3m-123 2h3m113 1h3m54 0h3m5 0h3m-166 1h3m40 0h3m44 0h3m-63 1h3m50 0h3m11 0h3m-110 1h3m103 0h3m4 0h3m-134 1h3m76 0h3m45 0h3m-130 1h3m79 0h3m25 0h3m-18 1h3m-122 1h3m105 0h3m62 0h3m-223 1h3m7 0h3m65 0h3m14 0h3m22 0h3m-2 0h3m2 0h3m50 0h3m51 0h3m-200 1h3m-12 1h3m45 0h3m15 0h3m107 0h3m8 0h3m-2 0h3m36 0h3m-228 1h3m38 0h3m0 0h3m17 1h3m88 0h3m-11 1h3m42 0h3m-156 1h3m28 0h3m105 0h3m20 0h3m-201 1h3m68 0h3m85 0h3m63 0h3m-243 1h3m43 0h3m77 0h3m22 0h3m14 0h3m11 0h3m-3 0h3m-41 1h3m12 0h3m16 0h3m13 0h3m-3 0h3m-147 1h3m13 0h3m9 0h3m14 0h3m15 0h3m2 0h3m14 0h3m11 0h3m11 0h3m-3 0h3m12 0h3m1 0h3m36 0h3m1 0h3m6 0h3m4 0h3m-157 1h3m46 0h3m70 0h3m43 0h3m-189 1h3m1 0h3m5 0h3m20 0h3m8 0h3m61 0h3m1 0h3m16 0h3m-211 1h3m13 0h3m130 0h3m-1 0h3m24 0h3m16 0h3m26 0h3m-157 1h3m1 0h3m4 0h3m11 0h3m45 0h3m56 0h3m-176 1h3m36 0h3m16 0h3m15 0h3m61 0h3m9 0h3m-2 0h3m12 0h3m1 0h3m24 0h3m-223 1h3m23 0h3m59 0h3m52 0h3m3 0h3m15 0h3m-171 1h3m11 0h3m45 0h3m4 0h3m2 0h3m44 0h3m50 0h3m9 0h3m8 0h3m33 0h3m-226 1h3m86 0h3m31 0h3m3 0h3m15 0h3m8 0h3m3 0h3m2 0h3m5 0h3m1 0h3m14 0h3m-84 1h3m54 0h3m-1 0h3m11 0h3m-209 1h3m16 0h3m-2 0h3m56 0h3m-3 0h3m23 0h3m50 0h3m16 0h3m10 0h3m26 0h3m-1 0h3m5 0h3m-131 1h3m-2 0h3m7 0h3m1 0h3m12 0h3m6 0h3m12 0h3m42 0h3m10 0h3m13 0h3m-189 1h3m14 0h3m8 0h3m52 0h3m28 0h3m10 0h3m15 0h3m18 0h3m-210 1h3m164 0h3m14 0h3m8 0h3m6 0h3m-134 1h3m1 0h3m28 0h3m21 0h3m46 0h3m-184 1h3m-1 0h3m18 0h3m7 0h3m26 0h3m40 0h3m15 0h3m-3 0h3m-130 1h3m24 0h3m31 0h3m1 0h3m-3 0h3m9 0h3m5 0h3m29 0h3m15 0h3m-2 0h3m1 0h3m16 0h3m28 0h3m6 0h3m16 0h3m2 0h3m-136 1h3m9 0h3m-2 0h3m0 0h3m0 0h3m4 0h3m9 0h3m9 0h3m0 0h3m14 0h3m19 0h3m25 0h3m85 0h3m-151 1h3m18 0h3m9 0h3m5 0h3m6 0h3m-1 0h3m1 0h3m-1 0h3m6 0h3m-188 1h3m3 0h3m9 0h3m5 0h3m5 0h3m-1 0h3m5 0h3m57 0h3m7 0h3m14 0h3m7 0h3m36 0h3m-148 1h3m50 0h3m28 0h3m40 0h3m3 0h3m-3 0h3m2 0h3m-1 0h3m10 0h3m9 0h3m-234 1h3m145 0h3m-2 0h3m14 0h3m24 0h3m9 0h3m11 0h3m-231 1h3m20 0h3m2 0h3m5 0h3m11 0h3m-1 0h3m31 0h3m11 0h3m17 0h3m8 0h3m19 0h3m5 0h3m3 0h3m13 0h3m81 0h3m-263 1h3m27 0h3m66 0h3m0 0h3m7 0h3m12 0h3m36 0h3m0 0h3m37 0h3m-170 1h3m-3 0h3m2 0h3m21 0h3m76 0h3m7 0h3m1 0h3m-126 1h3m3 0h3m18 0h3m51 0h3m14 0h3m-1 0h3m9 0h3m4 0h3m16 0h3m22 0h3m1 0h3m11 0h3m3 0h3m-181 1h3m47 0h3m-2 0h3m-3 0h3m45 0h3m8 0h3m-3 0h3m-1 0h3m9 0h3m48 0h3m6 0h3m1 0h3m-201 1h3m15 0h3m49 0h3m30 0h3m32 0h3m-138 1h3m-2 0h3m10 0h3m7 0h3m3 0h3m16 0h3m-1 0h3m19 0h3m1 0h3m15 0h3m6 0h3m2 0h3m18 0h3m16 0h3m-1 0h3m-3 0h3m10 0h3m1 0h3m8 0h3m-208 1h3m39 0h3m22 0h3m6 0h3m6 0h3m27 0h3m8 0h3m3 0h3m0 0h3m15 0h3m10 0h3m-2 0h3m21 0h3m-1 0h3m4 0h3m3 0h3m-157 1h3m31 0h3m-3 0h3m46 0h3m0 0h3m30 0h3m2 0h3m13 0h3m-1 0h3m2 0h3m26 0h3m0 0h3m-211 1h3m10 0h3m32 0h3m-2 0h3m38 0h3m53 0h3m22 0h3m5 0h3m-201 1h3m33 0h3m57 0h3m8 0h3m1 0h3m19 0h3m0 0h3m5 0h3m0 0h3m4 0h3m-3 0h3m-2 0h3m-1 0h3m3 0h3m1 0h3m10 0h3m-2 0h3m-3 0h3m5 0h3m72 0h3m-284 1h3m3 0h3m15 0h3m4 0h3m2 0h3m2 0h3m6 0h3m28 0h3m25 0h3m10 0h3m18 0h3m19 0h3m1 0h3m-3 0h3m-2 0h3m12 0h3m1 0h3m0 0h3m2 0h3m0 0h3m7 0h3m22 0h3m-175 1h3m2 0h3m13 0h3m7 0h3m5 0h3m10 0h3m8 0h3m-3 0h3m36 0h3m3 0h3m7 0h3m3 0h3m7 0h3m16 0h3m3 0h3m0 0h3m-214 1h3m4 0h3m2 0h3m37 0h3m3 0h3m0 0h3m-1 0h3m7 0h3m35 0h3m4 0h3m32 0h3m-2 0h3m4 0h3m2 0h3m13 0h3m17 0h3m5 0h3m-196 1h3m91 0h3m-3 0h3m17 0h3m7 0h3m16 0h3m7 0h3m-2 0h3m3 0h3m4 0h3m-1 0h3m15 0h3m12 0h3m-215 1h3m21 0h3m27 0h3m20 0h3m2 0h3m13 0h3m18 0h3m6 0h3m34 0h3m10 0h3m10 0h3m7 0h3m-203 1h3m-1 0h3m1 0h3m22 0h3m42 0h3m6 0h3m40 0h3m5 0h3m8 0h3m-2 0h3m31 0h3m0 0h3m0 0h3m18 0h3m-172 1h3m6 0h3m13 0h3m16 0h3m1 0h3m8 0h3m-2 0h3m12 0h3m10 0h3m15 0h3m-1 0h3m-3 0h3m27 0h3m13 0h3m7 0h3m-222 1h3m48 0h3m3 0h3m26 0h3m57 0h3m22 0h3m-2 0h3m10 0h3m3 0h3m14 0h3m-210 1h3m37 0h3m20 0h3m18 0h3m16 0h3m17 0h3m14 0h3m12 0h3m-3 0h3m30 0h3m2 0h3m2 0h3m1 0h3m-3 0h3m2 0h3m-3 0h3m20 0h3m-210 1h3m10 0h3m9 0h3m85 0h3m9 0h3m7 0h3m10 0h3m18 0h3m-3 0h3m16 0h3m-200 1h3m59 0h3m0 0h3m40 0h3m48 0h3m9 0h3m0 0h3m-3 0h3m10 0h3m8 0h3m5 0h3m-208 1h3m3 0h3m26 0h3m12 0h3m8 0h3m0 0h3m4 0h3m4 0h3m17 0h3m10 0h3m5 0h3m27 0h3m9 0h3m1 0h3m2 0h3m0 0h3m-1 0h3m-173 1h3m45 0h3m11 0h3m50 0h3m8 0h3m10 0h3m7 0h3m5 0h3m4 0h3m76 0h3m-261 1h3m103 0h3m11 0h3m26 0h3m8 0h3m31 0h3m-1 0h3m7 0h3m1 0h3m7 0h3m-237 1h3m85 0h3m74 0h3m24 0h3m2 0h3m6 0h3m-120 1h3m7 0h3m7 0h3m22 0h3m8 0h3m20 0h3m8 0h3m32 0h3m-208 1h3m10 0h3m34 0h3m35 0h3m114 0h3m0 0h3m12 0h3m44 0h3m-290 1h3m44 0h3m11 0h3m9 0h3m19 0h3m14 0h3m23 0h3m7 0h3m28 0h3m16 0h3m0 0h3m4 0h3m16 0h3m3 0h3m-1 0h3m3 0h3m-217 1h3m35 0h3m8 0h3m5 0h3m1 0h3m13 0h3m10 0h3m-1 0h3m16 0h3m20 0h3m15 0h3m18 0h3m-2 0h3m55 0h3m-176 1h3m11 0h3m48 0h3m3 0h3m24 0h3m14 0h3m26 0h3m18 0h3m-181 1h3m67 0h3m20 0h3m51 0h3m-208 1h3m10 0h3m17 0h3m-2 0h3m-2 0h3m14 0h3m20 0h3m81 0h3m2 0h3m4 0h3m7 0h3m11 0h3m8 0h3m0 0h3m17 0h3m-168 1h3m17 0h3m75 0h3m-2 0h3m3 0h3m10 0h3m14 0h3m-148 1h3m12 0h3m11 0h3m-1 0h3m64 0h3m21 0h3m24 0h3m4 0h3m-115 1h3m5 0h3m45 0h3m23 0h3m17 0h3m15 0h3m-191 1h3m16 0h3m62 0h3m52 0h3m4 0h3m-2 0h3m35 0h3m1 0h3m-227 1h3m142 0h3m7 0h3m-134 1h3m78 0h3m43 0h3m28 0h3m22 0h3m-194 1h3m6 0h3m61 0h3m6 0h3m19 0h3m24 0h3m1 0h3m2 0h3m18 0h3m28 0h3m-113 1h3m1 0h3m4 0h3m48 0h3m10 0h3m16 0h3m1 0h3m-147 1h3m17 0h3m15 0h3m28 0h3m0 0h3m4 1h3m108 0h3m-219 1h3m113 0h3m49 0h3m11 0h3m-183 1h3m2 0h3m10 0h3m63 0h3m6 0h3m43 0h3m-3 0h3m-2 0h3m8 0h3m-2 0h3m12 0h3m-3 0h3m-175 1h3m75 0h3m72 0h3m-3 0h3m25 0h3m-179 1h3m69 0h3m31 0h3m17 0h3m34 0h3m-110 1h3m36 0h3m3 0h3m27 0h3m-159 1h3m22 0h3m40 0h3m90 0h3m40 0h3m-162 1h3m32 0h3m59 0h3m-3 0h3m-120 1h3m46 0h3m34 0h3m6 0h3m70 0h3m-90 1h3m64 0h3m8 0h3m4 0h3m15 0h3m-159 1h3m128 0h3m-3 0h3m-193 2h3m8 0h3m127 1h3m56 0h3m-97 1h3m2 0h3m98 0h3m-101 1h3m-1 0h3m-2 0h3m82 0h3m1 0h3m-96 1h3m5 1h3m36 0h3m57 0h3m-25 1h3m-187 1h3m74 0h3m140 0h3m-85 1h3m33 0h3m-137 3h3m124 0h3m-93 1h3m104 1h3m-31 2h3m45 0h3m-62 2h3m93 3h3m-103 2h3m49 0h3m13 0h3m-141 2h3m127 13h3m-49 10h3" stroke="#f7dc08" stroke-width="2.8" stroke-opacity="0.68"/><path d="M344 1144h3m3 9h3m-109 1h3m110 0h3m-16 1h3m-44 2h3m-114 2h3m62 1h3m46 0h3m14 1h3m17 0h3m-105 1h3m-65 1h3m141 0h3m-131 1h3m-55 1h3m44 1h3m136 0h3m-143 1h3m136 1h3m-177 1h3m68 0h3m81 0h3m-39 1h3m59 0h3m-180 1h3m79 0h3m66 1h3m14 2h3m-149 1h3m48 0h3m98 0h3m-218 1h3m25 1h3m22 0h3m140 0h3m9 0h3m4 0h3m-203 1h3m128 0h3m11 0h3m25 0h3m-122 2h3m43 0h3m19 0h3m77 0h3m42 0h3m-112 1h3m22 0h3m45 0h3m-167 1h3m13 0h3m99 0h3m13 0h3m19 0h3m2 0h3m-198 1h3m54 0h3m23 0h3m21 0h3m31 0h3m50 0h3m-163 1h3m31 0h3m9 0h3m-70 1h3m152 0h3m-85 1h3m87 0h3m13 0h3m3 0h3m-226 1h3m17 0h3m169 0h3m16 0h3m4 0h3m-149 1h3m17 0h3m20 0h3m59 0h3m18 0h3m26 0h3m-189 1h3m125 0h3m24 0h3m6 0h3m0 0h3m8 0h3m6 0h3m-110 1h3m-1 0h3m27 0h3m25 0h3m3 0h3m2 0h3m30 0h3m-199 1h3m25 0h3m34 0h3m5 0h3m7 0h3m64 0h3m49 0h3m-196 1h3m38 0h3m33 0h3m23 0h3m15 0h3m24 0h3m1 0h3m4 0h3m4 0h3m7 0h3m-149 1h3m38 0h3m31 0h3m25 0h3m5 0h3m35 0h3m19 0h3m-191 1h3m6 0h3m7 0h3m34 0h3m4 0h3m66 0h3m10 0h3m-1 0h3m10 0h3m-2 0h3m19 0h3m-246 1h3m65 0h3m19 0h3m5 0h3m35 0h3m30 0h3m37 0h3m4 0h3m-179 1h3m0 0h3m41 0h3m1 0h3m-3 0h3m16 0h3m73 0h3m3 0h3m12 0h3m7 0h3m18 0h3m-184 1h3m46 0h3m28 0h3m8 0h3m10 0h3m0 0h3m38 0h3m5 0h3m4 0h3m0 0h3m-115 1h3m12 0h3m0 0h3m-2 0h3m93 0h3m2 0h3m1 0h3m-2 0h3m-206 1h3m58 0h3m16 0h3m-3 0h3m58 0h3m16 0h3m14 0h3m21 0h3m-236 1h3m10 0h3m28 0h3m7 0h3m32 0h3m21 0h3m65 0h3m23 0h3m36 0h3m-179 1h3m2 0h3m31 0h3m-1 0h3m52 0h3m43 0h3m11 0h3m-1 0h3m-162 1h3m30 0h3m1 0h3m25 0h3m61 0h3m0 0h3m11 0h3m8 0h3m-1 0h3m1 0h3m-220 1h3m21 0h3m8 0h3m31 0h3m52 0h3m28 0h3m5 0h3m2 0h3m7 0h3m3 0h3m37 0h3m-237 1h3m26 0h3m42 0h3m10 0h3m9 0h3m-1 0h3m24 0h3m31 0h3m9 0h3m11 0h3m0 0h3m12 0h3m16 0h3m-197 1h3m74 0h3m1 0h3m58 0h3m13 0h3m-1 0h3m27 0h3m19 0h3m-219 1h3m14 0h3m59 0h3m16 0h3m54 0h3m0 0h3m6 0h3m2 0h3m4 0h3m1 0h3m-119 1h3m11 0h3m36 0h3m6 0h3m27 0h3m3 0h3m-171 1h3m56 0h3m26 0h3m8 0h3m19 0h3m2 0h3m7 0h3m-1 0h3m24 0h3m-2 0h3m29 0h3m-216 1h3m5 0h3m11 0h3m7 0h3m5 0h3m52 0h3m46 0h3m6 0h3m1 0h3m9 0h3m-2 0h3m1 0h3m5 0h3m2 0h3m-1 0h3m9 0h3m5 0h3m13 0h3m-222 1h3m48 0h3m24 0h3m10 0h3m22 0h3m21 0h3m17 0h3m11 0h3m7 0h3m5 0h3m44 0h3m-235 1h3m28 0h3m56 0h3m-2 0h3m4 0h3m0 0h3m12 0h3m53 0h3m-1 0h3m1 0h3m22 0h3m-2 0h3m-131 1h3m-2 0h3m17 0h3m11 0h3m-2 0h3m38 0h3m-2 0h3m20 0h3m9 0h3m-2 0h3m12 0h3m0 0h3m-239 1h3m63 0h3m-2 0h3m9 0h3m2 0h3m-2 0h3m6 0h3m2 0h3m28 0h3m12 0h3m42 0h3m6 0h3m1 0h3m6 0h3m20 0h3m4 0h3m-2 0h3m-197 1h3m34 0h3m23 0h3m30 0h3m5 0h3m27 0h3m-1 0h3m3 0h3m0 0h3m-2 0h3m-166 1h3m27 0h3m16 0h3m0 0h3m1 0h3m3 0h3m93 0h3m12 0h3m6 0h3m18 0h3m1 0h3m-2 0h3m13 0h3m6 0h3m-189 1h3m17 0h3m19 0h3m19 0h3m15 0h3m5 0h3m25 0h3m-3 0h3m4 0h3m-1 0h3m-1 0h3m8 0h3m9 0h3m10 0h3m-237 1h3m49 0h3m-1 0h3m19 0h3m-1 0h3m6 0h3m11 0h3m20 0h3m10 0h3m0 0h3m3 0h3m19 0h3m2 0h3m0 0h3m6 0h3m16 0h3m-2 0h3m3 0h3m-1 0h3m-1 0h3m-141 1h3m43 0h3m6 0h3m8 0h3m0 0h3m4 0h3m19 0h3m8 0h3m1 0h3m14 0h3m-2 0h3m15 0h3m1 0h3m-170 1h3m19 0h3m5 0h3m59 0h3m19 0h3m2 0h3m0 0h3m25 0h3m10 0h3m2 0h3m-211 1h3m1 0h3m18 0h3m2 0h3m47 0h3m4 0h3m46 0h3m11 0h3m-1 0h3m5 0h3m1 0h3m1 0h3m3 0h3m2 0h3m7 0h3m-2 0h3m1 0h3m2 0h3m-188 1h3m12 0h3m15 0h3m12 0h3m22 0h3m8 0h3m-2 0h3m29 0h3m7 0h3m19 0h3m2 0h3m-3 0h3m3 0h3m0 0h3m25 0h3m13 0h3m-258 1h3m79 0h3m14 0h3m-1 0h3m10 0h3m0 0h3m65 0h3m43 0h3m1 0h3m2 0h3m9 0h3m-236 1h3m27 0h3m-2 0h3m38 0h3m5 0h3m9 0h3m19 0h3m0 0h3m30 0h3m45 0h3m4 0h3m14 0h3m29 0h3m-231 1h3m4 0h3m12 0h3m36 0h3m7 0h3m-3 0h3m23 0h3m17 0h3m1 0h3m-1 0h3m10 0h3m4 0h3m-1 0h3m2 0h3m14 0h3m-2 0h3m0 0h3m-179 1h3m35 0h3m13 0h3m4 0h3m1 0h3m40 0h3m11 0h3m40 0h3m4 0h3m4 0h3m0 0h3m11 0h3m2 0h3m22 0h3m-261 1h3m25 0h3m104 0h3m22 0h3m23 0h3m24 0h3m43 0h3m-265 1h3m51 0h3m-1 0h3m0 0h3m-2 0h3m28 0h3m24 0h3m36 0h3m-2 0h3m9 0h3m49 0h3m-3 0h3m4 0h3m-1 0h3m1 0h3m24 0h3m-208 1h3m77 0h3m61 0h3m1 0h3m2 0h3m52 0h3m-224 1h3m13 0h3m0 0h3m3 0h3m3 0h3m9 0h3m11 0h3m27 0h3m2 0h3m49 0h3m9 0h3m-3 0h3m14 0h3m-2 0h3m3 0h3m3 0h3m2 0h3m-1 0h3m-236 1h3m15 0h3m21 0h3m24 0h3m48 0h3m27 0h3m-3 0h3m9 0h3m2 0h3m16 0h3m0 0h3m11 0h3m-2 0h3m7 0h3m-160 1h3m2 0h3m21 0h3m36 0h3m4 0h3m8 0h3m2 0h3m14 0h3m0 0h3m2 0h3m4 0h3m-3 0h3m5 0h3m-3 0h3m-2 0h3m13 0h3m42 0h3m19 0h3m-238 1h3m7 0h3m-1 0h3m54 0h3m58 0h3m7 0h3m12 0h3m23 0h3m46 0h3m-202 1h3m25 0h3m57 0h3m10 0h3m8 0h3m13 0h3m-2 0h3m16 0h3m2 0h3m-186 1h3m10 0h3m11 0h3m18 0h3m7 0h3m32 0h3m10 0h3m2 0h3m4 0h3m-2 0h3m1 0h3m11 0h3m-2 0h3m2 0h3m53 0h3m-217 1h3m46 0h3m34 0h3m3 0h3m43 0h3m15 0h3m2 0h3m0 0h3m4 0h3m6 0h3m17 0h3m-168 1h3m18 0h3m19 0h3m4 0h3m19 0h3m6 0h3m10 0h3m2 0h3m23 0h3m1 0h3m5 0h3m50 0h3m-103 1h3m50 0h3m6 0h3m12 0h3m-2 0h3m2 0h3m6 0h3m-169 1h3m9 0h3m8 0h3m23 0h3m29 0h3m16 0h3m16 0h3m7 0h3m0 0h3m8 0h3m3 0h3m-184 1h3m8 0h3m114 0h3m16 0h3m10 0h3m0 0h3m12 0h3m27 0h3m-231 1h3m8 0h3m48 0h3m20 0h3m82 0h3m-1 0h3m5 0h3m17 0h3m1 0h3m-162 1h3m29 0h3m3 0h3m25 0h3m38 0h3m20 0h3m-1 0h3m12 0h3m18 0h3m-1 0h3m-175 1h3m36 0h3m-1 0h3m81 0h3m13 0h3m-2 0h3m4 0h3m-1 0h3m3 0h3m0 0h3m24 0h3m-232 1h3m20 0h3m42 0h3m57 0h3m30 0h3m8 0h3m-1 0h3m40 0h3m-215 1h3m-3 0h3m58 0h3m-1 0h3m36 0h3m19 0h3m11 0h3m-2 0h3m2 0h3m44 0h3m7 0h3m0 0h3m-196 1h3m132 0h3m-123 1h3m13 0h3m70 0h3m3 0h3m20 0h3m5 0h3m16 0h3m10 0h3m14 0h3m-2 0h3m-3 0h3m-239 1h3m18 0h3m8 0h3m4 0h3m10 0h3m45 0h3m31 0h3m28 0h3m20 0h3m4 0h3m4 0h3m-2 0h3m-82 1h3m64 0h3m31 0h3m8 0h3m11 0h3m-182 1h3m28 0h3m7 0h3m27 0h3m12 0h3m28 0h3m19 0h3m2 0h3m5 0h3m4 0h3m7 0h3m-95 1h3m83 0h3m-73 1h3m5 0h3m44 0h3m12 0h3m-186 1h3m14 0h3m65 0h3m30 0h3m15 0h3m39 0h3m-163 1h3m18 0h3m80 0h3m20 0h3m9 0h3m-192 1h3m2 0h3m74 0h3m36 0h3m-65 1h3m79 0h3m26 0h3m27 0h3m38 0h3m-74 1h3m18 0h3m0 0h3m14 0h3m3 0h3m-1 0h3m-137 1h3m85 0h3m8 0h3m3 0h3m-159 1h3m3 0h3m16 0h3m96 0h3m2 0h3m-3 0h3m11 0h3m-2 0h3m53 0h3m-216 1h3m79 0h3m60 0h3m8 0h3m3 0h3m6 0h3m19 0h3m19 0h3m-93 1h3m-120 1h3m84 0h3m26 0h3m26 0h3m4 0h3m17 0h3m-201 1h3m3 0h3m149 0h3m18 0h3m-158 1h3m38 0h3m92 0h3m-2 0h3m4 0h3m8 0h3m19 0h3m-4 1h3m-169 1h3m-8 1h3m1 0h3m0 0h3m57 0h3m0 0h3m-53 1h3m54 0h3m110 0h3m-2 1h3m-196 2h3m39 1h3m31 0h3m63 0h3m9 0h3m8 1h3m-26 3h3m17 1h3m-139 2h3m-39 1h3m73 0h3m11 0h3m28 0h3m6 1h3m15 0h3m-80 9h3m90 8h3m20 6h3" stroke="#f7dc08" stroke-width="2.8" stroke-opacity="0.68"/><path d="M201 1065h3m92 35h3m16 11h3m-182 15h3m263 13h3m-122 18h3m-1 7h3m-21 2h3m-42 1h3m-5 1h3m78 1h3m-45 4h3m23 1h3m0 0h3m-2 2h3m-95 1h3m5 0h3m33 0h3m-2 0h3m10 0h3m-2 1h3m9 0h3m-1 0h3m20 0h3m-61 1h3m7 0h3m58 0h3m-112 1h3m92 0h3m-54 1h3m9 0h3m-1 0h3m-33 1h3m24 0h3m7 0h3m15 0h3m28 0h3m-67 1h3m27 0h3m2 0h3m3 0h3m-148 1h3m122 0h3m32 0h3m-54 2h3m13 0h3m10 0h3m4 0h3m-64 1h3m1 0h3m12 1h3m21 0h3m22 0h3m-2 0h3m-129 1h3m35 0h3m63 0h3m2 0h3m-46 1h3m2 0h3m-1 0h3m4 0h3m9 0h3m32 0h3m4 0h3m-178 1h3m105 0h3m9 0h3m11 0h3m10 0h3m2 0h3m3 0h3m-55 1h3m32 0h3m1 0h3m45 0h3m-80 1h3m17 0h3m-71 1h3m16 0h3m3 0h3m12 0h3m-1 0h3m9 0h3m6 0h3m8 0h3m7 0h3m-105 1h3m51 0h3m2 0h3m5 0h3m4 0h3m-2 0h3m1 0h3m0 0h3m3 0h3m-3 0h3m6 0h3m13 0h3m8 0h3m-149 1h3m61 0h3m23 0h3m-2 0h3m2 0h3m-2 0h3m-1 0h3m10 0h3m1 0h3m2 0h3m20 0h3m-93 1h3m2 0h3m11 0h3m19 0h3m-2 0h3m80 0h3m-113 1h3m4 0h3m17 0h3m7 0h3m17 0h3m0 0h3m5 0h3m20 0h3m-96 1h3m1 0h3m7 0h3m5 0h3m-2 0h3m-2 0h3m5 0h3m21 0h3m26 0h3m-2 0h3m-108 1h3m26 0h3m-2 0h3m16 0h3m2 0h3m11 0h3m3 0h3m-2 0h3m-52 1h3m-1 0h3m2 0h3m7 0h3m17 0h3m1 0h3m-3 0h3m6 0h3m17 0h3m22 0h3m-152 1h3m27 0h3m13 0h3m11 0h3m26 0h3m-2 0h3m1 0h3m-3 0h3m-1 0h3m10 0h3m-2 0h3m-108 1h3m14 0h3m10 0h3m7 0h3m7 0h3m27 0h3m2 0h3m-2 0h3m6 0h3m2 0h3m-90 1h3m16 0h3m20 0h3m-2 0h3m9 0h3m4 0h3m16 0h3m-63 1h3m8 0h3m3 0h3m37 0h3m20 0h3m-89 1h3m1 0h3m17 0h3m0 0h3m-3 0h3m-3 0h3m28 0h3m-1 0h3m-1 0h3m-2 0h3m3 0h3m1 0h3m-1 0h3m8 0h3m-157 1h3m82 0h3m11 0h3m12 0h3m3 0h3m15 0h3m5 0h3m5 0h3m20 0h3m-104 1h3m0 0h3m8 0h3m-2 0h3m26 0h3m22 0h3m-82 1h3m4 0h3m6 0h3m0 0h3m-2 0h3m13 0h3m0 0h3m-2 0h3m-2 0h3m3 0h3m-1 0h3m2 0h3m-1 0h3m-1 0h3m16 0h3m2 0h3m-109 1h3m9 0h3m16 0h3m-2 0h3m-1 0h3m40 0h3m-1 0h3m1 0h3m30 0h3m1 0h3m-119 1h3m24 0h3m19 0h3m2 0h3m-2 0h3m-3 0h3m2 0h3m4 0h3m-2 0h3m-2 0h3m17 0h3m1 0h3m17 0h3m-109 1h3m1 0h3m18 0h3m13 0h3m1 0h3m6 0h3m0 0h3m20 0h3m-3 0h3m3 0h3m-2 0h3m25 0h3m-161 1h3m2 0h3m17 0h3m-3 0h3m37 0h3m22 0h3m6 0h3m6 0h3m8 0h3m-2 0h3m-2 0h3m-2 0h3m0 0h3m3 0h3m19 0h3m-82 1h3m3 0h3m-1 0h3m2 0h3m1 0h3m10 0h3m2 0h3m-3 0h3m23 0h3m14 0h3m-171 1h3m2 0h3m9 0h3m1 0h3m13 0h3m1 0h3m6 0h3m26 0h3m6 0h3m7 0h3m14 0h3m24 0h3m8 0h3m8 0h3m1 0h3m-157 1h3m65 0h3m16 0h3m2 0h3m1 0h3m-2 0h3m3 0h3m43 0h3m-190 1h3m72 0h3m20 0h3m1 0h3m19 0h3m-2 0h3m6 0h3m1 0h3m8 0h3m1 0h3m11 0h3m-156 1h3m52 0h3m33 0h3m0 0h3m21 0h3m6 0h3m2 0h3m4 0h3m-2 0h3m20 0h3m33 0h3m-106 1h3m5 0h3m26 0h3m-2 0h3m2 0h3m-151 1h3m63 0h3m-1 0h3m15 0h3m21 0h3m0 0h3m0 0h3m21 0h3m-2 0h3m7 0h3m13 0h3m1 0h3m1 0h3m11 0h3m10 0h3m-118 1h3m-2 0h3m15 0h3m-1 0h3m4 0h3m1 0h3m8 0h3m4 0h3m-3 0h3m4 0h3m4 0h3m2 0h3m3 0h3m22 0h3m-132 1h3m22 0h3m6 0h3m9 0h3m4 0h3m-3 0h3m-1 0h3m2 0h3m9 0h3m6 0h3m7 0h3m-2 0h3m30 0h3m-2 0h3m-100 1h3m11 0h3m7 0h3m1 0h3m-2 0h3m24 0h3m41 0h3m-110 1h3m0 0h3m35 0h3m-2 0h3m3 0h3m3 0h3m1 0h3m-1 0h3m-2 0h3m4 0h3m0 0h3m4 0h3m0 0h3m1 0h3m-1 0h3m-82 1h3m28 0h3m0 0h3m13 0h3m11 0h3m3 0h3m-3 0h3m-1 0h3m-2 0h3m-1 0h3m-114 1h3m16 0h3m21 0h3m31 0h3m8 0h3m2 0h3m5 0h3m7 0h3m0 0h3m13 0h3m-122 1h3m27 0h3m10 0h3m2 0h3m10 0h3m8 0h3m6 0h3m5 0h3m0 0h3m7 0h3m-93 1h3m5 0h3m39 0h3m25 0h3m0 0h3m11 0h3m-159 1h3m21 0h3m21 0h3m2 0h3m59 0h3m-2 0h3m-3 0h3m0 0h3m-2 0h3m11 0h3m-152 1h3m26 0h3m9 0h3m17 0h3m41 0h3m2 0h3m11 0h3m17 0h3m31 0h3m6 0h3m-2 0h3m-203 1h3m39 0h3m85 0h3m13 0h3m2 0h3m13 0h3m1 0h3m-70 1h3m9 0h3m8 0h3m-3 0h3m3 0h3m1 0h3m-1 0h3m-2 0h3m11 0h3m-3 0h3m9 0h3m-144 1h3m37 0h3m19 0h3m35 0h3m18 0h3m-1 0h3m7 0h3m2 0h3m-87 1h3m33 0h3m65 0h3m-141 1h3m28 0h3m15 0h3m34 0h3m13 0h3m21 0h3m-1 0h3m-141 1h3m-1 0h3m11 0h3m8 0h3m32 0h3m-2 0h3m29 0h3m0 0h3m-126 1h3m17 0h3m88 0h3m30 0h3m0 0h3m1 0h3m2 0h3m-2 0h3m-1 0h3m-148 1h3m7 0h3m3 0h3m1 0h3m4 0h3m2 0h3m19 0h3m5 0h3m1 0h3m3 0h3m15 0h3m0 0h3m-117 1h3m31 0h3m43 0h3m16 0h3m0 0h3m27 0h3m7 0h3m-106 1h3m10 0h3m0 0h3m-1 0h3m2 0h3m31 0h3m-76 1h3m50 0h3m-1 0h3m1 0h3m21 0h3m35 0h3m7 0h3m-134 1h3m6 0h3m35 0h3m-13 1h3m32 0h3m0 0h3m31 0h3m-2 0h3m33 0h3m20 0h3m-3 0h3m-151 1h3m8 0h3m25 0h3m60 0h3m-97 1h3m-1 0h3m-2 0h3m0 0h3m27 0h3m22 0h3m48 0h3m-120 1h3m65 0h3m26 0h3m-67 1h3m65 0h3m-131 1h3m86 0h3m14 0h3m15 0h3m6 0h3m5 0h3m0 0h3m-161 1h3m50 0h3m12 0h3m32 0h3m-2 0h3m-104 1h3m9 0h3m28 0h3m40 0h3m6 0h3m15 0h3m1 0h3m-42 1h3m4 0h3m23 0h3m46 0h3m-132 1h3m22 0h3m117 0h3m-156 1h3m15 0h3m13 0h3m13 0h3m6 0h3m10 0h3m1 0h3m64 0h3m-147 1h3m58 0h3m54 0h3m-145 1h3m23 0h3m8 0h3m8 0h3m8 0h3m16 0h3m13 0h3m15 0h3m-112 1h3m0 0h3m25 0h3m16 0h3m-1 0h3m17 0h3m-60 1h3m-1 0h3m1 0h3m13 0h3m3 0h3m34 0h3m5 0h3m29 0h3m16 0h3m-144 1h3m46 0h3m1 0h3m3 0h3m6 0h3m-1 0h3m5 0h3m14 0h3m36 0h3m-127 1h3m5 0h3m45 0h3m-35 1h3m6 0h3m0 0h3m-2 0h3m9 0h3m16 0h3m-62 1h3m16 0h3m6 0h3m17 0h3m62 0h3m-82 1h3m54 0h3m25 0h3m-135 1h3m3 0h3m10 0h3m14 0h3m29 0h3m4 0h3m-73 1h3m7 0h3m10 0h3m11 0h3m6 0h3m-61 1h3m13 0h3m32 0h3m1 0h3m30 1h3m-84 1h3m18 0h3m14 0h3m1 0h3m42 0h3m-77 1h3m24 0h3m2 0h3m26 0h3m-41 1h3m22 0h3m3 0h3m-45 1h3m14 0h3m3 0h3m26 0h3m-3 0h3m3 0h3m-61 1h3m0 0h3m22 0h3m2 0h3m24 0h3m4 0h3m-55 1h3m-3 0h3m8 0h3m10 0h3m-79 1h3m29 0h3m14 0h3m0 0h3m24 0h3m7 0h3m0 0h3m15 0h3m-47 1h3m-45 1h3m22 0h3m7 0h3m-2 0h3m-19 1h3m12 0h3m-2 0h3m-34 1h3m1 0h3m28 0h3m55 0h3m-88 1h3m19 0h3m31 0h3m-63 1h3m36 0h3m6 0h3m17 0h3m-1 0h3m-70 1h3m19 0h3m30 0h3m-50 1h3m15 0h3m-42 1h3m6 0h3m24 0h3m15 1h3m33 0h3m-92 1h3m9 0h3m6 0h3m8 0h3m-2 0h3m17 0h3m-2 0h3m-79 2h3m11 0h3m2 0h3m27 0h3m27 0h3m14 0h3m-79 1h3m94 0h3m-78 2h3m87 0h3m-118 1h3m49 0h3m33 0h3m-76 1h3m5 0h3m5 0h3m2 0h3m7 0h3m-73 1h3m62 0h3m43 0h3m-2 0h3m-52 1h3m4 0h3m-32 1h3m33 0h3m15 0h3m47 0h3m-109 1h3m45 0h3m-55 1h3m13 2h3m21 1h3m18 0h3m-6 2h3m-11 1h3m59 0h3m63 0h3m-186 1h3m6 0h3m2 0h3m39 0h3m30 1h3m-110 1h3m51 0h3m6 0h3m1 0h3m50 0h3m9 0h3m-108 1h3m1 1h3m33 0h3m-29 1h3m13 0h3m0 1h3m-37 1h3m21 0h3m5 0h3m4 1h3m-2 0h3m32 0h3m-106 1h3m27 0h3m33 0h3m118 0h3m-186 1h3m52 1h3m20 0h3m60 1h3m-108 1h3m11 0h3m1 1h3m45 0h3m9 0h3m52 1h3m-160 1h3m54 3h3m19 1h3m-30 3h3m14 5h3m121 2h3m-115 1h3m-47 1h3m25 0h3m-63 2h3m2 0h3m60 2h3m45 0h3m13 0h3m-84 1h3m31 0h3m0 0h3m8 0h3m-77 1h3m27 0h3m25 1h3m53 0h3m-110 1h3m15 1h3m215 0h3m-144 3h3m-61 1h3m15 3h3m19 2h3m-35 3h3m13 0h3m-103 1h3m54 0h3m-75 1h3m29 0h3m147 0h3m10 2h3m-92 3h3m1 0h3m3 3h3m-40 1h3m-16 2h3m24 0h3m43 0h3m-9 5h3m-30 2h3m33 0h3m-17 4h3m-9 2h3m-123 5h3m123 0h3m-71 2h3m-41 1h3" stroke="#161616" stroke-width="2.8"/><path d="M680 1055h3m-14 1h3m-29 1h3m5 0h3m-2 6h3m-38 3h3m59 0h3m-53 1h3m53 3h3m8 1h3m-26 1h3m-57 1h3m16 2h3m29 0h3m-23 1h3m10 0h3m-24 2h3m1 0h3m-22 6h3m40 0h3m-41 4h3m17 1h3m-7 2h3m63 3h3m-77 3h3m-17 3h3m-8 1h3m31 0h3m29 1h3m-29 1h3m-35 1h3m9 2h3m17 1h3m-7 1h3m2 1h3m16 1h3m-9 1h3m-22 1h3m42 0h3m-36 1h3m-26 2h3m3 3h3m1 0h3m-12 3h3m13 0h3m27 0h3m-78 1h3m15 0h3m35 0h3m-46 1h3m27 0h3m-25 1h3m37 1h3m-22 2h3m26 0h3m-49 1h3m28 0h3m-33 1h3m58 0h3m-57 1h3m12 1h3m-12 1h3m-9 1h3m42 0h3m-22 1h3m-44 1h3m37 1h3m-30 1h3m9 0h3m-19 1h3m11 0h3m-3 2h3m2 0h3m-47 1h3m20 0h3m-1 0h3m2 0h3m4 0h3m-3 0h3m5 1h3m4 0h3m-4 1h3m0 0h3m-25 1h3m4 0h3m17 0h3m-65 1h3m8 0h3m4 1h3m4 0h3m20 0h3m-1 0h3m-3 0h3m-31 1h3m21 0h3m8 0h3m-1 0h3m24 1h3m-93 2h3m12 1h3m-10 1h3m33 0h3m-44 1h3m34 1h3m2 0h3m26 0h3m-52 1h3m-9 2h3m20 1h3m11 0h3m8 1h3m-51 4h3m2 0h3m12 0h3m21 0h3m-54 3h3m42 0h3m12 0h3m-65 1h3m44 0h3m-44 2h3m-2 2h3m10 0h3m4 0h3m7 0h3m-26 1h3m13 0h3m2 0h3m2 0h3m13 0h3m-7 1h3m30 2h3m-76 2h3m-19 1h3m2 1h3m32 1h3m-10 1h3m-27 3h3m18 0h3m6 0h3m9 1h3m-27 1h3m-10 1h3m-2 0h3m8 1h3m26 1h3m-41 1h3m-12 1h3m19 0h3m-11 1h3m31 0h3m-32 3h3m-8 1h3m16 0h3m-5 5h3m-32 1h3m41 1h3m-13 1h3m9 4h3m-20 1h3m-31 3h3m19 2h3m-23 1h3m28 1h3m-45 1h3m-11 2h3m11 0h3m17 38h3m11 5h3m-55 1h3m56 7h3m2 9h3m-52 3h3m4 0h3m7 0h3m15 1h3m-34 2h3m18 0h3m-18 1h3m1 0h3m-10 4h3m9 0h3m-16 1h3m4 0h3m25 0h3m-26 2h3m41 0h3m-72 2h3m43 1h3m19 0h3m-29 1h3m-4 1h3m24 1h3m-61 1h3m7 0h3m-7 1h3m1 0h3m20 0h3m7 0h3m7 0h3m-26 1h3m1 0h3m-20 1h3m21 0h3m-10 1h3m3 0h3m5 0h3m-59 1h3m7 0h3m18 0h3m26 0h3m5 0h3m-59 1h3m54 0h3m-55 1h3m10 0h3m27 1h3m-67 2h3m34 0h3m-36 1h3m43 0h3m-38 1h3m68 0h3m-52 1h3m-1 0h3m2 0h3m0 0h3m2 0h3m0 0h3m0 0h3m-61 1h3m2 0h3m3 0h3m25 0h3m0 0h3m-18 2h3m16 0h3m-44 1h3m13 0h3m29 0h3m-1 0h3m-39 1h3m12 0h3m1 0h3m-8 1h3m2 0h3m6 0h3m-6 1h3m20 0h3m-42 1h3m9 0h3m1 0h3m2 0h3m41 0h3m-55 1h3m-3 0h3m-2 0h3m48 0h3m-83 1h3m17 0h3m42 0h3m-59 2h3m7 0h3m3 0h3m-32 1h3m13 0h3m10 0h3m3 0h3m7 0h3m8 0h3m-57 1h3m0 0h3m-1 0h3m1 0h3m2 0h3m1 0h3m-1 0h3m31 0h3m0 0h3m-1 0h3m-67 1h3m12 0h3m8 0h3m-17 2h3m-2 0h3m35 0h3m25 0h3m-91 1h3m14 1h3m-1 0h3m-2 0h3m10 0h3m20 0h3m8 0h3m17 0h3m-78 1h3m44 0h3m-30 1h3m10 0h3m1 0h3m0 0h3m0 0h3m-39 1h3m33 0h3m-2 0h3m-1 0h3m10 0h3m-68 1h3m28 0h3m5 0h3m1 0h3m-40 1h3m5 0h3m21 0h3m46 0h3m-83 1h3m-1 0h3m20 0h3m22 0h3m-11 1h3m-5 1h3m16 0h3m-56 1h3m8 1h3m11 0h3m12 0h3m2 0h3m-22 1h3m-2 0h3m0 0h3m16 0h3m-38 1h3m20 0h3m-39 1h3m7 0h3m3 0h3m23 0h3m22 0h3m-64 1h3m6 0h3m-2 0h3m21 0h3m-16 1h3m-33 1h3m17 0h3m3 0h3m2 0h3m5 0h3m-1 0h3m-30 1h3m5 0h3m18 0h3m-19 2h3m-51 1h3m40 0h3m8 0h3m12 0h3m-43 1h3m16 0h3m10 0h3m-10 1h3m7 0h3m2 0h3m3 0h3m6 0h3m-65 1h3m29 0h3m0 0h3m0 0h3m8 0h3m-27 1h3m6 0h3m-6 1h3m-25 1h3m12 0h3m4 0h3m5 0h3m-31 1h3m20 0h3m10 0h3m-23 2h3m-19 1h3m28 1h3m-64 1h3m-1 0h3m15 2h3m6 3h3m11 0h3m5 0h3m6 1h3m-54 2h3m29 0h3m-1 0h3m-8 2h3m-2 0h3m-12 1h3m-18 1h3m59 3h3m-74 4h3m11 5h3" stroke="#f7dc08" stroke-width="2.8" stroke-opacity="0.4"/><path d="M674 1054h3m-25 14h3m13 5h3m13 4h3m-68 1h3m69 2h3m-6 2h3m-48 7h3m20 2h3m4 1h3m22 3h3m-34 1h3m-39 4h3m19 1h3m-2 0h3m-10 2h3m-25 1h3m67 1h3m-49 2h3m6 0h3m-14 1h3m-1 0h3m2 0h3m-26 3h3m-1 0h3m24 0h3m-46 1h3m14 0h3m8 2h3m8 0h3m-38 1h3m46 0h3m-14 1h3m-3 1h3m-26 4h3m-1 0h3m19 0h3m-23 1h3m26 0h3m-53 1h3m17 0h3m16 0h3m8 0h3m-55 1h3m25 0h3m-3 0h3m43 1h3m6 0h3m-83 1h3m51 0h3m0 0h3m-46 2h3m44 0h3m-70 3h3m9 0h3m72 0h3m-43 1h3m-43 1h3m1 1h3m33 0h3m20 3h3m-42 1h3m35 0h3m-26 1h3m38 0h3m-48 1h3m-45 1h3m71 1h3m-49 1h3m-31 1h3m19 0h3m-2 0h3m24 0h3m-43 1h3m-1 0h3m61 1h3m10 1h3m-84 2h3m31 0h3m-20 1h3m2 0h3m12 0h3m-2 1h3m14 0h3m-60 1h3m32 0h3m-17 1h3m58 0h3m-38 1h3m-53 1h3m62 0h3m-69 1h3m25 0h3m0 0h3m10 0h3m-42 1h3m44 0h3m-1 0h3m-51 1h3m32 0h3m1 0h3m30 0h3m-47 1h3m21 1h3m19 0h3m-37 1h3m-30 1h3m39 0h3m-49 1h3m37 0h3m-1 0h3m11 0h3m-50 1h3m13 1h3m17 0h3m-14 4h3m-19 1h3m14 0h3m-22 1h3m-12 2h3m34 0h3m-26 1h3m23 0h3m-2 0h3m-68 3h3m40 0h3m10 0h3m-19 2h3m5 1h3m-32 3h3m17 0h3m15 0h3m-43 1h3m-19 1h3m17 0h3m21 1h3m-13 1h3m-17 1h3m11 1h3m23 0h3m-43 2h3m37 0h3m10 0h3m-57 1h3m43 0h3m-16 2h3m20 0h3m-44 2h3m7 4h3m-6 2h3m-27 2h3m25 3h3m9 0h3m-39 2h3m31 1h3m-36 2h3m4 0h3m16 1h3m-40 1h3m58 0h3m-57 2h3m10 6h3m-31 2h3m54 7h3m-30 8h3m8 9h3m12 0h3m-32 13h3m-23 12h3m1 0h3m15 1h3m35 2h3m-8 1h3m-17 2h3m-42 2h3m48 0h3m-27 2h3m-30 1h3m-3 1h3m35 0h3m4 0h3m7 0h3m-6 1h3m-44 1h3m26 1h3m12 2h3m-34 1h3m-8 3h3m19 0h3m-15 2h3m-31 1h3m25 0h3m14 0h3m-22 1h3m12 0h3m7 0h3m13 0h3m-69 2h3m12 1h3m36 0h3m-41 1h3m21 0h3m24 0h3m-57 1h3m55 0h3m-86 1h3m27 0h3m17 0h3m14 1h3m5 0h3m-41 1h3m21 0h3m10 0h3m-38 1h3m26 1h3m-3 0h3m-30 1h3m39 0h3m-43 1h3m-5 1h3m18 0h3m-61 1h3m35 0h3m5 0h3m-55 1h3m23 0h3m14 0h3m37 0h3m-85 1h3m20 0h3m37 0h3m-38 1h3m9 0h3m4 0h3m-33 1h3m-1 0h3m14 0h3m40 0h3m33 0h3m-65 1h3m3 0h3m0 0h3m-57 1h3m3 1h3m24 0h3m-3 0h3m-1 0h3m-45 1h3m30 0h3m30 0h3m-41 1h3m-1 0h3m1 0h3m0 0h3m5 0h3m-35 1h3m44 0h3m-21 1h3m-37 1h3m15 0h3m9 0h3m26 0h3m-57 1h3m10 0h3m35 0h3m-67 1h3m24 0h3m6 0h3m-39 1h3m8 0h3m37 0h3m-44 1h3m1 0h3m0 0h3m12 0h3m-2 0h3m3 0h3m48 0h3m-89 1h3m30 0h3m43 0h3m-55 1h3m12 0h3m40 0h3m-92 1h3m8 0h3m20 0h3m3 0h3m-26 1h3m19 0h3m18 0h3m-49 1h3m11 0h3m0 0h3m-1 0h3m-1 0h3m-1 0h3m8 0h3m-17 1h3m2 0h3m2 0h3m34 0h3m-85 1h3m27 0h3m26 0h3m-19 1h3m24 0h3m-66 1h3m27 0h3m-2 0h3m16 0h3m-41 1h3m6 0h3m34 0h3m-71 1h3m62 0h3m-29 2h3m8 0h3m6 0h3m-34 1h3m24 0h3m27 0h3m-56 1h3m13 0h3m0 0h3m-21 1h3m9 0h3m24 0h3m-63 1h3m28 0h3m-27 1h3m19 0h3m0 0h3m10 0h3m25 0h3m-66 1h3m27 0h3m7 0h3m2 0h3m18 0h3m-70 1h3m82 0h3m-101 1h3m6 0h3m9 0h3m19 0h3m-25 1h3m-1 0h3m13 0h3m15 0h3m4 0h3m-28 1h3m-2 0h3m-16 1h3m-3 1h3m-18 1h3m3 0h3m1 0h3m10 0h3m0 0h3m18 0h3m6 0h3m19 0h3m-96 1h3m33 0h3m12 0h3m1 0h3m1 0h3m-15 1h3m-19 1h3m-25 1h3m21 0h3m17 0h3m-1 0h3m-19 1h3m20 0h3m6 0h3m-32 1h3m12 0h3m-48 1h3m2 0h3m13 3h3m30 0h3m-69 1h3m7 0h3m42 2h3m4 0h3m-10 1h3m-19 1h3m-24 1h3m36 0h3m-31 2h3m-19 1h3m0 0h3m36 1h3m-35 1h3m19 1h3m-33 1h3m9 1h3m56 0h3m-63 4h3m-21 3h3m33 0h3m2 0h3m-40 4h3m10 3h3" stroke="#f7dc08" stroke-width="2.8" stroke-opacity="0.4"/><path d="M640 1188h3m33 5h3m17 0h3m-65 2h3m6 1h3m-11 4h3m82 0h3m-56 3h3m-5 1h3m-26 1h3m33 0h3m-47 3h3m46 1h3m-40 1h3m0 0h3m48 0h3m-72 1h3m-9 2h3m13 1h3m19 0h3m11 1h3m-3 0h3m-54 2h3m42 0h3m-34 1h3m37 0h3m14 0h3m-78 1h3m20 0h3m-2 0h3m-33 2h3m63 1h3m12 0h3m-74 1h3m17 0h3m33 0h3m14 0h3m-56 1h3m6 0h3m10 0h3m7 0h3m44 0h3m-96 1h3m1 0h3m10 0h3m5 0h3m1 0h3m48 0h3m-82 1h3m3 0h3m11 0h3m15 0h3m19 0h3m-43 1h3m11 0h3m-46 1h3m4 0h3m22 0h3m2 0h3m-50 1h3m44 0h3m3 0h3m43 0h3m-87 1h3m7 0h3m1 0h3m4 0h3m5 0h3m0 0h3m1 0h3m6 0h3m44 0h3m-88 1h3m55 0h3m23 0h3m-107 1h3m0 0h3m0 0h3m22 0h3m2 0h3m6 0h3m42 0h3m-79 1h3m-2 0h3m32 0h3m9 0h3m30 0h3m3 0h3m-90 1h3m6 0h3m11 0h3m4 0h3m4 0h3m14 0h3m-48 1h3m5 0h3m1 0h3m7 0h3m36 0h3m0 0h3m-45 1h3m-1 0h3m2 0h3m16 0h3m-61 1h3m9 0h3m10 0h3m-3 0h3m-1 0h3m11 0h3m-2 0h3m24 0h3m25 0h3m-103 1h3m10 0h3m13 0h3m-1 0h3m17 0h3m-56 1h3m11 0h3m56 0h3m11 0h3m0 0h3m53 0h3m-148 1h3m2 0h3m-3 0h3m6 0h3m3 0h3m6 0h3m4 0h3m6 0h3m-50 1h3m8 0h3m7 0h3m-3 0h3m4 0h3m-1 0h3m14 0h3m5 0h3m-1 0h3m-37 1h3m7 0h3m0 0h3m2 0h3m-2 0h3m-3 0h3m8 0h3m-1 0h3m4 0h3m7 0h3m16 0h3m1 0h3m-72 1h3m-28 1h3m0 0h3m15 0h3m-3 0h3m28 0h3m-3 0h3m1 0h3m-54 1h3m16 0h3m-7 1h3m28 0h3m-2 0h3m7 0h3m-33 1h3m0 0h3m3 0h3m-2 0h3m-2 0h3m15 0h3m-39 1h3m54 0h3m3 0h3m-70 1h3m0 0h3m0 0h3m13 0h3m1 0h3m-1 0h3m-3 0h3m0 0h3m9 0h3m-52 1h3m1 0h3m27 0h3m1 0h3m17 0h3m2 0h3m-73 1h3m3 0h3m0 0h3m9 0h3m61 0h3m17 0h3m-113 1h3m1 0h3m23 0h3m1 0h3m3 0h3m2 0h3m4 0h3m-2 0h3m8 0h3m17 0h3m0 0h3m-73 1h3m-2 0h3m55 0h3m22 0h3m40 0h3m-149 1h3m2 0h3m8 0h3m0 0h3m3 0h3m0 0h3m13 0h3m10 0h3m37 0h3m-66 1h3m-1 0h3m18 0h3m0 0h3m8 0h3m-60 1h3m0 0h3m-3 0h3m0 0h3m6 0h3m0 0h3m4 0h3m10 0h3m-2 0h3m10 0h3m-2 0h3m5 0h3m-64 1h3m12 0h3m1 0h3m2 0h3m1 0h3m-2 0h3m1 0h3m13 0h3m-1 0h3m2 0h3m19 0h3m-105 1h3m15 0h3m38 0h3m1 0h3m35 0h3m3 0h3m30 0h3m-118 1h3m4 0h3m-1 0h3m0 0h3m16 0h3m21 0h3m6 0h3m-82 1h3m24 0h3m20 0h3m9 0h3m-56 1h3m-1 0h3m19 0h3m9 0h3m21 0h3m20 0h3m-84 1h3m4 0h3m-1 0h3m12 0h3m19 0h3m6 0h3m45 0h3m-117 1h3m3 0h3m-3 0h3m29 0h3m33 0h3m21 0h3m-105 1h3m33 0h3m-3 0h3m70 0h3m-79 1h3m2 0h3m5 0h3m95 0h3m-107 1h3m1 0h3m2 0h3m58 0h3m-102 1h3m3 0h3m14 0h3m55 0h3m-76 1h3m70 0h3m45 0h3m-113 1h3m7 0h3m4 0h3m13 0h3m3 0h3m-78 1h3m10 0h3m7 0h3m6 0h3m10 0h3m26 0h3m-72 1h3m6 0h3m42 0h3m13 0h3m1 0h3m12 0h3m-73 1h3m0 0h3m14 0h3m12 0h3m7 1h3m-55 1h3m81 0h3m-68 1h3m1 0h3m3 0h3m7 0h3m-2 0h3m13 0h3m33 0h3m9 0h3m15 0h3m-103 1h3m8 0h3m33 0h3m-2 0h3m36 0h3m-110 1h3m9 0h3m-1 0h3m1 0h3m1 0h3m2 0h3m32 0h3m-1 0h3m-59 1h3m13 0h3m47 0h3m-81 1h3m30 0h3m26 0h3m2 0h3m-39 1h3m3 0h3m4 0h3m-13 3h3m-46 1h3m14 0h3m7 0h3m-18 1h3m54 0h3m24 0h3m-79 2h3m12 0h3m28 0h3m19 0h3m25 0h3m-123 1h3m0 0h3m12 0h3m27 0h3m25 0h3m6 0h3m-73 1h3m8 0h3m36 0h3m-55 1h3m20 0h3m66 0h3m-87 3h3m5 0h3m73 1h3m-4 1h3m35 0h3m-33 1h3m-76 2h3m10 0h3m-18 12h3m49 4h3m-37 4h3" stroke="#f7dc08" stroke-width="2.8" stroke-opacity="0.68"/><path d="M667 1186h3m-27 2h3m49 6h3m-39 5h3m7 3h3m-48 1h3m31 1h3m29 0h3m22 1h3m-22 3h3m-78 1h3m0 1h3m76 0h3m-68 1h3m31 0h3m-28 1h3m49 0h3m-60 1h3m30 0h3m-1 0h3m-20 1h3m-42 1h3m29 0h3m2 0h3m25 1h3m15 1h3m-82 2h3m45 0h3m7 0h3m-16 1h3m1 0h3m-1 0h3m31 0h3m-89 1h3m3 0h3m-1 0h3m41 0h3m-2 0h3m-5 1h3m6 0h3m-54 1h3m42 0h3m30 0h3m-92 1h3m33 0h3m32 0h3m27 0h3m-88 1h3m1 0h3m11 0h3m24 0h3m0 0h3m-20 1h3m8 0h3m-42 1h3m22 0h3m37 0h3m-60 1h3m-1 0h3m11 0h3m21 0h3m4 0h3m-80 1h3m11 0h3m15 0h3m-1 0h3m-1 0h3m2 0h3m6 0h3m15 0h3m7 0h3m10 0h3m-98 1h3m1 1h3m1 0h3m59 0h3m-23 1h3m29 0h3m17 0h3m-92 1h3m10 0h3m7 0h3m-2 0h3m1 0h3m14 0h3m5 0h3m-2 0h3m-1 0h3m-2 0h3m42 0h3m-3 0h3m3 0h3m-94 1h3m0 0h3m1 0h3m2 0h3m20 0h3m-2 0h3m6 0h3m2 0h3m2 0h3m-76 1h3m15 0h3m-2 0h3m13 0h3m4 0h3m7 0h3m0 0h3m-2 1h3m-61 1h3m0 0h3m-1 0h3m38 0h3m18 0h3m8 0h3m2 0h3m4 0h3m-68 1h3m0 0h3m0 0h3m6 0h3m1 0h3m2 0h3m11 0h3m-53 1h3m1 0h3m1 0h3m32 0h3m-2 0h3m1 0h3m1 0h3m8 0h3m-65 1h3m13 0h3m9 0h3m21 0h3m12 0h3m13 0h3m-109 1h3m24 0h3m18 0h3m0 0h3m36 0h3m39 0h3m-127 1h3m9 0h3m34 0h3m4 0h3m26 0h3m-84 1h3m3 0h3m-3 0h3m26 0h3m37 0h3m-56 1h3m18 0h3m26 0h3m6 0h3m17 0h3m-111 1h3m-1 0h3m36 0h3m14 0h3m1 0h3m-1 0h3m28 0h3m-100 1h3m3 0h3m7 0h3m25 0h3m34 0h3m9 0h3m30 0h3m-115 1h3m8 0h3m-2 0h3m16 0h3m1 0h3m11 0h3m0 0h3m-1 0h3m9 0h3m-35 1h3m-2 0h3m3 0h3m9 0h3m-75 1h3m5 0h3m0 0h3m28 0h3m4 0h3m1 0h3m36 0h3m4 0h3m-92 1h3m21 0h3m17 0h3m-2 0h3m4 0h3m4 0h3m42 0h3m-89 1h3m5 0h3m0 0h3m23 0h3m11 0h3m-60 1h3m-1 0h3m1 0h3m7 0h3m14 0h3m-3 0h3m3 0h3m26 0h3m40 0h3m-116 1h3m8 0h3m7 0h3m7 0h3m8 0h3m11 0h3m3 0h3m50 0h3m-125 1h3m9 0h3m2 0h3m3 0h3m14 0h3m37 0h3m4 0h3m24 0h3m-98 1h3m2 0h3m8 0h3m9 0h3m10 0h3m2 0h3m17 0h3m-86 1h3m18 0h3m2 0h3m10 0h3m1 0h3m2 0h3m13 0h3m14 0h3m8 0h3m-99 1h3m0 0h3m20 0h3m6 0h3m-3 0h3m13 0h3m-63 1h3m10 0h3m9 0h3m-2 0h3m10 0h3m14 0h3m-1 0h3m-2 0h3m25 0h3m2 0h3m0 0h3m2 0h3m13 0h3m-110 1h3m-3 0h3m24 0h3m29 0h3m16 0h3m-87 1h3m1 0h3m5 0h3m21 0h3m5 0h3m3 0h3m1 0h3m0 0h3m32 0h3m-83 1h3m15 0h3m11 0h3m16 0h3m4 0h3m20 0h3m10 0h3m-108 1h3m-2 0h3m24 0h3m19 0h3m1 0h3m3 0h3m35 0h3m4 0h3m-109 1h3m6 0h3m14 0h3m-2 0h3m3 0h3m0 0h3m7 0h3m22 0h3m12 0h3m5 0h3m-95 1h3m6 0h3m29 0h3m15 0h3m10 0h3m12 0h3m-3 0h3m-87 1h3m38 0h3m39 0h3m29 0h3m-128 1h3m44 0h3m20 0h3m17 0h3m-3 0h3m-78 1h3m15 0h3m3 0h3m0 0h3m9 0h3m-40 1h3m32 0h3m4 0h3m-1 0h3m-3 0h3m-1 0h3m60 0h3m-120 1h3m8 0h3m27 0h3m9 0h3m-2 0h3m2 0h3m1 0h3m58 0h3m-130 1h3m3 0h3m23 0h3m13 0h3m-3 0h3m9 0h3m37 0h3m-97 1h3m7 0h3m32 0h3m1 0h3m37 0h3m23 0h3m17 0h3m-132 1h3m9 0h3m-3 0h3m7 0h3m7 0h3m-2 0h3m24 0h3m11 0h3m-95 1h3m9 0h3m27 0h3m14 0h3m-36 1h3m18 0h3m72 0h3m-84 1h3m26 0h3m-75 1h3m16 0h3m28 0h3m22 0h3m-1 0h3m10 0h3m0 0h3m3 0h3m-1 0h3m14 0h3m-88 1h3m4 0h3m-2 0h3m0 0h3m34 0h3m3 0h3m-64 1h3m21 0h3m3 0h3m10 0h3m13 0h3m3 0h3m43 0h3m-70 1h3m1 0h3m88 0h3m-78 2h3m-24 1h3m-17 1h3m29 0h3m14 1h3m-81 1h3m27 0h3m16 0h3m-39 1h3m36 0h3m-58 1h3m141 0h3m-165 1h3m27 0h3m14 0h3m48 0h3m-68 1h3m42 1h3m23 1h3m-82 1h3m57 1h3m-4 2h3m-36 1h3m-45 2h3m47 4h3m-37 2h3m-15 2h3m72 1h3" stroke="#f7dc08" stroke-width="2.8" stroke-opacity="0.68"/><path d="M652 1182h3m32 3h3m-74 10h3m27 0h3m-15 2h3m8 1h3m37 4h3m4 0h3m-77 1h3m31 0h3m6 0h3m47 5h3m-67 2h3m6 0h3m24 0h3m-50 1h3m20 0h3m10 0h3m7 0h3m16 0h3m68 0h3m-126 1h3m4 1h3m13 0h3m33 1h3m7 0h3m-74 1h3m3 0h3m18 0h3m-40 1h3m37 1h3m-39 1h3m36 1h3m4 0h3m-41 1h3m39 0h3m19 0h3m-88 1h3m16 0h3m103 0h3m-107 1h3m78 0h3m-111 1h3m38 0h3m18 0h3m19 0h3m0 0h3m-82 1h3m29 0h3m13 0h3m23 0h3m-79 1h3m20 0h3m1 0h3m-6 1h3m6 0h3m4 0h3m0 0h3m23 0h3m-2 0h3m51 0h3m-120 1h3m17 0h3m7 0h3m7 0h3m-45 1h3m15 0h3m5 0h3m11 0h3m59 0h3m-121 1h3m17 0h3m0 0h3m0 0h3m10 0h3m53 0h3m-69 1h3m13 0h3m2 0h3m2 0h3m2 0h3m72 0h3m-134 1h3m10 0h3m9 0h3m2 0h3m-19 1h3m12 0h3m4 0h3m-27 2h3m-1 0h3m18 0h3m16 0h3m4 0h3m19 0h3m0 0h3m-67 1h3m1 0h3m2 0h3m29 0h3m3 0h3m17 0h3m33 0h3m-115 1h3m-2 0h3m16 0h3m48 0h3m-52 1h3m1 0h3m3 0h3m-3 0h3m-1 0h3m32 0h3m-83 1h3m16 0h3m6 0h3m24 0h3m3 0h3m-47 1h3m1 0h3m1 0h3m16 0h3m0 0h3m0 0h3m55 0h3m-107 1h3m4 0h3m13 0h3m2 0h3m1 0h3m-3 0h3m12 0h3m-1 0h3m2 0h3m0 0h3m-55 1h3m-2 0h3m9 0h3m25 0h3m3 0h3m7 0h3m-44 1h3m0 0h3m-2 0h3m13 0h3m-1 0h3m9 0h3m3 0h3m3 0h3m3 0h3m7 0h3m-1 0h3m4 0h3m-108 1h3m3 0h3m10 0h3m27 0h3m-14 1h3m-3 0h3m0 0h3m3 0h3m16 0h3m17 0h3m-54 1h3m1 0h3m0 0h3m3 0h3m1 0h3m14 0h3m19 0h3m-74 1h3m22 0h3m10 0h3m1 0h3m13 0h3m1 0h3m20 0h3m-105 1h3m5 0h3m-1 0h3m34 0h3m22 0h3m1 0h3m-2 0h3m3 0h3m18 0h3m29 0h3m-134 1h3m23 0h3m2 0h3m2 0h3m-1 0h3m-1 0h3m-3 0h3m20 0h3m1 0h3m8 0h3m4 0h3m7 0h3m3 0h3m-108 1h3m25 0h3m9 0h3m39 0h3m-64 1h3m28 0h3m7 0h3m10 0h3m2 0h3m-1 0h3m-86 1h3m11 0h3m1 0h3m36 0h3m0 0h3m5 0h3m17 0h3m10 0h3m21 0h3m-129 1h3m14 0h3m1 0h3m10 0h3m0 0h3m2 0h3m6 0h3m2 0h3m12 0h3m23 0h3m5 0h3m4 0h3m-105 1h3m2 0h3m19 0h3m5 0h3m11 0h3m3 0h3m-2 0h3m29 0h3m4 0h3m-96 1h3m-1 0h3m10 0h3m18 0h3m2 0h3m-1 0h3m10 0h3m-56 1h3m43 0h3m-1 0h3m-3 0h3m37 0h3m-104 1h3m58 0h3m0 0h3m24 0h3m13 0h3m6 0h3m-119 1h3m4 0h3m2 0h3m-3 0h3m36 0h3m-3 0h3m1 0h3m8 0h3m44 0h3m-95 1h3m3 0h3m1 0h3m2 0h3m0 0h3m7 0h3m1 0h3m6 0h3m-1 0h3m7 0h3m15 0h3m32 0h3m-129 1h3m49 0h3m1 0h3m35 0h3m-1 0h3m-2 0h3m15 0h3m2 0h3m-110 1h3m0 0h3m22 0h3m19 0h3m14 0h3m-72 1h3m14 0h3m-2 0h3m9 0h3m2 0h3m-1 0h3m-2 0h3m19 0h3m25 0h3m-2 0h3m-97 1h3m4 0h3m33 0h3m0 0h3m-2 0h3m4 0h3m27 0h3m30 0h3m-117 1h3m4 0h3m0 0h3m13 0h3m8 0h3m13 0h3m9 0h3m37 0h3m-88 1h3m5 0h3m20 0h3m-1 0h3m0 0h3m9 0h3m16 0h3m9 0h3m-100 1h3m8 0h3m21 0h3m34 0h3m-90 1h3m15 0h3m31 0h3m-2 0h3m7 0h3m7 0h3m28 0h3m1 0h3m-53 1h3m-2 0h3m12 0h3m-3 0h3m9 0h3m1 0h3m4 0h3m-98 1h3m3 0h3m45 0h3m-2 0h3m2 0h3m-59 1h3m47 0h3m8 0h3m10 0h3m19 0h3m-104 1h3m32 0h3m19 0h3m10 0h3m-2 0h3m3 0h3m18 0h3m28 0h3m0 0h3m-119 1h3m20 0h3m12 0h3m10 0h3m-61 1h3m69 0h3m-65 1h3m38 0h3m6 0h3m-2 0h3m4 0h3m-67 1h3m42 0h3m-2 0h3m-59 1h3m1 0h3m15 0h3m5 0h3m26 0h3m24 0h3m-72 1h3m9 0h3m13 0h3m5 0h3m-40 1h3m-23 1h3m52 0h3m9 0h3m8 0h3m-68 1h3m8 0h3m14 0h3m15 0h3m18 0h3m-55 1h3m26 0h3m-3 0h3m12 1h3m-72 1h3m41 0h3m-29 1h3m28 0h3m-3 0h3m-32 1h3m-1 0h3m-5 1h3m5 0h3m88 0h3m-112 1h3m27 0h3m-35 1h3m61 0h3m2 0h3m-55 1h3m14 0h3m8 2h3m6 2h3m-30 3h3m34 0h3m21 0h3m-38 1h3m-52 2h3m-4 1h3m34 6h3m-49 3h3m41 17h3m22 27h3" stroke="#f7dc08" stroke-width="2.8" stroke-opacity="0.68"/><path d="M703 1201h3m-9 1h3m21 0h3m-41 1h3m-60 1h3m40 0h3m6 0h3m14 3h3m-76 1h3m31 0h3m17 0h3m1 0h3m40 2h3m-80 1h3m-27 1h3m58 0h3m-2 0h3m-24 1h3m4 0h3m-49 1h3m32 0h3m-3 0h3m7 0h3m34 0h3m-66 1h3m16 0h3m64 1h3m-106 1h3m109 0h3m-86 2h3m-23 1h3m24 0h3m4 0h3m-42 1h3m44 0h3m-53 1h3m44 0h3m23 0h3m-60 2h3m14 0h3m-26 1h3m4 0h3m7 0h3m19 0h3m8 0h3m1 0h3m23 0h3m-49 1h3m4 0h3m-1 0h3m12 0h3m-49 1h3m-14 1h3m3 0h3m21 0h3m-3 0h3m46 0h3m-66 1h3m-39 1h3m-1 0h3m14 0h3m21 0h3m40 0h3m32 0h3m-115 1h3m6 0h3m95 0h3m-86 1h3m22 0h3m6 0h3m54 0h3m-2 0h3m-97 1h3m23 0h3m-1 0h3m0 0h3m-2 0h3m15 0h3m-2 0h3m5 0h3m45 0h3m-128 1h3m3 0h3m10 0h3m-3 0h3m-2 0h3m21 0h3m-2 0h3m39 0h3m17 0h3m-110 1h3m6 0h3m-2 0h3m16 0h3m13 0h3m-1 0h3m-2 0h3m21 0h3m13 0h3m15 0h3m-127 1h3m35 0h3m-1 0h3m7 0h3m1 0h3m-2 0h3m1 0h3m1 0h3m9 0h3m-2 0h3m4 0h3m8 0h3m-79 1h3m19 0h3m1 0h3m-3 0h3m10 0h3m0 0h3m16 0h3m2 0h3m6 0h3m-95 1h3m33 0h3m4 0h3m11 1h3m12 0h3m-1 0h3m47 0h3m-106 1h3m5 0h3m15 0h3m17 0h3m12 0h3m7 0h3m35 0h3m-113 1h3m9 0h3m6 0h3m5 0h3m13 0h3m13 0h3m9 0h3m-2 0h3m-94 1h3m-1 0h3m16 0h3m-3 0h3m6 0h3m-2 0h3m7 0h3m31 0h3m15 0h3m8 0h3m-89 1h3m-1 0h3m11 0h3m-3 0h3m26 0h3m8 0h3m-60 1h3m-3 0h3m3 0h3m9 0h3m10 0h3m15 0h3m23 0h3m-76 1h3m30 0h3m4 0h3m-2 0h3m3 0h3m19 0h3m14 0h3m-96 1h3m11 0h3m5 0h3m23 0h3m11 0h3m27 0h3m0 0h3m-99 1h3m10 0h3m14 0h3m2 0h3m3 0h3m1 0h3m4 0h3m13 0h3m1 0h3m4 0h3m-93 1h3m30 0h3m-2 0h3m6 0h3m-1 0h3m16 0h3m10 0h3m-40 1h3m14 0h3m12 0h3m23 0h3m43 0h3m-150 1h3m14 0h3m2 0h3m-2 0h3m26 0h3m8 0h3m0 0h3m-1 0h3m5 0h3m-1 0h3m9 0h3m-62 1h3m14 0h3m0 0h3m15 0h3m14 0h3m1 0h3m8 0h3m-70 1h3m7 0h3m-2 0h3m0 0h3m1 0h3m12 0h3m9 0h3m30 0h3m-100 1h3m5 0h3m28 0h3m-3 0h3m13 0h3m15 0h3m4 0h3m7 0h3m5 0h3m-97 1h3m1 0h3m-2 0h3m8 0h3m5 0h3m7 0h3m4 0h3m2 0h3m31 0h3m-103 1h3m39 0h3m9 0h3m8 0h3m8 0h3m6 0h3m29 0h3m-112 1h3m-1 0h3m20 0h3m6 0h3m-2 0h3m24 0h3m19 0h3m-2 0h3m-70 1h3m22 0h3m5 0h3m7 0h3m4 0h3m-2 0h3m-2 0h3m-3 0h3m30 0h3m39 0h3m-123 1h3m0 0h3m2 0h3m0 0h3m-3 0h3m-2 0h3m25 0h3m2 0h3m16 0h3m-89 1h3m11 0h3m0 0h3m1 0h3m17 0h3m45 0h3m-79 1h3m7 0h3m7 0h3m-1 0h3m1 0h3m13 0h3m-1 0h3m20 0h3m0 0h3m7 0h3m-106 1h3m28 0h3m17 0h3m1 0h3m-2 0h3m58 0h3m-88 1h3m-1 0h3m10 0h3m1 0h3m7 0h3m2 0h3m-1 0h3m3 0h3m-58 1h3m20 0h3m0 0h3m2 0h3m20 0h3m2 0h3m-70 1h3m0 0h3m37 0h3m1 0h3m7 0h3m15 0h3m8 0h3m-80 1h3m16 0h3m-1 0h3m0 0h3m3 0h3m-1 0h3m12 0h3m12 0h3m-73 1h3m0 0h3m39 0h3m-50 1h3m14 0h3m3 0h3m22 0h3m-3 0h3m26 0h3m1 0h3m-82 1h3m23 0h3m14 0h3m2 0h3m35 0h3m2 0h3m-52 1h3m-2 0h3m2 0h3m9 0h3m48 0h3m-99 1h3m47 0h3m-77 1h3m35 0h3m24 0h3m2 0h3m24 0h3m41 0h3m-104 1h3m42 0h3m-87 1h3m21 0h3m16 0h3m34 0h3m1 0h3m-80 1h3m17 0h3m25 0h3m12 0h3m12 0h3m-67 1h3m25 0h3m31 0h3m-59 1h3m-3 0h3m20 0h3m-1 0h3m-43 1h3m27 0h3m1 0h3m38 0h3m-91 1h3m33 0h3m-24 1h3m38 0h3m-49 1h3m13 0h3m-3 0h3m16 0h3m-21 1h3m73 0h3m4 0h3m-106 1h3m77 0h3m-76 1h3m58 0h3m0 0h3m16 0h3m-99 1h3m87 0h3m14 0h3m-68 1h3m1 0h3m93 0h3m-69 1h3m-2 0h3m-40 1h3m10 0h3m43 1h3m-73 1h3m25 0h3m-18 1h3m8 0h3m3 0h3m-34 1h3m27 0h3m-42 4h3m10 1h3m55 0h3m-29 2h3m44 0h3m-17 2h3" stroke="#f7dc08" stroke-width="2.8" stroke-opacity="0.68"/><path d="M711 1043h3m27 1h3m179 16h3m-306 13h3m245 14h3m37 8h3m50 3h3m-246 2h3m32 2h3m8 0h3m-6 6h3m118 0h3m-171 3h3m-66 1h3m19 0h3m76 1h3m-45 2h3m27 2h3m25 0h3m-92 2h3m207 1h3m-175 2h3m3 0h3m165 0h3m-240 1h3m77 2h3m0 1h3m-76 5h3m37 3h3m-67 5h3m56 0h3m-12 4h3m23 0h3m8 0h3m41 0h3m-148 1h3m95 0h3m-76 2h3m98 0h3m45 2h3m-3 1h3m-118 1h3m-5 7h3m-40 2h3m55 0h3m-21 5h3m-23 3h3m33 10h3m4 0h3m31 0h3m47 0h3m-78 1h3m-18 1h3m-63 5h3m12 2h3m62 3h3m25 0h3m-74 1h3m32 0h3m-103 1h3m141 2h3m-58 4h3m94 2h3m-73 4h3m-61 2h3m95 2h3m-60 3h3m39 0h3m-26 1h3m7 0h3m-97 1h3m27 0h3m68 0h3m17 0h3m-46 1h3m-113 1h3m124 0h3m7 0h3m34 0h3m-117 1h3m50 0h3m-78 1h3m27 0h3m13 0h3m11 0h3m-40 1h3m125 1h3m-178 1h3m90 0h3m-25 1h3m10 0h3m11 0h3m-48 1h3m14 0h3m71 0h3m84 0h3m-231 2h3m123 0h3m47 0h3m-107 1h3m10 0h3m37 0h3m36 0h3m51 0h3m-155 1h3m46 0h3m-99 1h3m6 0h3m19 0h3m64 0h3m-122 1h3m11 0h3m39 0h3m64 0h3m-121 1h3m41 0h3m16 0h3m23 0h3m19 0h3m32 0h3m29 0h3m-166 1h3m6 0h3m8 0h3m23 0h3m36 0h3m50 0h3m41 0h3m11 0h3m-183 1h3m29 0h3m27 0h3m12 0h3m20 0h3m21 0h3m-143 1h3m11 0h3m12 0h3m5 0h3m2 0h3m46 0h3m34 0h3m5 0h3m9 0h3m-156 1h3m96 0h3m50 0h3m-112 1h3m-3 0h3m56 0h3m-2 0h3m19 0h3m90 0h3m-213 1h3m27 0h3m3 0h3m3 0h3m24 0h3m51 0h3m-160 1h3m12 0h3m99 0h3m35 0h3m1 0h3m9 0h3m-3 0h3m17 0h3m-162 1h3m56 0h3m1 0h3m13 0h3m11 0h3m40 0h3m15 0h3m41 0h3m-162 1h3m9 0h3m4 0h3m9 0h3m43 0h3m5 0h3m46 0h3m-145 1h3m-1 0h3m13 0h3m6 0h3m13 0h3m-110 1h3m7 0h3m23 0h3m8 0h3m22 0h3m11 0h3m18 0h3m56 0h3m3 0h3m-153 1h3m35 0h3m9 0h3m21 0h3m15 0h3m15 0h3m-1 0h3m21 0h3m3 0h3m-138 1h3m10 0h3m6 0h3m1 0h3m0 0h3m1 0h3m10 0h3m8 0h3m11 0h3m9 0h3m24 0h3m14 0h3m17 0h3m127 0h3m-283 1h3m11 0h3m30 0h3m4 0h3m23 0h3m15 0h3m32 0h3m-1 0h3m-167 1h3m43 0h3m59 0h3m4 0h3m15 0h3m23 0h3m7 0h3m3 0h3m50 0h3m22 0h3m-246 1h3m19 0h3m28 0h3m6 0h3m27 0h3m31 0h3m-1 0h3m18 0h3m11 0h3m-3 0h3m-135 1h3m23 0h3m67 0h3m17 0h3m7 0h3m-3 0h3m27 0h3m18 0h3m-183 1h3m17 0h3m65 0h3m20 0h3m5 0h3m15 0h3m60 0h3m-241 1h3m33 0h3m12 0h3m17 0h3m0 0h3m7 0h3m38 0h3m-72 1h3m6 0h3m-3 0h3m0 0h3m70 0h3m83 0h3m-208 1h3m1 0h3m2 0h3m4 0h3m8 0h3m2 0h3m3 0h3m18 0h3m-1 0h3m39 0h3m17 0h3m1 0h3m3 0h3m29 0h3m6 0h3m52 0h3m-225 1h3m15 0h3m11 0h3m12 0h3m-3 0h3m-1 0h3m15 0h3m54 0h3m3 0h3m22 0h3m5 0h3m-162 1h3m11 0h3m20 0h3m-1 0h3m-1 0h3m66 0h3m-3 0h3m3 0h3m-120 1h3m7 0h3m14 0h3m7 0h3m2 0h3m46 0h3m17 0h3m17 0h3m11 0h3m5 0h3m6 0h3m20 0h3m8 0h3m-185 1h3m0 0h3m-1 0h3m-1 0h3m36 0h3m-3 0h3m-1 0h3m8 0h3m83 0h3m16 0h3m-155 1h3m16 0h3m2 0h3m20 0h3m13 0h3m22 0h3m36 0h3m2 0h3m6 0h3m9 0h3m-194 1h3m22 0h3m34 0h3m40 0h3m4 0h3m1 0h3m8 0h3m20 0h3m15 0h3m29 0h3m21 0h3m-244 1h3m33 0h3m20 0h3m7 0h3m7 0h3m-1 0h3m-2 0h3m16 0h3m50 0h3m47 0h3m10 0h3m-205 1h3m91 0h3m29 0h3m3 0h3m5 0h3m5 0h3m84 0h3m2 0h3m-254 1h3m-2 0h3m77 0h3m12 0h3m2 0h3m-3 0h3m3 0h3m3 0h3m24 0h3m6 0h3m5 0h3m-3 0h3m19 0h3m29 0h3m-203 1h3m13 0h3m15 0h3m2 0h3m15 0h3m6 0h3m1 0h3m6 0h3m8 0h3m-1 0h3m16 0h3m2 0h3m-2 0h3m3 0h3m1 0h3m15 0h3m11 0h3m13 0h3m0 0h3m16 0h3m14 0h3m-229 1h3m15 0h3m25 0h3m-2 0h3m1 0h3m8 0h3m2 0h3m2 0h3m4 0h3m-1 0h3m25 0h3m17 0h3m50 0h3m53 0h3m-246 1h3m2 0h3m40 0h3m0 0h3m6 0h3m17 0h3m23 0h3m1 0h3m9 0h3m9 0h3m32 0h3m8 0h3m2 0h3m42 0h3m-226 1h3m9 0h3m7 0h3m13 0h3m14 0h3m-1 0h3m6 0h3m0 0h3m58 0h3m10 0h3m-2 0h3m22 0h3m-129 1h3m12 0h3m17 0h3m4 0h3m0 0h3m5 0h3m5 0h3m2 0h3m9 0h3m10 0h3m7 0h3m-2 0h3m-3 0h3m36 0h3m14 0h3m60 0h3m-216 1h3m-1 0h3m3 0h3m3 0h3m-2 0h3m3 0h3m4 0h3m4 0h3m5 0h3m13 0h3m2 0h3m1 0h3m0 0h3m1 0h3m4 0h3m12 0h3m2 0h3m14 0h3m3 0h3m2 0h3m1 0h3m0 0h3m23 0h3m0 0h3m-201 1h3m28 0h3m19 0h3m11 0h3m-1 0h3m42 0h3m2 0h3m-1 0h3m7 0h3m1 0h3m5 0h3m9 0h3m5 0h3m6 0h3m3 0h3m-145 1h3m-2 0h3m17 0h3m36 0h3m5 0h3m4 0h3m3 0h3m-1 0h3m35 0h3m0 0h3m6 0h3m7 0h3m26 0h3m-184 1h3m1 0h3m3 0h3m1 0h3m11 0h3m77 0h3m12 0h3m-1 0h3m23 0h3m-204 1h3m15 0h3m16 0h3m23 0h3m19 0h3m9 0h3m9 0h3m12 0h3m0 0h3m27 0h3m13 0h3m13 0h3m24 0h3m-155 1h3m-3 0h3m7 0h3m45 0h3m7 0h3m5 0h3m0 0h3m9 0h3m9 0h3m1 0h3m10 0h3m4 0h3m-2 0h3m25 0h3m-196 1h3m24 0h3m-2 0h3m3 0h3m33 0h3m0 0h3m50 0h3m4 0h3m10 0h3m0 0h3m-2 0h3m-3 0h3m7 0h3m5 0h3m24 0h3m-187 1h3m1 0h3m2 0h3m0 0h3m3 0h3m73 0h3m33 0h3m-101 1h3m2 0h3m48 0h3m8 0h3m10 0h3m0 0h3m14 0h3m5 0h3m12 0h3m9 0h3m-212 1h3m73 0h3m5 0h3m10 0h3m4 0h3m16 0h3m-1 0h3m16 0h3m14 0h3m-1 0h3m13 0h3m2 0h3m6 0h3m63 0h3m-201 1h3m29 0h3m7 0h3m24 0h3m2 0h3m19 0h3m-2 0h3m14 0h3m20 0h3m0 0h3m64 0h3m-245 1h3m27 0h3m8 0h3m-2 0h3m2 0h3m64 0h3m7 0h3m-2 0h3m43 0h3m-2 0h3m4 0h3m47 0h3m6 0h3m-245 1h3m32 0h3m17 0h3m56 0h3m3 0h3m42 0h3m19 0h3m-2 0h3m-170 1h3m14 0h3m10 0h3m60 0h3m-1 0h3m1 0h3m3 0h3m0 0h3m-2 0h3m4 0h3m7 0h3m19 0h3m12 0h3m95 0h3m-280 1h3m16 0h3m20 0h3m12 0h3m1 0h3m8 0h3m1 0h3m3 0h3m29 0h3m21 0h3m40 0h3m60 0h3m-241 1h3m57 0h3m50 0h3m6 0h3m2 0h3m4 0h3m8 0h3m4 0h3m14 0h3m30 0h3m2 0h3m-178 1h3m11 0h3m18 0h3m-3 0h3m31 0h3m7 0h3m0 0h3m9 0h3m20 0h3m1 0h3m3 0h3m0 0h3m-2 0h3m-2 0h3m-1 0h3m20 0h3m1 0h3m-203 1h3m27 0h3m7 0h3m3 0h3m42 0h3m2 0h3m0 0h3m6 0h3m8 0h3m-3 0h3m16 0h3m-2 0h3m-3 0h3m15 0h3m59 0h3m-165 1h3m17 0h3m14 0h3m28 0h3m0 0h3m10 0h3m-1 0h3m4 0h3m2 0h3m6 0h3m12 0h3m18 0h3m5 0h3m-165 1h3m82 0h3m0 0h3m26 0h3m37 0h3m1 0h3m22 0h3m-219 1h3m23 0h3m-1 0h3m-1 0h3m0 0h3m41 0h3m19 0h3m20 0h3m-129 1h3m2 0h3m31 0h3m29 0h3m21 0h3m-2 0h3m17 0h3m1 0h3m18 0h3m108 0h3m-232 1h3m40 0h3m14 0h3m12 0h3m17 0h3m0 0h3m7 0h3m14 0h3m2 0h3m-3 0h3m3 0h3m56 0h3m-239 1h3m18 0h3m51 0h3m48 0h3m-2 0h3m20 0h3m9 0h3m0 0h3m16 0h3m-1 0h3m9 0h3m10 0h3m-148 1h3m19 0h3m6 0h3m31 0h3m4 0h3m31 0h3m-2 0h3m58 0h3m-207 1h3m14 0h3m3 0h3m28 0h3m31 0h3m16 0h3m37 0h3m-176 1h3m58 0h3m-2 0h3m24 0h3m39 0h3m10 0h3m0 0h3m14 0h3m21 0h3m-1 0h3m33 0h3m11 0h3m-186 1h3m71 0h3m10 0h3m15 0h3m34 0h3m33 0h3m-141 1h3m4 0h3m8 0h3m8 0h3m23 0h3m6 0h3m10 0h3m44 0h3m-155 1h3m2 0h3m31 0h3m18 0h3m0 0h3m10 0h3m8 0h3m8 0h3m33 0h3m2 0h3m2 0h3m-197 1h3m81 0h3m27 0h3m20 0h3m-3 0h3m28 0h3m20 0h3m9 0h3m-150 1h3m0 0h3m41 0h3m5 0h3m-2 0h3m1 0h3m15 0h3m2 0h3m9 0h3m9 0h3m3 0h3m8 0h3m13 0h3m-186 1h3m42 0h3m22 0h3m-2 0h3m27 0h3m3 0h3m-2 0h3m0 0h3m19 0h3m26 0h3m-164 1h3m42 0h3m51 0h3m62 0h3m-116 1h3m-2 0h3m64 0h3m1 0h3m5 0h3m0 0h3m29 0h3m2 0h3m26 0h3m-192 1h3m76 0h3m16 0h3m-1 0h3m-23 1h3m10 0h3m15 0h3m46 0h3m-138 1h3m47 0h3m1 0h3m16 0h3m59 0h3m10 0h3m3 0h3m-132 1h3m52 0h3m-1 0h3m-3 0h3m-66 1h3m13 0h3m18 0h3m0 0h3m27 0h3m20 0h3m8 0h3m-114 1h3m14 0h3m3 0h3m16 0h3m22 0h3m47 0h3m-81 1h3m90 0h3m-101 1h3m26 0h3m-2 0h3m10 0h3m42 0h3m-133 1h3m67 0h3m4 0h3m22 0h3m-99 1h3m9 0h3m54 0h3m34 0h3m11 0h3m-101 1h3m22 0h3m30 0h3m33 0h3m-129 1h3m-1 0h3m51 0h3m54 0h3m56 0h3m-92 1h3m-3 0h3m10 0h3m9 0h3m-40 1h3m-2 0h3m7 0h3m16 0h3m30 0h3m-97 1h3m1 0h3m73 0h3m-93 1h3m61 0h3m-3 0h3m0 0h3m35 0h3m-164 1h3m74 0h3m32 0h3m17 0h3m4 0h3m63 0h3m-114 1h3m51 0h3m-136 1h3m17 0h3m18 0h3m0 0h3m13 0h3m16 0h3m-3 0h3m8 0h3m9 0h3m26 0h3m-115 1h3m69 0h3m49 0h3m-93 1h3m23 0h3m16 0h3m6 0h3m30 0h3m-65 1h3m21 0h3m73 0h3m7 0h3m-160 1h3m21 0h3m64 0h3m-53 1h3m19 0h3m15 0h3m13 0h3m17 0h3m8 0h3m-46 1h3m11 0h3m4 0h3m-84 1h3m35 0h3m15 1h3m39 0h3m-58 1h3m47 0h3m-74 1h3m-46 1h3m101 0h3m-86 1h3m45 0h3m23 1h3m-43 1h3m121 0h3m-69 1h3m-96 1h3m24 0h3m89 1h3m-42 1h3m33 0h3m11 1h3m-114 3h3m10 1h3m51 2h3m-70 3h3m57 0h3m-55 2h3m76 4h3m-80 1h3m14 11h3" stroke="#161616" stroke-width="2.8"/></g><rect x="53.7" y="8.5" width="198" height="198.5" fill="none" stroke="#2a2a2a" stroke-width="1.3"/><path d="M53.2 207h-5.2M53.2 199.3h-2.2M53.2 191.6h-2.2M53.2 183.8h-2.2M53.2 176.1h-2.2M53.2 168.4h-5.2M53.2 160.7h-2.2M53.2 153h-2.2M53.2 145.2h-2.2M53.2 137.5h-2.2M53.2 129.8h-5.2M53.2 122.1h-2.2M53.2 114.4h-2.2M53.2 106.6h-2.2M53.2 98.9h-2.2M53.2 91.2h-5.2M53.2 83.5h-2.2M53.2 75.8h-2.2M53.2 68h-2.2M53.2 60.3h-2.2M53.2 52.6h-5.2M53.2 44.9h-2.2M53.2 37.2h-2.2M53.2 29.4h-2.2M53.2 21.7h-2.2M53.2 14h-5.2M69.1 207.5v3.3M77.8 207.5v3.3M84 207.5v3.3M88.8 207.5v3.3M92.7 207.5v3.3M96 207.5v3.3M98.8 207.5v3.3M101.3 207.5v3.3M118.4 207.5v3.3M127.1 207.5v3.3M133.3 207.5v3.3M138.1 207.5v3.3M142 207.5v3.3M145.3 207.5v3.3M148.1 207.5v3.3M150.6 207.5v3.3M167.7 207.5v3.3M176.4 207.5v3.3M182.6 207.5v3.3M187.4 207.5v3.3M191.3 207.5v3.3M194.6 207.5v3.3M197.4 207.5v3.3M199.9 207.5v3.3M217 207.5v3.3M225.7 207.5v3.3M231.9 207.5v3.3M236.7 207.5v3.3M240.6 207.5v3.3M243.9 207.5v3.3M246.7 207.5v3.3M249.2 207.5v3.3M54.3 207.5v5.5M103.6 207.5v5.5M152.9 207.5v5.5M202.2 207.5v5.5M251.5 207.5v5.5" stroke="#222" stroke-width="1.1" fill="none"/><text transform="translate(43.6 213.6) scale(0.92 1)" font-size="15.8" text-anchor="end">0</text><text transform="translate(43.6 174.5) scale(0.92 1)" font-size="15.8" text-anchor="end">50</text><text transform="translate(43.6 135.4) scale(0.92 1)" font-size="15.8" text-anchor="end">100</text><text transform="translate(43.6 96.3) scale(0.92 1)" font-size="15.8" text-anchor="end">150</text><text transform="translate(43.6 57.2) scale(0.92 1)" font-size="15.8" text-anchor="end">200</text><text transform="translate(43.6 18.1) scale(0.92 1)" font-size="15.8" text-anchor="end">250</text><text x="40.3" y="229.4" font-size="18">10</text><text x="61.6" y="221.3" font-size="7.9" style="stroke-width:0.2px">0</text><text x="89.6" y="229.4" font-size="18">10</text><text x="110.9" y="221.3" font-size="7.9" style="stroke-width:0.2px">1</text><text x="138.9" y="229.4" font-size="18">10</text><text x="160.2" y="221.3" font-size="7.9" style="stroke-width:0.2px">2</text><text x="188.2" y="229.4" font-size="18">10</text><text x="209.5" y="221.3" font-size="7.9" style="stroke-width:0.2px">3</text><text x="237.5" y="229.4" font-size="18">10</text><text x="258.8" y="221.3" font-size="7.9" style="stroke-width:0.2px">4</text><path d="M163.8 37.2L236.5 37.2L226.3 103.4L204.8 156L125.1 156L148.7 103.2Z" fill="none" stroke="#3a424c" stroke-width="1.5" stroke-linejoin="round"/><text transform="translate(20.3 126.4) rotate(-90)" font-size="21.5">FSC</text><text x="132" y="243.9" font-size="21.4">TdT</text><rect x="305.8" y="10.2" width="196.9" height="197.7" fill="none" stroke="#3d454d" stroke-width="2.4"/><path d="M320.6 208.8v3.2M329.3 208.8v3.2M335.4 208.8v3.2M340.2 208.8v3.2M344.1 208.8v3.2M347.4 208.8v3.2M350.3 208.8v3.2M352.8 208.8v3.2M369.8 208.8v3.2M378.5 208.8v3.2M384.7 208.8v3.2M389.4 208.8v3.2M393.3 208.8v3.2M396.6 208.8v3.2M399.5 208.8v3.2M402 208.8v3.2M419.1 208.8v3.2M427.7 208.8v3.2M433.9 208.8v3.2M438.7 208.8v3.2M442.6 208.8v3.2M445.8 208.8v3.2M448.7 208.8v3.2M451.2 208.8v3.2M468.3 208.8v3.2M477 208.8v3.2M483.1 208.8v3.2M487.9 208.8v3.2M491.8 208.8v3.2M495.1 208.8v3.2M497.9 208.8v3.2M500.4 208.8v3.2M305.8 208.8v5M355 208.8v5M404.2 208.8v5M453.5 208.8v5M502.7 208.8v5M304.9 193h-3M304.9 184.3h-3M304.9 178.1h-3M304.9 173.4h-3M304.9 169.4h-3M304.9 166.1h-3M304.9 163.3h-3M304.9 160.7h-3M304.9 143.6h-3M304.9 134.9h-3M304.9 128.7h-3M304.9 123.9h-3M304.9 120h-3M304.9 116.7h-3M304.9 113.8h-3M304.9 111.3h-3M304.9 94.2h-3M304.9 85.5h-3M304.9 79.3h-3M304.9 74.5h-3M304.9 70.6h-3M304.9 67.3h-3M304.9 64.4h-3M304.9 61.9h-3M304.9 44.7h-3M304.9 36h-3M304.9 29.9h-3M304.9 25.1h-3M304.9 21.2h-3M304.9 17.9h-3M304.9 15h-3M304.9 12.5h-3M304.9 207.9h-5M304.9 158.5h-5M304.9 109h-5M304.9 59.6h-5M304.9 10.2h-5" stroke="#222" stroke-width="1.1" fill="none"/><text x="295.2" y="230.5" font-size="18">10</text><text x="316.5" y="222.4" font-size="7.9" style="stroke-width:0.2px">0</text><text x="344.4" y="230.5" font-size="18">10</text><text x="365.7" y="222.4" font-size="7.9" style="stroke-width:0.2px">1</text><text x="393.6" y="230.5" font-size="18">10</text><text x="414.9" y="222.4" font-size="7.9" style="stroke-width:0.2px">2</text><text x="442.9" y="230.5" font-size="18">10</text><text x="464.2" y="222.4" font-size="7.9" style="stroke-width:0.2px">3</text><text x="492.1" y="230.5" font-size="18">10</text><text x="513.4" y="222.4" font-size="7.9" style="stroke-width:0.2px">4</text><text x="273.9" y="208.6" font-size="18">10</text><text x="295.2" y="200.5" font-size="7.9" style="stroke-width:0.2px">0</text><text x="273.9" y="160.5" font-size="18">10</text><text x="295.2" y="152.4" font-size="7.9" style="stroke-width:0.2px">1</text><text x="273.9" y="112.4" font-size="18">10</text><text x="295.2" y="104.3" font-size="7.9" style="stroke-width:0.2px">2</text><text x="273.9" y="64.3" font-size="18">10</text><text x="295.2" y="56.2" font-size="7.9" style="stroke-width:0.2px">3</text><text x="273.9" y="16.2" font-size="18">10</text><text x="295.2" y="8.1" font-size="7.9" style="stroke-width:0.2px">4</text><rect x="53" y="254.2" width="197.2" height="197.3" fill="none" stroke="#3d454d" stroke-width="2.4"/><path d="M67.8 452.4v3.2M76.5 452.4v3.2M82.7 452.4v3.2M87.5 452.4v3.2M91.4 452.4v3.2M94.7 452.4v3.2M97.5 452.4v3.2M100 452.4v3.2M117.1 452.4v3.2M125.8 452.4v3.2M132 452.4v3.2M136.8 452.4v3.2M140.7 452.4v3.2M144 452.4v3.2M146.8 452.4v3.2M149.3 452.4v3.2M166.4 452.4v3.2M175.1 452.4v3.2M181.3 452.4v3.2M186.1 452.4v3.2M190 452.4v3.2M193.3 452.4v3.2M196.1 452.4v3.2M198.6 452.4v3.2M215.7 452.4v3.2M224.4 452.4v3.2M230.6 452.4v3.2M235.4 452.4v3.2M239.3 452.4v3.2M242.6 452.4v3.2M245.4 452.4v3.2M247.9 452.4v3.2M53 452.4v5M102.3 452.4v5M151.6 452.4v5M200.9 452.4v5M250.2 452.4v5M52.1 436.7h-3M52.1 428h-3M52.1 421.8h-3M52.1 417h-3M52.1 413.1h-3M52.1 409.8h-3M52.1 407h-3M52.1 404.4h-3M52.1 387.3h-3M52.1 378.6h-3M52.1 372.5h-3M52.1 367.7h-3M52.1 363.8h-3M52.1 360.5h-3M52.1 357.6h-3M52.1 355.1h-3M52.1 338h-3M52.1 329.3h-3M52.1 323.2h-3M52.1 318.4h-3M52.1 314.5h-3M52.1 311.2h-3M52.1 308.3h-3M52.1 305.8h-3M52.1 288.7h-3M52.1 280h-3M52.1 273.8h-3M52.1 269h-3M52.1 265.1h-3M52.1 261.8h-3M52.1 259h-3M52.1 256.5h-3M52.1 451.5h-5M52.1 402.2h-5M52.1 352.9h-5M52.1 303.5h-5M52.1 254.2h-5" stroke="#222" stroke-width="1.1" fill="none"/><text x="43.4" y="474.1" font-size="18">10</text><text x="64.7" y="466" font-size="7.9" style="stroke-width:0.2px">0</text><text x="92.7" y="474.1" font-size="18">10</text><text x="114" y="466" font-size="7.9" style="stroke-width:0.2px">1</text><text x="142" y="474.1" font-size="18">10</text><text x="163.3" y="466" font-size="7.9" style="stroke-width:0.2px">2</text><text x="191.3" y="474.1" font-size="18">10</text><text x="212.6" y="466" font-size="7.9" style="stroke-width:0.2px">3</text><text x="240.6" y="474.1" font-size="18">10</text><text x="261.9" y="466" font-size="7.9" style="stroke-width:0.2px">4</text><text x="19.6" y="452.6" font-size="18">10</text><text x="40.9" y="444.5" font-size="7.9" style="stroke-width:0.2px">0</text><text x="19.6" y="404.5" font-size="18">10</text><text x="40.9" y="396.4" font-size="7.9" style="stroke-width:0.2px">1</text><text x="19.6" y="356.4" font-size="18">10</text><text x="40.9" y="348.3" font-size="7.9" style="stroke-width:0.2px">2</text><text x="19.6" y="308.3" font-size="18">10</text><text x="40.9" y="300.2" font-size="7.9" style="stroke-width:0.2px">3</text><text x="19.6" y="260.2" font-size="18">10</text><text x="40.9" y="252.1" font-size="7.9" style="stroke-width:0.2px">4</text><rect x="305.2" y="254.9" width="197.3" height="197.1" fill="none" stroke="#3d454d" stroke-width="2.4"/><path d="M320 452.9v3.2M328.7 452.9v3.2M334.9 452.9v3.2M339.7 452.9v3.2M343.6 452.9v3.2M346.9 452.9v3.2M349.7 452.9v3.2M352.3 452.9v3.2M369.4 452.9v3.2M378.1 452.9v3.2M384.2 452.9v3.2M389 452.9v3.2M392.9 452.9v3.2M396.2 452.9v3.2M399.1 452.9v3.2M401.6 452.9v3.2M418.7 452.9v3.2M427.4 452.9v3.2M433.5 452.9v3.2M438.3 452.9v3.2M442.2 452.9v3.2M445.5 452.9v3.2M448.4 452.9v3.2M450.9 452.9v3.2M468 452.9v3.2M476.7 452.9v3.2M482.9 452.9v3.2M487.7 452.9v3.2M491.6 452.9v3.2M494.9 452.9v3.2M497.7 452.9v3.2M500.2 452.9v3.2M305.2 452.9v5M354.5 452.9v5M403.9 452.9v5M453.2 452.9v5M502.5 452.9v5M304.3 437.2h-3M304.3 428.5h-3M304.3 422.3h-3M304.3 417.6h-3M304.3 413.7h-3M304.3 410.4h-3M304.3 407.5h-3M304.3 405h-3M304.3 387.9h-3M304.3 379.2h-3M304.3 373.1h-3M304.3 368.3h-3M304.3 364.4h-3M304.3 361.1h-3M304.3 358.2h-3M304.3 355.7h-3M304.3 338.6h-3M304.3 329.9h-3M304.3 323.8h-3M304.3 319h-3M304.3 315.1h-3M304.3 311.8h-3M304.3 309h-3M304.3 306.4h-3M304.3 289.3h-3M304.3 280.7h-3M304.3 274.5h-3M304.3 269.7h-3M304.3 265.8h-3M304.3 262.5h-3M304.3 259.7h-3M304.3 257.2h-3M304.3 452h-5M304.3 402.7h-5M304.3 353.4h-5M304.3 304.2h-5M304.3 254.9h-5" stroke="#222" stroke-width="1.1" fill="none"/><text x="295.6" y="474.3" font-size="18">10</text><text x="316.9" y="466.2" font-size="7.9" style="stroke-width:0.2px">0</text><text x="344.9" y="474.3" font-size="18">10</text><text x="366.2" y="466.2" font-size="7.9" style="stroke-width:0.2px">1</text><text x="394.2" y="474.3" font-size="18">10</text><text x="415.6" y="466.2" font-size="7.9" style="stroke-width:0.2px">2</text><text x="443.6" y="474.3" font-size="18">10</text><text x="464.9" y="466.2" font-size="7.9" style="stroke-width:0.2px">3</text><text x="492.9" y="474.3" font-size="18">10</text><text x="514.2" y="466.2" font-size="7.9" style="stroke-width:0.2px">4</text><text x="275.6" y="453.3" font-size="18">10</text><text x="296.9" y="445.2" font-size="7.9" style="stroke-width:0.2px">0</text><text x="275.6" y="405.2" font-size="18">10</text><text x="296.9" y="397.1" font-size="7.9" style="stroke-width:0.2px">1</text><text x="275.6" y="357.1" font-size="18">10</text><text x="296.9" y="349" font-size="7.9" style="stroke-width:0.2px">2</text><text x="275.6" y="309" font-size="18">10</text><text x="296.9" y="300.9" font-size="7.9" style="stroke-width:0.2px">3</text><text x="275.6" y="260.9" font-size="18">10</text><text x="296.9" y="252.8" font-size="7.9" style="stroke-width:0.2px">4</text><rect x="53" y="500.5" width="196.7" height="197.4" fill="none" stroke="#3d454d" stroke-width="2.4"/><path d="M67.8 698.8v3.2M76.5 698.8v3.2M82.6 698.8v3.2M87.4 698.8v3.2M91.3 698.8v3.2M94.6 698.8v3.2M97.4 698.8v3.2M99.9 698.8v3.2M117 698.8v3.2M125.6 698.8v3.2M131.8 698.8v3.2M136.5 698.8v3.2M140.4 698.8v3.2M143.7 698.8v3.2M146.6 698.8v3.2M149.1 698.8v3.2M166.2 698.8v3.2M174.8 698.8v3.2M181 698.8v3.2M185.7 698.8v3.2M189.6 698.8v3.2M192.9 698.8v3.2M195.8 698.8v3.2M198.3 698.8v3.2M215.3 698.8v3.2M224 698.8v3.2M230.1 698.8v3.2M234.9 698.8v3.2M238.8 698.8v3.2M242.1 698.8v3.2M244.9 698.8v3.2M247.4 698.8v3.2M53 698.8v5M102.2 698.8v5M151.3 698.8v5M200.5 698.8v5M249.7 698.8v5M52.1 683h-3M52.1 674.4h-3M52.1 668.2h-3M52.1 663.4h-3M52.1 659.5h-3M52.1 656.2h-3M52.1 653.3h-3M52.1 650.8h-3M52.1 633.7h-3M52.1 625h-3M52.1 618.8h-3M52.1 614.1h-3M52.1 610.1h-3M52.1 606.8h-3M52.1 604h-3M52.1 601.5h-3M52.1 584.3h-3M52.1 575.7h-3M52.1 569.5h-3M52.1 564.7h-3M52.1 560.8h-3M52.1 557.5h-3M52.1 554.6h-3M52.1 552.1h-3M52.1 535h-3M52.1 526.3h-3M52.1 520.1h-3M52.1 515.4h-3M52.1 511.4h-3M52.1 508.1h-3M52.1 505.3h-3M52.1 502.8h-3M52.1 697.9h-5M52.1 648.5h-5M52.1 599.2h-5M52.1 549.9h-5M52.1 500.5h-5" stroke="#222" stroke-width="1.1" fill="none"/><text x="43.4" y="718.3" font-size="18">10</text><text x="64.7" y="710.2" font-size="7.9" style="stroke-width:0.2px">0</text><text x="92.6" y="718.3" font-size="18">10</text><text x="113.9" y="710.2" font-size="7.9" style="stroke-width:0.2px">1</text><text x="141.8" y="718.3" font-size="18">10</text><text x="163.1" y="710.2" font-size="7.9" style="stroke-width:0.2px">2</text><text x="190.9" y="718.3" font-size="18">10</text><text x="212.2" y="710.2" font-size="7.9" style="stroke-width:0.2px">3</text><text x="240.1" y="718.3" font-size="18">10</text><text x="261.4" y="710.2" font-size="7.9" style="stroke-width:0.2px">4</text><text x="19.4" y="698.9" font-size="18">10</text><text x="40.7" y="690.8" font-size="7.9" style="stroke-width:0.2px">0</text><text x="19.4" y="650.8" font-size="18">10</text><text x="40.7" y="642.7" font-size="7.9" style="stroke-width:0.2px">1</text><text x="19.4" y="602.7" font-size="18">10</text><text x="40.7" y="594.6" font-size="7.9" style="stroke-width:0.2px">2</text><text x="19.4" y="554.6" font-size="18">10</text><text x="40.7" y="546.5" font-size="7.9" style="stroke-width:0.2px">3</text><text x="19.4" y="506.5" font-size="18">10</text><text x="40.7" y="498.4" font-size="7.9" style="stroke-width:0.2px">4</text><rect x="305.3" y="501" width="197.2" height="196.9" fill="none" stroke="#3d454d" stroke-width="2.4"/><path d="M320.1 698.8v3.2M328.8 698.8v3.2M335 698.8v3.2M339.8 698.8v3.2M343.7 698.8v3.2M347 698.8v3.2M349.8 698.8v3.2M352.3 698.8v3.2M369.4 698.8v3.2M378.1 698.8v3.2M384.3 698.8v3.2M389.1 698.8v3.2M393 698.8v3.2M396.3 698.8v3.2M399.1 698.8v3.2M401.6 698.8v3.2M418.7 698.8v3.2M427.4 698.8v3.2M433.6 698.8v3.2M438.4 698.8v3.2M442.3 698.8v3.2M445.6 698.8v3.2M448.4 698.8v3.2M450.9 698.8v3.2M468 698.8v3.2M476.7 698.8v3.2M482.9 698.8v3.2M487.7 698.8v3.2M491.6 698.8v3.2M494.9 698.8v3.2M497.7 698.8v3.2M500.2 698.8v3.2M305.3 698.8v5M354.6 698.8v5M403.9 698.8v5M453.2 698.8v5M502.5 698.8v5M304.4 683.1h-3M304.4 674.4h-3M304.4 668.3h-3M304.4 663.5h-3M304.4 659.6h-3M304.4 656.3h-3M304.4 653.4h-3M304.4 650.9h-3M304.4 633.9h-3M304.4 625.2h-3M304.4 619h-3M304.4 614.3h-3M304.4 610.4h-3M304.4 607.1h-3M304.4 604.2h-3M304.4 601.7h-3M304.4 584.6h-3M304.4 576h-3M304.4 569.8h-3M304.4 565h-3M304.4 561.1h-3M304.4 557.9h-3M304.4 555h-3M304.4 552.5h-3M304.4 535.4h-3M304.4 526.7h-3M304.4 520.6h-3M304.4 515.8h-3M304.4 511.9h-3M304.4 508.6h-3M304.4 505.8h-3M304.4 503.3h-3M304.4 697.9h-5M304.4 648.7h-5M304.4 599.5h-5M304.4 550.2h-5M304.4 501h-5" stroke="#222" stroke-width="1.1" fill="none"/><text x="295.7" y="718.8" font-size="18">10</text><text x="317" y="710.7" font-size="7.9" style="stroke-width:0.2px">0</text><text x="345" y="718.8" font-size="18">10</text><text x="366.3" y="710.7" font-size="7.9" style="stroke-width:0.2px">1</text><text x="394.3" y="718.8" font-size="18">10</text><text x="415.6" y="710.7" font-size="7.9" style="stroke-width:0.2px">2</text><text x="443.6" y="718.8" font-size="18">10</text><text x="464.9" y="710.7" font-size="7.9" style="stroke-width:0.2px">3</text><text x="492.9" y="718.8" font-size="18">10</text><text x="514.2" y="710.7" font-size="7.9" style="stroke-width:0.2px">4</text><text x="275" y="699.4" font-size="18">10</text><text x="296.3" y="691.3" font-size="7.9" style="stroke-width:0.2px">0</text><text x="275" y="651.3" font-size="18">10</text><text x="296.3" y="643.2" font-size="7.9" style="stroke-width:0.2px">1</text><text x="275" y="603.2" font-size="18">10</text><text x="296.3" y="595.1" font-size="7.9" style="stroke-width:0.2px">2</text><text x="275" y="555.1" font-size="18">10</text><text x="296.3" y="547" font-size="7.9" style="stroke-width:0.2px">3</text><text x="275" y="507" font-size="18">10</text><text x="296.3" y="498.9" font-size="7.9" style="stroke-width:0.2px">4</text><path d="M359.6 11.2V206.9M306.8 157.3H501.7" stroke="#56606a" stroke-width="1.4" fill="none"/><path d="M100.2 255.2V450.5M54 402.7H249.2" stroke="#56606a" stroke-width="1.4" fill="none"/><path d="M365.3 255.9V451M306.2 400.5H501.5" stroke="#56606a" stroke-width="1.4" fill="none"/><path d="M99.9 501.5V696.9M54 649.2H248.7" stroke="#56606a" stroke-width="1.4" fill="none"/><path d="M360.7 502V696.9M306.3 644.6H501.5" stroke="#56606a" stroke-width="1.4" fill="none"/><text x="308.9" y="25.4" font-size="13.9" style="stroke-width:0.35px">21.0%</text><text x="450.5" y="25.7" font-size="13.9" style="stroke-width:0.35px">68.8%</text><text x="463.3" y="200.1" font-size="13.9" style="stroke-width:0.35px">4.0%</text><text x="57.4" y="268.4" font-size="13.9" style="stroke-width:0.35px">14.7%</text><text x="198.2" y="270.4" font-size="13.9" style="stroke-width:0.35px">73.7%</text><text x="211.2" y="443.4" font-size="13.9" style="stroke-width:0.35px">7.5%</text><text x="310.2" y="269.9" font-size="13.9" style="stroke-width:0.35px">64.6%</text><text x="452" y="270.7" font-size="13.9" style="stroke-width:0.35px">22.7%</text><text x="465.9" y="444.9" font-size="13.9" style="stroke-width:0.35px">1.1%</text><text x="58.2" y="515.7" font-size="13.9" style="stroke-width:0.35px">33.1%</text><text x="205.1" y="514.9" font-size="13.9" style="stroke-width:0.35px">55.1%</text><text x="212.3" y="691.1" font-size="13.9" style="stroke-width:0.35px">5.1%</text><text x="309.7" y="517.9" font-size="13.9" style="stroke-width:0.35px">27.2%</text><text x="453.5" y="517.9" font-size="13.9" style="stroke-width:0.35px">42.7%</text><text x="454.3" y="689.5" font-size="13.9" style="stroke-width:0.35px">25.1%</text><text transform="translate(274.2 131.5) rotate(-90)" font-size="21.3">c-kit</text><text transform="translate(20.3 369.8) rotate(-90)" font-size="21.3">c-kit</text><text transform="translate(276.8 372.5) rotate(-90)" font-size="21.3">c-kit</text><text transform="translate(20.9 622) rotate(-90)" font-size="21.3">c-kit</text><text transform="translate(276.5 617.6) rotate(-90)" font-size="21.3">c-kit</text><text x="374.4" y="244.7" font-size="21.4">Sca-1</text><text x="122.4" y="489.9" font-size="21.4">CD27</text><text x="381.0" y="489.9" font-size="21.4">CD4</text><text x="125.8" y="735.8" font-size="21.4">Fc&#947;R</text><text x="373.5" y="735.9" font-size="21.4">AA4.1</text><path d="M53.6 747.5H250.8V946H53.6" fill="none" stroke="#222" stroke-width="1.3"/><path d="M54.5 945.5 55.0 834.0 56.2 832.8 59.9 820.0 62.6 809.0 65.8 796.2 68.1 783.4 70.0 775.2 72.7 769.7 75.4 767.9 77.1 766.5 78.0 767.0 80.0 770.8 82.3 784.6 84.6 798.4 86.9 807.7 89.2 828.4 91.0 849.2 93.7 878.5 96.5 897.7 100.4 916.9 104.2 932.3 108.0 941.9 113.8 944.8 120.0 945.5Z" fill="#c4c4c4" stroke="#111" stroke-width="1.1" stroke-linejoin="round"/><path d="M54.5 775.0 55.8 775.2 57.1 783.4 58.5 801.7 59.4 792.6 60.8 775.2 62.2 763.3 63.1 770.6 64.5 777.0 66.3 770.6 67.2 777.0 69.0 781.6 70.4 788.9 71.8 798.1 73.2 788.9 74.5 799.9 75.9 809.0 76.5 811.0 78.8 814.6 80.6 828.4 82.3 830.7 85.0 840.0 86.0 859.2 88.8 855.4 91.7 866.9 94.6 882.3 98.5 891.9 100.4 890.0 104.2 901.5 108.0 905.4 111.0 903.5 113.8 915.0 116.7 922.7 118.7 915.0 121.5 916.9 125.4 922.7 128.3 920.8 133.0 930.4 136.9 932.3 140.0 935.2 143.2 936.3 148.5 940.5 157.0 941.5 165.4 942.6 173.8 943.7 182.3 944.7 200.0 945.5 222.0 945.6" fill="none" stroke="#111" stroke-width="1.3" stroke-linejoin="round"/><path d="M54.5 900.7 56.1 900.7 59.8 899.5 61.0 884.9 63.4 876.3 65.9 878.8 68.3 872.7 68.9 860.5 70.1 849.5 74.4 844.6 76.8 841.0 79.9 834.9 81.7 830.0 83.4 818.0 86.9 805.4 88.6 792.3 89.4 779.2 90.5 790.8 91.3 802.3 92.5 812.3 94.0 801.5 95.9 792.3 97.1 783.1 99.4 778.5 100.5 775.4 102.5 787.7 104.8 778.5 105.9 789.2 107.1 796.9 107.8 809.2 108.6 818.5 110.2 823.1 112.1 817.0 113.6 827.7 115.0 840.7 117.3 843.0 119.6 843.0 120.8 850.0 125.4 855.7 129.2 860.5 131.5 862.0 134.6 856.0 139.2 850.0 142.3 848.6 146.3 865.4 150.6 878.0 154.8 886.5 159.0 890.8 163.3 895.0 167.5 905.6 171.7 916.2 176.0 924.6 179.1 937.3 182.3 940.5 188.7 942.6 195.0 943.7 199.2 945.3 215.0 945.6" fill="none" stroke="#111" stroke-width="2.5" stroke-dasharray="2.4 1.4" stroke-linejoin="round"/><path d="M54.5 937.0 57.3 937.9 62.2 940.4 65.9 937.3 70.7 934.9 74.4 930.0 79.2 920.8 83.0 913.0 86.9 899.6 89.0 894.6 90.8 893.8 93.7 882.3 95.6 865.0 98.5 849.6 100.2 830.0 102.3 817.7 104.8 807.7 107.1 803.1 108.6 796.9 111.7 796.9 113.2 790.8 114.8 776.2 117.1 784.6 119.0 794.6 120.9 784.6 124.8 783.1 126.5 788.8 128.3 806.1 130.6 810.7 132.3 821.1 134.6 826.9 136.9 840.7 139.2 858.0 140.8 863.0 144.2 882.3 148.5 895.0 151.6 909.8 153.8 922.5 156.9 924.6 161.2 931.0 167.5 937.3 173.8 941.5 182.3 944.7 200.0 945.5 215.0 945.6" fill="none" stroke="#111" stroke-width="3.3" stroke-linejoin="round"/><path d="M53.9 747.5V946" stroke="#111" stroke-width="3.4" fill="none"/><path d="M53 946H222" stroke="#111" stroke-width="2.0" fill="none"/><path d="M52.1 945.5h-5.5M52.1 937.6h-2M52.1 929.7h-2M52.1 921.9h-2M52.1 914h-2M52.1 906.1h-5.5M52.1 898.2h-2M52.1 890.4h-2M52.1 882.5h-2M52.1 874.6h-2M52.1 866.7h-5.5M52.1 858.9h-2M52.1 851h-2M52.1 843.1h-2M52.1 835.2h-2M52.1 827.4h-5.5M52.1 819.5h-2M52.1 811.6h-2M52.1 803.7h-2M52.1 795.9h-2M52.1 788h-5.5M52.1 780.1h-2M52.1 772.2h-2M52.1 764.4h-2M52.1 756.5h-2M52.1 748.6h-5.5M68.4 946.5v3M77.1 946.5v3M83.3 946.5v3M88.1 946.5v3M92 946.5v3M95.3 946.5v3M98.1 946.5v3M100.6 946.5v3M117.7 946.5v3M126.4 946.5v3M132.6 946.5v3M137.4 946.5v3M141.3 946.5v3M144.6 946.5v3M147.4 946.5v3M149.9 946.5v3M167 946.5v3M175.7 946.5v3M181.9 946.5v3M186.7 946.5v3M190.6 946.5v3M193.9 946.5v3M196.7 946.5v3M199.2 946.5v3M216.3 946.5v3M225 946.5v3M231.2 946.5v3M236 946.5v3M239.9 946.5v3M243.2 946.5v3M246 946.5v3M248.5 946.5v3M53.6 946.5v5M102.9 946.5v5M152.2 946.5v5M201.5 946.5v5M250.8 946.5v5" stroke="#222" stroke-width="1.1" fill="none"/><text x="45.8" y="950.7" font-size="14.6" text-anchor="end">0</text><text x="45.8" y="911.3" font-size="14.6" text-anchor="end">20</text><text x="45.8" y="871.9" font-size="14.6" text-anchor="end">40</text><text x="45.8" y="832.6" font-size="14.6" text-anchor="end">60</text><text x="45.8" y="793.2" font-size="14.6" text-anchor="end">80</text><text x="45.8" y="753.8" font-size="14.6" text-anchor="end">100</text><text x="44.8" y="965" font-size="18">10</text><text x="66.1" y="956.9" font-size="7.9" style="stroke-width:0.2px">0</text><text x="94.1" y="965" font-size="18">10</text><text x="115.4" y="956.9" font-size="7.9" style="stroke-width:0.2px">1</text><text x="143.4" y="965" font-size="18">10</text><text x="164.7" y="956.9" font-size="7.9" style="stroke-width:0.2px">2</text><text x="192.7" y="965" font-size="18">10</text><text x="214" y="956.9" font-size="7.9" style="stroke-width:0.2px">3</text><text x="242" y="965" font-size="18">10</text><text x="263.3" y="956.9" font-size="7.9" style="stroke-width:0.2px">4</text><text transform="translate(19.9 902.0) rotate(-90)" font-size="22">Distribution</text><text x="124.6" y="980.6" font-size="21.8">Ki-67</text></svg></body></html>
